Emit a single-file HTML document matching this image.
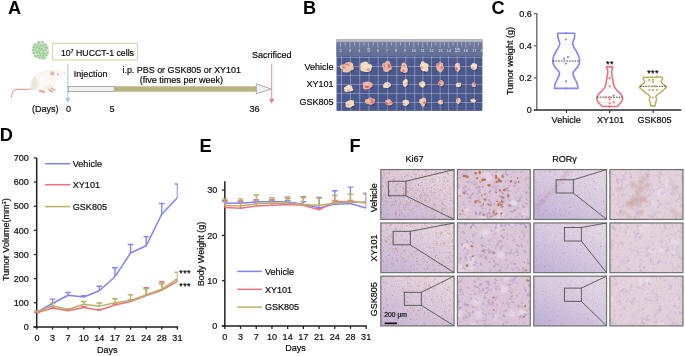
<!DOCTYPE html>
<html><head><meta charset="utf-8"><style>
html,body{margin:0;padding:0;background:#fff;width:685px;height:356px;overflow:hidden}
svg{display:block;will-change:transform;font-family:"Liberation Sans", sans-serif}
</style></head><body>
<svg width="685" height="356" viewBox="0 0 685 356">
<defs><filter id="cbl" x="-20%" y="-20%" width="140%" height="140%"><feGaussianBlur stdDeviation="0.45"/></filter></defs>
<text x="7.96" y="13.6" font-size="18.2" text-anchor="start" font-weight="bold" fill="#000"  >A</text>
<text x="302.9" y="13.6" font-size="18.2" text-anchor="start" font-weight="bold" fill="#000"  >B</text>
<text x="491.45" y="13.7" font-size="18.2" text-anchor="start" font-weight="bold" fill="#000"  >C</text>
<text x="-0.2" y="140.7" font-size="18.2" text-anchor="start" font-weight="bold" fill="#000"  >D</text>
<text x="199.5" y="151.7" font-size="18.2" text-anchor="start" font-weight="bold" fill="#000"  >E</text>
<text x="349.4" y="151.7" font-size="18.2" text-anchor="start" font-weight="bold" fill="#000"  >F</text>
<g filter="url(#cbl)">
<ellipse cx="40.6" cy="50.3" rx="8.4" ry="9.1" fill="#dcefd8"/>
<circle cx="38.7" cy="42.5" r="1.6" fill="#b4d9ac" opacity="0.9"/>
<circle cx="42.4" cy="42.0" r="1.6" fill="#b4d9ac" opacity="0.9"/>
<circle cx="34.9" cy="44.6" r="1.6" fill="#b4d9ac" opacity="0.9"/>
<circle cx="37.9" cy="45.6" r="1.6" fill="#b4d9ac" opacity="0.9"/>
<circle cx="40.7" cy="45.4" r="1.6" fill="#b4d9ac" opacity="0.9"/>
<circle cx="43.2" cy="45.4" r="1.6" fill="#b4d9ac" opacity="0.9"/>
<circle cx="45.5" cy="44.8" r="1.6" fill="#b4d9ac" opacity="0.9"/>
<circle cx="33.8" cy="47.2" r="1.6" fill="#b4d9ac" opacity="0.9"/>
<circle cx="36.3" cy="47.4" r="1.6" fill="#b4d9ac" opacity="0.9"/>
<circle cx="39.0" cy="48.1" r="1.6" fill="#b4d9ac" opacity="0.9"/>
<circle cx="41.6" cy="48.2" r="1.6" fill="#b4d9ac" opacity="0.9"/>
<circle cx="45.1" cy="47.2" r="1.6" fill="#b4d9ac" opacity="0.9"/>
<circle cx="47.2" cy="47.7" r="1.6" fill="#b4d9ac" opacity="0.9"/>
<circle cx="33.0" cy="49.8" r="1.6" fill="#b4d9ac" opacity="0.9"/>
<circle cx="35.3" cy="49.8" r="1.6" fill="#b4d9ac" opacity="0.9"/>
<circle cx="38.0" cy="50.8" r="1.6" fill="#b4d9ac" opacity="0.9"/>
<circle cx="40.2" cy="49.7" r="1.6" fill="#b4d9ac" opacity="0.9"/>
<circle cx="42.8" cy="50.3" r="1.6" fill="#b4d9ac" opacity="0.9"/>
<circle cx="45.4" cy="49.8" r="1.6" fill="#b4d9ac" opacity="0.9"/>
<circle cx="33.8" cy="52.8" r="1.6" fill="#b4d9ac" opacity="0.9"/>
<circle cx="36.7" cy="52.4" r="1.6" fill="#b4d9ac" opacity="0.9"/>
<circle cx="39.3" cy="52.5" r="1.6" fill="#b4d9ac" opacity="0.9"/>
<circle cx="42.1" cy="53.4" r="1.6" fill="#b4d9ac" opacity="0.9"/>
<circle cx="44.1" cy="53.0" r="1.6" fill="#b4d9ac" opacity="0.9"/>
<circle cx="47.5" cy="52.5" r="1.6" fill="#b4d9ac" opacity="0.9"/>
<circle cx="35.4" cy="56.0" r="1.6" fill="#b4d9ac" opacity="0.9"/>
<circle cx="37.6" cy="55.6" r="1.6" fill="#b4d9ac" opacity="0.9"/>
<circle cx="40.1" cy="55.3" r="1.6" fill="#b4d9ac" opacity="0.9"/>
<circle cx="43.5" cy="55.6" r="1.6" fill="#b4d9ac" opacity="0.9"/>
<circle cx="46.3" cy="55.0" r="1.6" fill="#b4d9ac" opacity="0.9"/>
<circle cx="39.3" cy="57.5" r="1.6" fill="#b4d9ac" opacity="0.9"/>
<circle cx="42.3" cy="57.9" r="1.6" fill="#b4d9ac" opacity="0.9"/>
<circle cx="44.6" cy="57.8" r="1.6" fill="#b4d9ac" opacity="0.9"/>
<circle cx="38.9" cy="42.7" r="0.75" fill="#86c07f" opacity="0.85"/>
<circle cx="42.6" cy="42.2" r="0.75" fill="#86c07f" opacity="0.85"/>
<circle cx="35.1" cy="44.8" r="0.75" fill="#86c07f" opacity="0.85"/>
<circle cx="38.1" cy="45.8" r="0.75" fill="#86c07f" opacity="0.85"/>
<circle cx="40.9" cy="45.6" r="0.75" fill="#86c07f" opacity="0.85"/>
<circle cx="43.4" cy="45.6" r="0.75" fill="#86c07f" opacity="0.85"/>
<circle cx="45.7" cy="45.0" r="0.75" fill="#86c07f" opacity="0.85"/>
<circle cx="34.0" cy="47.4" r="0.75" fill="#86c07f" opacity="0.85"/>
<circle cx="36.5" cy="47.6" r="0.75" fill="#86c07f" opacity="0.85"/>
<circle cx="39.2" cy="48.3" r="0.75" fill="#86c07f" opacity="0.85"/>
<circle cx="41.8" cy="48.4" r="0.75" fill="#86c07f" opacity="0.85"/>
<circle cx="45.3" cy="47.4" r="0.75" fill="#86c07f" opacity="0.85"/>
<circle cx="47.4" cy="47.9" r="0.75" fill="#86c07f" opacity="0.85"/>
<circle cx="33.2" cy="50.0" r="0.75" fill="#86c07f" opacity="0.85"/>
<circle cx="35.5" cy="50.0" r="0.75" fill="#86c07f" opacity="0.85"/>
<circle cx="38.2" cy="51.0" r="0.75" fill="#86c07f" opacity="0.85"/>
<circle cx="40.4" cy="49.9" r="0.75" fill="#86c07f" opacity="0.85"/>
<circle cx="43.0" cy="50.5" r="0.75" fill="#86c07f" opacity="0.85"/>
<circle cx="45.6" cy="50.0" r="0.75" fill="#86c07f" opacity="0.85"/>
<circle cx="34.0" cy="53.0" r="0.75" fill="#86c07f" opacity="0.85"/>
<circle cx="36.9" cy="52.6" r="0.75" fill="#86c07f" opacity="0.85"/>
<circle cx="39.5" cy="52.7" r="0.75" fill="#86c07f" opacity="0.85"/>
<circle cx="42.3" cy="53.6" r="0.75" fill="#86c07f" opacity="0.85"/>
<circle cx="44.3" cy="53.2" r="0.75" fill="#86c07f" opacity="0.85"/>
<circle cx="47.7" cy="52.7" r="0.75" fill="#86c07f" opacity="0.85"/>
<circle cx="35.6" cy="56.2" r="0.75" fill="#86c07f" opacity="0.85"/>
<circle cx="37.8" cy="55.8" r="0.75" fill="#86c07f" opacity="0.85"/>
<circle cx="40.3" cy="55.5" r="0.75" fill="#86c07f" opacity="0.85"/>
<circle cx="43.7" cy="55.8" r="0.75" fill="#86c07f" opacity="0.85"/>
<circle cx="46.5" cy="55.2" r="0.75" fill="#86c07f" opacity="0.85"/>
<circle cx="39.5" cy="57.7" r="0.75" fill="#86c07f" opacity="0.85"/>
<circle cx="42.5" cy="58.1" r="0.75" fill="#86c07f" opacity="0.85"/>
<circle cx="44.8" cy="58.0" r="0.75" fill="#86c07f" opacity="0.85"/>
</g>
<rect x="52.6" y="43.3" width="84.8" height="16.6" fill="#fff" stroke="#d9d6a8" stroke-width="1.1"/>
<text x="61" y="56" font-size="9.05" text-anchor="start" font-weight="normal" fill="#0d0d0d" stroke="#0d0d0d" stroke-width="0.2" textLength="73" lengthAdjust="spacingAndGlyphs">10<tspan font-size="5.6" dy="-3.4" dx="-0.2">7</tspan><tspan dy="3.4"> HUCCT-1 cells</tspan></text>
<g>
<path d="M32.5,88.8 C27,89.8 22,89.3 17.2,89.3 C13.8,89.4 11.9,91 11.4,97" fill="none" stroke="#dfa291" stroke-width="1.15" stroke-linecap="round"/>
<path d="M32.00,89.40 C30.53,88.40 31.07,85.80 31.20,84.00 C31.33,82.20 31.87,80.17 32.80,78.60 C33.73,77.03 35.27,75.63 36.80,74.60 C38.33,73.57 40.30,72.97 42.00,72.40 C43.70,71.83 45.50,71.48 47.00,71.20 C48.50,70.92 49.67,70.75 51.00,70.70 C52.33,70.65 53.67,70.73 55.00,70.90 C56.33,71.07 57.80,71.43 59.00,71.70 C60.20,71.97 61.28,72.25 62.20,72.50 C63.12,72.75 64.37,72.85 64.50,73.20 C64.63,73.55 63.75,74.15 63.00,74.60 C62.25,75.05 60.97,75.40 60.00,75.90 C59.03,76.40 57.93,76.88 57.20,77.60 C56.47,78.32 56.03,79.13 55.60,80.20 C55.17,81.27 55.10,82.80 54.60,84.00 C54.10,85.20 53.53,86.53 52.60,87.40 C51.67,88.27 51.10,88.77 49.00,89.20 C46.90,89.63 42.83,89.97 40.00,90.00 C37.17,90.03 33.47,90.40 32.00,89.40 Z" fill="#fbf9f6" stroke="#ece5dc" stroke-width="0.5"/>
<clipPath id="mclip"><path d="M32.00,89.40 C30.53,88.40 31.07,85.80 31.20,84.00 C31.33,82.20 31.87,80.17 32.80,78.60 C33.73,77.03 35.27,75.63 36.80,74.60 C38.33,73.57 40.30,72.97 42.00,72.40 C43.70,71.83 45.50,71.48 47.00,71.20 C48.50,70.92 49.67,70.75 51.00,70.70 C52.33,70.65 53.67,70.73 55.00,70.90 C56.33,71.07 57.80,71.43 59.00,71.70 C60.20,71.97 61.28,72.25 62.20,72.50 C63.12,72.75 64.37,72.85 64.50,73.20 C64.63,73.55 63.75,74.15 63.00,74.60 C62.25,75.05 60.97,75.40 60.00,75.90 C59.03,76.40 57.93,76.88 57.20,77.60 C56.47,78.32 56.03,79.13 55.60,80.20 C55.17,81.27 55.10,82.80 54.60,84.00 C54.10,85.20 53.53,86.53 52.60,87.40 C51.67,88.27 51.10,88.77 49.00,89.20 C46.90,89.63 42.83,89.97 40.00,90.00 C37.17,90.03 33.47,90.40 32.00,89.40 Z"/></clipPath>
<defs><filter id="mbl" x="-50%" y="-50%" width="200%" height="200%"><feGaussianBlur stdDeviation="1.6"/></filter></defs>
<g clip-path="url(#mclip)"><ellipse cx="34" cy="84" rx="4" ry="7" fill="#ebe3da" filter="url(#mbl)"/><ellipse cx="49" cy="88" rx="6" ry="2.5" fill="#efe9e2" filter="url(#mbl)"/></g>
<ellipse cx="52.3" cy="70.9" rx="1.7" ry="1.4" fill="#fdfcfa" stroke="#e9e2da" stroke-width="0.4"/>
<ellipse cx="52.3" cy="73.4" rx="2.0" ry="2.2" fill="#e8b3a6"/>
<circle cx="57.9" cy="74.2" r="0.65" fill="#c84848"/>
<circle cx="64.3" cy="73.1" r="0.6" fill="#eaa6a6"/>
<path d="M39.2,89.6 C41,90.2 43.5,90.6 45.6,91.6 L45,92.7 C42.5,92.5 40.5,92.2 39,91.4 Z" fill="#e0a794"/>
<path d="M48.8,88.6 C50.5,89.5 52,90.5 53.5,91.6 L52.8,92.8 C51,92.3 49.5,91.2 48.4,90.2 Z" fill="#e0a794"/>
<path d="M51.6,87.4 C53,88.1 54.6,89 55.6,90 L55,91 C53.5,90.4 52.3,89.6 51.2,88.7 Z" fill="#e0a794"/>
</g>
<line x1="67.8" y1="63.6" x2="67.8" y2="98.5" stroke="#b4cbee" stroke-width="1.1" />
<polygon points="65.3,97.7 70.3,97.7 67.8,102.7" fill="#a9c3ec"/>
<text x="73.8" y="77.2" font-size="9.05" text-anchor="start" font-weight="normal" fill="#0d0d0d" stroke="#0d0d0d" stroke-width="0.2" >Injection</text>
<text x="181.7" y="73.4" font-size="8.93" text-anchor="middle" font-weight="normal" fill="#0d0d0d" stroke="#0d0d0d" stroke-width="0.2" >i.p. PBS or GSK805 or XY101</text>
<text x="181.4" y="82.6" font-size="9.05" text-anchor="middle" font-weight="normal" fill="#0d0d0d" stroke="#0d0d0d" stroke-width="0.2" >(five times per week)</text>
<rect x="68.2" y="86.4" width="46" height="5.2" fill="#efefef" stroke="#9a9a9a" stroke-width="0.8"/>
<rect x="114.2" y="86.3" width="142.3" height="5.4" fill="#b8b37e"/>
<polygon points="256.3,86.4 256.3,83.9 271.2,89 256.3,93.6 256.3,91.6" fill="#f1f1f1" stroke="#9a9a9a" stroke-width="0.8"/>
<line x1="271.7" y1="64" x2="271.7" y2="99.5" stroke="#ec98a4" stroke-width="1.1" />
<polygon points="269.2,98.8 274.2,98.8 271.7,103.7" fill="#e2798a"/>
<text x="271.8" y="58.3" font-size="9.05" text-anchor="middle" font-weight="normal" fill="#0d0d0d" stroke="#0d0d0d" stroke-width="0.2" >Sacrificed</text>
<text x="32" y="111.5" font-size="9.05" text-anchor="start" font-weight="normal" fill="#0d0d0d" stroke="#0d0d0d" stroke-width="0.2" >(Days)</text>
<text x="68.4" y="111.5" font-size="9.05" text-anchor="middle" font-weight="normal" fill="#0d0d0d" stroke="#0d0d0d" stroke-width="0.2" >0</text>
<text x="112" y="111.5" font-size="9.05" text-anchor="middle" font-weight="normal" fill="#0d0d0d" stroke="#0d0d0d" stroke-width="0.2" >5</text>
<text x="254.6" y="111.5" font-size="9.05" text-anchor="middle" font-weight="normal" fill="#0d0d0d" stroke="#0d0d0d" stroke-width="0.2" >36</text>
<clipPath id="cpB"><rect x="336.3" y="39.2" width="146.3" height="71.7"/></clipPath>
<g clip-path="url(#cpB)">
<defs><linearGradient id="pbg" x1="0" y1="0" x2="1" y2="1"><stop offset="0" stop-color="#4d5a8f"/><stop offset="1" stop-color="#4a578c"/></linearGradient></defs>
<rect x="336.3" y="39.2" width="146.3" height="71.7" fill="url(#pbg)"/>
<defs><linearGradient id="rtop" x1="0" y1="0" x2="0" y2="1"><stop offset="0" stop-color="#c2c5cf"/><stop offset="1" stop-color="#a3a9ba"/></linearGradient></defs>
<rect x="336.3" y="39.2" width="146.3" height="3.4" fill="url(#rtop)"/>
<defs><linearGradient id="rbody" x1="0" y1="0" x2="0" y2="1"><stop offset="0" stop-color="#707b9c"/><stop offset="1" stop-color="#616e96"/></linearGradient></defs>
<rect x="336.3" y="42.5" width="146.3" height="13.9" fill="url(#rbody)"/>
<line x1="330.98749999999995" y1="42.5" x2="330.98749999999995" y2="47.400000000000006" stroke="#b8bfd2" stroke-width="0.7" />
<line x1="335.74375" y1="42.5" x2="335.74375" y2="45.6" stroke="#d4d8e4" stroke-width="0.6" />
<line x1="340.5" y1="42.5" x2="340.5" y2="47.400000000000006" stroke="#b8bfd2" stroke-width="0.7" />
<line x1="345.21875" y1="42.5" x2="345.21875" y2="45.6" stroke="#d4d8e4" stroke-width="0.6" />
<text x="340.5" y="52.400000000000006" font-size="4.0" text-anchor="middle" font-weight="normal" fill="#dde2ee"  >2</text>
<line x1="349.9375" y1="42.5" x2="349.9375" y2="47.400000000000006" stroke="#b8bfd2" stroke-width="0.7" />
<line x1="354.61875" y1="42.5" x2="354.61875" y2="45.6" stroke="#d4d8e4" stroke-width="0.6" />
<text x="349.9375" y="52.400000000000006" font-size="4.0" text-anchor="middle" font-weight="normal" fill="#dde2ee"  >3</text>
<line x1="359.3" y1="42.5" x2="359.3" y2="47.400000000000006" stroke="#b8bfd2" stroke-width="0.7" />
<line x1="363.94375" y1="42.5" x2="363.94375" y2="45.6" stroke="#d4d8e4" stroke-width="0.6" />
<text x="359.3" y="52.400000000000006" font-size="4.0" text-anchor="middle" font-weight="normal" fill="#dde2ee"  >4</text>
<line x1="368.58750000000003" y1="42.5" x2="368.58750000000003" y2="47.400000000000006" stroke="#b8bfd2" stroke-width="0.7" />
<line x1="373.19375" y1="42.5" x2="373.19375" y2="45.6" stroke="#d4d8e4" stroke-width="0.6" />
<text x="368.58750000000003" y="52.400000000000006" font-size="5.0" text-anchor="middle" font-weight="normal" fill="#dde2ee"  >5</text>
<line x1="377.79999999999995" y1="42.5" x2="377.79999999999995" y2="47.400000000000006" stroke="#b8bfd2" stroke-width="0.7" />
<line x1="382.36875" y1="42.5" x2="382.36875" y2="45.6" stroke="#d4d8e4" stroke-width="0.6" />
<text x="377.79999999999995" y="52.400000000000006" font-size="4.0" text-anchor="middle" font-weight="normal" fill="#dde2ee"  >6</text>
<line x1="386.9375" y1="42.5" x2="386.9375" y2="47.400000000000006" stroke="#b8bfd2" stroke-width="0.7" />
<line x1="391.46875" y1="42.5" x2="391.46875" y2="45.6" stroke="#d4d8e4" stroke-width="0.6" />
<text x="386.9375" y="52.400000000000006" font-size="4.0" text-anchor="middle" font-weight="normal" fill="#dde2ee"  >7</text>
<line x1="396.0" y1="42.5" x2="396.0" y2="47.400000000000006" stroke="#b8bfd2" stroke-width="0.7" />
<line x1="400.49375" y1="42.5" x2="400.49375" y2="45.6" stroke="#d4d8e4" stroke-width="0.6" />
<text x="396.0" y="52.400000000000006" font-size="4.0" text-anchor="middle" font-weight="normal" fill="#dde2ee"  >8</text>
<line x1="404.9875" y1="42.5" x2="404.9875" y2="47.400000000000006" stroke="#b8bfd2" stroke-width="0.7" />
<line x1="409.44375" y1="42.5" x2="409.44375" y2="45.6" stroke="#d4d8e4" stroke-width="0.6" />
<text x="404.9875" y="52.400000000000006" font-size="4.0" text-anchor="middle" font-weight="normal" fill="#dde2ee"  >9</text>
<line x1="413.90000000000003" y1="42.5" x2="413.90000000000003" y2="47.400000000000006" stroke="#b8bfd2" stroke-width="0.7" />
<line x1="418.31875" y1="42.5" x2="418.31875" y2="45.6" stroke="#d4d8e4" stroke-width="0.6" />
<text x="413.90000000000003" y="52.400000000000006" font-size="4.0" text-anchor="middle" font-weight="normal" fill="#dde2ee"  >10</text>
<line x1="422.73749999999995" y1="42.5" x2="422.73749999999995" y2="47.400000000000006" stroke="#b8bfd2" stroke-width="0.7" />
<line x1="427.11875" y1="42.5" x2="427.11875" y2="45.6" stroke="#d4d8e4" stroke-width="0.6" />
<text x="422.73749999999995" y="52.400000000000006" font-size="4.0" text-anchor="middle" font-weight="normal" fill="#dde2ee"  >11</text>
<line x1="431.5" y1="42.5" x2="431.5" y2="47.400000000000006" stroke="#b8bfd2" stroke-width="0.7" />
<line x1="435.84375" y1="42.5" x2="435.84375" y2="45.6" stroke="#d4d8e4" stroke-width="0.6" />
<text x="431.5" y="52.400000000000006" font-size="4.0" text-anchor="middle" font-weight="normal" fill="#dde2ee"  >12</text>
<line x1="440.1875" y1="42.5" x2="440.1875" y2="47.400000000000006" stroke="#b8bfd2" stroke-width="0.7" />
<line x1="444.49375" y1="42.5" x2="444.49375" y2="45.6" stroke="#d4d8e4" stroke-width="0.6" />
<text x="440.1875" y="52.400000000000006" font-size="4.0" text-anchor="middle" font-weight="normal" fill="#dde2ee"  >13</text>
<line x1="448.8" y1="42.5" x2="448.8" y2="47.400000000000006" stroke="#b8bfd2" stroke-width="0.7" />
<line x1="453.06875" y1="42.5" x2="453.06875" y2="45.6" stroke="#d4d8e4" stroke-width="0.6" />
<text x="448.8" y="52.400000000000006" font-size="4.0" text-anchor="middle" font-weight="normal" fill="#dde2ee"  >14</text>
<line x1="457.33750000000003" y1="42.5" x2="457.33750000000003" y2="47.400000000000006" stroke="#b8bfd2" stroke-width="0.7" />
<line x1="461.56875" y1="42.5" x2="461.56875" y2="45.6" stroke="#d4d8e4" stroke-width="0.6" />
<text x="457.33750000000003" y="52.400000000000006" font-size="5.0" text-anchor="middle" font-weight="normal" fill="#dde2ee"  >15</text>
<line x1="465.79999999999995" y1="42.5" x2="465.79999999999995" y2="47.400000000000006" stroke="#b8bfd2" stroke-width="0.7" />
<line x1="469.99375" y1="42.5" x2="469.99375" y2="45.6" stroke="#d4d8e4" stroke-width="0.6" />
<text x="465.79999999999995" y="52.400000000000006" font-size="4.0" text-anchor="middle" font-weight="normal" fill="#dde2ee"  >16</text>
<line x1="474.1875" y1="42.5" x2="474.1875" y2="47.400000000000006" stroke="#b8bfd2" stroke-width="0.7" />
<line x1="478.34375" y1="42.5" x2="478.34375" y2="45.6" stroke="#d4d8e4" stroke-width="0.6" />
<text x="474.1875" y="52.400000000000006" font-size="4.0" text-anchor="middle" font-weight="normal" fill="#dde2ee"  >17</text>
<line x1="482.5" y1="42.5" x2="482.5" y2="47.400000000000006" stroke="#b8bfd2" stroke-width="0.7" />
<line x1="486.61875" y1="42.5" x2="486.61875" y2="45.6" stroke="#d4d8e4" stroke-width="0.6" />
<text x="482.5" y="52.400000000000006" font-size="4.0" text-anchor="middle" font-weight="normal" fill="#dde2ee"  >18</text>
<line x1="341.5" y1="56.400000000000006" x2="341.5" y2="110.9" stroke="#c4cbe0" stroke-width="0.6" opacity="0.8"/>
<line x1="350.6" y1="56.400000000000006" x2="350.6" y2="110.9" stroke="#c4cbe0" stroke-width="0.6" opacity="0.8"/>
<line x1="359.7" y1="56.400000000000006" x2="359.7" y2="110.9" stroke="#c4cbe0" stroke-width="0.6" opacity="0.8"/>
<line x1="369" y1="56.400000000000006" x2="369" y2="110.9" stroke="#c4cbe0" stroke-width="0.6" opacity="0.8"/>
<line x1="378.2" y1="56.400000000000006" x2="378.2" y2="110.9" stroke="#c4cbe0" stroke-width="0.6" opacity="0.8"/>
<line x1="387.3" y1="56.400000000000006" x2="387.3" y2="110.9" stroke="#c4cbe0" stroke-width="0.6" opacity="0.8"/>
<line x1="396.7" y1="56.400000000000006" x2="396.7" y2="110.9" stroke="#c4cbe0" stroke-width="0.6" opacity="0.8"/>
<line x1="405.7" y1="56.400000000000006" x2="405.7" y2="110.9" stroke="#c4cbe0" stroke-width="0.6" opacity="0.8"/>
<line x1="414.7" y1="56.400000000000006" x2="414.7" y2="110.9" stroke="#c4cbe0" stroke-width="0.6" opacity="0.8"/>
<line x1="422.9" y1="56.400000000000006" x2="422.9" y2="110.9" stroke="#c4cbe0" stroke-width="0.6" opacity="0.8"/>
<line x1="431.6" y1="56.400000000000006" x2="431.6" y2="110.9" stroke="#c4cbe0" stroke-width="0.6" opacity="0.8"/>
<line x1="440.2" y1="56.400000000000006" x2="440.2" y2="110.9" stroke="#c4cbe0" stroke-width="0.6" opacity="0.8"/>
<line x1="448.6" y1="56.400000000000006" x2="448.6" y2="110.9" stroke="#c4cbe0" stroke-width="0.6" opacity="0.8"/>
<line x1="457.2" y1="56.400000000000006" x2="457.2" y2="110.9" stroke="#c4cbe0" stroke-width="0.6" opacity="0.8"/>
<line x1="465.9" y1="56.400000000000006" x2="465.9" y2="110.9" stroke="#c4cbe0" stroke-width="0.6" opacity="0.8"/>
<line x1="474.3" y1="56.400000000000006" x2="474.3" y2="110.9" stroke="#c4cbe0" stroke-width="0.6" opacity="0.8"/>
<line x1="336.3" y1="57.4" x2="482.6" y2="57.4" stroke="#c4cbe0" stroke-width="0.6" opacity="0.8"/>
<line x1="336.3" y1="66.5" x2="482.6" y2="66.5" stroke="#c4cbe0" stroke-width="0.6" opacity="0.8"/>
<line x1="336.3" y1="75.7" x2="482.6" y2="75.7" stroke="#c4cbe0" stroke-width="0.6" opacity="0.8"/>
<line x1="336.3" y1="84.7" x2="482.6" y2="84.7" stroke="#c4cbe0" stroke-width="0.6" opacity="0.8"/>
<line x1="336.3" y1="93.6" x2="482.6" y2="93.6" stroke="#c4cbe0" stroke-width="0.6" opacity="0.8"/>
<line x1="336.3" y1="102.6" x2="482.6" y2="102.6" stroke="#c4cbe0" stroke-width="0.6" opacity="0.8"/>
</g>
<defs><filter id="tbl" x="-30%" y="-30%" width="160%" height="160%"><feGaussianBlur stdDeviation="0.45"/></filter></defs>
<g filter="url(#tbl)">
<ellipse cx="348.29999999999995" cy="68.5" rx="6.2" ry="5.0" fill="#26305a" opacity="0.4"/>
<ellipse cx="347.4" cy="67.5" rx="5.0" ry="4.0" fill="#f0c6b0"/>
<ellipse cx="350.9" cy="68.0" rx="2.9" ry="2.3" fill="#f0c6b0"/>
<ellipse cx="347.6" cy="70.5" rx="2.5" ry="2.0" fill="#f0c6b0"/>
<ellipse cx="345.3" cy="70.3" rx="2.8" ry="2.2" fill="#f0c6b0"/>
<ellipse cx="343.0" cy="66.8" rx="3.1" ry="2.4" fill="#f0c6b0"/>
<ellipse cx="347.9" cy="64.8" rx="3.3" ry="2.6" fill="#f0c6b0"/>
<ellipse cx="349.6" cy="65.1" rx="3.6" ry="2.9" fill="#f0c6b0"/>
<ellipse cx="344.3" cy="67.1" rx="2.3" ry="1.5" fill="#dc5a58" opacity="0.65"/>
<ellipse cx="347.2" cy="65.0" rx="2.3" ry="1.5" fill="#dc5a58" opacity="0.65"/>
<ellipse cx="346.4" cy="66.4" rx="2.1" ry="1.4" fill="#fbf0e0" opacity="0.55"/>
<ellipse cx="367.2" cy="68.6" rx="5.6" ry="5.3" fill="#26305a" opacity="0.4"/>
<ellipse cx="366.3" cy="67.6" rx="4.5" ry="4.3" fill="#f2dcc2"/>
<ellipse cx="368.3" cy="68.7" rx="3.1" ry="3.0" fill="#f2dcc2"/>
<ellipse cx="366.4" cy="70.2" rx="2.2" ry="2.1" fill="#f2dcc2"/>
<ellipse cx="363.4" cy="68.6" rx="3.1" ry="2.9" fill="#f2dcc2"/>
<ellipse cx="363.6" cy="65.4" rx="3.3" ry="3.2" fill="#f2dcc2"/>
<ellipse cx="365.5" cy="64.2" rx="2.8" ry="2.6" fill="#f2dcc2"/>
<ellipse cx="370.0" cy="66.5" rx="2.3" ry="2.2" fill="#f2dcc2"/>
<ellipse cx="368.2" cy="69.6" rx="2.1" ry="1.7" fill="#dc5a58" opacity="0.4"/>
<ellipse cx="365.4" cy="66.4" rx="1.9" ry="1.5" fill="#fbf0e0" opacity="0.55"/>
<ellipse cx="387.9" cy="68.2" rx="4.2" ry="5.1" fill="#26305a" opacity="0.4"/>
<ellipse cx="387.0" cy="67.2" rx="3.3" ry="4.1" fill="#ebb2a2"/>
<ellipse cx="389.9" cy="67.8" rx="2.0" ry="2.5" fill="#ebb2a2"/>
<ellipse cx="387.0" cy="69.7" rx="2.1" ry="2.6" fill="#ebb2a2"/>
<ellipse cx="385.4" cy="69.0" rx="2.2" ry="2.7" fill="#ebb2a2"/>
<ellipse cx="384.4" cy="65.6" rx="2.2" ry="2.8" fill="#ebb2a2"/>
<ellipse cx="387.6" cy="63.8" rx="2.5" ry="3.1" fill="#ebb2a2"/>
<ellipse cx="388.6" cy="66.1" rx="2.4" ry="3.0" fill="#ebb2a2"/>
<ellipse cx="389.0" cy="66.6" rx="1.5" ry="1.6" fill="#dc5a58" opacity="0.65"/>
<ellipse cx="388.7" cy="65.7" rx="1.5" ry="1.6" fill="#dc5a58" opacity="0.65"/>
<ellipse cx="385.1" cy="66.1" rx="1.5" ry="1.6" fill="#dc5a58" opacity="0.65"/>
<ellipse cx="386.3" cy="66.1" rx="1.4" ry="1.4" fill="#fbf0e0" opacity="0.55"/>
<ellipse cx="405.2" cy="69.6" rx="3.7" ry="5.0" fill="#26305a" opacity="0.4"/>
<ellipse cx="404.3" cy="68.6" rx="2.9" ry="4.0" fill="#f0c6b0"/>
<ellipse cx="405.7" cy="69.8" rx="2.1" ry="2.8" fill="#f0c6b0"/>
<ellipse cx="404.4" cy="71.0" rx="1.5" ry="2.0" fill="#f0c6b0"/>
<ellipse cx="401.8" cy="69.9" rx="1.5" ry="2.0" fill="#f0c6b0"/>
<ellipse cx="402.8" cy="67.0" rx="1.5" ry="2.1" fill="#f0c6b0"/>
<ellipse cx="403.6" cy="65.5" rx="2.1" ry="2.9" fill="#f0c6b0"/>
<ellipse cx="405.4" cy="66.1" rx="1.5" ry="2.0" fill="#f0c6b0"/>
<ellipse cx="403.9" cy="66.2" rx="1.3" ry="1.5" fill="#dc5a58" opacity="0.65"/>
<ellipse cx="403.4" cy="70.8" rx="1.3" ry="1.5" fill="#dc5a58" opacity="0.65"/>
<ellipse cx="403.7" cy="67.5" rx="1.2" ry="1.4" fill="#fbf0e0" opacity="0.55"/>
<ellipse cx="424.9" cy="67.8" rx="4.2" ry="5.2" fill="#26305a" opacity="0.4"/>
<ellipse cx="424.0" cy="66.8" rx="3.3" ry="4.2" fill="#f2dcc2"/>
<ellipse cx="426.3" cy="69.2" rx="2.1" ry="2.6" fill="#f2dcc2"/>
<ellipse cx="423.4" cy="69.3" rx="1.7" ry="2.1" fill="#f2dcc2"/>
<ellipse cx="422.6" cy="67.9" rx="1.8" ry="2.3" fill="#f2dcc2"/>
<ellipse cx="421.7" cy="65.8" rx="1.8" ry="2.2" fill="#f2dcc2"/>
<ellipse cx="422.7" cy="63.7" rx="1.9" ry="2.4" fill="#f2dcc2"/>
<ellipse cx="426.7" cy="65.8" rx="2.0" ry="2.5" fill="#f2dcc2"/>
<ellipse cx="422.0" cy="67.4" rx="1.5" ry="1.6" fill="#dc5a58" opacity="0.4"/>
<ellipse cx="423.3" cy="65.6" rx="1.4" ry="1.5" fill="#fbf0e0" opacity="0.55"/>
<ellipse cx="441.09999999999997" cy="67.6" rx="3.7" ry="5.0" fill="#26305a" opacity="0.4"/>
<ellipse cx="440.2" cy="66.6" rx="2.9" ry="4.0" fill="#ebb2a2"/>
<ellipse cx="442.2" cy="67.8" rx="1.9" ry="2.6" fill="#ebb2a2"/>
<ellipse cx="440.4" cy="69.6" rx="2.2" ry="3.0" fill="#ebb2a2"/>
<ellipse cx="438.6" cy="68.2" rx="2.0" ry="2.8" fill="#ebb2a2"/>
<ellipse cx="438.4" cy="66.1" rx="2.2" ry="3.1" fill="#ebb2a2"/>
<ellipse cx="440.0" cy="63.7" rx="1.4" ry="2.0" fill="#ebb2a2"/>
<ellipse cx="441.8" cy="64.7" rx="1.4" ry="2.0" fill="#ebb2a2"/>
<ellipse cx="438.8" cy="64.9" rx="1.3" ry="1.6" fill="#dc5a58" opacity="0.65"/>
<ellipse cx="439.0" cy="64.7" rx="1.3" ry="1.6" fill="#dc5a58" opacity="0.65"/>
<ellipse cx="441.9" cy="67.5" rx="1.3" ry="1.6" fill="#dc5a58" opacity="0.65"/>
<ellipse cx="439.6" cy="65.5" rx="1.2" ry="1.4" fill="#fbf0e0" opacity="0.55"/>
<ellipse cx="458.29999999999995" cy="68.0" rx="3.0" ry="4.4" fill="#26305a" opacity="0.4"/>
<ellipse cx="457.4" cy="67.0" rx="2.4" ry="3.5" fill="#f0c6b0"/>
<ellipse cx="458.8" cy="68.1" rx="1.6" ry="2.4" fill="#f0c6b0"/>
<ellipse cx="457.8" cy="69.6" rx="1.6" ry="2.4" fill="#f0c6b0"/>
<ellipse cx="456.8" cy="68.5" rx="1.6" ry="2.3" fill="#f0c6b0"/>
<ellipse cx="456.4" cy="65.6" rx="1.5" ry="2.1" fill="#f0c6b0"/>
<ellipse cx="457.3" cy="64.8" rx="1.4" ry="2.0" fill="#f0c6b0"/>
<ellipse cx="458.5" cy="65.4" rx="1.5" ry="2.3" fill="#f0c6b0"/>
<ellipse cx="456.9" cy="69.1" rx="1.1" ry="1.4" fill="#dc5a58" opacity="0.65"/>
<ellipse cx="456.3" cy="68.5" rx="1.1" ry="1.4" fill="#dc5a58" opacity="0.65"/>
<ellipse cx="456.9" cy="66.0" rx="1.0" ry="1.2" fill="#fbf0e0" opacity="0.55"/>
<ellipse cx="474.9" cy="67.8" rx="3.4" ry="3.7" fill="#26305a" opacity="0.4"/>
<ellipse cx="474.0" cy="66.8" rx="2.7" ry="2.9" fill="#f2dcc2"/>
<ellipse cx="475.1" cy="67.6" rx="1.7" ry="1.9" fill="#f2dcc2"/>
<ellipse cx="473.9" cy="68.6" rx="1.5" ry="1.6" fill="#f2dcc2"/>
<ellipse cx="472.6" cy="67.5" rx="1.4" ry="1.6" fill="#f2dcc2"/>
<ellipse cx="472.0" cy="66.0" rx="1.4" ry="1.5" fill="#f2dcc2"/>
<ellipse cx="473.6" cy="65.0" rx="1.9" ry="2.1" fill="#f2dcc2"/>
<ellipse cx="475.7" cy="65.2" rx="1.4" ry="1.6" fill="#f2dcc2"/>
<ellipse cx="473.1" cy="68.4" rx="1.2" ry="1.1" fill="#dc5a58" opacity="0.4"/>
<ellipse cx="473.4" cy="66.0" rx="1.1" ry="1.0" fill="#fbf0e0" opacity="0.55"/>
<ellipse cx="349.5" cy="89.5" rx="4.4" ry="3.4" fill="#26305a" opacity="0.4"/>
<ellipse cx="348.6" cy="88.5" rx="3.5" ry="2.7" fill="#f2dcc2"/>
<ellipse cx="351.2" cy="89.6" rx="2.1" ry="1.6" fill="#f2dcc2"/>
<ellipse cx="349.2" cy="89.9" rx="2.2" ry="1.7" fill="#f2dcc2"/>
<ellipse cx="346.8" cy="90.2" rx="2.5" ry="1.9" fill="#f2dcc2"/>
<ellipse cx="346.5" cy="88.3" rx="2.5" ry="1.9" fill="#f2dcc2"/>
<ellipse cx="348.6" cy="86.3" rx="2.0" ry="1.6" fill="#f2dcc2"/>
<ellipse cx="349.8" cy="87.2" rx="2.5" ry="1.9" fill="#f2dcc2"/>
<ellipse cx="348.3" cy="90.2" rx="1.6" ry="1.0" fill="#dc5a58" opacity="0.4"/>
<ellipse cx="347.9" cy="87.8" rx="1.5" ry="0.9" fill="#fbf0e0" opacity="0.55"/>
<ellipse cx="368.4" cy="86.2" rx="5.0" ry="3.6" fill="#26305a" opacity="0.4"/>
<ellipse cx="367.5" cy="85.2" rx="4.0" ry="2.9" fill="#ebb2a2"/>
<ellipse cx="370.0" cy="85.7" rx="2.4" ry="1.7" fill="#ebb2a2"/>
<ellipse cx="368.2" cy="87.6" rx="2.1" ry="1.5" fill="#ebb2a2"/>
<ellipse cx="365.8" cy="87.4" rx="2.9" ry="2.1" fill="#ebb2a2"/>
<ellipse cx="365.6" cy="83.9" rx="3.0" ry="2.1" fill="#ebb2a2"/>
<ellipse cx="368.0" cy="83.6" rx="2.7" ry="2.0" fill="#ebb2a2"/>
<ellipse cx="370.3" cy="84.4" rx="2.5" ry="1.8" fill="#ebb2a2"/>
<ellipse cx="366.9" cy="86.9" rx="1.8" ry="1.1" fill="#dc5a58" opacity="0.65"/>
<ellipse cx="366.2" cy="86.7" rx="1.8" ry="1.1" fill="#dc5a58" opacity="0.65"/>
<ellipse cx="367.9" cy="87.0" rx="1.8" ry="1.1" fill="#dc5a58" opacity="0.65"/>
<ellipse cx="366.7" cy="84.4" rx="1.6" ry="1.0" fill="#fbf0e0" opacity="0.55"/>
<ellipse cx="388.09999999999997" cy="86.0" rx="3.6" ry="3.4" fill="#26305a" opacity="0.4"/>
<ellipse cx="387.2" cy="85.0" rx="2.9" ry="2.7" fill="#f2dcc2"/>
<ellipse cx="389.3" cy="85.1" rx="1.6" ry="1.5" fill="#f2dcc2"/>
<ellipse cx="387.0" cy="86.3" rx="2.1" ry="2.0" fill="#f2dcc2"/>
<ellipse cx="385.0" cy="86.1" rx="2.1" ry="2.0" fill="#f2dcc2"/>
<ellipse cx="385.6" cy="83.7" rx="1.4" ry="1.3" fill="#f2dcc2"/>
<ellipse cx="387.3" cy="83.5" rx="1.6" ry="1.5" fill="#f2dcc2"/>
<ellipse cx="388.9" cy="84.1" rx="1.7" ry="1.6" fill="#f2dcc2"/>
<ellipse cx="388.9" cy="84.4" rx="1.3" ry="1.0" fill="#dc5a58" opacity="0.4"/>
<ellipse cx="386.6" cy="84.3" rx="1.2" ry="0.9" fill="#fbf0e0" opacity="0.55"/>
<ellipse cx="406.2" cy="84.1" rx="2.8" ry="3.5" fill="#26305a" opacity="0.4"/>
<ellipse cx="405.3" cy="83.1" rx="2.2" ry="2.8" fill="#f2dcc2"/>
<ellipse cx="406.5" cy="83.9" rx="1.2" ry="1.5" fill="#f2dcc2"/>
<ellipse cx="405.1" cy="85.0" rx="1.6" ry="1.9" fill="#f2dcc2"/>
<ellipse cx="404.4" cy="84.2" rx="1.4" ry="1.8" fill="#f2dcc2"/>
<ellipse cx="404.3" cy="82.2" rx="1.6" ry="2.0" fill="#f2dcc2"/>
<ellipse cx="405.7" cy="80.9" rx="1.6" ry="2.0" fill="#f2dcc2"/>
<ellipse cx="406.1" cy="81.3" rx="1.6" ry="2.0" fill="#f2dcc2"/>
<ellipse cx="406.6" cy="83.6" rx="1.0" ry="1.1" fill="#dc5a58" opacity="0.4"/>
<ellipse cx="404.8" cy="82.3" rx="0.9" ry="1.0" fill="#fbf0e0" opacity="0.55"/>
<ellipse cx="423.2" cy="85.2" rx="3.3" ry="3.3" fill="#26305a" opacity="0.4"/>
<ellipse cx="422.3" cy="84.2" rx="2.6" ry="2.6" fill="#f2dcc2"/>
<ellipse cx="423.8" cy="84.5" rx="1.7" ry="1.7" fill="#f2dcc2"/>
<ellipse cx="422.6" cy="86.0" rx="1.8" ry="1.8" fill="#f2dcc2"/>
<ellipse cx="421.6" cy="85.4" rx="1.4" ry="1.4" fill="#f2dcc2"/>
<ellipse cx="421.0" cy="84.1" rx="2.0" ry="2.0" fill="#f2dcc2"/>
<ellipse cx="422.5" cy="82.9" rx="1.6" ry="1.6" fill="#f2dcc2"/>
<ellipse cx="423.4" cy="83.0" rx="1.5" ry="1.5" fill="#f2dcc2"/>
<ellipse cx="421.3" cy="82.9" rx="1.2" ry="1.0" fill="#dc5a58" opacity="0.4"/>
<ellipse cx="421.8" cy="83.5" rx="1.1" ry="0.9" fill="#fbf0e0" opacity="0.55"/>
<ellipse cx="442.0" cy="84.5" rx="2.8" ry="3.2" fill="#26305a" opacity="0.4"/>
<ellipse cx="441.1" cy="83.5" rx="2.2" ry="2.5" fill="#ebb2a2"/>
<ellipse cx="442.4" cy="84.2" rx="1.2" ry="1.4" fill="#ebb2a2"/>
<ellipse cx="441.4" cy="84.8" rx="1.4" ry="1.6" fill="#ebb2a2"/>
<ellipse cx="439.8" cy="84.2" rx="1.1" ry="1.3" fill="#ebb2a2"/>
<ellipse cx="439.7" cy="83.3" rx="1.5" ry="1.7" fill="#ebb2a2"/>
<ellipse cx="441.2" cy="81.9" rx="1.6" ry="1.8" fill="#ebb2a2"/>
<ellipse cx="442.4" cy="82.6" rx="1.3" ry="1.5" fill="#ebb2a2"/>
<ellipse cx="439.7" cy="83.5" rx="1.0" ry="1.0" fill="#dc5a58" opacity="0.65"/>
<ellipse cx="440.7" cy="82.0" rx="1.0" ry="1.0" fill="#dc5a58" opacity="0.65"/>
<ellipse cx="439.9" cy="84.3" rx="1.0" ry="1.0" fill="#dc5a58" opacity="0.65"/>
<ellipse cx="440.6" cy="82.8" rx="0.9" ry="0.9" fill="#fbf0e0" opacity="0.55"/>
<ellipse cx="459.4" cy="86.0" rx="2.8" ry="2.2" fill="#26305a" opacity="0.4"/>
<ellipse cx="458.5" cy="85.0" rx="2.2" ry="1.7" fill="#f2dcc2"/>
<ellipse cx="459.8" cy="85.6" rx="1.2" ry="1.0" fill="#f2dcc2"/>
<ellipse cx="458.7" cy="86.3" rx="1.1" ry="0.9" fill="#f2dcc2"/>
<ellipse cx="457.4" cy="85.8" rx="1.6" ry="1.3" fill="#f2dcc2"/>
<ellipse cx="457.5" cy="84.2" rx="1.6" ry="1.3" fill="#f2dcc2"/>
<ellipse cx="458.6" cy="84.0" rx="1.4" ry="1.1" fill="#f2dcc2"/>
<ellipse cx="459.6" cy="83.8" rx="1.5" ry="1.2" fill="#f2dcc2"/>
<ellipse cx="459.6" cy="84.3" rx="1.0" ry="0.7" fill="#dc5a58" opacity="0.4"/>
<ellipse cx="458.0" cy="84.5" rx="0.9" ry="0.6" fill="#fbf0e0" opacity="0.55"/>
<ellipse cx="474.5" cy="85.6" rx="2.3" ry="2.6" fill="#26305a" opacity="0.4"/>
<ellipse cx="473.6" cy="84.6" rx="1.8" ry="2.1" fill="#ebb2a2"/>
<ellipse cx="474.7" cy="85.5" rx="1.3" ry="1.4" fill="#ebb2a2"/>
<ellipse cx="473.7" cy="85.7" rx="1.2" ry="1.3" fill="#ebb2a2"/>
<ellipse cx="473.1" cy="85.6" rx="1.3" ry="1.4" fill="#ebb2a2"/>
<ellipse cx="472.6" cy="84.6" rx="0.9" ry="1.1" fill="#ebb2a2"/>
<ellipse cx="473.8" cy="83.5" rx="0.9" ry="1.0" fill="#ebb2a2"/>
<ellipse cx="474.5" cy="84.2" rx="1.3" ry="1.5" fill="#ebb2a2"/>
<ellipse cx="473.1" cy="83.5" rx="0.8" ry="0.8" fill="#dc5a58" opacity="0.65"/>
<ellipse cx="474.2" cy="83.5" rx="0.8" ry="0.8" fill="#dc5a58" opacity="0.65"/>
<ellipse cx="474.7" cy="84.2" rx="0.8" ry="0.8" fill="#dc5a58" opacity="0.65"/>
<ellipse cx="473.2" cy="84.0" rx="0.8" ry="0.7" fill="#fbf0e0" opacity="0.55"/>
<ellipse cx="350.9" cy="104.5" rx="4.5" ry="3.7" fill="#26305a" opacity="0.4"/>
<ellipse cx="350.0" cy="103.5" rx="3.6" ry="2.9" fill="#f2dcc2"/>
<ellipse cx="352.6" cy="104.6" rx="1.8" ry="1.5" fill="#f2dcc2"/>
<ellipse cx="349.8" cy="105.5" rx="2.4" ry="2.0" fill="#f2dcc2"/>
<ellipse cx="348.4" cy="105.4" rx="2.7" ry="2.2" fill="#f2dcc2"/>
<ellipse cx="347.8" cy="103.4" rx="2.3" ry="1.9" fill="#f2dcc2"/>
<ellipse cx="350.3" cy="101.8" rx="1.9" ry="1.6" fill="#f2dcc2"/>
<ellipse cx="351.7" cy="101.9" rx="2.5" ry="2.0" fill="#f2dcc2"/>
<ellipse cx="348.3" cy="104.6" rx="1.6" ry="1.1" fill="#dc5a58" opacity="0.4"/>
<ellipse cx="349.3" cy="102.7" rx="1.5" ry="1.0" fill="#fbf0e0" opacity="0.55"/>
<ellipse cx="371.2" cy="102.4" rx="4.7" ry="3.7" fill="#26305a" opacity="0.4"/>
<ellipse cx="370.3" cy="101.4" rx="3.7" ry="2.9" fill="#ebb2a2"/>
<ellipse cx="372.6" cy="102.0" rx="2.2" ry="1.7" fill="#ebb2a2"/>
<ellipse cx="370.7" cy="102.9" rx="2.3" ry="1.8" fill="#ebb2a2"/>
<ellipse cx="367.9" cy="101.9" rx="2.6" ry="2.0" fill="#ebb2a2"/>
<ellipse cx="367.4" cy="101.1" rx="2.6" ry="2.0" fill="#ebb2a2"/>
<ellipse cx="370.3" cy="99.3" rx="2.3" ry="1.8" fill="#ebb2a2"/>
<ellipse cx="373.1" cy="100.1" rx="2.0" ry="1.5" fill="#ebb2a2"/>
<ellipse cx="372.2" cy="102.4" rx="1.7" ry="1.1" fill="#dc5a58" opacity="0.65"/>
<ellipse cx="370.3" cy="99.6" rx="1.7" ry="1.1" fill="#dc5a58" opacity="0.65"/>
<ellipse cx="372.3" cy="100.5" rx="1.7" ry="1.1" fill="#dc5a58" opacity="0.65"/>
<ellipse cx="369.5" cy="100.6" rx="1.6" ry="1.0" fill="#fbf0e0" opacity="0.55"/>
<ellipse cx="389.7" cy="103.6" rx="3.6" ry="3.4" fill="#26305a" opacity="0.4"/>
<ellipse cx="388.8" cy="102.6" rx="2.9" ry="2.7" fill="#ebb2a2"/>
<ellipse cx="390.6" cy="103.3" rx="2.0" ry="1.8" fill="#ebb2a2"/>
<ellipse cx="389.4" cy="104.1" rx="1.5" ry="1.5" fill="#ebb2a2"/>
<ellipse cx="387.3" cy="103.5" rx="1.6" ry="1.5" fill="#ebb2a2"/>
<ellipse cx="386.7" cy="101.4" rx="1.6" ry="1.5" fill="#ebb2a2"/>
<ellipse cx="388.9" cy="100.8" rx="2.1" ry="1.9" fill="#ebb2a2"/>
<ellipse cx="390.2" cy="101.7" rx="1.6" ry="1.5" fill="#ebb2a2"/>
<ellipse cx="390.6" cy="102.8" rx="1.3" ry="1.0" fill="#dc5a58" opacity="0.65"/>
<ellipse cx="387.0" cy="102.8" rx="1.3" ry="1.0" fill="#dc5a58" opacity="0.65"/>
<ellipse cx="387.5" cy="103.7" rx="1.3" ry="1.0" fill="#dc5a58" opacity="0.65"/>
<ellipse cx="388.2" cy="101.9" rx="1.2" ry="0.9" fill="#fbf0e0" opacity="0.55"/>
<ellipse cx="406.59999999999997" cy="104.0" rx="3.2" ry="3.0" fill="#26305a" opacity="0.4"/>
<ellipse cx="405.7" cy="103.0" rx="2.5" ry="2.4" fill="#f2dcc2"/>
<ellipse cx="407.3" cy="103.2" rx="1.5" ry="1.4" fill="#f2dcc2"/>
<ellipse cx="405.6" cy="104.3" rx="1.9" ry="1.8" fill="#f2dcc2"/>
<ellipse cx="404.2" cy="104.1" rx="1.6" ry="1.5" fill="#f2dcc2"/>
<ellipse cx="404.0" cy="101.8" rx="1.6" ry="1.5" fill="#f2dcc2"/>
<ellipse cx="405.4" cy="101.1" rx="1.8" ry="1.7" fill="#f2dcc2"/>
<ellipse cx="407.2" cy="101.7" rx="1.9" ry="1.8" fill="#f2dcc2"/>
<ellipse cx="404.1" cy="103.3" rx="1.2" ry="0.9" fill="#dc5a58" opacity="0.4"/>
<ellipse cx="405.2" cy="102.3" rx="1.1" ry="0.8" fill="#fbf0e0" opacity="0.55"/>
<ellipse cx="424.0" cy="102.6" rx="3.4" ry="4.0" fill="#26305a" opacity="0.4"/>
<ellipse cx="423.1" cy="101.6" rx="2.7" ry="3.2" fill="#f0c6b0"/>
<ellipse cx="424.6" cy="101.9" rx="1.8" ry="2.2" fill="#f0c6b0"/>
<ellipse cx="423.1" cy="104.4" rx="1.9" ry="2.3" fill="#f0c6b0"/>
<ellipse cx="422.1" cy="103.0" rx="1.5" ry="1.8" fill="#f0c6b0"/>
<ellipse cx="421.0" cy="101.2" rx="2.0" ry="2.3" fill="#f0c6b0"/>
<ellipse cx="423.4" cy="99.8" rx="2.0" ry="2.3" fill="#f0c6b0"/>
<ellipse cx="424.3" cy="100.1" rx="1.9" ry="2.2" fill="#f0c6b0"/>
<ellipse cx="424.5" cy="102.6" rx="1.2" ry="1.2" fill="#dc5a58" opacity="0.65"/>
<ellipse cx="424.5" cy="102.7" rx="1.2" ry="1.2" fill="#dc5a58" opacity="0.65"/>
<ellipse cx="422.5" cy="100.7" rx="1.1" ry="1.1" fill="#fbf0e0" opacity="0.55"/>
<ellipse cx="441.7" cy="103.2" rx="2.6" ry="2.4" fill="#26305a" opacity="0.4"/>
<ellipse cx="440.8" cy="102.2" rx="2.1" ry="1.9" fill="#f0c6b0"/>
<ellipse cx="441.8" cy="102.9" rx="1.2" ry="1.1" fill="#f0c6b0"/>
<ellipse cx="440.9" cy="103.7" rx="1.0" ry="0.9" fill="#f0c6b0"/>
<ellipse cx="439.8" cy="103.1" rx="1.3" ry="1.2" fill="#f0c6b0"/>
<ellipse cx="439.3" cy="102.0" rx="1.5" ry="1.4" fill="#f0c6b0"/>
<ellipse cx="440.5" cy="100.9" rx="1.1" ry="1.0" fill="#f0c6b0"/>
<ellipse cx="441.9" cy="101.1" rx="1.1" ry="1.0" fill="#f0c6b0"/>
<ellipse cx="441.8" cy="101.4" rx="0.9" ry="0.7" fill="#dc5a58" opacity="0.65"/>
<ellipse cx="441.9" cy="101.6" rx="0.9" ry="0.7" fill="#dc5a58" opacity="0.65"/>
<ellipse cx="440.4" cy="101.7" rx="0.9" ry="0.7" fill="#fbf0e0" opacity="0.55"/>
<ellipse cx="459.4" cy="101.8" rx="2.0" ry="3.2" fill="#26305a" opacity="0.4"/>
<ellipse cx="458.5" cy="100.8" rx="1.6" ry="2.5" fill="#f0c6b0"/>
<ellipse cx="459.9" cy="101.0" rx="0.9" ry="1.5" fill="#f0c6b0"/>
<ellipse cx="458.4" cy="102.8" rx="0.9" ry="1.4" fill="#f0c6b0"/>
<ellipse cx="457.4" cy="101.7" rx="1.1" ry="1.8" fill="#f0c6b0"/>
<ellipse cx="457.3" cy="100.4" rx="1.2" ry="1.9" fill="#f0c6b0"/>
<ellipse cx="458.5" cy="99.0" rx="0.8" ry="1.3" fill="#f0c6b0"/>
<ellipse cx="459.3" cy="99.8" rx="1.1" ry="1.7" fill="#f0c6b0"/>
<ellipse cx="458.1" cy="99.4" rx="0.7" ry="1.0" fill="#dc5a58" opacity="0.65"/>
<ellipse cx="457.6" cy="100.2" rx="0.7" ry="1.0" fill="#dc5a58" opacity="0.65"/>
<ellipse cx="458.2" cy="100.1" rx="0.7" ry="0.9" fill="#fbf0e0" opacity="0.55"/>
<ellipse cx="474.09999999999997" cy="101.6" rx="2.6" ry="1.9" fill="#26305a" opacity="0.4"/>
<ellipse cx="473.2" cy="100.6" rx="2.1" ry="1.5" fill="#f2dcc2"/>
<ellipse cx="474.7" cy="100.8" rx="1.4" ry="1.0" fill="#f2dcc2"/>
<ellipse cx="473.9" cy="101.8" rx="1.4" ry="1.0" fill="#f2dcc2"/>
<ellipse cx="472.2" cy="101.7" rx="1.1" ry="0.8" fill="#f2dcc2"/>
<ellipse cx="471.6" cy="100.3" rx="1.3" ry="1.0" fill="#f2dcc2"/>
<ellipse cx="473.1" cy="99.5" rx="1.3" ry="0.9" fill="#f2dcc2"/>
<ellipse cx="474.0" cy="100.0" rx="1.0" ry="0.8" fill="#f2dcc2"/>
<ellipse cx="472.9" cy="99.7" rx="0.9" ry="0.6" fill="#dc5a58" opacity="0.4"/>
<ellipse cx="472.8" cy="100.2" rx="0.9" ry="0.5" fill="#fbf0e0" opacity="0.55"/>
</g>
<text x="333.6" y="69.5" font-size="9.05" text-anchor="end" font-weight="normal" fill="#0d0d0d" stroke="#0d0d0d" stroke-width="0.2" >Vehicle</text>
<text x="333.6" y="87.4" font-size="9.05" text-anchor="end" font-weight="normal" fill="#0d0d0d" stroke="#0d0d0d" stroke-width="0.2" >XY101</text>
<text x="333.6" y="104.9" font-size="9.05" text-anchor="end" font-weight="normal" fill="#0d0d0d" stroke="#0d0d0d" stroke-width="0.2" >GSK805</text>
<line x1="536.8" y1="13.2" x2="536.8" y2="110.6" stroke="#6c6c6c" stroke-width="1.4" />
<line x1="533.8" y1="110.0" x2="681.4" y2="110.0" stroke="#2a2a2a" stroke-width="1.4" />
<line x1="533.8" y1="110.0" x2="536.8" y2="110.0" stroke="#555" stroke-width="1.1" />
<text x="531.9" y="113.3" font-size="9.05" text-anchor="end" font-weight="normal" fill="#0d0d0d" stroke="#0d0d0d" stroke-width="0.2" >0</text>
<line x1="533.8" y1="77.9" x2="536.8" y2="77.9" stroke="#555" stroke-width="1.1" />
<text x="531.9" y="81.2" font-size="9.05" text-anchor="end" font-weight="normal" fill="#0d0d0d" stroke="#0d0d0d" stroke-width="0.2" >0.2</text>
<line x1="533.8" y1="45.8" x2="536.8" y2="45.8" stroke="#555" stroke-width="1.1" />
<text x="531.9" y="49.099999999999994" font-size="9.05" text-anchor="end" font-weight="normal" fill="#0d0d0d" stroke="#0d0d0d" stroke-width="0.2" >0.4</text>
<line x1="533.8" y1="13.700000000000003" x2="536.8" y2="13.700000000000003" stroke="#555" stroke-width="1.1" />
<text x="531.9" y="17.000000000000004" font-size="9.05" text-anchor="end" font-weight="normal" fill="#0d0d0d" stroke="#0d0d0d" stroke-width="0.2" >0.6</text>
<line x1="566.5" y1="110.0" x2="566.5" y2="113.0" stroke="#333" stroke-width="1.1" />
<line x1="609.7" y1="110.0" x2="609.7" y2="113.0" stroke="#333" stroke-width="1.1" />
<line x1="653.1" y1="110.0" x2="653.1" y2="113.0" stroke="#333" stroke-width="1.1" />
<text x="566.2" y="123.3" font-size="9.05" text-anchor="middle" font-weight="normal" fill="#0d0d0d" stroke="#0d0d0d" stroke-width="0.2" >Vehicle</text>
<text x="610.5" y="123.3" font-size="9.05" text-anchor="middle" font-weight="normal" fill="#0d0d0d" stroke="#0d0d0d" stroke-width="0.2" >XY101</text>
<text x="654.5" y="123.3" font-size="9.05" text-anchor="middle" font-weight="normal" fill="#0d0d0d" stroke="#0d0d0d" stroke-width="0.2" >GSK805</text>
<text transform="translate(513.2,61) rotate(-90)" font-size="9.05" text-anchor="middle" fill="#0d0d0d" stroke="#0d0d0d" stroke-width="0.2">Tumor weight (g)</text>
<path d="M574.60,33.20 C574.62,33.50 574.73,34.20 574.70,35.00 C574.67,35.80 574.65,37.00 574.40,38.00 C574.15,39.00 573.48,40.00 573.20,41.00 C572.92,42.00 572.60,43.00 572.70,44.00 C572.80,45.00 573.22,45.83 573.80,47.00 C574.38,48.17 575.47,49.67 576.20,51.00 C576.93,52.33 577.70,53.83 578.20,55.00 C578.70,56.17 578.97,57.00 579.20,58.00 C579.43,59.00 579.62,60.00 579.60,61.00 C579.58,62.00 579.45,63.00 579.10,64.00 C578.75,65.00 578.18,66.00 577.50,67.00 C576.82,68.00 575.73,69.08 575.00,70.00 C574.27,70.92 573.40,71.67 573.10,72.50 C572.80,73.33 572.98,74.08 573.20,75.00 C573.42,75.92 573.85,76.83 574.40,78.00 C574.95,79.17 575.97,80.75 576.50,82.00 C577.03,83.25 577.35,84.43 577.60,85.50 C577.85,86.57 577.93,87.92 578.00,88.40 L554.40,88.40 C554.47,87.92 554.55,86.57 554.80,85.50 C555.05,84.43 555.37,83.25 555.90,82.00 C556.43,80.75 557.45,79.17 558.00,78.00 C558.55,76.83 558.98,75.92 559.20,75.00 C559.42,74.08 559.60,73.33 559.30,72.50 C559.00,71.67 558.13,70.92 557.40,70.00 C556.67,69.08 555.58,68.00 554.90,67.00 C554.22,66.00 553.65,65.00 553.30,64.00 C552.95,63.00 552.82,62.00 552.80,61.00 C552.78,60.00 552.97,59.00 553.20,58.00 C553.43,57.00 553.70,56.17 554.20,55.00 C554.70,53.83 555.47,52.33 556.20,51.00 C556.93,49.67 558.02,48.17 558.60,47.00 C559.18,45.83 559.60,45.00 559.70,44.00 C559.80,43.00 559.48,42.00 559.20,41.00 C558.92,40.00 558.25,39.00 558.00,38.00 C557.75,37.00 557.73,35.80 557.70,35.00 C557.67,34.20 557.78,33.50 557.80,33.20 Z" fill="none" stroke="#8282fa" stroke-width="1.6" stroke-linejoin="round"/>
<line x1="552.8" y1="61.0" x2="579.6" y2="61.0" stroke="#111" stroke-width="0.8" stroke-dasharray="1.6,1.1"/>
<line x1="559.5" y1="44.3" x2="572.7" y2="44.3" stroke="#c8c8f8" stroke-width="0.7" stroke-dasharray="1.6,1.1"/>
<line x1="555" y1="87.7" x2="577.5" y2="87.7" stroke="#c8c8f8" stroke-width="0.7" stroke-dasharray="1.6,1.1"/>
<circle cx="566" cy="33.2" r="1.1" fill="#8282fa"/>
<circle cx="566" cy="39.5" r="1.1" fill="#8282fa"/>
<circle cx="564.1" cy="58.6" r="1.1" fill="#8282fa"/>
<circle cx="568" cy="57.1" r="1.1" fill="#8282fa"/>
<circle cx="566" cy="63.6" r="1.1" fill="#8282fa"/>
<circle cx="566" cy="81.4" r="1.1" fill="#8282fa"/>
<circle cx="566" cy="88.5" r="1.1" fill="#8282fa"/>
<path d="M612.70,66.90 C612.65,67.12 612.57,67.52 612.40,68.20 C612.23,68.88 611.78,69.95 611.70,71.00 C611.62,72.05 611.78,73.42 611.90,74.50 C612.02,75.58 612.03,75.53 612.40,77.50 C612.77,79.47 613.28,84.10 614.10,86.30 C614.92,88.50 616.17,89.37 617.30,90.70 C618.43,92.03 620.00,93.05 620.90,94.30 C621.80,95.55 622.65,96.87 622.70,98.20 C622.75,99.53 621.93,101.12 621.20,102.30 C620.47,103.48 618.95,104.60 618.30,105.30 C617.65,106.00 617.47,106.30 617.30,106.50 L602.10,106.50 C601.93,106.30 601.75,106.00 601.10,105.30 C600.45,104.60 598.93,103.48 598.20,102.30 C597.47,101.12 596.65,99.53 596.70,98.20 C596.75,96.87 597.60,95.55 598.50,94.30 C599.40,93.05 600.97,92.03 602.10,90.70 C603.23,89.37 604.48,88.50 605.30,86.30 C606.12,84.10 606.63,79.47 607.00,77.50 C607.37,75.53 607.38,75.58 607.50,74.50 C607.62,73.42 607.78,72.05 607.70,71.00 C607.62,69.95 607.17,68.88 607.00,68.20 C606.83,67.52 606.75,67.12 606.70,66.90 Z" fill="none" stroke="#ee707a" stroke-width="1.6" stroke-linejoin="round"/>
<line x1="597" y1="97.2" x2="622.5" y2="97.2" stroke="#111" stroke-width="0.8" stroke-dasharray="1.6,1.1"/>
<line x1="599" y1="102.6" x2="620" y2="102.6" stroke="#f4c0c4" stroke-width="0.7" stroke-dasharray="1.6,1.1"/>
<circle cx="609.6" cy="78.2" r="1.1" fill="#ee707a"/>
<circle cx="609.6" cy="86.3" r="1.1" fill="#ee707a"/>
<circle cx="605.7" cy="97.4" r="1.1" fill="#ee707a"/>
<circle cx="609.6" cy="97.4" r="1.1" fill="#ee707a"/>
<circle cx="613.7" cy="95.5" r="1.1" fill="#ee707a"/>
<circle cx="609.6" cy="99.6" r="1.1" fill="#ee707a"/>
<circle cx="609.6" cy="103.5" r="1.1" fill="#ee707a"/>
<circle cx="613.7" cy="102.3" r="1.1" fill="#ee707a"/>
<circle cx="609.6" cy="106.6" r="1.1" fill="#ee707a"/>
<text x="609.9" y="67.0" font-size="9" text-anchor="middle" font-weight="normal" fill="#000"  stroke="#000" stroke-width="0.2" letter-spacing="0.35">**</text>
<path d="M662.20,77.30 C662.25,77.58 662.67,78.17 662.50,79.00 C662.33,79.83 660.55,81.00 661.20,82.30 C661.85,83.60 665.95,85.60 666.40,86.80 C666.85,88.00 664.85,88.57 663.90,89.50 C662.95,90.43 662.00,91.35 660.70,92.40 C659.40,93.45 656.80,94.58 656.10,95.80 C655.40,97.02 656.58,98.58 656.50,99.70 C656.42,100.82 655.83,101.47 655.60,102.50 C655.37,103.53 655.18,105.33 655.10,105.90 L650.70,105.90 C650.62,105.33 650.43,103.53 650.20,102.50 C649.97,101.47 649.38,100.82 649.30,99.70 C649.22,98.58 650.40,97.02 649.70,95.80 C649.00,94.58 646.40,93.45 645.10,92.40 C643.80,91.35 642.85,90.43 641.90,89.50 C640.95,88.57 638.95,88.00 639.40,86.80 C639.85,85.60 643.95,83.60 644.60,82.30 C645.25,81.00 643.47,79.83 643.30,79.00 C643.13,78.17 643.55,77.58 643.60,77.30 Z" fill="none" stroke="#b9b166" stroke-width="1.6" stroke-linejoin="round"/>
<line x1="640" y1="86.3" x2="666" y2="86.3" stroke="#111" stroke-width="0.8" stroke-dasharray="1.6,1.1"/>
<line x1="644" y1="80.7" x2="662" y2="80.7" stroke="#e0dcb0" stroke-width="0.7" stroke-dasharray="1.6,1.1"/>
<line x1="643" y1="89.6" x2="663" y2="89.6" stroke="#e0dcb0" stroke-width="0.7" stroke-dasharray="1.6,1.1"/>
<circle cx="656.6" cy="76.6" r="1.1" fill="#b9b166"/>
<circle cx="649.2" cy="79.9" r="1.1" fill="#b9b166"/>
<circle cx="652.9" cy="79.6" r="1.1" fill="#b9b166"/>
<circle cx="652.9" cy="81.8" r="1.1" fill="#b9b166"/>
<circle cx="648.6" cy="86.3" r="1.1" fill="#b9b166"/>
<circle cx="652.9" cy="86.3" r="1.1" fill="#b9b166"/>
<circle cx="655.8" cy="86.3" r="1.1" fill="#b9b166"/>
<circle cx="649.5" cy="90" r="1.1" fill="#b9b166"/>
<circle cx="653" cy="90" r="1.1" fill="#b9b166"/>
<circle cx="657" cy="90" r="1.1" fill="#b9b166"/>
<circle cx="653" cy="97.5" r="1.1" fill="#b9b166"/>
<text x="653" y="76.3" font-size="9" text-anchor="middle" font-weight="normal" fill="#000"  stroke="#000" stroke-width="0.2" letter-spacing="0.35">***</text>
<line x1="36.7" y1="157.9" x2="36.7" y2="327.7" stroke="#1e1e1e" stroke-width="1.5" />
<line x1="33.5" y1="326.9" x2="178.1" y2="326.9" stroke="#1e1e1e" stroke-width="1.5" />
<line x1="33.8" y1="326.9" x2="36.7" y2="326.9" stroke="#222" stroke-width="1.2" />
<text x="28.9" y="330.09999999999997" font-size="9.05" text-anchor="end" font-weight="normal" fill="#0d0d0d" stroke="#0d0d0d" stroke-width="0.2" >0</text>
<line x1="33.8" y1="302.76" x2="36.7" y2="302.76" stroke="#222" stroke-width="1.2" />
<text x="28.9" y="305.96" font-size="9.05" text-anchor="end" font-weight="normal" fill="#0d0d0d" stroke="#0d0d0d" stroke-width="0.2" >100</text>
<line x1="33.8" y1="278.62" x2="36.7" y2="278.62" stroke="#222" stroke-width="1.2" />
<text x="28.9" y="281.82" font-size="9.05" text-anchor="end" font-weight="normal" fill="#0d0d0d" stroke="#0d0d0d" stroke-width="0.2" >200</text>
<line x1="33.8" y1="254.47999999999996" x2="36.7" y2="254.47999999999996" stroke="#222" stroke-width="1.2" />
<text x="28.9" y="257.67999999999995" font-size="9.05" text-anchor="end" font-weight="normal" fill="#0d0d0d" stroke="#0d0d0d" stroke-width="0.2" >300</text>
<line x1="33.8" y1="230.33999999999997" x2="36.7" y2="230.33999999999997" stroke="#222" stroke-width="1.2" />
<text x="28.9" y="233.53999999999996" font-size="9.05" text-anchor="end" font-weight="normal" fill="#0d0d0d" stroke="#0d0d0d" stroke-width="0.2" >400</text>
<line x1="33.8" y1="206.2" x2="36.7" y2="206.2" stroke="#222" stroke-width="1.2" />
<text x="28.9" y="209.39999999999998" font-size="9.05" text-anchor="end" font-weight="normal" fill="#0d0d0d" stroke="#0d0d0d" stroke-width="0.2" >500</text>
<line x1="33.8" y1="182.05999999999997" x2="36.7" y2="182.05999999999997" stroke="#222" stroke-width="1.2" />
<text x="28.9" y="185.25999999999996" font-size="9.05" text-anchor="end" font-weight="normal" fill="#0d0d0d" stroke="#0d0d0d" stroke-width="0.2" >600</text>
<line x1="33.8" y1="157.92" x2="36.7" y2="157.92" stroke="#222" stroke-width="1.2" />
<text x="28.9" y="161.11999999999998" font-size="9.05" text-anchor="end" font-weight="normal" fill="#0d0d0d" stroke="#0d0d0d" stroke-width="0.2" >700</text>
<line x1="36.9" y1="326.9" x2="36.9" y2="329.6" stroke="#222" stroke-width="1.3" />
<text x="36.9" y="340.6" font-size="9.05" text-anchor="middle" font-weight="normal" fill="#0d0d0d" stroke="#0d0d0d" stroke-width="0.2" >0</text>
<line x1="52.51" y1="326.9" x2="52.51" y2="329.6" stroke="#222" stroke-width="1.3" />
<text x="52.51" y="340.6" font-size="9.05" text-anchor="middle" font-weight="normal" fill="#0d0d0d" stroke="#0d0d0d" stroke-width="0.2" >3</text>
<line x1="68.12" y1="326.9" x2="68.12" y2="329.6" stroke="#222" stroke-width="1.3" />
<text x="68.12" y="340.6" font-size="9.05" text-anchor="middle" font-weight="normal" fill="#0d0d0d" stroke="#0d0d0d" stroke-width="0.2" >7</text>
<line x1="83.72999999999999" y1="326.9" x2="83.72999999999999" y2="329.6" stroke="#222" stroke-width="1.3" />
<text x="83.72999999999999" y="340.6" font-size="9.05" text-anchor="middle" font-weight="normal" fill="#0d0d0d" stroke="#0d0d0d" stroke-width="0.2" >10</text>
<line x1="99.34" y1="326.9" x2="99.34" y2="329.6" stroke="#222" stroke-width="1.3" />
<text x="99.34" y="340.6" font-size="9.05" text-anchor="middle" font-weight="normal" fill="#0d0d0d" stroke="#0d0d0d" stroke-width="0.2" >14</text>
<line x1="114.94999999999999" y1="326.9" x2="114.94999999999999" y2="329.6" stroke="#222" stroke-width="1.3" />
<text x="114.94999999999999" y="340.6" font-size="9.05" text-anchor="middle" font-weight="normal" fill="#0d0d0d" stroke="#0d0d0d" stroke-width="0.2" >17</text>
<line x1="130.56" y1="326.9" x2="130.56" y2="329.6" stroke="#222" stroke-width="1.3" />
<text x="130.56" y="340.6" font-size="9.05" text-anchor="middle" font-weight="normal" fill="#0d0d0d" stroke="#0d0d0d" stroke-width="0.2" >21</text>
<line x1="146.17" y1="326.9" x2="146.17" y2="329.6" stroke="#222" stroke-width="1.3" />
<text x="146.17" y="340.6" font-size="9.05" text-anchor="middle" font-weight="normal" fill="#0d0d0d" stroke="#0d0d0d" stroke-width="0.2" >24</text>
<line x1="161.78" y1="326.9" x2="161.78" y2="329.6" stroke="#222" stroke-width="1.3" />
<text x="161.78" y="340.6" font-size="9.05" text-anchor="middle" font-weight="normal" fill="#0d0d0d" stroke="#0d0d0d" stroke-width="0.2" >28</text>
<line x1="177.39000000000001" y1="326.9" x2="177.39000000000001" y2="329.6" stroke="#222" stroke-width="1.3" />
<text x="177.39000000000001" y="340.6" font-size="9.05" text-anchor="middle" font-weight="normal" fill="#0d0d0d" stroke="#0d0d0d" stroke-width="0.2" >31</text>
<text x="107.2" y="352.5" font-size="9.05" text-anchor="middle" font-weight="normal" fill="#0d0d0d" stroke="#0d0d0d" stroke-width="0.2" >Days</text>
<text transform="translate(9.2,239.6) rotate(-90)" font-size="9.05" text-anchor="middle" fill="#0d0d0d" stroke="#0d0d0d" stroke-width="0.2">Tumor Volume(mm<tspan font-size="5.6" dy="-3.2">3</tspan><tspan dy="3.2">)</tspan></text>
<clipPath id="cpD"><rect x="30" y="150" width="147.7" height="180"/></clipPath><g clip-path="url(#cpD)">
<line x1="36.9" y1="311.9332" x2="36.9" y2="311.9332" stroke="#8282fa" stroke-width="1.35" />
<line x1="34.1" y1="311.9332" x2="39.699999999999996" y2="311.9332" stroke="#8282fa" stroke-width="1.45" />
<line x1="52.51" y1="303.4842" x2="52.51" y2="299.13899999999995" stroke="#8282fa" stroke-width="1.35" />
<line x1="49.71" y1="299.13899999999995" x2="55.309999999999995" y2="299.13899999999995" stroke="#8282fa" stroke-width="1.45" />
<line x1="68.12" y1="295.2766" x2="68.12" y2="292.3798" stroke="#8282fa" stroke-width="1.35" />
<line x1="65.32000000000001" y1="292.3798" x2="70.92" y2="292.3798" stroke="#8282fa" stroke-width="1.45" />
<line x1="83.72999999999999" y1="296.96639999999996" x2="83.72999999999999" y2="295.75939999999997" stroke="#8282fa" stroke-width="1.35" />
<line x1="80.92999999999999" y1="295.75939999999997" x2="86.52999999999999" y2="295.75939999999997" stroke="#8282fa" stroke-width="1.45" />
<line x1="99.34" y1="290.69" x2="99.34" y2="286.34479999999996" stroke="#8282fa" stroke-width="1.35" />
<line x1="96.54" y1="286.34479999999996" x2="102.14" y2="286.34479999999996" stroke="#8282fa" stroke-width="1.45" />
<line x1="114.94999999999999" y1="276.68879999999996" x2="114.94999999999999" y2="267.75699999999995" stroke="#8282fa" stroke-width="1.35" />
<line x1="112.14999999999999" y1="267.75699999999995" x2="117.74999999999999" y2="267.75699999999995" stroke="#8282fa" stroke-width="1.45" />
<line x1="130.56" y1="253.03159999999997" x2="130.56" y2="244.58259999999996" stroke="#8282fa" stroke-width="1.35" />
<line x1="127.76" y1="244.58259999999996" x2="133.36" y2="244.58259999999996" stroke="#8282fa" stroke-width="1.45" />
<line x1="146.17" y1="245.78959999999998" x2="146.17" y2="236.61639999999997" stroke="#8282fa" stroke-width="1.35" />
<line x1="143.36999999999998" y1="236.61639999999997" x2="148.97" y2="236.61639999999997" stroke="#8282fa" stroke-width="1.45" />
<line x1="161.78" y1="214.16619999999998" x2="161.78" y2="203.54459999999997" stroke="#8282fa" stroke-width="1.35" />
<line x1="158.98" y1="203.54459999999997" x2="164.58" y2="203.54459999999997" stroke="#8282fa" stroke-width="1.45" />
<line x1="177.39000000000001" y1="197.75099999999998" x2="177.39000000000001" y2="183.99119999999996" stroke="#8282fa" stroke-width="1.35" />
<line x1="174.59" y1="183.99119999999996" x2="180.19000000000003" y2="183.99119999999996" stroke="#8282fa" stroke-width="1.45" />
<polyline points="36.90,311.93 52.51,303.48 68.12,295.28 83.73,296.97 99.34,290.69 114.95,276.69 130.56,253.03 146.17,245.79 161.78,214.17 177.39,197.75" fill="none" stroke="#8282fa" stroke-width="1.5" stroke-linejoin="round"/>
<line x1="36.9" y1="312.8988" x2="36.9" y2="312.416" stroke="#ee707a" stroke-width="1.35" />
<line x1="34.1" y1="312.416" x2="39.699999999999996" y2="312.416" stroke="#ee707a" stroke-width="1.45" />
<line x1="52.51" y1="308.07079999999996" x2="52.51" y2="307.10519999999997" stroke="#ee707a" stroke-width="1.35" />
<line x1="49.71" y1="307.10519999999997" x2="55.309999999999995" y2="307.10519999999997" stroke="#ee707a" stroke-width="1.45" />
<line x1="68.12" y1="310.72619999999995" x2="68.12" y2="310.00199999999995" stroke="#ee707a" stroke-width="1.35" />
<line x1="65.32000000000001" y1="310.00199999999995" x2="70.92" y2="310.00199999999995" stroke="#ee707a" stroke-width="1.45" />
<line x1="83.72999999999999" y1="307.58799999999997" x2="83.72999999999999" y2="306.62239999999997" stroke="#ee707a" stroke-width="1.35" />
<line x1="80.92999999999999" y1="306.62239999999997" x2="86.52999999999999" y2="306.62239999999997" stroke="#ee707a" stroke-width="1.45" />
<line x1="99.34" y1="310.24339999999995" x2="99.34" y2="309.51919999999996" stroke="#ee707a" stroke-width="1.35" />
<line x1="96.54" y1="309.51919999999996" x2="102.14" y2="309.51919999999996" stroke="#ee707a" stroke-width="1.45" />
<line x1="114.94999999999999" y1="304.9326" x2="114.94999999999999" y2="303.967" stroke="#ee707a" stroke-width="1.35" />
<line x1="112.14999999999999" y1="303.967" x2="117.74999999999999" y2="303.967" stroke="#ee707a" stroke-width="1.45" />
<line x1="130.56" y1="301.553" x2="130.56" y2="299.8632" stroke="#ee707a" stroke-width="1.35" />
<line x1="127.76" y1="299.8632" x2="133.36" y2="299.8632" stroke="#ee707a" stroke-width="1.45" />
<line x1="146.17" y1="295.518" x2="146.17" y2="287.79319999999996" stroke="#ee707a" stroke-width="1.35" />
<line x1="143.36999999999998" y1="287.79319999999996" x2="148.97" y2="287.79319999999996" stroke="#ee707a" stroke-width="1.45" />
<line x1="161.78" y1="290.2072" x2="161.78" y2="281.7582" stroke="#ee707a" stroke-width="1.35" />
<line x1="158.98" y1="281.7582" x2="164.58" y2="281.7582" stroke="#ee707a" stroke-width="1.45" />
<line x1="177.39000000000001" y1="281.2754" x2="177.39000000000001" y2="279.827" stroke="#ee707a" stroke-width="1.35" />
<line x1="174.59" y1="279.827" x2="180.19000000000003" y2="279.827" stroke="#ee707a" stroke-width="1.45" />
<polyline points="36.90,312.90 52.51,308.07 68.12,310.73 83.73,307.59 99.34,310.24 114.95,304.93 130.56,301.55 146.17,295.52 161.78,290.21 177.39,281.28" fill="none" stroke="#ee707a" stroke-width="1.5" stroke-linejoin="round"/>
<line x1="36.9" y1="311.9332" x2="36.9" y2="311.209" stroke="#b9b166" stroke-width="1.35" />
<line x1="34.1" y1="311.209" x2="39.699999999999996" y2="311.209" stroke="#b9b166" stroke-width="1.45" />
<line x1="52.51" y1="305.6568" x2="52.51" y2="303.4842" stroke="#b9b166" stroke-width="1.35" />
<line x1="49.71" y1="303.4842" x2="55.309999999999995" y2="303.4842" stroke="#b9b166" stroke-width="1.45" />
<line x1="68.12" y1="309.51919999999996" x2="68.12" y2="308.79499999999996" stroke="#b9b166" stroke-width="1.35" />
<line x1="65.32000000000001" y1="308.79499999999996" x2="70.92" y2="308.79499999999996" stroke="#b9b166" stroke-width="1.45" />
<line x1="83.72999999999999" y1="304.2084" x2="83.72999999999999" y2="301.553" stroke="#b9b166" stroke-width="1.35" />
<line x1="80.92999999999999" y1="301.553" x2="86.52999999999999" y2="301.553" stroke="#b9b166" stroke-width="1.45" />
<line x1="99.34" y1="306.1396" x2="99.34" y2="303.0014" stroke="#b9b166" stroke-width="1.35" />
<line x1="96.54" y1="303.0014" x2="102.14" y2="303.0014" stroke="#b9b166" stroke-width="1.45" />
<line x1="114.94999999999999" y1="302.76" x2="114.94999999999999" y2="298.65619999999996" stroke="#b9b166" stroke-width="1.35" />
<line x1="112.14999999999999" y1="298.65619999999996" x2="117.74999999999999" y2="298.65619999999996" stroke="#b9b166" stroke-width="1.45" />
<line x1="130.56" y1="300.5874" x2="130.56" y2="294.7938" stroke="#b9b166" stroke-width="1.35" />
<line x1="127.76" y1="294.7938" x2="133.36" y2="294.7938" stroke="#b9b166" stroke-width="1.45" />
<line x1="146.17" y1="294.7938" x2="146.17" y2="288.75879999999995" stroke="#b9b166" stroke-width="1.35" />
<line x1="143.36999999999998" y1="288.75879999999995" x2="148.97" y2="288.75879999999995" stroke="#b9b166" stroke-width="1.45" />
<line x1="161.78" y1="289.24159999999995" x2="161.78" y2="283.6894" stroke="#b9b166" stroke-width="1.35" />
<line x1="158.98" y1="283.6894" x2="164.58" y2="283.6894" stroke="#b9b166" stroke-width="1.45" />
<line x1="177.39000000000001" y1="278.8614" x2="177.39000000000001" y2="272.3436" stroke="#b9b166" stroke-width="1.35" />
<line x1="174.59" y1="272.3436" x2="180.19000000000003" y2="272.3436" stroke="#b9b166" stroke-width="1.45" />
<polyline points="36.90,311.93 52.51,305.66 68.12,309.52 83.73,304.21 99.34,306.14 114.95,302.76 130.56,300.59 146.17,294.79 161.78,289.24 177.39,278.86" fill="none" stroke="#b9b166" stroke-width="1.5" stroke-linejoin="round"/>
</g>
<text x="179.3" y="276.2" font-size="9" text-anchor="start" font-weight="normal" fill="#000"  stroke="#000" stroke-width="0.2" letter-spacing="0.35">***</text>
<text x="179.3" y="289.3" font-size="9" text-anchor="start" font-weight="normal" fill="#000"  stroke="#000" stroke-width="0.2" letter-spacing="0.35">***</text>
<line x1="45" y1="163.7" x2="70.3" y2="163.7" stroke="#8282fa" stroke-width="1.5" />
<text x="72.8" y="166.89999999999998" font-size="9.05" text-anchor="start" font-weight="normal" fill="#0d0d0d" stroke="#0d0d0d" stroke-width="0.2" >Vehicle</text>
<line x1="45" y1="184.7" x2="70.3" y2="184.7" stroke="#ee707a" stroke-width="1.5" />
<text x="72.8" y="187.89999999999998" font-size="9.05" text-anchor="start" font-weight="normal" fill="#0d0d0d" stroke="#0d0d0d" stroke-width="0.2" >XY101</text>
<line x1="45" y1="206.6" x2="70.3" y2="206.6" stroke="#b9b166" stroke-width="1.5" />
<text x="72.8" y="209.79999999999998" font-size="9.05" text-anchor="start" font-weight="normal" fill="#0d0d0d" stroke="#0d0d0d" stroke-width="0.2" >GSK805</text>
<line x1="224.85" y1="181.3" x2="224.85" y2="326.7" stroke="#1e1e1e" stroke-width="1.5" />
<line x1="221.8" y1="326.0" x2="366.9" y2="326.0" stroke="#1e1e1e" stroke-width="1.5" />
<line x1="221.9" y1="326.0" x2="224.85" y2="326.0" stroke="#222" stroke-width="1.2" />
<text x="217.3" y="329.2" font-size="9.05" text-anchor="end" font-weight="normal" fill="#0d0d0d" stroke="#0d0d0d" stroke-width="0.2" >0</text>
<line x1="221.9" y1="280.7" x2="224.85" y2="280.7" stroke="#222" stroke-width="1.2" />
<text x="217.3" y="283.9" font-size="9.05" text-anchor="end" font-weight="normal" fill="#0d0d0d" stroke="#0d0d0d" stroke-width="0.2" >10</text>
<line x1="221.9" y1="235.39999999999998" x2="224.85" y2="235.39999999999998" stroke="#222" stroke-width="1.2" />
<text x="217.3" y="238.59999999999997" font-size="9.05" text-anchor="end" font-weight="normal" fill="#0d0d0d" stroke="#0d0d0d" stroke-width="0.2" >20</text>
<line x1="221.9" y1="190.1" x2="224.85" y2="190.1" stroke="#222" stroke-width="1.2" />
<text x="217.3" y="193.29999999999998" font-size="9.05" text-anchor="end" font-weight="normal" fill="#0d0d0d" stroke="#0d0d0d" stroke-width="0.2" >30</text>
<line x1="224.85" y1="326.0" x2="224.85" y2="328.9" stroke="#222" stroke-width="1.3" />
<text x="224.85" y="339.9" font-size="9.05" text-anchor="middle" font-weight="normal" fill="#0d0d0d" stroke="#0d0d0d" stroke-width="0.2" >0</text>
<line x1="240.54999999999998" y1="326.0" x2="240.54999999999998" y2="328.9" stroke="#222" stroke-width="1.3" />
<text x="240.54999999999998" y="339.9" font-size="9.05" text-anchor="middle" font-weight="normal" fill="#0d0d0d" stroke="#0d0d0d" stroke-width="0.2" >3</text>
<line x1="256.25" y1="326.0" x2="256.25" y2="328.9" stroke="#222" stroke-width="1.3" />
<text x="256.25" y="339.9" font-size="9.05" text-anchor="middle" font-weight="normal" fill="#0d0d0d" stroke="#0d0d0d" stroke-width="0.2" >7</text>
<line x1="271.95" y1="326.0" x2="271.95" y2="328.9" stroke="#222" stroke-width="1.3" />
<text x="271.95" y="339.9" font-size="9.05" text-anchor="middle" font-weight="normal" fill="#0d0d0d" stroke="#0d0d0d" stroke-width="0.2" >10</text>
<line x1="287.65" y1="326.0" x2="287.65" y2="328.9" stroke="#222" stroke-width="1.3" />
<text x="287.65" y="339.9" font-size="9.05" text-anchor="middle" font-weight="normal" fill="#0d0d0d" stroke="#0d0d0d" stroke-width="0.2" >14</text>
<line x1="303.35" y1="326.0" x2="303.35" y2="328.9" stroke="#222" stroke-width="1.3" />
<text x="303.35" y="339.9" font-size="9.05" text-anchor="middle" font-weight="normal" fill="#0d0d0d" stroke="#0d0d0d" stroke-width="0.2" >17</text>
<line x1="319.04999999999995" y1="326.0" x2="319.04999999999995" y2="328.9" stroke="#222" stroke-width="1.3" />
<text x="319.04999999999995" y="339.9" font-size="9.05" text-anchor="middle" font-weight="normal" fill="#0d0d0d" stroke="#0d0d0d" stroke-width="0.2" >21</text>
<line x1="334.75" y1="326.0" x2="334.75" y2="328.9" stroke="#222" stroke-width="1.3" />
<text x="334.75" y="339.9" font-size="9.05" text-anchor="middle" font-weight="normal" fill="#0d0d0d" stroke="#0d0d0d" stroke-width="0.2" >24</text>
<line x1="350.45" y1="326.0" x2="350.45" y2="328.9" stroke="#222" stroke-width="1.3" />
<text x="350.45" y="339.9" font-size="9.05" text-anchor="middle" font-weight="normal" fill="#0d0d0d" stroke="#0d0d0d" stroke-width="0.2" >28</text>
<line x1="366.15" y1="326.0" x2="366.15" y2="328.9" stroke="#222" stroke-width="1.3" />
<text x="366.15" y="339.9" font-size="9.05" text-anchor="middle" font-weight="normal" fill="#0d0d0d" stroke="#0d0d0d" stroke-width="0.2" >31</text>
<text x="295.6" y="351.3" font-size="9.05" text-anchor="middle" font-weight="normal" fill="#0d0d0d" stroke="#0d0d0d" stroke-width="0.2" >Days</text>
<text transform="translate(203.6,254) rotate(-90)" font-size="9.05" text-anchor="middle" fill="#0d0d0d" stroke="#0d0d0d" stroke-width="0.2">Body Weight (g)</text>
<clipPath id="cpE"><rect x="218" y="175" width="148.3" height="155"/></clipPath><g clip-path="url(#cpE)">
<line x1="224.85" y1="202.91989999999998" x2="224.85" y2="200.519" stroke="#8282fa" stroke-width="1.35" />
<line x1="222.04999999999998" y1="200.519" x2="227.65" y2="200.519" stroke="#8282fa" stroke-width="1.45" />
<line x1="240.54999999999998" y1="203.23699999999997" x2="240.54999999999998" y2="200.97199999999998" stroke="#8282fa" stroke-width="1.35" />
<line x1="237.74999999999997" y1="200.97199999999998" x2="243.35" y2="200.97199999999998" stroke="#8282fa" stroke-width="1.45" />
<line x1="256.25" y1="202.01389999999998" x2="256.25" y2="200.97199999999998" stroke="#8282fa" stroke-width="1.35" />
<line x1="253.45" y1="200.97199999999998" x2="259.05" y2="200.97199999999998" stroke="#8282fa" stroke-width="1.45" />
<line x1="271.95" y1="201.425" x2="271.95" y2="200.06599999999997" stroke="#8282fa" stroke-width="1.35" />
<line x1="269.15" y1="200.06599999999997" x2="274.75" y2="200.06599999999997" stroke="#8282fa" stroke-width="1.45" />
<line x1="287.65" y1="202.01389999999998" x2="287.65" y2="200.519" stroke="#8282fa" stroke-width="1.35" />
<line x1="284.84999999999997" y1="200.519" x2="290.45" y2="200.519" stroke="#8282fa" stroke-width="1.45" />
<line x1="303.35" y1="204.143" x2="303.35" y2="201.6968" stroke="#8282fa" stroke-width="1.35" />
<line x1="300.55" y1="201.6968" x2="306.15000000000003" y2="201.6968" stroke="#8282fa" stroke-width="1.45" />
<line x1="319.04999999999995" y1="208.08409999999998" x2="319.04999999999995" y2="197.39329999999998" stroke="#8282fa" stroke-width="1.35" />
<line x1="316.24999999999994" y1="197.39329999999998" x2="321.84999999999997" y2="197.39329999999998" stroke="#8282fa" stroke-width="1.45" />
<line x1="334.75" y1="204.143" x2="334.75" y2="190.77949999999998" stroke="#8282fa" stroke-width="1.35" />
<line x1="331.95" y1="190.77949999999998" x2="337.55" y2="190.77949999999998" stroke="#8282fa" stroke-width="1.45" />
<line x1="350.45" y1="203.5088" x2="350.45" y2="187.1102" stroke="#8282fa" stroke-width="1.35" />
<line x1="347.65" y1="187.1102" x2="353.25" y2="187.1102" stroke="#8282fa" stroke-width="1.45" />
<line x1="366.15" y1="208.08409999999998" x2="366.15" y2="193.271" stroke="#8282fa" stroke-width="1.35" />
<line x1="363.34999999999997" y1="193.271" x2="368.95" y2="193.271" stroke="#8282fa" stroke-width="1.45" />
<polyline points="224.85,202.92 240.55,203.24 256.25,202.01 271.95,201.43 287.65,202.01 303.35,204.14 319.05,208.08 334.75,204.14 350.45,203.51 366.15,208.08" fill="none" stroke="#8282fa" stroke-width="1.5" stroke-linejoin="round"/>
<line x1="224.85" y1="207.4952" x2="224.85" y2="201.5156" stroke="#ee707a" stroke-width="1.35" />
<line x1="222.04999999999998" y1="201.5156" x2="227.65" y2="201.5156" stroke="#ee707a" stroke-width="1.45" />
<line x1="240.54999999999998" y1="208.22" x2="240.54999999999998" y2="202.01389999999998" stroke="#ee707a" stroke-width="1.35" />
<line x1="237.74999999999997" y1="202.01389999999998" x2="243.35" y2="202.01389999999998" stroke="#ee707a" stroke-width="1.45" />
<line x1="256.25" y1="205.95499999999998" x2="256.25" y2="199.613" stroke="#ee707a" stroke-width="1.35" />
<line x1="253.45" y1="199.613" x2="259.05" y2="199.613" stroke="#ee707a" stroke-width="1.45" />
<line x1="271.95" y1="205.18489999999997" x2="271.95" y2="199.613" stroke="#ee707a" stroke-width="1.35" />
<line x1="269.15" y1="199.613" x2="274.75" y2="199.613" stroke="#ee707a" stroke-width="1.45" />
<line x1="287.65" y1="204.4148" x2="287.65" y2="198.254" stroke="#ee707a" stroke-width="1.35" />
<line x1="284.84999999999997" y1="198.254" x2="290.45" y2="198.254" stroke="#ee707a" stroke-width="1.45" />
<line x1="303.35" y1="205.18489999999997" x2="303.35" y2="196.7138" stroke="#ee707a" stroke-width="1.35" />
<line x1="300.55" y1="196.7138" x2="306.15000000000003" y2="196.7138" stroke="#ee707a" stroke-width="1.45" />
<line x1="319.04999999999995" y1="209.8961" x2="319.04999999999995" y2="208.673" stroke="#ee707a" stroke-width="1.35" />
<line x1="316.24999999999994" y1="208.673" x2="321.84999999999997" y2="208.673" stroke="#ee707a" stroke-width="1.45" />
<line x1="334.75" y1="201.6968" x2="334.75" y2="200.519" stroke="#ee707a" stroke-width="1.35" />
<line x1="331.95" y1="200.519" x2="337.55" y2="200.519" stroke="#ee707a" stroke-width="1.45" />
<line x1="350.45" y1="201.5156" x2="350.45" y2="200.519" stroke="#ee707a" stroke-width="1.35" />
<line x1="347.65" y1="200.519" x2="353.25" y2="200.519" stroke="#ee707a" stroke-width="1.45" />
<line x1="366.15" y1="202.91989999999998" x2="366.15" y2="201.878" stroke="#ee707a" stroke-width="1.35" />
<line x1="363.34999999999997" y1="201.878" x2="368.95" y2="201.878" stroke="#ee707a" stroke-width="1.45" />
<polyline points="224.85,207.50 240.55,208.22 256.25,205.95 271.95,205.18 287.65,204.41 303.35,205.18 319.05,209.90 334.75,201.70 350.45,201.52 366.15,202.92" fill="none" stroke="#ee707a" stroke-width="1.5" stroke-linejoin="round"/>
<line x1="224.85" y1="205.50199999999998" x2="224.85" y2="198.88819999999998" stroke="#b9b166" stroke-width="1.35" />
<line x1="222.04999999999998" y1="198.88819999999998" x2="227.65" y2="198.88819999999998" stroke="#b9b166" stroke-width="1.45" />
<line x1="240.54999999999998" y1="205.95499999999998" x2="240.54999999999998" y2="198.88819999999998" stroke="#b9b166" stroke-width="1.35" />
<line x1="237.74999999999997" y1="198.88819999999998" x2="243.35" y2="198.88819999999998" stroke="#b9b166" stroke-width="1.45" />
<line x1="256.25" y1="203.7806" x2="256.25" y2="195.083" stroke="#b9b166" stroke-width="1.35" />
<line x1="253.45" y1="195.083" x2="259.05" y2="195.083" stroke="#b9b166" stroke-width="1.45" />
<line x1="271.95" y1="203.23699999999997" x2="271.95" y2="197.801" stroke="#b9b166" stroke-width="1.35" />
<line x1="269.15" y1="197.801" x2="274.75" y2="197.801" stroke="#b9b166" stroke-width="1.45" />
<line x1="287.65" y1="203.23699999999997" x2="287.65" y2="196.89499999999998" stroke="#b9b166" stroke-width="1.35" />
<line x1="284.84999999999997" y1="196.89499999999998" x2="290.45" y2="196.89499999999998" stroke="#b9b166" stroke-width="1.45" />
<line x1="303.35" y1="204.596" x2="303.35" y2="197.89159999999998" stroke="#b9b166" stroke-width="1.35" />
<line x1="300.55" y1="197.89159999999998" x2="306.15000000000003" y2="197.89159999999998" stroke="#b9b166" stroke-width="1.45" />
<line x1="319.04999999999995" y1="205.5926" x2="319.04999999999995" y2="198.254" stroke="#b9b166" stroke-width="1.35" />
<line x1="316.24999999999994" y1="198.254" x2="321.84999999999997" y2="198.254" stroke="#b9b166" stroke-width="1.45" />
<line x1="334.75" y1="202.91989999999998" x2="334.75" y2="195.536" stroke="#b9b166" stroke-width="1.35" />
<line x1="331.95" y1="195.536" x2="337.55" y2="195.536" stroke="#b9b166" stroke-width="1.45" />
<line x1="350.45" y1="202.10449999999997" x2="350.45" y2="194.177" stroke="#b9b166" stroke-width="1.35" />
<line x1="347.65" y1="194.177" x2="353.25" y2="194.177" stroke="#b9b166" stroke-width="1.45" />
<line x1="366.15" y1="202.331" x2="366.15" y2="193.90519999999998" stroke="#b9b166" stroke-width="1.35" />
<line x1="363.34999999999997" y1="193.90519999999998" x2="368.95" y2="193.90519999999998" stroke="#b9b166" stroke-width="1.45" />
<polyline points="224.85,205.50 240.55,205.95 256.25,203.78 271.95,203.24 287.65,203.24 303.35,204.60 319.05,205.59 334.75,202.92 350.45,202.10 366.15,202.33" fill="none" stroke="#b9b166" stroke-width="1.5" stroke-linejoin="round"/>
</g>
<line x1="237.2" y1="271.4" x2="262" y2="271.4" stroke="#8282fa" stroke-width="1.5" />
<text x="264.9" y="274.59999999999997" font-size="9.05" text-anchor="start" font-weight="normal" fill="#0d0d0d" stroke="#0d0d0d" stroke-width="0.2" >Vehicle</text>
<line x1="237.2" y1="289.3" x2="262" y2="289.3" stroke="#ee707a" stroke-width="1.5" />
<text x="264.9" y="292.5" font-size="9.05" text-anchor="start" font-weight="normal" fill="#0d0d0d" stroke="#0d0d0d" stroke-width="0.2" >XY101</text>
<line x1="237.2" y1="307.1" x2="262" y2="307.1" stroke="#b9b166" stroke-width="1.5" />
<text x="264.9" y="310.3" font-size="9.05" text-anchor="start" font-weight="normal" fill="#0d0d0d" stroke="#0d0d0d" stroke-width="0.2" >GSK805</text>
<defs><filter id="bl" x="-10%" y="-10%" width="120%" height="120%"><feGaussianBlur stdDeviation="0.35"/></filter><filter id="bl2" x="-10%" y="-10%" width="120%" height="120%"><feGaussianBlur stdDeviation="0.6"/></filter><filter id="bl3" x="-10%" y="-10%" width="120%" height="120%"><feGaussianBlur stdDeviation="1.2"/></filter><linearGradient id="g1" x1="0.85" y1="0" x2="0.15" y2="1"><stop offset="0" stop-color="#eadbe2"/><stop offset="0.5" stop-color="#dccbdb"/><stop offset="1" stop-color="#c8b8d7"/></linearGradient><linearGradient id="g3" x1="0.85" y1="0" x2="0.1" y2="1"><stop offset="0" stop-color="#e6dbe5"/><stop offset="0.5" stop-color="#d7cbe0"/><stop offset="1" stop-color="#c0b2d7"/></linearGradient><linearGradient id="g2" x1="0" y1="0" x2="0" y2="1"><stop offset="0" stop-color="#dfc9d7"/><stop offset="1" stop-color="#dbc7d8"/></linearGradient><linearGradient id="g4" x1="0" y1="0" x2="0" y2="1"><stop offset="0" stop-color="#e6d5dd"/><stop offset="1" stop-color="#e3d2dc"/></linearGradient><filter id="noise" x="0" y="0" width="100%" height="100%"><feTurbulence type="fractalNoise" baseFrequency="0.9" numOctaves="2" seed="4" result="t"/><feColorMatrix in="t" type="matrix" values="0 0 0 0 0.45  0 0 0 0 0.3  0 0 0 0 0.5  0 0 0 -2.2 1.25"/></filter></defs>
<clipPath id="cp00"><rect x="380.3" y="169.0" width="74.30000000000001" height="51.0"/></clipPath>
<g clip-path="url(#cp00)">
<rect x="380.3" y="169.0" width="74.30000000000001" height="51.0" fill="url(#g1)"/>
<g filter="url(#bl)">
<circle cx="413.9" cy="197.5" r="0.57" fill="#b86a4e" opacity="0.51"/>
<circle cx="418.0" cy="199.0" r="0.31" fill="#b86a4e" opacity="0.53"/>
<circle cx="427.1" cy="209.4" r="0.28" fill="#b86a4e" opacity="0.44"/>
<circle cx="387.0" cy="210.3" r="0.49" fill="#b86a4e" opacity="0.32"/>
<circle cx="453.3" cy="218.2" r="0.48" fill="#b86a4e" opacity="0.58"/>
<circle cx="392.0" cy="169.8" r="0.43" fill="#b86a4e" opacity="0.33"/>
<circle cx="394.4" cy="181.3" r="0.26" fill="#b86a4e" opacity="0.51"/>
<circle cx="413.0" cy="212.0" r="0.43" fill="#b86a4e" opacity="0.59"/>
<circle cx="417.4" cy="202.8" r="0.41" fill="#b86a4e" opacity="0.43"/>
<circle cx="454.4" cy="219.8" r="0.54" fill="#b86a4e" opacity="0.62"/>
<circle cx="403.7" cy="180.7" r="0.35" fill="#b86a4e" opacity="0.33"/>
<circle cx="437.2" cy="189.4" r="0.55" fill="#b86a4e" opacity="0.47"/>
<circle cx="451.5" cy="212.2" r="0.25" fill="#b86a4e" opacity="0.39"/>
<circle cx="447.9" cy="193.0" r="0.59" fill="#b86a4e" opacity="0.48"/>
<circle cx="385.7" cy="201.1" r="0.52" fill="#b86a4e" opacity="0.42"/>
<circle cx="386.8" cy="186.0" r="0.59" fill="#b86a4e" opacity="0.64"/>
<circle cx="389.1" cy="181.6" r="0.29" fill="#b86a4e" opacity="0.33"/>
<circle cx="439.5" cy="178.1" r="0.45" fill="#b86a4e" opacity="0.50"/>
<circle cx="394.5" cy="206.3" r="0.30" fill="#b86a4e" opacity="0.59"/>
<circle cx="389.0" cy="190.5" r="0.32" fill="#b86a4e" opacity="0.42"/>
<circle cx="452.4" cy="210.0" r="0.36" fill="#b86a4e" opacity="0.70"/>
<circle cx="396.0" cy="189.1" r="0.55" fill="#b86a4e" opacity="0.59"/>
<circle cx="387.8" cy="219.5" r="0.32" fill="#b86a4e" opacity="0.42"/>
<circle cx="437.7" cy="185.8" r="0.35" fill="#b86a4e" opacity="0.33"/>
<circle cx="387.0" cy="198.7" r="0.34" fill="#b86a4e" opacity="0.57"/>
<circle cx="407.9" cy="192.1" r="0.59" fill="#b86a4e" opacity="0.52"/>
<circle cx="423.0" cy="213.2" r="0.31" fill="#b86a4e" opacity="0.37"/>
<circle cx="447.8" cy="210.7" r="0.34" fill="#b86a4e" opacity="0.39"/>
<circle cx="435.2" cy="217.0" r="0.32" fill="#b86a4e" opacity="0.73"/>
<circle cx="445.8" cy="199.8" r="0.40" fill="#b86a4e" opacity="0.35"/>
<circle cx="383.2" cy="218.1" r="0.33" fill="#b86a4e" opacity="0.62"/>
<circle cx="399.4" cy="211.0" r="0.46" fill="#b86a4e" opacity="0.43"/>
<circle cx="393.3" cy="205.7" r="0.27" fill="#b86a4e" opacity="0.40"/>
<circle cx="421.9" cy="212.5" r="0.47" fill="#b86a4e" opacity="0.43"/>
<circle cx="448.5" cy="179.4" r="0.26" fill="#b86a4e" opacity="0.42"/>
<circle cx="413.4" cy="172.1" r="0.31" fill="#b86a4e" opacity="0.47"/>
<circle cx="422.8" cy="175.7" r="0.38" fill="#b86a4e" opacity="0.70"/>
<circle cx="453.2" cy="202.5" r="0.49" fill="#b86a4e" opacity="0.56"/>
<circle cx="390.7" cy="170.8" r="0.26" fill="#b86a4e" opacity="0.71"/>
<circle cx="432.4" cy="218.1" r="0.26" fill="#b86a4e" opacity="0.59"/>
<circle cx="416.1" cy="206.3" r="0.36" fill="#b86a4e" opacity="0.75"/>
<circle cx="385.9" cy="196.9" r="0.51" fill="#b86a4e" opacity="0.71"/>
<circle cx="435.1" cy="204.9" r="0.53" fill="#b86a4e" opacity="0.71"/>
<circle cx="406.4" cy="203.9" r="0.57" fill="#b86a4e" opacity="0.69"/>
<circle cx="411.3" cy="209.3" r="0.55" fill="#b86a4e" opacity="0.56"/>
<circle cx="426.7" cy="188.5" r="0.45" fill="#b86a4e" opacity="0.57"/>
<circle cx="386.3" cy="201.6" r="0.60" fill="#b86a4e" opacity="0.70"/>
<circle cx="434.4" cy="188.8" r="0.51" fill="#b86a4e" opacity="0.56"/>
<circle cx="413.0" cy="211.8" r="0.28" fill="#b86a4e" opacity="0.64"/>
<circle cx="382.5" cy="199.7" r="0.42" fill="#b86a4e" opacity="0.40"/>
<circle cx="432.2" cy="194.4" r="0.47" fill="#b86a4e" opacity="0.71"/>
<circle cx="399.3" cy="169.6" r="0.36" fill="#b86a4e" opacity="0.61"/>
<circle cx="395.4" cy="177.6" r="0.57" fill="#b86a4e" opacity="0.60"/>
<circle cx="413.1" cy="214.5" r="0.36" fill="#b86a4e" opacity="0.60"/>
<circle cx="395.0" cy="191.0" r="0.53" fill="#b86a4e" opacity="0.71"/>
<circle cx="445.7" cy="188.6" r="0.45" fill="#b86a4e" opacity="0.44"/>
<circle cx="390.4" cy="194.3" r="0.54" fill="#b86a4e" opacity="0.68"/>
<circle cx="433.1" cy="217.5" r="0.35" fill="#b86a4e" opacity="0.38"/>
<circle cx="413.8" cy="183.0" r="0.32" fill="#b86a4e" opacity="0.49"/>
<circle cx="426.8" cy="194.2" r="0.36" fill="#b86a4e" opacity="0.68"/>
<circle cx="453.3" cy="192.1" r="0.28" fill="#b86a4e" opacity="0.31"/>
<circle cx="445.2" cy="171.1" r="0.50" fill="#b86a4e" opacity="0.56"/>
<circle cx="403.3" cy="209.4" r="0.26" fill="#b86a4e" opacity="0.36"/>
<circle cx="414.1" cy="170.3" r="0.54" fill="#b86a4e" opacity="0.41"/>
<circle cx="390.8" cy="171.4" r="0.47" fill="#b86a4e" opacity="0.50"/>
<circle cx="427.1" cy="202.4" r="0.53" fill="#b86a4e" opacity="0.73"/>
<circle cx="431.2" cy="179.2" r="0.42" fill="#b86a4e" opacity="0.38"/>
<circle cx="381.1" cy="193.1" r="0.50" fill="#b86a4e" opacity="0.38"/>
<circle cx="400.5" cy="186.6" r="0.49" fill="#b86a4e" opacity="0.53"/>
<circle cx="426.0" cy="207.6" r="0.39" fill="#b86a4e" opacity="0.66"/>
<circle cx="447.6" cy="173.4" r="0.58" fill="#b86a4e" opacity="0.63"/>
<circle cx="390.0" cy="192.1" r="0.47" fill="#b86a4e" opacity="0.71"/>
<circle cx="408.3" cy="198.0" r="0.56" fill="#b86a4e" opacity="0.66"/>
<circle cx="450.5" cy="192.6" r="0.48" fill="#b86a4e" opacity="0.39"/>
<circle cx="433.9" cy="210.7" r="0.47" fill="#b86a4e" opacity="0.62"/>
<circle cx="396.1" cy="214.9" r="0.59" fill="#b86a4e" opacity="0.74"/>
<circle cx="420.2" cy="209.3" r="0.36" fill="#b86a4e" opacity="0.71"/>
<circle cx="443.9" cy="186.8" r="0.28" fill="#b86a4e" opacity="0.50"/>
<circle cx="421.2" cy="208.2" r="0.42" fill="#b86a4e" opacity="0.31"/>
<circle cx="440.4" cy="172.3" r="0.53" fill="#b86a4e" opacity="0.38"/>
<circle cx="405.2" cy="209.2" r="0.30" fill="#b86a4e" opacity="0.37"/>
<circle cx="418.7" cy="205.9" r="0.54" fill="#b86a4e" opacity="0.61"/>
<circle cx="450.6" cy="194.1" r="0.58" fill="#b86a4e" opacity="0.34"/>
<circle cx="396.8" cy="195.9" r="0.35" fill="#b86a4e" opacity="0.63"/>
<circle cx="427.8" cy="195.7" r="0.55" fill="#b86a4e" opacity="0.55"/>
<circle cx="403.5" cy="188.4" r="0.55" fill="#b86a4e" opacity="0.71"/>
<circle cx="395.8" cy="212.4" r="0.59" fill="#b86a4e" opacity="0.54"/>
<circle cx="422.9" cy="179.2" r="0.44" fill="#b86a4e" opacity="0.53"/>
<circle cx="425.3" cy="170.4" r="0.59" fill="#b86a4e" opacity="0.53"/>
<circle cx="410.1" cy="209.9" r="0.45" fill="#b86a4e" opacity="0.52"/>
<circle cx="431.6" cy="172.4" r="0.44" fill="#b86a4e" opacity="0.49"/>
<circle cx="451.4" cy="216.1" r="0.34" fill="#b86a4e" opacity="0.51"/>
<circle cx="389.7" cy="191.1" r="0.54" fill="#b86a4e" opacity="0.71"/>
<circle cx="415.7" cy="185.2" r="0.32" fill="#b86a4e" opacity="0.58"/>
<circle cx="449.0" cy="175.6" r="0.52" fill="#b86a4e" opacity="0.31"/>
<circle cx="394.7" cy="180.6" r="0.49" fill="#b86a4e" opacity="0.44"/>
<circle cx="406.7" cy="200.6" r="0.29" fill="#b86a4e" opacity="0.63"/>
<circle cx="389.4" cy="195.0" r="0.34" fill="#b86a4e" opacity="0.39"/>
<circle cx="419.7" cy="191.3" r="0.38" fill="#b86a4e" opacity="0.49"/>
<circle cx="419.6" cy="177.1" r="0.32" fill="#b86a4e" opacity="0.58"/>
<circle cx="427.7" cy="196.0" r="0.55" fill="#b86a4e" opacity="0.58"/>
<circle cx="444.0" cy="180.9" r="0.51" fill="#b86a4e" opacity="0.66"/>
<circle cx="447.4" cy="185.1" r="0.36" fill="#b86a4e" opacity="0.72"/>
<circle cx="396.5" cy="219.9" r="0.56" fill="#b86a4e" opacity="0.36"/>
<circle cx="398.1" cy="206.1" r="0.34" fill="#b86a4e" opacity="0.34"/>
<circle cx="442.1" cy="190.5" r="0.53" fill="#b86a4e" opacity="0.36"/>
<circle cx="410.2" cy="203.9" r="0.26" fill="#b86a4e" opacity="0.39"/>
<circle cx="431.0" cy="215.5" r="0.59" fill="#b86a4e" opacity="0.35"/>
<circle cx="417.9" cy="207.7" r="0.43" fill="#b86a4e" opacity="0.61"/>
<circle cx="394.3" cy="172.6" r="0.29" fill="#b86a4e" opacity="0.32"/>
<circle cx="421.3" cy="195.3" r="0.45" fill="#b86a4e" opacity="0.37"/>
<circle cx="394.0" cy="179.4" r="0.54" fill="#b86a4e" opacity="0.75"/>
<circle cx="449.2" cy="173.9" r="0.27" fill="#b86a4e" opacity="0.73"/>
<circle cx="414.6" cy="208.0" r="0.36" fill="#b86a4e" opacity="0.51"/>
<circle cx="418.6" cy="190.9" r="0.46" fill="#b86a4e" opacity="0.31"/>
<circle cx="432.4" cy="212.1" r="0.31" fill="#b86a4e" opacity="0.50"/>
<circle cx="435.2" cy="189.7" r="0.32" fill="#b86a4e" opacity="0.37"/>
<circle cx="418.4" cy="169.8" r="0.56" fill="#b86a4e" opacity="0.66"/>
<circle cx="432.7" cy="212.9" r="0.47" fill="#b86a4e" opacity="0.48"/>
<circle cx="424.9" cy="194.7" r="0.59" fill="#b86a4e" opacity="0.66"/>
<circle cx="399.5" cy="215.5" r="0.51" fill="#b86a4e" opacity="0.65"/>
<circle cx="440.8" cy="189.7" r="0.56" fill="#b86a4e" opacity="0.70"/>
<circle cx="431.9" cy="208.1" r="0.52" fill="#b86a4e" opacity="0.48"/>
<circle cx="434.0" cy="172.6" r="0.37" fill="#b86a4e" opacity="0.51"/>
<circle cx="381.1" cy="187.1" r="0.47" fill="#b86a4e" opacity="0.58"/>
<circle cx="397.5" cy="217.2" r="0.48" fill="#b86a4e" opacity="0.45"/>
<circle cx="429.3" cy="198.0" r="0.44" fill="#b86a4e" opacity="0.48"/>
<circle cx="454.6" cy="201.8" r="0.50" fill="#b86a4e" opacity="0.64"/>
<circle cx="453.1" cy="170.2" r="0.47" fill="#b86a4e" opacity="0.63"/>
<circle cx="399.4" cy="189.5" r="0.27" fill="#b86a4e" opacity="0.39"/>
<circle cx="408.2" cy="174.0" r="0.34" fill="#b86a4e" opacity="0.71"/>
<circle cx="421.2" cy="194.9" r="0.59" fill="#b86a4e" opacity="0.56"/>
<circle cx="454.2" cy="201.5" r="0.53" fill="#b86a4e" opacity="0.33"/>
<circle cx="424.7" cy="207.7" r="0.27" fill="#b86a4e" opacity="0.72"/>
<circle cx="392.2" cy="193.1" r="0.31" fill="#b86a4e" opacity="0.52"/>
<circle cx="425.7" cy="172.0" r="0.58" fill="#b86a4e" opacity="0.49"/>
<circle cx="419.4" cy="199.5" r="0.38" fill="#b86a4e" opacity="0.43"/>
<circle cx="429.0" cy="197.6" r="0.35" fill="#b86a4e" opacity="0.62"/>
<circle cx="402.3" cy="169.7" r="0.34" fill="#b86a4e" opacity="0.32"/>
<circle cx="391.9" cy="207.5" r="0.39" fill="#b86a4e" opacity="0.70"/>
<circle cx="435.9" cy="171.6" r="0.60" fill="#b86a4e" opacity="0.73"/>
<circle cx="385.8" cy="215.2" r="0.40" fill="#b86a4e" opacity="0.51"/>
<circle cx="452.6" cy="181.4" r="0.43" fill="#b86a4e" opacity="0.72"/>
<circle cx="434.0" cy="192.9" r="0.59" fill="#b86a4e" opacity="0.67"/>
<circle cx="425.1" cy="174.9" r="0.47" fill="#b86a4e" opacity="0.51"/>
<circle cx="395.4" cy="171.7" r="0.43" fill="#b86a4e" opacity="0.36"/>
<circle cx="413.2" cy="203.1" r="0.41" fill="#b86a4e" opacity="0.42"/>
<circle cx="423.6" cy="190.4" r="0.52" fill="#b86a4e" opacity="0.54"/>
<circle cx="454.4" cy="217.6" r="0.51" fill="#b86a4e" opacity="0.41"/>
<circle cx="388.8" cy="214.5" r="0.52" fill="#b86a4e" opacity="0.58"/>
<circle cx="407.0" cy="182.8" r="0.49" fill="#b86a4e" opacity="0.55"/>
<circle cx="424.3" cy="201.3" r="0.51" fill="#b86a4e" opacity="0.39"/>
<circle cx="398.8" cy="219.0" r="0.57" fill="#b86a4e" opacity="0.70"/>
<circle cx="383.2" cy="172.1" r="0.34" fill="#b86a4e" opacity="0.49"/>
<circle cx="426.6" cy="174.2" r="0.44" fill="#b86a4e" opacity="0.33"/>
<circle cx="386.7" cy="203.5" r="0.44" fill="#b86a4e" opacity="0.58"/>
<circle cx="408.0" cy="193.4" r="0.32" fill="#b86a4e" opacity="0.45"/>
<circle cx="435.6" cy="211.8" r="0.28" fill="#b86a4e" opacity="0.35"/>
<circle cx="440.4" cy="200.8" r="0.52" fill="#b86a4e" opacity="0.40"/>
<circle cx="411.8" cy="182.2" r="0.53" fill="#b86a4e" opacity="0.47"/>
<circle cx="428.9" cy="219.4" r="0.36" fill="#b86a4e" opacity="0.55"/>
<circle cx="435.7" cy="216.0" r="0.40" fill="#b86a4e" opacity="0.47"/>
<circle cx="387.5" cy="213.6" r="0.28" fill="#b86a4e" opacity="0.34"/>
<circle cx="422.2" cy="193.7" r="0.49" fill="#b86a4e" opacity="0.43"/>
<circle cx="437.9" cy="172.9" r="0.32" fill="#b86a4e" opacity="0.60"/>
<circle cx="386.4" cy="184.5" r="0.50" fill="#b86a4e" opacity="0.61"/>
<circle cx="401.3" cy="176.3" r="0.38" fill="#b86a4e" opacity="0.63"/>
<circle cx="407.5" cy="175.0" r="0.50" fill="#b86a4e" opacity="0.56"/>
<circle cx="448.5" cy="216.9" r="0.57" fill="#b86a4e" opacity="0.50"/>
<circle cx="440.0" cy="184.5" r="0.36" fill="#b86a4e" opacity="0.48"/>
<circle cx="449.7" cy="214.6" r="0.34" fill="#b86a4e" opacity="0.46"/>
<circle cx="407.5" cy="187.5" r="0.39" fill="#b86a4e" opacity="0.47"/>
<circle cx="394.8" cy="197.8" r="0.53" fill="#b86a4e" opacity="0.54"/>
<circle cx="442.4" cy="197.7" r="0.31" fill="#b86a4e" opacity="0.64"/>
<circle cx="445.8" cy="183.4" r="0.26" fill="#b86a4e" opacity="0.53"/>
<circle cx="420.7" cy="197.9" r="0.59" fill="#b86a4e" opacity="0.59"/>
<circle cx="440.1" cy="172.3" r="0.44" fill="#b86a4e" opacity="0.65"/>
<circle cx="386.5" cy="173.2" r="0.51" fill="#b86a4e" opacity="0.70"/>
<circle cx="386.6" cy="201.3" r="0.30" fill="#b86a4e" opacity="0.64"/>
<circle cx="428.5" cy="181.5" r="0.33" fill="#b86a4e" opacity="0.64"/>
<circle cx="419.1" cy="208.0" r="0.39" fill="#b86a4e" opacity="0.45"/>
<circle cx="452.2" cy="203.3" r="0.42" fill="#b86a4e" opacity="0.54"/>
<circle cx="433.9" cy="205.1" r="0.57" fill="#b86a4e" opacity="0.48"/>
<circle cx="441.7" cy="203.0" r="0.55" fill="#b86a4e" opacity="0.66"/>
<circle cx="442.3" cy="214.3" r="0.59" fill="#b86a4e" opacity="0.59"/>
<circle cx="419.2" cy="205.2" r="0.53" fill="#b86a4e" opacity="0.49"/>
<circle cx="411.5" cy="176.5" r="0.51" fill="#b86a4e" opacity="0.75"/>
<circle cx="408.2" cy="177.6" r="0.32" fill="#b86a4e" opacity="0.49"/>
<circle cx="402.0" cy="218.5" r="0.27" fill="#b86a4e" opacity="0.44"/>
<circle cx="388.8" cy="202.0" r="0.52" fill="#b86a4e" opacity="0.38"/>
<circle cx="384.9" cy="192.4" r="0.45" fill="#b86a4e" opacity="0.71"/>
<circle cx="383.0" cy="174.5" r="0.31" fill="#b86a4e" opacity="0.40"/>
<circle cx="397.8" cy="205.6" r="0.46" fill="#b86a4e" opacity="0.40"/>
<circle cx="394.0" cy="183.3" r="0.31" fill="#b86a4e" opacity="0.64"/>
<circle cx="403.5" cy="197.0" r="0.54" fill="#b86a4e" opacity="0.52"/>
<circle cx="399.7" cy="214.3" r="0.57" fill="#b86a4e" opacity="0.45"/>
<circle cx="421.0" cy="217.8" r="0.42" fill="#b86a4e" opacity="0.40"/>
<circle cx="384.0" cy="217.3" r="0.53" fill="#b86a4e" opacity="0.47"/>
<circle cx="419.5" cy="195.3" r="0.35" fill="#b86a4e" opacity="0.75"/>
<circle cx="429.2" cy="181.1" r="0.25" fill="#b86a4e" opacity="0.51"/>
<circle cx="407.9" cy="209.6" r="0.50" fill="#b86a4e" opacity="0.57"/>
<circle cx="392.0" cy="177.0" r="0.36" fill="#b86a4e" opacity="0.42"/>
<circle cx="444.9" cy="195.3" r="0.47" fill="#b86a4e" opacity="0.75"/>
<circle cx="400.1" cy="196.3" r="0.30" fill="#b86a4e" opacity="0.65"/>
<circle cx="380.4" cy="210.9" r="0.55" fill="#b86a4e" opacity="0.67"/>
<circle cx="386.4" cy="182.8" r="0.50" fill="#b86a4e" opacity="0.34"/>
<circle cx="416.0" cy="192.9" r="0.58" fill="#b86a4e" opacity="0.56"/>
<circle cx="444.0" cy="184.5" r="0.53" fill="#b86a4e" opacity="0.49"/>
<circle cx="448.4" cy="173.6" r="0.54" fill="#b86a4e" opacity="0.39"/>
<circle cx="420.7" cy="195.8" r="0.31" fill="#b86a4e" opacity="0.67"/>
<circle cx="403.4" cy="184.8" r="0.28" fill="#b86a4e" opacity="0.44"/>
<circle cx="415.0" cy="205.5" r="0.38" fill="#b86a4e" opacity="0.61"/>
<circle cx="388.2" cy="189.1" r="0.41" fill="#b86a4e" opacity="0.74"/>
<circle cx="441.9" cy="202.4" r="0.25" fill="#b86a4e" opacity="0.47"/>
<circle cx="433.1" cy="181.1" r="0.45" fill="#b86a4e" opacity="0.51"/>
<circle cx="381.1" cy="219.6" r="0.53" fill="#b86a4e" opacity="0.39"/>
<circle cx="426.1" cy="183.8" r="0.38" fill="#b86a4e" opacity="0.54"/>
<circle cx="402.5" cy="186.2" r="0.39" fill="#b86a4e" opacity="0.60"/>
<circle cx="399.4" cy="179.2" r="0.51" fill="#b86a4e" opacity="0.45"/>
<circle cx="450.5" cy="197.7" r="0.50" fill="#b86a4e" opacity="0.45"/>
<circle cx="441.7" cy="173.7" r="0.30" fill="#b86a4e" opacity="0.34"/>
<circle cx="430.7" cy="205.1" r="0.31" fill="#b86a4e" opacity="0.48"/>
<circle cx="442.5" cy="199.2" r="0.28" fill="#b86a4e" opacity="0.40"/>
<circle cx="392.0" cy="175.3" r="0.39" fill="#b86a4e" opacity="0.33"/>
<circle cx="448.7" cy="190.8" r="0.43" fill="#b86a4e" opacity="0.59"/>
<circle cx="437.3" cy="210.9" r="0.39" fill="#b86a4e" opacity="0.45"/>
<circle cx="410.9" cy="169.8" r="0.39" fill="#b86a4e" opacity="0.61"/>
<circle cx="453.3" cy="209.3" r="0.48" fill="#b86a4e" opacity="0.57"/>
<circle cx="381.7" cy="185.9" r="0.37" fill="#b86a4e" opacity="0.59"/>
<circle cx="388.2" cy="188.3" r="0.43" fill="#b86a4e" opacity="0.65"/>
<circle cx="441.6" cy="200.2" r="0.31" fill="#b86a4e" opacity="0.64"/>
<circle cx="447.4" cy="197.0" r="0.37" fill="#b86a4e" opacity="0.53"/>
<circle cx="390.8" cy="205.4" r="0.60" fill="#b86a4e" opacity="0.53"/>
<circle cx="433.5" cy="211.6" r="0.32" fill="#b86a4e" opacity="0.73"/>
<circle cx="426.9" cy="179.1" r="0.28" fill="#b86a4e" opacity="0.41"/>
<circle cx="423.1" cy="204.6" r="0.37" fill="#b86a4e" opacity="0.72"/>
<circle cx="407.1" cy="192.6" r="0.29" fill="#b86a4e" opacity="0.74"/>
<circle cx="390.4" cy="215.1" r="0.44" fill="#b86a4e" opacity="0.55"/>
<circle cx="421.9" cy="182.5" r="0.57" fill="#b86a4e" opacity="0.75"/>
<circle cx="441.0" cy="199.7" r="0.29" fill="#b86a4e" opacity="0.67"/>
<circle cx="401.7" cy="214.7" r="0.33" fill="#b86a4e" opacity="0.56"/>
<circle cx="442.0" cy="178.5" r="0.44" fill="#b86a4e" opacity="0.33"/>
<circle cx="382.7" cy="178.2" r="0.60" fill="#b86a4e" opacity="0.72"/>
<circle cx="429.2" cy="184.7" r="0.48" fill="#b86a4e" opacity="0.63"/>
<circle cx="408.7" cy="199.2" r="0.53" fill="#b86a4e" opacity="0.31"/>
<circle cx="395.1" cy="192.9" r="0.30" fill="#b86a4e" opacity="0.47"/>
<circle cx="422.6" cy="177.9" r="0.43" fill="#b86a4e" opacity="0.42"/>
<circle cx="422.5" cy="185.9" r="0.47" fill="#b86a4e" opacity="0.32"/>
<circle cx="430.2" cy="176.4" r="0.59" fill="#b86a4e" opacity="0.57"/>
<circle cx="415.2" cy="190.0" r="0.47" fill="#b86a4e" opacity="0.61"/>
<circle cx="436.6" cy="207.3" r="0.42" fill="#b86a4e" opacity="0.75"/>
<circle cx="442.6" cy="212.6" r="0.39" fill="#b86a4e" opacity="0.50"/>
<circle cx="422.4" cy="215.2" r="0.43" fill="#b86a4e" opacity="0.54"/>
<circle cx="412.4" cy="215.1" r="0.36" fill="#b86a4e" opacity="0.32"/>
<circle cx="434.2" cy="214.9" r="0.51" fill="#b86a4e" opacity="0.57"/>
<circle cx="436.2" cy="184.5" r="0.46" fill="#b86a4e" opacity="0.33"/>
<circle cx="389.5" cy="191.8" r="0.43" fill="#b86a4e" opacity="0.48"/>
<circle cx="384.2" cy="204.4" r="0.43" fill="#b86a4e" opacity="0.41"/>
<circle cx="403.1" cy="189.2" r="0.33" fill="#b86a4e" opacity="0.33"/>
<circle cx="448.0" cy="218.3" r="0.48" fill="#b86a4e" opacity="0.69"/>
<circle cx="411.6" cy="210.1" r="0.33" fill="#b86a4e" opacity="0.64"/>
<circle cx="422.4" cy="215.1" r="0.28" fill="#b86a4e" opacity="0.66"/>
<circle cx="389.5" cy="196.4" r="0.58" fill="#b86a4e" opacity="0.30"/>
<circle cx="398.4" cy="184.3" r="0.36" fill="#b86a4e" opacity="0.33"/>
<circle cx="446.8" cy="210.6" r="0.39" fill="#b86a4e" opacity="0.46"/>
<circle cx="423.8" cy="171.3" r="0.26" fill="#b86a4e" opacity="0.70"/>
<circle cx="403.2" cy="194.4" r="0.58" fill="#b86a4e" opacity="0.74"/>
<circle cx="415.4" cy="179.5" r="0.35" fill="#b86a4e" opacity="0.72"/>
<circle cx="446.9" cy="179.0" r="0.54" fill="#b86a4e" opacity="0.46"/>
<circle cx="415.4" cy="177.8" r="0.56" fill="#b86a4e" opacity="0.75"/>
<circle cx="395.3" cy="201.3" r="0.32" fill="#b86a4e" opacity="0.70"/>
<circle cx="384.0" cy="174.4" r="0.50" fill="#b86a4e" opacity="0.44"/>
<circle cx="447.2" cy="213.3" r="0.50" fill="#b86a4e" opacity="0.36"/>
<circle cx="432.0" cy="216.8" r="0.41" fill="#b86a4e" opacity="0.34"/>
<circle cx="396.9" cy="184.7" r="0.50" fill="#b86a4e" opacity="0.39"/>
<circle cx="393.7" cy="181.0" r="0.48" fill="#b86a4e" opacity="0.66"/>
<circle cx="408.0" cy="202.8" r="0.56" fill="#b86a4e" opacity="0.57"/>
<circle cx="397.3" cy="184.3" r="0.57" fill="#b86a4e" opacity="0.60"/>
<circle cx="400.9" cy="201.6" r="0.28" fill="#b86a4e" opacity="0.74"/>
<circle cx="413.0" cy="195.9" r="0.44" fill="#b86a4e" opacity="0.32"/>
<circle cx="424.9" cy="183.5" r="0.34" fill="#b86a4e" opacity="0.66"/>
<circle cx="386.8" cy="183.5" r="0.51" fill="#b86a4e" opacity="0.41"/>
<circle cx="401.0" cy="197.0" r="0.32" fill="#b86a4e" opacity="0.70"/>
<circle cx="453.7" cy="170.7" r="0.41" fill="#b86a4e" opacity="0.64"/>
<circle cx="408.9" cy="216.4" r="0.42" fill="#b86a4e" opacity="0.38"/>
<circle cx="421.6" cy="201.9" r="0.38" fill="#b86a4e" opacity="0.60"/>
<circle cx="438.5" cy="195.4" r="0.43" fill="#b86a4e" opacity="0.68"/>
<circle cx="431.1" cy="195.5" r="0.58" fill="#b86a4e" opacity="0.38"/>
<circle cx="438.2" cy="177.4" r="0.46" fill="#b86a4e" opacity="0.41"/>
<circle cx="413.0" cy="208.4" r="0.53" fill="#b86a4e" opacity="0.66"/>
<circle cx="397.8" cy="193.9" r="0.33" fill="#b86a4e" opacity="0.56"/>
<circle cx="417.4" cy="170.8" r="0.46" fill="#b86a4e" opacity="0.62"/>
<circle cx="422.8" cy="213.5" r="0.31" fill="#b86a4e" opacity="0.37"/>
<circle cx="381.6" cy="194.3" r="0.40" fill="#b86a4e" opacity="0.50"/>
<circle cx="399.8" cy="209.7" r="0.28" fill="#b86a4e" opacity="0.71"/>
<circle cx="422.6" cy="196.7" r="0.53" fill="#b86a4e" opacity="0.41"/>
<circle cx="391.2" cy="184.9" r="0.26" fill="#b86a4e" opacity="0.44"/>
<circle cx="426.5" cy="195.8" r="0.34" fill="#b86a4e" opacity="0.56"/>
<circle cx="386.9" cy="210.8" r="0.31" fill="#b86a4e" opacity="0.41"/>
<circle cx="392.2" cy="204.2" r="0.54" fill="#b86a4e" opacity="0.65"/>
<circle cx="384.8" cy="189.9" r="0.38" fill="#b86a4e" opacity="0.40"/>
<circle cx="452.4" cy="171.1" r="0.42" fill="#b86a4e" opacity="0.64"/>
<circle cx="453.6" cy="176.4" r="0.41" fill="#b86a4e" opacity="0.64"/>
<circle cx="383.2" cy="181.3" r="0.56" fill="#b86a4e" opacity="0.36"/>
<circle cx="409.5" cy="184.2" r="0.40" fill="#b86a4e" opacity="0.33"/>
<circle cx="382.8" cy="219.8" r="0.52" fill="#b86a4e" opacity="0.63"/>
<circle cx="397.4" cy="181.9" r="0.44" fill="#b86a4e" opacity="0.41"/>
<circle cx="414.6" cy="216.6" r="0.38" fill="#b86a4e" opacity="0.45"/>
<circle cx="453.2" cy="200.2" r="0.26" fill="#b86a4e" opacity="0.48"/>
<circle cx="428.6" cy="172.0" r="0.37" fill="#b86a4e" opacity="0.61"/>
<circle cx="444.5" cy="199.1" r="0.56" fill="#b86a4e" opacity="0.51"/>
<circle cx="409.5" cy="212.0" r="0.38" fill="#b86a4e" opacity="0.65"/>
<circle cx="396.3" cy="186.7" r="0.31" fill="#b86a4e" opacity="0.55"/>
<circle cx="392.5" cy="179.4" r="0.33" fill="#b86a4e" opacity="0.51"/>
<circle cx="403.2" cy="191.8" r="0.60" fill="#b86a4e" opacity="0.61"/>
<circle cx="444.4" cy="179.4" r="0.38" fill="#b86a4e" opacity="0.33"/>
<circle cx="431.7" cy="187.5" r="0.35" fill="#b86a4e" opacity="0.31"/>
<circle cx="393.8" cy="182.4" r="0.39" fill="#b86a4e" opacity="0.72"/>
<circle cx="433.4" cy="182.7" r="0.38" fill="#b86a4e" opacity="0.37"/>
<circle cx="449.9" cy="187.3" r="0.52" fill="#b86a4e" opacity="0.63"/>
<circle cx="447.7" cy="170.0" r="0.36" fill="#b86a4e" opacity="0.47"/>
<circle cx="386.5" cy="214.0" r="0.36" fill="#b86a4e" opacity="0.65"/>
<circle cx="418.9" cy="171.8" r="0.39" fill="#b86a4e" opacity="0.41"/>
<circle cx="383.3" cy="176.7" r="0.46" fill="#b86a4e" opacity="0.31"/>
<circle cx="403.5" cy="190.6" r="0.44" fill="#b86a4e" opacity="0.36"/>
<circle cx="432.8" cy="182.3" r="0.50" fill="#b86a4e" opacity="0.60"/>
<circle cx="391.2" cy="179.4" r="0.35" fill="#b86a4e" opacity="0.62"/>
<circle cx="410.4" cy="188.7" r="0.55" fill="#b86a4e" opacity="0.40"/>
<circle cx="402.0" cy="186.6" r="0.33" fill="#b86a4e" opacity="0.32"/>
<circle cx="382.1" cy="201.2" r="0.45" fill="#b86a4e" opacity="0.66"/>
<circle cx="452.8" cy="184.2" r="0.48" fill="#b86a4e" opacity="0.71"/>
<circle cx="396.4" cy="204.1" r="0.48" fill="#b86a4e" opacity="0.73"/>
<circle cx="444.8" cy="181.0" r="0.47" fill="#b86a4e" opacity="0.34"/>
<circle cx="412.1" cy="189.0" r="0.27" fill="#b86a4e" opacity="0.47"/>
<circle cx="404.7" cy="194.4" r="0.35" fill="#b86a4e" opacity="0.37"/>
<circle cx="410.2" cy="193.2" r="0.31" fill="#b86a4e" opacity="0.60"/>
<circle cx="398.1" cy="173.7" r="0.37" fill="#b86a4e" opacity="0.49"/>
<circle cx="391.5" cy="198.7" r="0.50" fill="#b86a4e" opacity="0.55"/>
<circle cx="432.3" cy="170.2" r="0.39" fill="#b86a4e" opacity="0.46"/>
<circle cx="385.0" cy="189.6" r="0.27" fill="#b86a4e" opacity="0.52"/>
<circle cx="423.8" cy="192.9" r="0.36" fill="#b86a4e" opacity="0.41"/>
<circle cx="382.0" cy="186.7" r="0.56" fill="#b86a4e" opacity="0.55"/>
<circle cx="399.8" cy="203.1" r="0.32" fill="#b86a4e" opacity="0.51"/>
<circle cx="426.0" cy="217.7" r="0.38" fill="#b86a4e" opacity="0.56"/>
<circle cx="450.3" cy="208.3" r="0.47" fill="#b86a4e" opacity="0.58"/>
<circle cx="410.8" cy="190.2" r="0.35" fill="#b86a4e" opacity="0.67"/>
<circle cx="445.7" cy="188.5" r="0.57" fill="#b86a4e" opacity="0.32"/>
<circle cx="390.4" cy="194.9" r="0.36" fill="#b86a4e" opacity="0.46"/>
<circle cx="452.9" cy="176.6" r="0.32" fill="#b86a4e" opacity="0.40"/>
<circle cx="430.8" cy="181.0" r="0.25" fill="#b86a4e" opacity="0.54"/>
<circle cx="409.6" cy="181.2" r="0.42" fill="#b86a4e" opacity="0.59"/>
<circle cx="421.0" cy="200.8" r="0.45" fill="#b86a4e" opacity="0.67"/>
<circle cx="452.3" cy="186.0" r="0.37" fill="#b86a4e" opacity="0.70"/>
<circle cx="403.6" cy="205.5" r="0.49" fill="#b86a4e" opacity="0.61"/>
<circle cx="451.9" cy="211.0" r="0.31" fill="#b86a4e" opacity="0.58"/>
<circle cx="416.8" cy="197.8" r="0.38" fill="#b86a4e" opacity="0.43"/>
<circle cx="435.9" cy="196.2" r="0.33" fill="#b86a4e" opacity="0.41"/>
<circle cx="404.4" cy="178.1" r="0.43" fill="#b86a4e" opacity="0.36"/>
<circle cx="385.0" cy="172.5" r="0.29" fill="#b86a4e" opacity="0.62"/>
<circle cx="388.7" cy="192.0" r="0.52" fill="#b86a4e" opacity="0.52"/>
<circle cx="392.4" cy="213.2" r="0.55" fill="#b86a4e" opacity="0.32"/>
<circle cx="399.2" cy="194.9" r="0.53" fill="#b86a4e" opacity="0.48"/>
<circle cx="433.5" cy="181.8" r="0.50" fill="#b86a4e" opacity="0.45"/>
<circle cx="405.1" cy="207.7" r="0.54" fill="#b86a4e" opacity="0.67"/>
<circle cx="422.5" cy="190.5" r="0.50" fill="#b86a4e" opacity="0.58"/>
<circle cx="442.0" cy="209.9" r="0.29" fill="#b86a4e" opacity="0.47"/>
<circle cx="430.0" cy="180.8" r="0.31" fill="#b86a4e" opacity="0.31"/>
<circle cx="423.8" cy="217.0" r="0.59" fill="#b86a4e" opacity="0.36"/>
<circle cx="431.4" cy="190.4" r="0.47" fill="#b86a4e" opacity="0.48"/>
<circle cx="449.6" cy="219.4" r="0.27" fill="#b86a4e" opacity="0.62"/>
<circle cx="389.1" cy="171.2" r="0.35" fill="#b86a4e" opacity="0.63"/>
<circle cx="454.1" cy="175.1" r="0.37" fill="#b86a4e" opacity="0.31"/>
<circle cx="420.6" cy="193.6" r="0.38" fill="#b86a4e" opacity="0.44"/>
<circle cx="439.8" cy="211.8" r="0.35" fill="#b86a4e" opacity="0.48"/>
<circle cx="426.2" cy="208.0" r="0.59" fill="#b86a4e" opacity="0.48"/>
<circle cx="431.9" cy="196.8" r="0.53" fill="#b86a4e" opacity="0.37"/>
<circle cx="393.3" cy="174.5" r="0.58" fill="#b86a4e" opacity="0.41"/>
<circle cx="416.6" cy="175.1" r="0.36" fill="#b86a4e" opacity="0.31"/>
<circle cx="422.3" cy="176.3" r="0.47" fill="#b86a4e" opacity="0.42"/>
<circle cx="397.2" cy="193.6" r="0.38" fill="#b86a4e" opacity="0.42"/>
<circle cx="384.1" cy="172.3" r="0.56" fill="#b86a4e" opacity="0.44"/>
<circle cx="386.1" cy="178.3" r="0.42" fill="#b86a4e" opacity="0.75"/>
<circle cx="395.3" cy="213.2" r="0.42" fill="#b86a4e" opacity="0.49"/>
<circle cx="440.3" cy="189.2" r="0.27" fill="#b86a4e" opacity="0.55"/>
<circle cx="429.1" cy="200.8" r="0.35" fill="#b86a4e" opacity="0.72"/>
<circle cx="444.5" cy="219.7" r="0.41" fill="#b86a4e" opacity="0.68"/>
<circle cx="434.2" cy="178.0" r="0.26" fill="#b86a4e" opacity="0.38"/>
<circle cx="389.1" cy="172.8" r="0.38" fill="#b86a4e" opacity="0.64"/>
<circle cx="403.3" cy="195.2" r="0.25" fill="#b86a4e" opacity="0.39"/>
<circle cx="451.6" cy="169.6" r="0.43" fill="#b86a4e" opacity="0.66"/>
<circle cx="439.2" cy="206.5" r="0.39" fill="#b86a4e" opacity="0.66"/>
<circle cx="441.8" cy="208.2" r="0.60" fill="#b86a4e" opacity="0.35"/>
<circle cx="450.9" cy="189.5" r="0.50" fill="#b86a4e" opacity="0.41"/>
<circle cx="447.9" cy="170.2" r="0.45" fill="#b86a4e" opacity="0.40"/>
<circle cx="409.2" cy="187.8" r="0.48" fill="#b86a4e" opacity="0.66"/>
<circle cx="407.4" cy="201.5" r="0.37" fill="#b86a4e" opacity="0.43"/>
<circle cx="447.6" cy="185.4" r="0.28" fill="#b86a4e" opacity="0.45"/>
<circle cx="435.4" cy="179.8" r="0.51" fill="#b86a4e" opacity="0.55"/>
<circle cx="430.8" cy="178.0" r="0.29" fill="#b86a4e" opacity="0.36"/>
<circle cx="406.3" cy="191.0" r="0.25" fill="#b86a4e" opacity="0.53"/>
<circle cx="410.3" cy="185.4" r="0.44" fill="#b86a4e" opacity="0.73"/>
<circle cx="395.5" cy="213.9" r="0.36" fill="#b86a4e" opacity="0.64"/>
<circle cx="388.4" cy="219.4" r="0.40" fill="#b86a4e" opacity="0.73"/>
<circle cx="396.6" cy="189.8" r="0.50" fill="#b86a4e" opacity="0.38"/>
<circle cx="400.6" cy="203.5" r="0.58" fill="#b86a4e" opacity="0.45"/>
<circle cx="393.9" cy="187.2" r="0.60" fill="#b86a4e" opacity="0.37"/>
<circle cx="427.5" cy="188.3" r="0.48" fill="#b86a4e" opacity="0.40"/>
<circle cx="426.1" cy="214.3" r="0.55" fill="#b86a4e" opacity="0.58"/>
<circle cx="417.8" cy="198.0" r="0.29" fill="#b86a4e" opacity="0.68"/>
<circle cx="431.6" cy="192.1" r="0.48" fill="#b86a4e" opacity="0.49"/>
<circle cx="408.9" cy="180.7" r="0.46" fill="#b86a4e" opacity="0.56"/>
<circle cx="418.6" cy="170.6" r="0.47" fill="#b86a4e" opacity="0.50"/>
<circle cx="424.4" cy="199.3" r="0.58" fill="#b86a4e" opacity="0.37"/>
<circle cx="415.1" cy="219.6" r="0.51" fill="#b86a4e" opacity="0.44"/>
<circle cx="435.0" cy="219.5" r="0.39" fill="#b86a4e" opacity="0.69"/>
<circle cx="389.7" cy="219.5" r="0.42" fill="#b86a4e" opacity="0.41"/>
<circle cx="442.7" cy="202.1" r="0.58" fill="#b86a4e" opacity="0.67"/>
<circle cx="439.6" cy="195.1" r="0.60" fill="#b86a4e" opacity="0.33"/>
<circle cx="444.9" cy="205.3" r="0.34" fill="#b86a4e" opacity="0.66"/>
<circle cx="414.0" cy="196.4" r="0.55" fill="#b86a4e" opacity="0.39"/>
<circle cx="401.1" cy="201.8" r="0.28" fill="#b86a4e" opacity="0.55"/>
<circle cx="438.8" cy="194.0" r="0.33" fill="#b86a4e" opacity="0.66"/>
<circle cx="443.8" cy="208.3" r="0.44" fill="#b86a4e" opacity="0.71"/>
<circle cx="439.5" cy="176.7" r="0.38" fill="#b86a4e" opacity="0.35"/>
<circle cx="383.0" cy="186.6" r="0.55" fill="#b86a4e" opacity="0.68"/>
<circle cx="389.0" cy="178.3" r="0.39" fill="#b86a4e" opacity="0.68"/>
<circle cx="426.1" cy="215.0" r="0.28" fill="#b86a4e" opacity="0.74"/>
<circle cx="395.7" cy="201.1" r="0.56" fill="#b86a4e" opacity="0.63"/>
<circle cx="394.9" cy="203.1" r="0.40" fill="#b86a4e" opacity="0.31"/>
<circle cx="405.5" cy="185.1" r="0.47" fill="#b86a4e" opacity="0.43"/>
<circle cx="425.1" cy="204.4" r="0.31" fill="#b86a4e" opacity="0.36"/>
<circle cx="431.8" cy="192.8" r="0.30" fill="#b86a4e" opacity="0.35"/>
<circle cx="450.2" cy="200.1" r="0.38" fill="#b86a4e" opacity="0.39"/>
<circle cx="454.2" cy="204.3" r="0.51" fill="#b86a4e" opacity="0.46"/>
<circle cx="403.4" cy="189.8" r="0.30" fill="#b86a4e" opacity="0.58"/>
<circle cx="411.9" cy="210.8" r="0.39" fill="#b86a4e" opacity="0.51"/>
<circle cx="417.9" cy="217.0" r="0.37" fill="#b86a4e" opacity="0.62"/>
<circle cx="397.8" cy="198.5" r="0.35" fill="#b86a4e" opacity="0.69"/>
<circle cx="401.6" cy="212.6" r="0.49" fill="#b86a4e" opacity="0.50"/>
<circle cx="449.7" cy="188.8" r="0.51" fill="#b86a4e" opacity="0.57"/>
<circle cx="413.6" cy="172.3" r="0.40" fill="#b86a4e" opacity="0.43"/>
<circle cx="413.1" cy="217.7" r="0.35" fill="#b86a4e" opacity="0.61"/>
<circle cx="430.2" cy="181.5" r="0.39" fill="#b86a4e" opacity="0.36"/>
<circle cx="446.8" cy="181.8" r="0.40" fill="#b86a4e" opacity="0.45"/>
<circle cx="441.3" cy="212.4" r="0.46" fill="#b86a4e" opacity="0.55"/>
<circle cx="387.7" cy="214.7" r="0.28" fill="#b86a4e" opacity="0.46"/>
<circle cx="408.1" cy="205.9" r="0.48" fill="#b86a4e" opacity="0.45"/>
<circle cx="447.0" cy="217.4" r="0.26" fill="#b86a4e" opacity="0.58"/>
<circle cx="415.2" cy="187.4" r="0.41" fill="#b86a4e" opacity="0.44"/>
<circle cx="430.1" cy="199.9" r="0.59" fill="#b86a4e" opacity="0.74"/>
<circle cx="454.1" cy="189.2" r="0.54" fill="#b86a4e" opacity="0.59"/>
<circle cx="432.4" cy="219.9" r="0.27" fill="#b86a4e" opacity="0.51"/>
<circle cx="410.1" cy="202.5" r="0.33" fill="#b86a4e" opacity="0.75"/>
<circle cx="395.9" cy="187.9" r="0.30" fill="#b86a4e" opacity="0.48"/>
<circle cx="435.4" cy="173.3" r="0.31" fill="#b86a4e" opacity="0.59"/>
<circle cx="426.6" cy="206.8" r="0.34" fill="#b86a4e" opacity="0.67"/>
<circle cx="434.6" cy="208.6" r="0.29" fill="#b86a4e" opacity="0.51"/>
<circle cx="381.5" cy="212.8" r="0.58" fill="#b86a4e" opacity="0.70"/>
<circle cx="382.1" cy="186.9" r="0.44" fill="#b86a4e" opacity="0.54"/>
<circle cx="388.6" cy="209.3" r="0.36" fill="#b86a4e" opacity="0.53"/>
<circle cx="389.6" cy="198.0" r="0.30" fill="#b86a4e" opacity="0.34"/>
<circle cx="418.4" cy="184.0" r="0.52" fill="#b86a4e" opacity="0.41"/>
<circle cx="411.1" cy="171.8" r="0.33" fill="#b86a4e" opacity="0.50"/>
<circle cx="421.8" cy="192.4" r="0.55" fill="#b86a4e" opacity="0.35"/>
<circle cx="443.5" cy="176.9" r="0.59" fill="#b86a4e" opacity="0.54"/>
<circle cx="410.5" cy="200.2" r="0.55" fill="#b86a4e" opacity="0.73"/>
<circle cx="411.0" cy="169.5" r="0.30" fill="#b86a4e" opacity="0.67"/>
<circle cx="434.9" cy="205.3" r="0.30" fill="#b86a4e" opacity="0.54"/>
<circle cx="382.4" cy="174.6" r="0.36" fill="#b86a4e" opacity="0.73"/>
<circle cx="428.1" cy="212.2" r="0.27" fill="#b86a4e" opacity="0.49"/>
<circle cx="386.1" cy="182.3" r="0.29" fill="#b86a4e" opacity="0.71"/>
<circle cx="404.7" cy="193.9" r="0.48" fill="#b86a4e" opacity="0.70"/>
<circle cx="450.6" cy="198.0" r="0.43" fill="#b86a4e" opacity="0.71"/>
<circle cx="409.6" cy="184.3" r="0.51" fill="#b86a4e" opacity="0.42"/>
<circle cx="407.6" cy="190.9" r="0.42" fill="#b86a4e" opacity="0.46"/>
<circle cx="412.3" cy="192.0" r="0.27" fill="#b86a4e" opacity="0.68"/>
<circle cx="384.9" cy="195.9" r="0.44" fill="#b86a4e" opacity="0.48"/>
<circle cx="396.8" cy="174.1" r="0.38" fill="#b86a4e" opacity="0.44"/>
<circle cx="416.3" cy="180.7" r="0.51" fill="#b86a4e" opacity="0.52"/>
<circle cx="381.0" cy="189.7" r="0.59" fill="#b86a4e" opacity="0.30"/>
<circle cx="424.4" cy="218.0" r="0.38" fill="#b86a4e" opacity="0.57"/>
<circle cx="407.7" cy="184.4" r="0.46" fill="#b86a4e" opacity="0.57"/>
<circle cx="403.7" cy="194.4" r="0.43" fill="#b86a4e" opacity="0.64"/>
<circle cx="384.2" cy="173.7" r="0.34" fill="#b86a4e" opacity="0.42"/>
<circle cx="439.4" cy="190.7" r="0.55" fill="#b86a4e" opacity="0.48"/>
<circle cx="401.5" cy="203.7" r="0.28" fill="#b86a4e" opacity="0.74"/>
<circle cx="442.1" cy="185.7" r="0.36" fill="#b86a4e" opacity="0.67"/>
<circle cx="438.9" cy="201.8" r="0.27" fill="#b86a4e" opacity="0.64"/>
<circle cx="383.9" cy="200.9" r="0.44" fill="#b86a4e" opacity="0.72"/>
<circle cx="427.8" cy="170.1" r="0.58" fill="#b86a4e" opacity="0.64"/>
<circle cx="423.4" cy="169.3" r="0.51" fill="#b86a4e" opacity="0.49"/>
<circle cx="430.8" cy="219.2" r="0.57" fill="#b86a4e" opacity="0.33"/>
<circle cx="438.4" cy="191.5" r="0.51" fill="#b86a4e" opacity="0.47"/>
<circle cx="413.6" cy="191.3" r="0.29" fill="#b86a4e" opacity="0.44"/>
<circle cx="434.9" cy="172.6" r="0.29" fill="#b86a4e" opacity="0.68"/>
<circle cx="429.8" cy="197.0" r="0.29" fill="#b86a4e" opacity="0.35"/>
<circle cx="403.3" cy="217.6" r="0.45" fill="#b86a4e" opacity="0.72"/>
<circle cx="396.0" cy="190.2" r="0.44" fill="#b86a4e" opacity="0.68"/>
<circle cx="389.5" cy="213.6" r="0.42" fill="#b86a4e" opacity="0.31"/>
<circle cx="412.4" cy="188.3" r="0.49" fill="#b86a4e" opacity="0.72"/>
<circle cx="417.0" cy="204.2" r="0.39" fill="#b86a4e" opacity="0.65"/>
<circle cx="388.1" cy="206.9" r="0.31" fill="#b86a4e" opacity="0.56"/>
<circle cx="395.3" cy="186.7" r="0.31" fill="#b86a4e" opacity="0.46"/>
<circle cx="424.2" cy="195.5" r="0.39" fill="#b86a4e" opacity="0.56"/>
<circle cx="442.9" cy="187.3" r="0.45" fill="#b86a4e" opacity="0.52"/>
<circle cx="453.2" cy="185.7" r="0.49" fill="#b86a4e" opacity="0.41"/>
<circle cx="399.7" cy="206.3" r="0.45" fill="#b86a4e" opacity="0.42"/>
<circle cx="385.1" cy="211.1" r="0.38" fill="#b86a4e" opacity="0.62"/>
<circle cx="412.5" cy="200.5" r="0.45" fill="#b86a4e" opacity="0.74"/>
<circle cx="447.9" cy="192.2" r="0.42" fill="#b86a4e" opacity="0.40"/>
<circle cx="436.3" cy="174.2" r="0.36" fill="#b86a4e" opacity="0.68"/>
<circle cx="382.9" cy="204.6" r="0.45" fill="#b86a4e" opacity="0.55"/>
<circle cx="405.0" cy="176.7" r="0.58" fill="#b86a4e" opacity="0.64"/>
<circle cx="440.2" cy="174.0" r="0.52" fill="#b86a4e" opacity="0.40"/>
<circle cx="395.1" cy="196.3" r="0.46" fill="#b86a4e" opacity="0.35"/>
<circle cx="437.1" cy="198.7" r="0.56" fill="#b86a4e" opacity="0.72"/>
<circle cx="431.5" cy="187.6" r="0.58" fill="#b86a4e" opacity="0.62"/>
<circle cx="401.9" cy="212.7" r="0.50" fill="#b86a4e" opacity="0.42"/>
<circle cx="398.8" cy="170.0" r="0.44" fill="#b86a4e" opacity="0.41"/>
<circle cx="402.1" cy="181.9" r="0.30" fill="#b86a4e" opacity="0.52"/>
<circle cx="400.6" cy="183.5" r="0.35" fill="#b86a4e" opacity="0.53"/>
<circle cx="445.2" cy="177.2" r="0.55" fill="#b86a4e" opacity="0.68"/>
<circle cx="425.6" cy="196.7" r="0.51" fill="#b86a4e" opacity="0.54"/>
<circle cx="429.3" cy="215.9" r="0.52" fill="#b86a4e" opacity="0.42"/>
<circle cx="384.3" cy="216.8" r="0.38" fill="#b86a4e" opacity="0.65"/>
<circle cx="397.6" cy="192.1" r="0.38" fill="#b86a4e" opacity="0.63"/>
<circle cx="450.4" cy="194.8" r="0.45" fill="#b86a4e" opacity="0.46"/>
<circle cx="397.6" cy="217.4" r="0.29" fill="#b86a4e" opacity="0.72"/>
<circle cx="429.1" cy="172.7" r="0.57" fill="#b86a4e" opacity="0.35"/>
<circle cx="422.3" cy="175.1" r="0.60" fill="#b86a4e" opacity="0.44"/>
<circle cx="445.1" cy="172.1" r="0.48" fill="#b86a4e" opacity="0.33"/>
<circle cx="382.5" cy="198.1" r="0.59" fill="#b86a4e" opacity="0.61"/>
<circle cx="443.8" cy="209.0" r="0.43" fill="#b86a4e" opacity="0.33"/>
<circle cx="419.5" cy="178.4" r="0.43" fill="#b86a4e" opacity="0.46"/>
<circle cx="417.4" cy="179.1" r="0.50" fill="#b86a4e" opacity="0.49"/>
<circle cx="416.4" cy="173.0" r="0.42" fill="#b86a4e" opacity="0.55"/>
<circle cx="452.6" cy="197.6" r="0.30" fill="#b86a4e" opacity="0.44"/>
<circle cx="405.2" cy="204.8" r="0.58" fill="#b86a4e" opacity="0.74"/>
<circle cx="450.9" cy="216.2" r="0.55" fill="#b86a4e" opacity="0.72"/>
<circle cx="381.8" cy="194.0" r="0.46" fill="#b86a4e" opacity="0.61"/>
<circle cx="425.8" cy="200.3" r="0.58" fill="#b86a4e" opacity="0.34"/>
<circle cx="418.9" cy="217.9" r="0.26" fill="#b86a4e" opacity="0.35"/>
<circle cx="444.9" cy="217.8" r="0.26" fill="#b86a4e" opacity="0.31"/>
<circle cx="442.0" cy="204.1" r="0.43" fill="#b86a4e" opacity="0.56"/>
<circle cx="436.6" cy="210.2" r="0.25" fill="#b86a4e" opacity="0.33"/>
<circle cx="439.3" cy="218.7" r="0.54" fill="#b86a4e" opacity="0.48"/>
<circle cx="405.2" cy="186.7" r="0.26" fill="#b86a4e" opacity="0.65"/>
<circle cx="399.8" cy="198.9" r="0.43" fill="#b86a4e" opacity="0.45"/>
<circle cx="430.4" cy="192.2" r="0.33" fill="#b86a4e" opacity="0.70"/>
<circle cx="393.4" cy="176.6" r="0.34" fill="#b86a4e" opacity="0.52"/>
<circle cx="438.5" cy="186.0" r="0.33" fill="#b86a4e" opacity="0.59"/>
<circle cx="399.6" cy="195.7" r="0.34" fill="#b86a4e" opacity="0.69"/>
<circle cx="394.0" cy="180.8" r="0.36" fill="#b86a4e" opacity="0.45"/>
<circle cx="434.3" cy="203.4" r="0.53" fill="#b86a4e" opacity="0.54"/>
<circle cx="386.1" cy="207.9" r="0.34" fill="#b86a4e" opacity="0.40"/>
<circle cx="411.1" cy="219.5" r="0.38" fill="#b86a4e" opacity="0.46"/>
<circle cx="448.0" cy="219.5" r="0.39" fill="#b86a4e" opacity="0.36"/>
<circle cx="439.0" cy="208.9" r="0.37" fill="#b86a4e" opacity="0.66"/>
<circle cx="408.5" cy="183.6" r="0.46" fill="#b86a4e" opacity="0.63"/>
<circle cx="415.7" cy="210.7" r="0.25" fill="#b86a4e" opacity="0.52"/>
<circle cx="408.6" cy="172.3" r="0.57" fill="#b86a4e" opacity="0.36"/>
<circle cx="395.6" cy="213.8" r="0.59" fill="#b86a4e" opacity="0.72"/>
<circle cx="405.7" cy="216.5" r="0.30" fill="#b86a4e" opacity="0.62"/>
<circle cx="450.6" cy="178.8" r="0.30" fill="#b86a4e" opacity="0.61"/>
<circle cx="445.9" cy="206.0" r="0.58" fill="#b86a4e" opacity="0.50"/>
<circle cx="408.0" cy="175.1" r="0.35" fill="#b86a4e" opacity="0.72"/>
<circle cx="385.6" cy="178.4" r="0.37" fill="#b86a4e" opacity="0.32"/>
<circle cx="403.1" cy="178.3" r="0.29" fill="#b86a4e" opacity="0.54"/>
<circle cx="420.4" cy="198.0" r="0.52" fill="#b86a4e" opacity="0.54"/>
<circle cx="450.7" cy="173.2" r="0.33" fill="#b86a4e" opacity="0.33"/>
<circle cx="403.3" cy="207.8" r="0.57" fill="#b86a4e" opacity="0.53"/>
<circle cx="392.2" cy="185.9" r="0.45" fill="#b86a4e" opacity="0.43"/>
<circle cx="439.2" cy="218.6" r="0.41" fill="#b86a4e" opacity="0.57"/>
<circle cx="443.2" cy="192.7" r="0.32" fill="#b86a4e" opacity="0.72"/>
<circle cx="453.0" cy="170.2" r="0.52" fill="#b86a4e" opacity="0.48"/>
<circle cx="384.2" cy="177.3" r="0.31" fill="#b86a4e" opacity="0.63"/>
<circle cx="396.0" cy="170.0" r="0.33" fill="#b86a4e" opacity="0.66"/>
<circle cx="417.4" cy="202.3" r="0.41" fill="#b86a4e" opacity="0.38"/>
<circle cx="381.4" cy="184.5" r="0.26" fill="#b86a4e" opacity="0.42"/>
<circle cx="426.3" cy="187.8" r="0.42" fill="#b86a4e" opacity="0.58"/>
<circle cx="403.9" cy="187.2" r="0.56" fill="#b86a4e" opacity="0.56"/>
<circle cx="411.3" cy="196.5" r="0.41" fill="#b86a4e" opacity="0.45"/>
<circle cx="448.2" cy="180.9" r="0.58" fill="#b86a4e" opacity="0.68"/>
<circle cx="445.8" cy="177.3" r="0.43" fill="#b86a4e" opacity="0.74"/>
<circle cx="401.7" cy="177.7" r="0.50" fill="#b86a4e" opacity="0.41"/>
<circle cx="423.7" cy="177.0" r="0.58" fill="#b86a4e" opacity="0.43"/>
<circle cx="387.5" cy="204.1" r="0.37" fill="#b86a4e" opacity="0.55"/>
<circle cx="417.2" cy="216.1" r="0.43" fill="#b86a4e" opacity="0.47"/>
<circle cx="380.4" cy="194.3" r="0.34" fill="#b86a4e" opacity="0.56"/>
<circle cx="427.2" cy="192.6" r="0.28" fill="#b86a4e" opacity="0.52"/>
<circle cx="416.1" cy="201.7" r="0.59" fill="#b86a4e" opacity="0.43"/>
<circle cx="413.2" cy="173.3" r="0.53" fill="#b86a4e" opacity="0.41"/>
<circle cx="441.9" cy="209.7" r="0.34" fill="#b86a4e" opacity="0.71"/>
<circle cx="417.7" cy="190.7" r="0.44" fill="#b86a4e" opacity="0.73"/>
<circle cx="416.7" cy="193.6" r="0.35" fill="#b86a4e" opacity="0.68"/>
<circle cx="417.7" cy="186.5" r="0.32" fill="#b86a4e" opacity="0.40"/>
<circle cx="442.3" cy="210.0" r="0.59" fill="#b86a4e" opacity="0.71"/>
<circle cx="431.2" cy="209.7" r="0.50" fill="#b86a4e" opacity="0.66"/>
<circle cx="439.8" cy="178.0" r="0.54" fill="#b86a4e" opacity="0.44"/>
<circle cx="398.4" cy="215.9" r="0.26" fill="#b86a4e" opacity="0.53"/>
<circle cx="405.8" cy="209.4" r="0.46" fill="#b86a4e" opacity="0.71"/>
<circle cx="449.6" cy="201.9" r="0.27" fill="#b86a4e" opacity="0.60"/>
<circle cx="388.4" cy="219.1" r="0.55" fill="#b86a4e" opacity="0.44"/>
<circle cx="394.1" cy="204.4" r="0.52" fill="#b86a4e" opacity="0.74"/>
<circle cx="426.6" cy="175.4" r="0.50" fill="#b86a4e" opacity="0.33"/>
<circle cx="444.8" cy="208.2" r="0.52" fill="#b86a4e" opacity="0.69"/>
<circle cx="422.6" cy="217.1" r="0.47" fill="#b86a4e" opacity="0.52"/>
<circle cx="408.9" cy="187.0" r="0.26" fill="#b86a4e" opacity="0.37"/>
<circle cx="439.4" cy="180.7" r="0.48" fill="#b86a4e" opacity="0.65"/>
<circle cx="431.9" cy="195.3" r="0.36" fill="#b86a4e" opacity="0.42"/>
<circle cx="394.2" cy="202.0" r="0.49" fill="#b86a4e" opacity="0.72"/>
<circle cx="404.9" cy="216.3" r="0.57" fill="#b86a4e" opacity="0.43"/>
<circle cx="451.0" cy="200.6" r="0.59" fill="#b86a4e" opacity="0.65"/>
<circle cx="405.1" cy="183.2" r="0.43" fill="#b86a4e" opacity="0.52"/>
<circle cx="382.9" cy="213.0" r="0.44" fill="#b86a4e" opacity="0.51"/>
<circle cx="435.6" cy="181.7" r="0.32" fill="#b86a4e" opacity="0.56"/>
<circle cx="398.2" cy="185.7" r="0.27" fill="#b86a4e" opacity="0.32"/>
<circle cx="406.7" cy="195.9" r="0.58" fill="#b86a4e" opacity="0.59"/>
<circle cx="411.1" cy="189.7" r="0.33" fill="#b86a4e" opacity="0.51"/>
<circle cx="451.6" cy="175.2" r="0.40" fill="#b86a4e" opacity="0.61"/>
<circle cx="436.9" cy="197.3" r="0.47" fill="#b86a4e" opacity="0.72"/>
<circle cx="447.4" cy="181.8" r="0.44" fill="#b86a4e" opacity="0.75"/>
<circle cx="419.5" cy="178.7" r="0.52" fill="#b86a4e" opacity="0.33"/>
<circle cx="391.5" cy="197.1" r="0.35" fill="#b86a4e" opacity="0.62"/>
<circle cx="434.3" cy="185.3" r="0.52" fill="#b86a4e" opacity="0.59"/>
<circle cx="432.8" cy="192.3" r="0.40" fill="#b86a4e" opacity="0.35"/>
<circle cx="415.6" cy="217.7" r="0.56" fill="#b86a4e" opacity="0.33"/>
<circle cx="385.6" cy="182.7" r="0.49" fill="#b86a4e" opacity="0.50"/>
<circle cx="389.8" cy="190.7" r="0.45" fill="#b86a4e" opacity="0.63"/>
<circle cx="410.2" cy="202.1" r="0.49" fill="#b86a4e" opacity="0.58"/>
<circle cx="383.7" cy="205.2" r="0.29" fill="#b86a4e" opacity="0.32"/>
<circle cx="415.5" cy="169.9" r="0.28" fill="#b86a4e" opacity="0.48"/>
<circle cx="415.1" cy="174.4" r="0.58" fill="#b86a4e" opacity="0.68"/>
<circle cx="416.5" cy="199.0" r="0.36" fill="#b86a4e" opacity="0.74"/>
<circle cx="389.2" cy="184.5" r="0.33" fill="#b86a4e" opacity="0.69"/>
<circle cx="418.1" cy="189.9" r="0.39" fill="#b86a4e" opacity="0.70"/>
<circle cx="399.4" cy="209.4" r="0.50" fill="#b86a4e" opacity="0.50"/>
<circle cx="407.5" cy="191.3" r="0.41" fill="#b86a4e" opacity="0.44"/>
<circle cx="426.7" cy="190.0" r="0.36" fill="#b86a4e" opacity="0.65"/>
<circle cx="414.1" cy="193.2" r="0.56" fill="#b86a4e" opacity="0.50"/>
<circle cx="408.2" cy="214.8" r="0.59" fill="#b86a4e" opacity="0.65"/>
<circle cx="410.1" cy="203.2" r="0.51" fill="#b86a4e" opacity="0.43"/>
<circle cx="434.1" cy="217.4" r="0.48" fill="#b86a4e" opacity="0.60"/>
<circle cx="412.6" cy="202.3" r="0.33" fill="#b86a4e" opacity="0.65"/>
<circle cx="420.4" cy="219.0" r="0.37" fill="#b86a4e" opacity="0.62"/>
<circle cx="381.5" cy="190.2" r="0.52" fill="#b86a4e" opacity="0.42"/>
<circle cx="425.9" cy="180.3" r="0.39" fill="#b86a4e" opacity="0.75"/>
<circle cx="394.9" cy="215.6" r="0.27" fill="#b86a4e" opacity="0.56"/>
<circle cx="441.3" cy="211.7" r="0.39" fill="#b86a4e" opacity="0.57"/>
<circle cx="433.2" cy="207.8" r="0.51" fill="#b86a4e" opacity="0.56"/>
<circle cx="399.0" cy="205.0" r="0.45" fill="#b86a4e" opacity="0.54"/>
<circle cx="453.6" cy="176.0" r="0.52" fill="#b86a4e" opacity="0.45"/>
<circle cx="434.3" cy="217.5" r="0.35" fill="#b86a4e" opacity="0.56"/>
<circle cx="419.6" cy="194.3" r="0.31" fill="#b86a4e" opacity="0.58"/>
<circle cx="446.7" cy="202.8" r="0.35" fill="#b86a4e" opacity="0.66"/>
<circle cx="411.5" cy="176.4" r="0.46" fill="#b86a4e" opacity="0.51"/>
<circle cx="419.7" cy="219.5" r="0.45" fill="#b86a4e" opacity="0.73"/>
<circle cx="406.5" cy="207.7" r="0.28" fill="#b86a4e" opacity="0.44"/>
<circle cx="431.7" cy="204.2" r="0.54" fill="#b86a4e" opacity="0.47"/>
<circle cx="400.6" cy="187.3" r="0.44" fill="#b86a4e" opacity="0.31"/>
<circle cx="408.1" cy="202.5" r="0.30" fill="#b86a4e" opacity="0.44"/>
<circle cx="445.1" cy="216.6" r="0.34" fill="#b86a4e" opacity="0.38"/>
<circle cx="389.0" cy="173.4" r="0.53" fill="#b86a4e" opacity="0.63"/>
<circle cx="399.9" cy="193.9" r="0.49" fill="#b86a4e" opacity="0.31"/>
<circle cx="441.1" cy="212.8" r="0.32" fill="#b86a4e" opacity="0.62"/>
<circle cx="432.3" cy="186.2" r="0.56" fill="#b86a4e" opacity="0.40"/>
<circle cx="415.5" cy="185.0" r="0.40" fill="#b86a4e" opacity="0.67"/>
<circle cx="422.6" cy="200.1" r="0.60" fill="#b86a4e" opacity="0.40"/>
<circle cx="396.8" cy="200.6" r="0.30" fill="#b86a4e" opacity="0.73"/>
<circle cx="405.7" cy="191.4" r="0.40" fill="#b86a4e" opacity="0.67"/>
<circle cx="448.3" cy="203.5" r="0.31" fill="#b86a4e" opacity="0.46"/>
<circle cx="432.8" cy="180.0" r="0.56" fill="#b86a4e" opacity="0.69"/>
<circle cx="397.1" cy="187.6" r="0.33" fill="#b86a4e" opacity="0.62"/>
<circle cx="383.8" cy="204.5" r="0.27" fill="#b86a4e" opacity="0.68"/>
<circle cx="420.7" cy="198.7" r="0.28" fill="#b86a4e" opacity="0.32"/>
<circle cx="406.5" cy="219.2" r="0.46" fill="#b86a4e" opacity="0.69"/>
<circle cx="385.0" cy="174.2" r="0.26" fill="#b86a4e" opacity="0.61"/>
<circle cx="393.4" cy="182.9" r="0.48" fill="#b86a4e" opacity="0.61"/>
<circle cx="404.3" cy="192.8" r="0.35" fill="#b86a4e" opacity="0.55"/>
<circle cx="406.7" cy="187.4" r="0.34" fill="#b86a4e" opacity="0.43"/>
<circle cx="399.7" cy="169.8" r="0.36" fill="#b86a4e" opacity="0.57"/>
<circle cx="400.3" cy="174.8" r="0.55" fill="#b86a4e" opacity="0.51"/>
<circle cx="418.3" cy="184.9" r="0.56" fill="#b86a4e" opacity="0.64"/>
<circle cx="426.6" cy="202.6" r="0.49" fill="#b86a4e" opacity="0.53"/>
<circle cx="411.0" cy="188.9" r="0.43" fill="#b86a4e" opacity="0.51"/>
<circle cx="419.6" cy="196.2" r="0.53" fill="#b86a4e" opacity="0.70"/>
<circle cx="396.9" cy="170.1" r="0.36" fill="#b86a4e" opacity="0.31"/>
<circle cx="439.5" cy="200.6" r="0.35" fill="#b86a4e" opacity="0.39"/>
<circle cx="444.8" cy="211.6" r="0.49" fill="#b86a4e" opacity="0.61"/>
<circle cx="435.6" cy="192.2" r="0.39" fill="#b86a4e" opacity="0.55"/>
<circle cx="445.7" cy="219.6" r="0.57" fill="#b86a4e" opacity="0.68"/>
<circle cx="385.8" cy="181.6" r="0.59" fill="#b86a4e" opacity="0.54"/>
<circle cx="418.6" cy="184.8" r="0.55" fill="#b86a4e" opacity="0.53"/>
<circle cx="453.9" cy="172.9" r="0.60" fill="#b86a4e" opacity="0.31"/>
<circle cx="391.3" cy="188.9" r="0.47" fill="#b86a4e" opacity="0.35"/>
<circle cx="422.1" cy="216.9" r="0.40" fill="#b86a4e" opacity="0.64"/>
<circle cx="424.3" cy="198.7" r="0.31" fill="#b86a4e" opacity="0.51"/>
<circle cx="447.2" cy="203.4" r="0.33" fill="#b86a4e" opacity="0.50"/>
<circle cx="420.7" cy="186.2" r="0.45" fill="#b86a4e" opacity="0.58"/>
<circle cx="381.6" cy="180.2" r="0.48" fill="#b86a4e" opacity="0.40"/>
<circle cx="385.7" cy="207.9" r="0.37" fill="#b86a4e" opacity="0.73"/>
<circle cx="421.8" cy="174.2" r="0.47" fill="#b86a4e" opacity="0.42"/>
<circle cx="440.8" cy="205.9" r="0.52" fill="#b86a4e" opacity="0.33"/>
<circle cx="382.8" cy="209.7" r="0.30" fill="#b86a4e" opacity="0.39"/>
<circle cx="382.5" cy="177.3" r="0.42" fill="#b86a4e" opacity="0.73"/>
<circle cx="404.2" cy="182.2" r="0.54" fill="#b86a4e" opacity="0.38"/>
<circle cx="427.5" cy="200.4" r="0.58" fill="#b86a4e" opacity="0.32"/>
<circle cx="422.1" cy="188.5" r="0.54" fill="#b86a4e" opacity="0.41"/>
<circle cx="433.4" cy="178.4" r="0.42" fill="#b86a4e" opacity="0.74"/>
<circle cx="398.1" cy="183.2" r="0.57" fill="#b86a4e" opacity="0.60"/>
<circle cx="385.2" cy="178.5" r="0.33" fill="#b86a4e" opacity="0.43"/>
<circle cx="443.1" cy="204.7" r="0.59" fill="#b86a4e" opacity="0.60"/>
<circle cx="426.9" cy="188.5" r="0.50" fill="#b86a4e" opacity="0.52"/>
<circle cx="384.7" cy="194.1" r="0.38" fill="#b86a4e" opacity="0.54"/>
<circle cx="383.9" cy="170.4" r="0.59" fill="#b86a4e" opacity="0.47"/>
<circle cx="404.8" cy="176.6" r="0.46" fill="#b86a4e" opacity="0.71"/>
<circle cx="393.7" cy="194.5" r="0.42" fill="#b86a4e" opacity="0.64"/>
<circle cx="422.3" cy="181.2" r="0.32" fill="#b86a4e" opacity="0.63"/>
<circle cx="386.1" cy="213.1" r="0.26" fill="#b86a4e" opacity="0.39"/>
<circle cx="415.1" cy="212.0" r="0.47" fill="#b86a4e" opacity="0.64"/>
<circle cx="436.8" cy="205.8" r="0.27" fill="#b86a4e" opacity="0.67"/>
<circle cx="391.3" cy="177.3" r="0.26" fill="#b86a4e" opacity="0.31"/>
<circle cx="445.5" cy="188.4" r="0.28" fill="#b86a4e" opacity="0.32"/>
<circle cx="443.2" cy="199.7" r="0.57" fill="#b86a4e" opacity="0.32"/>
<circle cx="388.7" cy="183.6" r="0.32" fill="#b86a4e" opacity="0.35"/>
<circle cx="395.2" cy="201.7" r="0.31" fill="#b86a4e" opacity="0.38"/>
<circle cx="420.1" cy="188.2" r="0.30" fill="#b86a4e" opacity="0.56"/>
<circle cx="418.0" cy="188.8" r="0.42" fill="#b86a4e" opacity="0.32"/>
<circle cx="426.0" cy="178.9" r="0.37" fill="#b86a4e" opacity="0.30"/>
<circle cx="446.3" cy="199.0" r="0.39" fill="#b86a4e" opacity="0.54"/>
<circle cx="450.1" cy="175.7" r="0.38" fill="#b86a4e" opacity="0.62"/>
<circle cx="407.9" cy="205.0" r="0.57" fill="#b86a4e" opacity="0.32"/>
<circle cx="401.4" cy="183.9" r="0.51" fill="#b86a4e" opacity="0.65"/>
<circle cx="432.3" cy="216.2" r="0.31" fill="#b86a4e" opacity="0.48"/>
<circle cx="443.7" cy="208.0" r="0.29" fill="#b86a4e" opacity="0.74"/>
<circle cx="435.3" cy="213.2" r="0.38" fill="#b86a4e" opacity="0.57"/>
<circle cx="451.5" cy="214.8" r="0.45" fill="#b86a4e" opacity="0.70"/>
<circle cx="454.5" cy="211.8" r="0.48" fill="#b86a4e" opacity="0.73"/>
<circle cx="391.0" cy="189.6" r="0.45" fill="#b86a4e" opacity="0.36"/>
<circle cx="438.3" cy="172.2" r="0.47" fill="#b86a4e" opacity="0.43"/>
<circle cx="404.3" cy="199.9" r="0.32" fill="#b86a4e" opacity="0.50"/>
<circle cx="444.0" cy="219.3" r="0.34" fill="#b86a4e" opacity="0.46"/>
<circle cx="431.8" cy="178.7" r="0.55" fill="#b86a4e" opacity="0.39"/>
<circle cx="421.7" cy="186.3" r="0.25" fill="#b86a4e" opacity="0.30"/>
<circle cx="380.4" cy="185.7" r="0.35" fill="#b86a4e" opacity="0.75"/>
<circle cx="427.7" cy="172.3" r="0.50" fill="#b86a4e" opacity="0.40"/>
<circle cx="416.1" cy="205.9" r="0.55" fill="#b86a4e" opacity="0.72"/>
<circle cx="411.6" cy="185.2" r="0.39" fill="#b86a4e" opacity="0.44"/>
<circle cx="435.4" cy="192.6" r="0.49" fill="#b86a4e" opacity="0.37"/>
<circle cx="438.5" cy="218.3" r="0.32" fill="#b86a4e" opacity="0.58"/>
<circle cx="392.3" cy="170.8" r="0.39" fill="#b86a4e" opacity="0.38"/>
<circle cx="434.6" cy="198.2" r="0.49" fill="#b86a4e" opacity="0.74"/>
<circle cx="384.6" cy="174.0" r="0.26" fill="#b86a4e" opacity="0.51"/>
<circle cx="441.6" cy="203.9" r="0.44" fill="#b86a4e" opacity="0.69"/>
<circle cx="408.0" cy="174.8" r="0.47" fill="#b86a4e" opacity="0.31"/>
<circle cx="397.3" cy="170.5" r="0.31" fill="#b86a4e" opacity="0.33"/>
<circle cx="419.8" cy="175.5" r="0.46" fill="#b86a4e" opacity="0.67"/>
<circle cx="405.9" cy="175.1" r="0.48" fill="#b86a4e" opacity="0.63"/>
<circle cx="446.0" cy="197.3" r="0.45" fill="#b86a4e" opacity="0.69"/>
<circle cx="430.6" cy="218.7" r="0.35" fill="#b86a4e" opacity="0.65"/>
<circle cx="427.3" cy="192.9" r="0.25" fill="#b86a4e" opacity="0.51"/>
<circle cx="399.9" cy="199.7" r="0.43" fill="#b86a4e" opacity="0.53"/>
<circle cx="384.7" cy="175.7" r="0.46" fill="#b86a4e" opacity="0.61"/>
<circle cx="453.9" cy="209.4" r="0.35" fill="#b86a4e" opacity="0.51"/>
<circle cx="417.9" cy="210.0" r="0.39" fill="#b86a4e" opacity="0.71"/>
<circle cx="416.3" cy="189.3" r="0.42" fill="#b86a4e" opacity="0.46"/>
<circle cx="454.6" cy="171.4" r="0.39" fill="#b86a4e" opacity="0.34"/>
<circle cx="430.7" cy="176.7" r="0.30" fill="#b86a4e" opacity="0.49"/>
<circle cx="425.0" cy="207.9" r="0.41" fill="#b86a4e" opacity="0.43"/>
<circle cx="407.6" cy="214.3" r="0.32" fill="#b86a4e" opacity="0.31"/>
<circle cx="446.1" cy="193.6" r="0.30" fill="#b86a4e" opacity="0.36"/>
<circle cx="446.5" cy="207.2" r="0.27" fill="#b86a4e" opacity="0.60"/>
<circle cx="396.2" cy="191.7" r="0.46" fill="#b86a4e" opacity="0.32"/>
<circle cx="449.8" cy="186.1" r="0.30" fill="#b86a4e" opacity="0.65"/>
<circle cx="388.4" cy="170.9" r="0.48" fill="#b86a4e" opacity="0.51"/>
<circle cx="447.2" cy="209.3" r="0.32" fill="#b86a4e" opacity="0.32"/>
<circle cx="425.1" cy="193.0" r="0.36" fill="#b86a4e" opacity="0.71"/>
<circle cx="395.8" cy="201.8" r="0.28" fill="#b86a4e" opacity="0.72"/>
<circle cx="450.8" cy="200.5" r="0.36" fill="#b86a4e" opacity="0.63"/>
<circle cx="447.4" cy="209.5" r="0.26" fill="#b86a4e" opacity="0.53"/>
<circle cx="390.7" cy="196.9" r="0.58" fill="#b86a4e" opacity="0.69"/>
<circle cx="398.8" cy="197.1" r="0.36" fill="#b86a4e" opacity="0.38"/>
<circle cx="435.6" cy="207.7" r="0.37" fill="#b86a4e" opacity="0.49"/>
<circle cx="432.0" cy="206.1" r="0.41" fill="#b86a4e" opacity="0.35"/>
<circle cx="387.4" cy="177.6" r="0.54" fill="#b86a4e" opacity="0.52"/>
<circle cx="428.2" cy="187.6" r="0.38" fill="#b86a4e" opacity="0.38"/>
<circle cx="452.7" cy="199.9" r="0.30" fill="#b86a4e" opacity="0.62"/>
<circle cx="424.7" cy="200.3" r="0.52" fill="#b86a4e" opacity="0.57"/>
<circle cx="445.4" cy="218.5" r="0.39" fill="#b86a4e" opacity="0.59"/>
<circle cx="408.1" cy="189.9" r="0.38" fill="#b86a4e" opacity="0.59"/>
<circle cx="406.5" cy="187.0" r="0.55" fill="#b86a4e" opacity="0.66"/>
<circle cx="430.5" cy="212.0" r="0.39" fill="#b86a4e" opacity="0.59"/>
<circle cx="399.0" cy="185.1" r="0.29" fill="#b86a4e" opacity="0.66"/>
<circle cx="448.8" cy="184.4" r="0.38" fill="#b86a4e" opacity="0.35"/>
<circle cx="390.9" cy="201.5" r="0.56" fill="#b86a4e" opacity="0.34"/>
<circle cx="399.2" cy="207.7" r="0.33" fill="#b86a4e" opacity="0.69"/>
<circle cx="406.5" cy="193.1" r="0.32" fill="#b86a4e" opacity="0.43"/>
<circle cx="411.8" cy="183.2" r="0.51" fill="#b86a4e" opacity="0.31"/>
<circle cx="427.8" cy="209.9" r="0.36" fill="#b86a4e" opacity="0.39"/>
<circle cx="389.2" cy="172.9" r="0.53" fill="#b86a4e" opacity="0.57"/>
</g>
<rect x="380.3" y="169.0" width="74.30000000000001" height="51.0" filter="url(#noise)" opacity="0.35"/>
</g>
<rect x="380.85" y="169.55" width="73.20000000000002" height="49.9" fill="none" stroke="#747474" stroke-width="1.2"/>
<rect x="388.4" y="181.2" width="17.5" height="14.600000000000023" fill="none" stroke="#4a4a4a" stroke-width="0.85"/>
<line x1="405.9" y1="181.2" x2="454.0" y2="169.6" stroke="#4a4a4a" stroke-width="0.85" />
<line x1="405.9" y1="195.8" x2="454.0" y2="219.4" stroke="#4a4a4a" stroke-width="0.85" />
<clipPath id="cp01"><rect x="456.9" y="169.0" width="73.89999999999998" height="51.0"/></clipPath>
<g clip-path="url(#cp01)">
<rect x="456.9" y="169.0" width="73.89999999999998" height="51.0" fill="url(#g2)"/>
<g filter="url(#bl3)">
<circle cx="458.0" cy="192.1" r="4.0" fill="#eee4ee" opacity="0.6"/>
<circle cx="480.5" cy="170.8" r="3.6" fill="#eee4ee" opacity="0.6"/>
<circle cx="483.0" cy="218.6" r="3.4" fill="#eee4ee" opacity="0.6"/>
<circle cx="525.1" cy="213.3" r="3.9" fill="#eee4ee" opacity="0.6"/>
<circle cx="466.2" cy="210.2" r="2.7" fill="#eee4ee" opacity="0.6"/>
<circle cx="498.1" cy="174.0" r="2.7" fill="#eee4ee" opacity="0.6"/>
<circle cx="487.2" cy="177.0" r="5.0" fill="#eee4ee" opacity="0.6"/>
<circle cx="499.6" cy="214.8" r="4.9" fill="#eee4ee" opacity="0.6"/>
<circle cx="512.9" cy="201.9" r="3.7" fill="#eee4ee" opacity="0.6"/>
<circle cx="514.4" cy="203.1" r="2.9" fill="#eee4ee" opacity="0.6"/>
</g>
<g filter="url(#bl)">
<ellipse cx="496.1" cy="190.1" rx="1.5" ry="0.9" transform="rotate(124 496.1 190.1)" fill="#9c86bf" opacity="0.39"/>
<ellipse cx="515.2" cy="211.1" rx="0.9" ry="0.6" transform="rotate(8 515.2 211.1)" fill="#9c86bf" opacity="0.27"/>
<ellipse cx="527.8" cy="184.8" rx="1.4" ry="0.8" transform="rotate(102 527.8 184.8)" fill="#9c86bf" opacity="0.30"/>
<ellipse cx="514.4" cy="185.9" rx="2.0" ry="1.0" transform="rotate(0 514.4 185.9)" fill="#9c86bf" opacity="0.38"/>
<ellipse cx="463.8" cy="214.1" rx="0.9" ry="0.6" transform="rotate(138 463.8 214.1)" fill="#9c86bf" opacity="0.40"/>
<ellipse cx="506.2" cy="190.1" rx="1.5" ry="0.6" transform="rotate(83 506.2 190.1)" fill="#9c86bf" opacity="0.30"/>
<ellipse cx="506.8" cy="174.4" rx="1.0" ry="0.6" transform="rotate(96 506.8 174.4)" fill="#9c86bf" opacity="0.39"/>
<ellipse cx="457.1" cy="219.3" rx="2.0" ry="0.7" transform="rotate(29 457.1 219.3)" fill="#9c86bf" opacity="0.47"/>
<ellipse cx="529.1" cy="178.1" rx="1.9" ry="1.0" transform="rotate(169 529.1 178.1)" fill="#9c86bf" opacity="0.28"/>
<ellipse cx="465.8" cy="177.4" rx="1.1" ry="1.1" transform="rotate(164 465.8 177.4)" fill="#9c86bf" opacity="0.36"/>
<ellipse cx="466.3" cy="187.0" rx="1.1" ry="0.9" transform="rotate(130 466.3 187.0)" fill="#9c86bf" opacity="0.45"/>
<ellipse cx="489.2" cy="192.3" rx="1.5" ry="0.7" transform="rotate(82 489.2 192.3)" fill="#9c86bf" opacity="0.43"/>
<ellipse cx="509.5" cy="185.6" rx="1.6" ry="0.6" transform="rotate(8 509.5 185.6)" fill="#9c86bf" opacity="0.34"/>
<ellipse cx="483.4" cy="170.7" rx="0.9" ry="0.7" transform="rotate(170 483.4 170.7)" fill="#9c86bf" opacity="0.47"/>
<ellipse cx="459.1" cy="185.2" rx="1.3" ry="0.7" transform="rotate(25 459.1 185.2)" fill="#9c86bf" opacity="0.40"/>
<ellipse cx="518.9" cy="188.5" rx="1.0" ry="0.5" transform="rotate(3 518.9 188.5)" fill="#9c86bf" opacity="0.45"/>
<ellipse cx="474.0" cy="205.9" rx="1.9" ry="0.5" transform="rotate(34 474.0 205.9)" fill="#9c86bf" opacity="0.31"/>
<ellipse cx="513.7" cy="206.6" rx="1.2" ry="0.8" transform="rotate(64 513.7 206.6)" fill="#9c86bf" opacity="0.36"/>
<ellipse cx="515.5" cy="182.3" rx="1.9" ry="1.1" transform="rotate(108 515.5 182.3)" fill="#9c86bf" opacity="0.51"/>
<ellipse cx="526.2" cy="177.7" rx="2.2" ry="0.6" transform="rotate(145 526.2 177.7)" fill="#9c86bf" opacity="0.26"/>
<ellipse cx="479.3" cy="191.5" rx="2.0" ry="0.9" transform="rotate(37 479.3 191.5)" fill="#9c86bf" opacity="0.49"/>
<ellipse cx="520.9" cy="195.0" rx="0.9" ry="0.6" transform="rotate(53 520.9 195.0)" fill="#9c86bf" opacity="0.35"/>
<ellipse cx="526.6" cy="199.3" rx="1.9" ry="0.5" transform="rotate(44 526.6 199.3)" fill="#9c86bf" opacity="0.44"/>
<ellipse cx="482.1" cy="180.6" rx="0.9" ry="0.5" transform="rotate(74 482.1 180.6)" fill="#9c86bf" opacity="0.38"/>
<ellipse cx="486.5" cy="197.8" rx="1.2" ry="0.5" transform="rotate(121 486.5 197.8)" fill="#9c86bf" opacity="0.32"/>
<ellipse cx="493.2" cy="188.3" rx="1.2" ry="0.5" transform="rotate(53 493.2 188.3)" fill="#9c86bf" opacity="0.31"/>
<ellipse cx="465.4" cy="170.5" rx="1.5" ry="0.5" transform="rotate(158 465.4 170.5)" fill="#9c86bf" opacity="0.33"/>
<ellipse cx="489.7" cy="195.8" rx="0.8" ry="0.5" transform="rotate(141 489.7 195.8)" fill="#9c86bf" opacity="0.39"/>
<ellipse cx="493.4" cy="186.5" rx="1.9" ry="0.8" transform="rotate(143 493.4 186.5)" fill="#9c86bf" opacity="0.47"/>
<ellipse cx="523.0" cy="206.0" rx="1.7" ry="0.8" transform="rotate(96 523.0 206.0)" fill="#9c86bf" opacity="0.39"/>
<ellipse cx="495.7" cy="210.8" rx="2.0" ry="0.5" transform="rotate(135 495.7 210.8)" fill="#9c86bf" opacity="0.40"/>
<ellipse cx="501.1" cy="215.3" rx="0.9" ry="0.8" transform="rotate(68 501.1 215.3)" fill="#9c86bf" opacity="0.50"/>
<ellipse cx="469.1" cy="197.7" rx="1.0" ry="1.0" transform="rotate(88 469.1 197.7)" fill="#9c86bf" opacity="0.44"/>
<ellipse cx="479.6" cy="214.1" rx="0.8" ry="0.6" transform="rotate(132 479.6 214.1)" fill="#9c86bf" opacity="0.48"/>
<ellipse cx="514.3" cy="183.0" rx="0.9" ry="0.9" transform="rotate(132 514.3 183.0)" fill="#9c86bf" opacity="0.24"/>
<ellipse cx="526.0" cy="195.9" rx="0.8" ry="0.8" transform="rotate(61 526.0 195.9)" fill="#9c86bf" opacity="0.25"/>
<ellipse cx="522.3" cy="216.7" rx="1.0" ry="0.8" transform="rotate(49 522.3 216.7)" fill="#9c86bf" opacity="0.42"/>
<ellipse cx="465.0" cy="186.0" rx="1.4" ry="0.8" transform="rotate(78 465.0 186.0)" fill="#9c86bf" opacity="0.40"/>
<ellipse cx="526.4" cy="216.5" rx="2.1" ry="1.0" transform="rotate(41 526.4 216.5)" fill="#9c86bf" opacity="0.29"/>
<ellipse cx="490.9" cy="201.8" rx="1.6" ry="0.7" transform="rotate(179 490.9 201.8)" fill="#9c86bf" opacity="0.31"/>
<ellipse cx="458.3" cy="173.6" rx="1.1" ry="1.0" transform="rotate(151 458.3 173.6)" fill="#9c86bf" opacity="0.23"/>
<ellipse cx="474.4" cy="181.4" rx="1.9" ry="1.1" transform="rotate(47 474.4 181.4)" fill="#9c86bf" opacity="0.25"/>
<ellipse cx="528.4" cy="218.5" rx="1.8" ry="0.8" transform="rotate(134 528.4 218.5)" fill="#9c86bf" opacity="0.45"/>
<ellipse cx="494.5" cy="182.8" rx="1.5" ry="0.9" transform="rotate(58 494.5 182.8)" fill="#9c86bf" opacity="0.41"/>
<ellipse cx="467.7" cy="218.5" rx="1.1" ry="0.6" transform="rotate(173 467.7 218.5)" fill="#9c86bf" opacity="0.51"/>
<ellipse cx="525.3" cy="211.9" rx="2.0" ry="1.0" transform="rotate(102 525.3 211.9)" fill="#9c86bf" opacity="0.24"/>
<ellipse cx="511.0" cy="211.6" rx="2.0" ry="0.5" transform="rotate(11 511.0 211.6)" fill="#9c86bf" opacity="0.44"/>
<ellipse cx="493.0" cy="214.6" rx="2.2" ry="0.8" transform="rotate(122 493.0 214.6)" fill="#9c86bf" opacity="0.42"/>
<ellipse cx="508.2" cy="187.7" rx="1.7" ry="0.5" transform="rotate(162 508.2 187.7)" fill="#9c86bf" opacity="0.44"/>
<ellipse cx="516.2" cy="192.6" rx="1.1" ry="0.8" transform="rotate(123 516.2 192.6)" fill="#9c86bf" opacity="0.38"/>
<ellipse cx="464.9" cy="169.2" rx="1.4" ry="0.6" transform="rotate(41 464.9 169.2)" fill="#9c86bf" opacity="0.29"/>
<ellipse cx="487.6" cy="204.5" rx="2.1" ry="0.9" transform="rotate(4 487.6 204.5)" fill="#9c86bf" opacity="0.48"/>
<ellipse cx="501.9" cy="206.3" rx="1.7" ry="0.7" transform="rotate(61 501.9 206.3)" fill="#9c86bf" opacity="0.24"/>
<ellipse cx="506.0" cy="171.8" rx="1.8" ry="1.1" transform="rotate(120 506.0 171.8)" fill="#9c86bf" opacity="0.40"/>
<ellipse cx="516.6" cy="217.9" rx="1.9" ry="1.1" transform="rotate(83 516.6 217.9)" fill="#9c86bf" opacity="0.22"/>
<ellipse cx="502.3" cy="201.6" rx="2.0" ry="0.9" transform="rotate(65 502.3 201.6)" fill="#9c86bf" opacity="0.22"/>
<ellipse cx="518.3" cy="200.9" rx="2.2" ry="0.9" transform="rotate(153 518.3 200.9)" fill="#9c86bf" opacity="0.45"/>
<ellipse cx="530.1" cy="192.6" rx="2.1" ry="0.7" transform="rotate(2 530.1 192.6)" fill="#9c86bf" opacity="0.32"/>
<ellipse cx="482.9" cy="219.6" rx="1.4" ry="0.6" transform="rotate(124 482.9 219.6)" fill="#9c86bf" opacity="0.25"/>
<ellipse cx="479.5" cy="189.1" rx="1.0" ry="0.9" transform="rotate(76 479.5 189.1)" fill="#9c86bf" opacity="0.46"/>
<ellipse cx="482.0" cy="218.8" rx="1.1" ry="0.8" transform="rotate(41 482.0 218.8)" fill="#9c86bf" opacity="0.22"/>
<ellipse cx="479.2" cy="214.7" rx="1.2" ry="0.8" transform="rotate(94 479.2 214.7)" fill="#9c86bf" opacity="0.30"/>
<ellipse cx="496.4" cy="172.3" rx="1.3" ry="0.6" transform="rotate(147 496.4 172.3)" fill="#9c86bf" opacity="0.45"/>
<ellipse cx="508.7" cy="199.3" rx="2.0" ry="1.0" transform="rotate(10 508.7 199.3)" fill="#9c86bf" opacity="0.26"/>
<ellipse cx="512.2" cy="211.8" rx="2.2" ry="1.0" transform="rotate(28 512.2 211.8)" fill="#9c86bf" opacity="0.39"/>
<ellipse cx="503.0" cy="199.8" rx="1.0" ry="1.1" transform="rotate(92 503.0 199.8)" fill="#9c86bf" opacity="0.30"/>
<ellipse cx="529.4" cy="188.6" rx="0.9" ry="0.9" transform="rotate(47 529.4 188.6)" fill="#9c86bf" opacity="0.29"/>
<ellipse cx="479.3" cy="200.0" rx="1.2" ry="0.9" transform="rotate(163 479.3 200.0)" fill="#9c86bf" opacity="0.52"/>
<ellipse cx="522.6" cy="216.0" rx="1.2" ry="1.0" transform="rotate(16 522.6 216.0)" fill="#9c86bf" opacity="0.39"/>
<ellipse cx="462.5" cy="174.1" rx="2.1" ry="0.5" transform="rotate(129 462.5 174.1)" fill="#9c86bf" opacity="0.38"/>
<ellipse cx="457.0" cy="209.5" rx="0.9" ry="1.1" transform="rotate(147 457.0 209.5)" fill="#9c86bf" opacity="0.37"/>
<ellipse cx="489.9" cy="170.4" rx="1.8" ry="0.5" transform="rotate(95 489.9 170.4)" fill="#9c86bf" opacity="0.50"/>
<ellipse cx="507.0" cy="174.9" rx="1.8" ry="0.9" transform="rotate(59 507.0 174.9)" fill="#9c86bf" opacity="0.45"/>
<ellipse cx="499.7" cy="190.1" rx="1.5" ry="0.6" transform="rotate(52 499.7 190.1)" fill="#9c86bf" opacity="0.49"/>
<ellipse cx="482.7" cy="208.3" rx="1.3" ry="0.6" transform="rotate(0 482.7 208.3)" fill="#9c86bf" opacity="0.51"/>
<ellipse cx="512.4" cy="219.1" rx="1.6" ry="0.5" transform="rotate(29 512.4 219.1)" fill="#9c86bf" opacity="0.23"/>
<ellipse cx="502.1" cy="200.7" rx="2.1" ry="0.7" transform="rotate(42 502.1 200.7)" fill="#9c86bf" opacity="0.29"/>
<ellipse cx="467.8" cy="170.5" rx="1.5" ry="0.7" transform="rotate(66 467.8 170.5)" fill="#9c86bf" opacity="0.51"/>
<ellipse cx="480.1" cy="211.2" rx="1.5" ry="0.5" transform="rotate(5 480.1 211.2)" fill="#9c86bf" opacity="0.40"/>
<ellipse cx="521.5" cy="171.6" rx="1.8" ry="0.6" transform="rotate(124 521.5 171.6)" fill="#9c86bf" opacity="0.47"/>
<ellipse cx="510.6" cy="181.5" rx="1.0" ry="1.1" transform="rotate(165 510.6 181.5)" fill="#9c86bf" opacity="0.50"/>
<ellipse cx="496.9" cy="171.6" rx="1.3" ry="1.1" transform="rotate(12 496.9 171.6)" fill="#9c86bf" opacity="0.31"/>
<ellipse cx="460.0" cy="213.9" rx="1.3" ry="0.5" transform="rotate(64 460.0 213.9)" fill="#9c86bf" opacity="0.28"/>
<ellipse cx="488.9" cy="200.4" rx="1.7" ry="0.5" transform="rotate(96 488.9 200.4)" fill="#9c86bf" opacity="0.24"/>
<ellipse cx="489.5" cy="210.2" rx="1.2" ry="1.0" transform="rotate(44 489.5 210.2)" fill="#9c86bf" opacity="0.34"/>
<ellipse cx="515.5" cy="169.2" rx="1.6" ry="0.8" transform="rotate(129 515.5 169.2)" fill="#9c86bf" opacity="0.50"/>
<ellipse cx="508.2" cy="180.4" rx="1.1" ry="0.8" transform="rotate(51 508.2 180.4)" fill="#9c86bf" opacity="0.39"/>
<ellipse cx="463.5" cy="204.4" rx="1.4" ry="0.5" transform="rotate(22 463.5 204.4)" fill="#9c86bf" opacity="0.50"/>
<ellipse cx="519.7" cy="213.9" rx="1.3" ry="1.1" transform="rotate(31 519.7 213.9)" fill="#9c86bf" opacity="0.44"/>
<ellipse cx="526.5" cy="179.6" rx="0.8" ry="0.5" transform="rotate(15 526.5 179.6)" fill="#9c86bf" opacity="0.46"/>
<ellipse cx="501.7" cy="193.3" rx="1.0" ry="0.9" transform="rotate(25 501.7 193.3)" fill="#9c86bf" opacity="0.26"/>
<ellipse cx="500.8" cy="201.8" rx="1.9" ry="1.0" transform="rotate(25 500.8 201.8)" fill="#9c86bf" opacity="0.31"/>
<ellipse cx="467.5" cy="194.1" rx="0.8" ry="1.1" transform="rotate(123 467.5 194.1)" fill="#9c86bf" opacity="0.46"/>
<ellipse cx="493.0" cy="215.5" rx="2.0" ry="1.0" transform="rotate(145 493.0 215.5)" fill="#9c86bf" opacity="0.28"/>
<ellipse cx="482.4" cy="171.9" rx="1.9" ry="0.8" transform="rotate(178 482.4 171.9)" fill="#9c86bf" opacity="0.31"/>
<ellipse cx="488.8" cy="213.2" rx="2.2" ry="1.0" transform="rotate(159 488.8 213.2)" fill="#9c86bf" opacity="0.50"/>
<ellipse cx="477.0" cy="200.5" rx="0.9" ry="0.9" transform="rotate(171 477.0 200.5)" fill="#9c86bf" opacity="0.37"/>
<ellipse cx="467.7" cy="198.0" rx="0.9" ry="0.8" transform="rotate(14 467.7 198.0)" fill="#9c86bf" opacity="0.35"/>
<ellipse cx="517.3" cy="206.7" rx="2.0" ry="0.8" transform="rotate(79 517.3 206.7)" fill="#9c86bf" opacity="0.24"/>
<ellipse cx="515.2" cy="198.1" rx="1.4" ry="0.6" transform="rotate(83 515.2 198.1)" fill="#9c86bf" opacity="0.24"/>
<ellipse cx="465.8" cy="173.0" rx="1.4" ry="0.5" transform="rotate(149 465.8 173.0)" fill="#9c86bf" opacity="0.40"/>
<ellipse cx="521.0" cy="197.2" rx="1.0" ry="0.6" transform="rotate(151 521.0 197.2)" fill="#9c86bf" opacity="0.40"/>
<ellipse cx="504.7" cy="201.3" rx="0.9" ry="0.6" transform="rotate(78 504.7 201.3)" fill="#9c86bf" opacity="0.47"/>
<ellipse cx="526.6" cy="199.1" rx="1.2" ry="0.5" transform="rotate(101 526.6 199.1)" fill="#9c86bf" opacity="0.34"/>
<ellipse cx="525.7" cy="179.5" rx="1.1" ry="0.5" transform="rotate(5 525.7 179.5)" fill="#9c86bf" opacity="0.46"/>
<ellipse cx="521.3" cy="176.8" rx="0.8" ry="0.9" transform="rotate(44 521.3 176.8)" fill="#9c86bf" opacity="0.40"/>
<ellipse cx="524.3" cy="207.1" rx="1.2" ry="0.9" transform="rotate(52 524.3 207.1)" fill="#9c86bf" opacity="0.45"/>
<ellipse cx="476.0" cy="213.3" rx="1.7" ry="1.1" transform="rotate(62 476.0 213.3)" fill="#9c86bf" opacity="0.51"/>
<ellipse cx="499.9" cy="182.1" rx="1.7" ry="0.7" transform="rotate(20 499.9 182.1)" fill="#9c86bf" opacity="0.23"/>
<ellipse cx="502.0" cy="181.3" rx="0.9" ry="1.0" transform="rotate(26 502.0 181.3)" fill="#9c86bf" opacity="0.45"/>
<ellipse cx="477.1" cy="187.5" rx="2.1" ry="1.0" transform="rotate(150 477.1 187.5)" fill="#9c86bf" opacity="0.51"/>
<ellipse cx="501.5" cy="216.7" rx="1.7" ry="0.9" transform="rotate(58 501.5 216.7)" fill="#9c86bf" opacity="0.33"/>
<ellipse cx="499.0" cy="181.6" rx="1.7" ry="1.1" transform="rotate(130 499.0 181.6)" fill="#9c86bf" opacity="0.29"/>
<ellipse cx="458.9" cy="187.7" rx="1.4" ry="1.0" transform="rotate(98 458.9 187.7)" fill="#9c86bf" opacity="0.38"/>
<ellipse cx="501.7" cy="197.2" rx="1.7" ry="0.8" transform="rotate(99 501.7 197.2)" fill="#9c86bf" opacity="0.29"/>
<ellipse cx="466.0" cy="191.4" rx="2.0" ry="1.1" transform="rotate(53 466.0 191.4)" fill="#9c86bf" opacity="0.39"/>
<ellipse cx="495.2" cy="192.2" rx="1.0" ry="1.0" transform="rotate(15 495.2 192.2)" fill="#9c86bf" opacity="0.29"/>
<ellipse cx="477.5" cy="179.4" rx="1.1" ry="0.5" transform="rotate(94 477.5 179.4)" fill="#9c86bf" opacity="0.27"/>
<ellipse cx="504.4" cy="199.6" rx="1.7" ry="0.8" transform="rotate(110 504.4 199.6)" fill="#9c86bf" opacity="0.31"/>
<ellipse cx="491.2" cy="204.1" rx="1.1" ry="1.0" transform="rotate(105 491.2 204.1)" fill="#9c86bf" opacity="0.51"/>
<ellipse cx="502.4" cy="197.0" rx="1.9" ry="0.7" transform="rotate(67 502.4 197.0)" fill="#9c86bf" opacity="0.35"/>
<ellipse cx="511.2" cy="205.7" rx="1.1" ry="1.1" transform="rotate(177 511.2 205.7)" fill="#9c86bf" opacity="0.37"/>
<ellipse cx="530.5" cy="200.7" rx="1.3" ry="0.5" transform="rotate(3 530.5 200.7)" fill="#9c86bf" opacity="0.40"/>
<ellipse cx="510.0" cy="200.4" rx="1.9" ry="0.8" transform="rotate(134 510.0 200.4)" fill="#9c86bf" opacity="0.40"/>
<ellipse cx="503.8" cy="197.0" rx="1.7" ry="0.8" transform="rotate(16 503.8 197.0)" fill="#9c86bf" opacity="0.42"/>
<ellipse cx="508.9" cy="190.8" rx="2.2" ry="0.8" transform="rotate(30 508.9 190.8)" fill="#9c86bf" opacity="0.37"/>
<ellipse cx="483.4" cy="177.4" rx="2.0" ry="0.6" transform="rotate(128 483.4 177.4)" fill="#9c86bf" opacity="0.27"/>
<ellipse cx="495.1" cy="219.8" rx="0.9" ry="1.1" transform="rotate(1 495.1 219.8)" fill="#9c86bf" opacity="0.51"/>
<ellipse cx="524.0" cy="191.9" rx="1.7" ry="0.8" transform="rotate(29 524.0 191.9)" fill="#9c86bf" opacity="0.33"/>
<ellipse cx="489.5" cy="213.4" rx="1.0" ry="0.8" transform="rotate(85 489.5 213.4)" fill="#9c86bf" opacity="0.39"/>
<ellipse cx="515.5" cy="199.6" rx="1.3" ry="1.1" transform="rotate(108 515.5 199.6)" fill="#9c86bf" opacity="0.30"/>
<ellipse cx="497.4" cy="213.2" rx="0.9" ry="0.9" transform="rotate(88 497.4 213.2)" fill="#9c86bf" opacity="0.31"/>
<ellipse cx="468.7" cy="180.8" rx="1.4" ry="0.7" transform="rotate(108 468.7 180.8)" fill="#9c86bf" opacity="0.30"/>
<ellipse cx="502.7" cy="193.1" rx="1.9" ry="1.0" transform="rotate(43 502.7 193.1)" fill="#9c86bf" opacity="0.51"/>
<ellipse cx="497.3" cy="186.1" rx="1.2" ry="0.9" transform="rotate(79 497.3 186.1)" fill="#9c86bf" opacity="0.43"/>
<ellipse cx="475.8" cy="212.9" rx="1.2" ry="1.1" transform="rotate(79 475.8 212.9)" fill="#9c86bf" opacity="0.34"/>
<ellipse cx="499.6" cy="195.7" rx="1.6" ry="0.8" transform="rotate(171 499.6 195.7)" fill="#9c86bf" opacity="0.44"/>
<ellipse cx="463.7" cy="219.4" rx="0.8" ry="0.5" transform="rotate(147 463.7 219.4)" fill="#9c86bf" opacity="0.30"/>
<ellipse cx="459.1" cy="178.0" rx="1.5" ry="1.0" transform="rotate(4 459.1 178.0)" fill="#9c86bf" opacity="0.27"/>
<ellipse cx="457.8" cy="171.7" rx="1.2" ry="0.8" transform="rotate(174 457.8 171.7)" fill="#9c86bf" opacity="0.41"/>
<ellipse cx="520.1" cy="199.1" rx="2.1" ry="0.9" transform="rotate(43 520.1 199.1)" fill="#9c86bf" opacity="0.33"/>
<ellipse cx="492.3" cy="174.6" rx="2.1" ry="0.8" transform="rotate(36 492.3 174.6)" fill="#9c86bf" opacity="0.37"/>
<ellipse cx="516.4" cy="182.9" rx="1.6" ry="0.5" transform="rotate(43 516.4 182.9)" fill="#9c86bf" opacity="0.28"/>
<ellipse cx="494.3" cy="204.1" rx="1.1" ry="0.9" transform="rotate(105 494.3 204.1)" fill="#9c86bf" opacity="0.45"/>
<ellipse cx="530.5" cy="186.0" rx="2.2" ry="0.8" transform="rotate(92 530.5 186.0)" fill="#9c86bf" opacity="0.27"/>
<ellipse cx="463.2" cy="201.9" rx="0.9" ry="0.5" transform="rotate(15 463.2 201.9)" fill="#9c86bf" opacity="0.38"/>
<ellipse cx="471.4" cy="182.4" rx="1.9" ry="0.8" transform="rotate(27 471.4 182.4)" fill="#9c86bf" opacity="0.42"/>
<ellipse cx="530.4" cy="200.7" rx="1.4" ry="0.8" transform="rotate(126 530.4 200.7)" fill="#9c86bf" opacity="0.47"/>
<ellipse cx="515.0" cy="181.7" rx="1.9" ry="0.5" transform="rotate(23 515.0 181.7)" fill="#9c86bf" opacity="0.37"/>
<ellipse cx="470.5" cy="197.6" rx="1.2" ry="1.1" transform="rotate(78 470.5 197.6)" fill="#9c86bf" opacity="0.46"/>
<ellipse cx="526.7" cy="192.1" rx="1.9" ry="0.8" transform="rotate(72 526.7 192.1)" fill="#9c86bf" opacity="0.26"/>
<ellipse cx="505.6" cy="216.0" rx="1.8" ry="0.7" transform="rotate(95 505.6 216.0)" fill="#9c86bf" opacity="0.33"/>
<ellipse cx="485.8" cy="208.4" rx="0.8" ry="0.8" transform="rotate(92 485.8 208.4)" fill="#9c86bf" opacity="0.26"/>
<ellipse cx="511.0" cy="181.9" rx="1.4" ry="0.6" transform="rotate(108 511.0 181.9)" fill="#9c86bf" opacity="0.35"/>
<ellipse cx="507.4" cy="190.7" rx="1.9" ry="0.8" transform="rotate(19 507.4 190.7)" fill="#9c86bf" opacity="0.37"/>
<ellipse cx="475.6" cy="184.2" rx="2.1" ry="0.8" transform="rotate(133 475.6 184.2)" fill="#9c86bf" opacity="0.27"/>
<ellipse cx="503.4" cy="175.0" rx="1.1" ry="0.5" transform="rotate(4 503.4 175.0)" fill="#9c86bf" opacity="0.49"/>
<ellipse cx="528.2" cy="187.8" rx="0.8" ry="1.0" transform="rotate(119 528.2 187.8)" fill="#9c86bf" opacity="0.23"/>
<ellipse cx="513.6" cy="172.4" rx="1.1" ry="1.0" transform="rotate(138 513.6 172.4)" fill="#9c86bf" opacity="0.29"/>
<ellipse cx="494.5" cy="209.8" rx="1.6" ry="0.8" transform="rotate(33 494.5 209.8)" fill="#9c86bf" opacity="0.24"/>
<ellipse cx="470.8" cy="195.7" rx="1.6" ry="0.8" transform="rotate(114 470.8 195.7)" fill="#9c86bf" opacity="0.39"/>
<ellipse cx="504.6" cy="190.0" rx="2.0" ry="0.8" transform="rotate(158 504.6 190.0)" fill="#9c86bf" opacity="0.52"/>
<ellipse cx="518.1" cy="208.4" rx="1.8" ry="0.8" transform="rotate(45 518.1 208.4)" fill="#9c86bf" opacity="0.25"/>
<ellipse cx="505.7" cy="181.7" rx="1.7" ry="0.8" transform="rotate(109 505.7 181.7)" fill="#9c86bf" opacity="0.35"/>
<ellipse cx="474.6" cy="184.5" rx="1.8" ry="1.1" transform="rotate(57 474.6 184.5)" fill="#9c86bf" opacity="0.31"/>
<ellipse cx="490.0" cy="190.9" rx="1.7" ry="1.0" transform="rotate(138 490.0 190.9)" fill="#9c86bf" opacity="0.46"/>
<ellipse cx="510.5" cy="218.6" rx="1.4" ry="0.8" transform="rotate(117 510.5 218.6)" fill="#9c86bf" opacity="0.31"/>
<ellipse cx="518.2" cy="190.3" rx="1.6" ry="0.8" transform="rotate(66 518.2 190.3)" fill="#9c86bf" opacity="0.22"/>
<ellipse cx="477.5" cy="193.3" rx="2.1" ry="0.5" transform="rotate(163 477.5 193.3)" fill="#9c86bf" opacity="0.51"/>
<ellipse cx="515.4" cy="183.3" rx="0.8" ry="1.1" transform="rotate(12 515.4 183.3)" fill="#9c86bf" opacity="0.31"/>
<ellipse cx="526.3" cy="203.4" rx="2.0" ry="1.0" transform="rotate(32 526.3 203.4)" fill="#9c86bf" opacity="0.37"/>
<ellipse cx="463.9" cy="188.3" rx="1.5" ry="1.0" transform="rotate(52 463.9 188.3)" fill="#9c86bf" opacity="0.42"/>
<ellipse cx="467.3" cy="182.1" rx="0.9" ry="0.9" transform="rotate(106 467.3 182.1)" fill="#9c86bf" opacity="0.43"/>
<ellipse cx="487.9" cy="216.8" rx="1.8" ry="0.8" transform="rotate(157 487.9 216.8)" fill="#9c86bf" opacity="0.27"/>
<ellipse cx="478.5" cy="197.1" rx="1.6" ry="1.1" transform="rotate(122 478.5 197.1)" fill="#9c86bf" opacity="0.23"/>
<ellipse cx="526.7" cy="192.8" rx="1.1" ry="1.0" transform="rotate(113 526.7 192.8)" fill="#9c86bf" opacity="0.48"/>
<ellipse cx="497.6" cy="182.0" rx="1.5" ry="0.8" transform="rotate(63 497.6 182.0)" fill="#9c86bf" opacity="0.39"/>
<ellipse cx="467.9" cy="181.9" rx="1.0" ry="0.5" transform="rotate(95 467.9 181.9)" fill="#9c86bf" opacity="0.44"/>
<ellipse cx="486.7" cy="215.0" rx="1.7" ry="0.9" transform="rotate(52 486.7 215.0)" fill="#9c86bf" opacity="0.49"/>
<ellipse cx="482.6" cy="212.1" rx="1.1" ry="1.1" transform="rotate(123 482.6 212.1)" fill="#9c86bf" opacity="0.27"/>
<ellipse cx="511.0" cy="176.9" rx="1.3" ry="0.7" transform="rotate(60 511.0 176.9)" fill="#9c86bf" opacity="0.33"/>
<ellipse cx="468.8" cy="189.4" rx="0.9" ry="1.0" transform="rotate(64 468.8 189.4)" fill="#9c86bf" opacity="0.43"/>
<ellipse cx="488.5" cy="218.7" rx="2.0" ry="0.9" transform="rotate(151 488.5 218.7)" fill="#9c86bf" opacity="0.49"/>
<ellipse cx="525.7" cy="190.1" rx="1.6" ry="0.5" transform="rotate(66 525.7 190.1)" fill="#9c86bf" opacity="0.32"/>
<ellipse cx="502.9" cy="169.4" rx="1.9" ry="0.5" transform="rotate(76 502.9 169.4)" fill="#9c86bf" opacity="0.37"/>
<ellipse cx="519.1" cy="201.2" rx="1.0" ry="0.9" transform="rotate(42 519.1 201.2)" fill="#9c86bf" opacity="0.41"/>
<ellipse cx="487.5" cy="217.7" rx="1.4" ry="0.6" transform="rotate(56 487.5 217.7)" fill="#9c86bf" opacity="0.51"/>
<ellipse cx="482.6" cy="181.4" rx="1.5" ry="0.9" transform="rotate(169 482.6 181.4)" fill="#9c86bf" opacity="0.24"/>
<ellipse cx="481.2" cy="205.9" rx="1.5" ry="0.9" transform="rotate(121 481.2 205.9)" fill="#9c86bf" opacity="0.25"/>
<ellipse cx="460.6" cy="178.0" rx="1.2" ry="0.6" transform="rotate(52 460.6 178.0)" fill="#9c86bf" opacity="0.25"/>
<ellipse cx="458.8" cy="195.7" rx="1.9" ry="0.6" transform="rotate(17 458.8 195.7)" fill="#9c86bf" opacity="0.44"/>
<ellipse cx="462.8" cy="176.1" rx="1.5" ry="0.7" transform="rotate(141 462.8 176.1)" fill="#9c86bf" opacity="0.37"/>
<ellipse cx="495.6" cy="188.1" rx="0.8" ry="1.0" transform="rotate(70 495.6 188.1)" fill="#9c86bf" opacity="0.47"/>
<ellipse cx="464.7" cy="191.0" rx="1.6" ry="0.6" transform="rotate(13 464.7 191.0)" fill="#9c86bf" opacity="0.50"/>
<ellipse cx="526.3" cy="220.0" rx="1.6" ry="1.0" transform="rotate(108 526.3 220.0)" fill="#9c86bf" opacity="0.36"/>
<ellipse cx="469.6" cy="201.7" rx="1.4" ry="0.9" transform="rotate(8 469.6 201.7)" fill="#9c86bf" opacity="0.31"/>
<ellipse cx="465.2" cy="207.9" rx="1.5" ry="0.7" transform="rotate(141 465.2 207.9)" fill="#9c86bf" opacity="0.38"/>
<ellipse cx="478.4" cy="189.0" rx="0.8" ry="0.5" transform="rotate(7 478.4 189.0)" fill="#9c86bf" opacity="0.51"/>
<ellipse cx="521.8" cy="196.8" rx="2.1" ry="0.8" transform="rotate(123 521.8 196.8)" fill="#9c86bf" opacity="0.25"/>
<ellipse cx="489.1" cy="200.2" rx="1.4" ry="0.9" transform="rotate(62 489.1 200.2)" fill="#9c86bf" opacity="0.42"/>
</g>
<g filter="url(#bl)">
<ellipse cx="481.7" cy="195.4" rx="1.3" ry="0.9" transform="rotate(95 481.7 195.4)" fill="#b0602f" opacity="0.52"/>
<ellipse cx="483.3" cy="204.0" rx="1.0" ry="0.7" transform="rotate(86 483.3 204.0)" fill="#b0602f" opacity="0.90"/>
<ellipse cx="501.0" cy="204.7" rx="1.7" ry="1.2" transform="rotate(174 501.0 204.7)" fill="#b0602f" opacity="0.66"/>
<ellipse cx="490.7" cy="205.5" rx="0.9" ry="0.6" transform="rotate(84 490.7 205.5)" fill="#b0602f" opacity="0.61"/>
<ellipse cx="498.4" cy="204.7" rx="1.8" ry="1.2" transform="rotate(91 498.4 204.7)" fill="#b0602f" opacity="0.78"/>
<ellipse cx="475.5" cy="201.9" rx="1.8" ry="1.3" transform="rotate(111 475.5 201.9)" fill="#b0602f" opacity="0.70"/>
<ellipse cx="496.2" cy="192.4" rx="1.0" ry="0.7" transform="rotate(36 496.2 192.4)" fill="#b0602f" opacity="0.82"/>
<ellipse cx="496.5" cy="178.1" rx="1.5" ry="1.0" transform="rotate(150 496.5 178.1)" fill="#b0602f" opacity="0.76"/>
<ellipse cx="480.3" cy="213.1" rx="1.0" ry="0.7" transform="rotate(91 480.3 213.1)" fill="#b0602f" opacity="0.68"/>
<ellipse cx="479.6" cy="186.9" rx="1.0" ry="0.7" transform="rotate(30 479.6 186.9)" fill="#b0602f" opacity="0.52"/>
<ellipse cx="502.7" cy="202.1" rx="1.1" ry="0.8" transform="rotate(171 502.7 202.1)" fill="#b0602f" opacity="0.67"/>
<ellipse cx="493.6" cy="212.1" rx="1.5" ry="1.1" transform="rotate(84 493.6 212.1)" fill="#b0602f" opacity="0.80"/>
<ellipse cx="507.2" cy="188.4" rx="0.9" ry="0.6" transform="rotate(132 507.2 188.4)" fill="#b0602f" opacity="0.80"/>
<ellipse cx="500.5" cy="181.1" rx="1.6" ry="1.1" transform="rotate(32 500.5 181.1)" fill="#b0602f" opacity="0.82"/>
<ellipse cx="501.6" cy="201.0" rx="0.9" ry="0.7" transform="rotate(66 501.6 201.0)" fill="#b0602f" opacity="0.79"/>
<ellipse cx="477.0" cy="178.1" rx="1.3" ry="0.9" transform="rotate(153 477.0 178.1)" fill="#b0602f" opacity="0.75"/>
<ellipse cx="482.7" cy="179.8" rx="1.7" ry="1.2" transform="rotate(152 482.7 179.8)" fill="#b0602f" opacity="0.78"/>
<ellipse cx="481.6" cy="205.4" rx="0.9" ry="0.6" transform="rotate(31 481.6 205.4)" fill="#b0602f" opacity="0.63"/>
<ellipse cx="517.6" cy="178.0" rx="1.0" ry="0.7" transform="rotate(132 517.6 178.0)" fill="#b0602f" opacity="0.80"/>
<ellipse cx="484.6" cy="179.6" rx="1.7" ry="1.2" transform="rotate(175 484.6 179.6)" fill="#b0602f" opacity="0.86"/>
<ellipse cx="498.9" cy="179.9" rx="1.6" ry="1.1" transform="rotate(117 498.9 179.9)" fill="#b0602f" opacity="0.83"/>
<ellipse cx="508.2" cy="195.9" rx="1.9" ry="1.3" transform="rotate(83 508.2 195.9)" fill="#b0602f" opacity="0.68"/>
<ellipse cx="502.3" cy="206.8" rx="1.5" ry="1.0" transform="rotate(169 502.3 206.8)" fill="#b0602f" opacity="0.61"/>
<ellipse cx="514.7" cy="210.2" rx="1.2" ry="0.8" transform="rotate(5 514.7 210.2)" fill="#b0602f" opacity="0.74"/>
<ellipse cx="501.4" cy="213.4" rx="1.4" ry="1.0" transform="rotate(130 501.4 213.4)" fill="#b0602f" opacity="0.80"/>
<ellipse cx="479.8" cy="202.2" rx="1.3" ry="0.9" transform="rotate(39 479.8 202.2)" fill="#b0602f" opacity="0.61"/>
<ellipse cx="489.1" cy="204.8" rx="1.4" ry="1.0" transform="rotate(58 489.1 204.8)" fill="#b0602f" opacity="0.52"/>
<ellipse cx="509.5" cy="205.5" rx="1.7" ry="1.2" transform="rotate(142 509.5 205.5)" fill="#b0602f" opacity="0.53"/>
<ellipse cx="485.2" cy="194.3" rx="1.2" ry="0.8" transform="rotate(148 485.2 194.3)" fill="#b0602f" opacity="0.58"/>
<ellipse cx="472.4" cy="193.9" rx="0.9" ry="0.6" transform="rotate(5 472.4 193.9)" fill="#b0602f" opacity="0.74"/>
<ellipse cx="501.1" cy="196.9" rx="0.9" ry="0.6" transform="rotate(101 501.1 196.9)" fill="#b0602f" opacity="0.71"/>
<ellipse cx="480.2" cy="182.3" rx="1.0" ry="0.7" transform="rotate(87 480.2 182.3)" fill="#b0602f" opacity="0.65"/>
<ellipse cx="499.8" cy="203.0" rx="1.1" ry="0.8" transform="rotate(109 499.8 203.0)" fill="#b0602f" opacity="0.60"/>
<ellipse cx="511.0" cy="181.4" rx="1.5" ry="1.0" transform="rotate(133 511.0 181.4)" fill="#b0602f" opacity="0.82"/>
<ellipse cx="496.0" cy="214.0" rx="1.9" ry="1.3" transform="rotate(143 496.0 214.0)" fill="#b0602f" opacity="0.64"/>
<ellipse cx="477.5" cy="200.8" rx="1.0" ry="0.7" transform="rotate(32 477.5 200.8)" fill="#b0602f" opacity="0.54"/>
<ellipse cx="504.4" cy="189.8" rx="1.8" ry="1.3" transform="rotate(145 504.4 189.8)" fill="#b0602f" opacity="0.71"/>
<ellipse cx="482.7" cy="186.7" rx="0.9" ry="0.6" transform="rotate(20 482.7 186.7)" fill="#b0602f" opacity="0.85"/>
<ellipse cx="479.7" cy="172.4" rx="1.9" ry="1.3" transform="rotate(68 479.7 172.4)" fill="#b0602f" opacity="0.81"/>
<ellipse cx="490.6" cy="216.5" rx="0.9" ry="0.7" transform="rotate(85 490.6 216.5)" fill="#b0602f" opacity="0.76"/>
<ellipse cx="460.6" cy="214.2" rx="1.2" ry="0.8" transform="rotate(122 460.6 214.2)" fill="#b0602f" opacity="0.53"/>
<ellipse cx="464.4" cy="176.0" rx="1.7" ry="1.2" transform="rotate(170 464.4 176.0)" fill="#b0602f" opacity="0.87"/>
<ellipse cx="496.0" cy="176.2" rx="1.7" ry="1.2" transform="rotate(91 496.0 176.2)" fill="#b0602f" opacity="0.81"/>
<ellipse cx="503.2" cy="198.0" rx="1.0" ry="0.7" transform="rotate(26 503.2 198.0)" fill="#b0602f" opacity="0.53"/>
<ellipse cx="489.1" cy="185.3" rx="1.9" ry="1.3" transform="rotate(9 489.1 185.3)" fill="#b0602f" opacity="0.80"/>
<ellipse cx="467.3" cy="176.7" rx="1.8" ry="1.3" transform="rotate(40 467.3 176.7)" fill="#b0602f" opacity="0.74"/>
<ellipse cx="499.8" cy="190.4" rx="1.2" ry="0.9" transform="rotate(25 499.8 190.4)" fill="#b0602f" opacity="0.78"/>
<ellipse cx="484.9" cy="199.6" rx="1.7" ry="1.2" transform="rotate(14 484.9 199.6)" fill="#b0602f" opacity="0.67"/>
<ellipse cx="483.6" cy="214.9" rx="1.5" ry="1.1" transform="rotate(35 483.6 214.9)" fill="#b0602f" opacity="0.68"/>
<ellipse cx="459.9" cy="195.7" rx="0.9" ry="0.6" transform="rotate(25 459.9 195.7)" fill="#b0602f" opacity="0.70"/>
<ellipse cx="496.5" cy="181.8" rx="1.5" ry="1.0" transform="rotate(56 496.5 181.8)" fill="#b0602f" opacity="0.78"/>
<ellipse cx="462.6" cy="210.7" rx="1.3" ry="0.9" transform="rotate(31 462.6 210.7)" fill="#b0602f" opacity="0.62"/>
<ellipse cx="502.8" cy="176.4" rx="1.8" ry="1.3" transform="rotate(40 502.8 176.4)" fill="#b0602f" opacity="0.66"/>
<ellipse cx="464.0" cy="193.0" rx="1.9" ry="1.3" transform="rotate(34 464.0 193.0)" fill="#b0602f" opacity="0.57"/>
<ellipse cx="497.1" cy="201.4" rx="1.0" ry="0.7" transform="rotate(39 497.1 201.4)" fill="#b0602f" opacity="0.74"/>
<ellipse cx="475.6" cy="173.3" rx="1.6" ry="1.1" transform="rotate(156 475.6 173.3)" fill="#b0602f" opacity="0.82"/>
<ellipse cx="518.7" cy="181.8" rx="1.2" ry="0.8" transform="rotate(108 518.7 181.8)" fill="#b0602f" opacity="0.75"/>
<ellipse cx="502.7" cy="197.4" rx="1.1" ry="0.8" transform="rotate(43 502.7 197.4)" fill="#b0602f" opacity="0.53"/>
</g>
<rect x="456.9" y="169.0" width="73.89999999999998" height="51.0" filter="url(#noise)" opacity="0.25"/>
</g>
<rect x="457.45" y="169.55" width="72.79999999999998" height="49.9" fill="none" stroke="#747474" stroke-width="1.2"/>
<clipPath id="cp02"><rect x="533.3" y="169.0" width="73.80000000000007" height="51.0"/></clipPath>
<g clip-path="url(#cp02)">
<rect x="533.3" y="169.0" width="73.80000000000007" height="51.0" fill="url(#g3)"/>
<path d="M536.3,209.0 Q553.3,191.0 569.3,170.0" stroke="#c09098" stroke-width="4" fill="none" opacity="0.22" filter="url(#bl3)"/>
<g filter="url(#bl)">
<circle cx="539.1" cy="204.4" r="0.65" fill="#b87070" opacity="0.35"/>
<circle cx="564.4" cy="174.5" r="0.55" fill="#b87070" opacity="0.35"/>
<circle cx="535.3" cy="208.0" r="0.42" fill="#b87070" opacity="0.35"/>
<circle cx="536.0" cy="203.7" r="0.48" fill="#b87070" opacity="0.35"/>
<circle cx="549.8" cy="193.5" r="0.65" fill="#b87070" opacity="0.35"/>
<circle cx="556.1" cy="189.4" r="0.60" fill="#b87070" opacity="0.35"/>
<circle cx="560.7" cy="180.6" r="0.44" fill="#b87070" opacity="0.35"/>
<circle cx="541.3" cy="200.4" r="0.59" fill="#b87070" opacity="0.35"/>
<circle cx="544.8" cy="201.6" r="0.54" fill="#b87070" opacity="0.35"/>
<circle cx="568.6" cy="175.0" r="0.60" fill="#b87070" opacity="0.35"/>
<circle cx="563.5" cy="183.3" r="0.56" fill="#b87070" opacity="0.35"/>
<circle cx="555.0" cy="190.9" r="0.42" fill="#b87070" opacity="0.35"/>
<circle cx="542.7" cy="200.9" r="0.59" fill="#b87070" opacity="0.35"/>
<circle cx="552.5" cy="183.1" r="0.55" fill="#b87070" opacity="0.35"/>
<circle cx="551.4" cy="194.1" r="0.34" fill="#b87070" opacity="0.35"/>
<circle cx="564.0" cy="180.3" r="0.55" fill="#b87070" opacity="0.35"/>
<circle cx="557.9" cy="185.8" r="0.50" fill="#b87070" opacity="0.35"/>
<circle cx="572.7" cy="170.1" r="0.63" fill="#b87070" opacity="0.35"/>
<circle cx="561.6" cy="186.6" r="0.33" fill="#b87070" opacity="0.35"/>
<circle cx="540.8" cy="203.1" r="0.67" fill="#b87070" opacity="0.35"/>
<circle cx="543.8" cy="203.0" r="0.59" fill="#b87070" opacity="0.35"/>
<circle cx="559.8" cy="189.4" r="0.34" fill="#b87070" opacity="0.35"/>
<circle cx="566.1" cy="172.1" r="0.60" fill="#b87070" opacity="0.35"/>
<circle cx="544.3" cy="200.6" r="0.62" fill="#b87070" opacity="0.35"/>
<circle cx="564.5" cy="171.7" r="0.60" fill="#b87070" opacity="0.35"/>
<circle cx="570.2" cy="170.5" r="0.34" fill="#b87070" opacity="0.35"/>
<circle cx="539.7" cy="203.1" r="0.43" fill="#b87070" opacity="0.35"/>
<circle cx="537.2" cy="204.7" r="0.63" fill="#b87070" opacity="0.35"/>
<circle cx="540.6" cy="207.4" r="0.44" fill="#b87070" opacity="0.35"/>
<circle cx="557.3" cy="186.0" r="0.65" fill="#b87070" opacity="0.35"/>
<circle cx="564.4" cy="178.4" r="0.50" fill="#b87070" opacity="0.35"/>
<circle cx="563.0" cy="170.0" r="0.56" fill="#b87070" opacity="0.35"/>
<circle cx="564.3" cy="170.1" r="0.48" fill="#b87070" opacity="0.35"/>
<circle cx="563.1" cy="179.7" r="0.32" fill="#b87070" opacity="0.35"/>
<circle cx="543.9" cy="203.1" r="0.34" fill="#b87070" opacity="0.35"/>
<circle cx="537.5" cy="205.2" r="0.43" fill="#b87070" opacity="0.35"/>
<circle cx="537.8" cy="203.7" r="0.68" fill="#b87070" opacity="0.35"/>
<circle cx="561.6" cy="182.7" r="0.55" fill="#b87070" opacity="0.35"/>
<circle cx="552.0" cy="196.1" r="0.55" fill="#b87070" opacity="0.35"/>
<circle cx="571.1" cy="171.4" r="0.48" fill="#b87070" opacity="0.35"/>
<circle cx="539.8" cy="204.3" r="0.58" fill="#b87070" opacity="0.35"/>
<circle cx="543.3" cy="198.2" r="0.35" fill="#b87070" opacity="0.35"/>
<circle cx="545.6" cy="196.5" r="0.61" fill="#b87070" opacity="0.35"/>
<circle cx="556.3" cy="182.4" r="0.35" fill="#b87070" opacity="0.35"/>
<circle cx="550.0" cy="187.8" r="0.48" fill="#b87070" opacity="0.35"/>
<circle cx="556.1" cy="191.1" r="0.43" fill="#b87070" opacity="0.35"/>
<circle cx="545.2" cy="197.5" r="0.45" fill="#b87070" opacity="0.35"/>
<circle cx="540.4" cy="200.8" r="0.63" fill="#b87070" opacity="0.35"/>
<circle cx="554.1" cy="192.5" r="0.53" fill="#b87070" opacity="0.35"/>
<circle cx="544.0" cy="201.0" r="0.33" fill="#b87070" opacity="0.35"/>
<circle cx="549.1" cy="190.8" r="0.44" fill="#b87070" opacity="0.35"/>
<circle cx="543.8" cy="199.0" r="0.40" fill="#b87070" opacity="0.35"/>
<circle cx="542.0" cy="201.3" r="0.57" fill="#b87070" opacity="0.35"/>
<circle cx="562.0" cy="172.8" r="0.43" fill="#b87070" opacity="0.35"/>
<circle cx="556.7" cy="191.9" r="0.64" fill="#b87070" opacity="0.35"/>
<circle cx="532.2" cy="207.4" r="0.47" fill="#b87070" opacity="0.35"/>
<circle cx="535.0" cy="206.5" r="0.65" fill="#b87070" opacity="0.35"/>
<circle cx="541.6" cy="199.3" r="0.64" fill="#b87070" opacity="0.35"/>
<circle cx="539.5" cy="203.2" r="0.40" fill="#b87070" opacity="0.35"/>
<circle cx="571.3" cy="171.6" r="0.44" fill="#b87070" opacity="0.35"/>
</g>
<g filter="url(#bl)">
<circle cx="605.4" cy="218.2" r="0.44" fill="#8a5a70" opacity="0.6"/>
<circle cx="550.1" cy="171.5" r="0.41" fill="#8a5a70" opacity="0.6"/>
<circle cx="569.2" cy="213.0" r="0.55" fill="#8a5a70" opacity="0.6"/>
<circle cx="593.6" cy="181.3" r="0.55" fill="#8a5a70" opacity="0.6"/>
<circle cx="578.5" cy="170.9" r="0.31" fill="#8a5a70" opacity="0.6"/>
<circle cx="604.0" cy="209.6" r="0.47" fill="#8a5a70" opacity="0.6"/>
<circle cx="582.2" cy="170.2" r="0.53" fill="#8a5a70" opacity="0.6"/>
<circle cx="555.3" cy="208.4" r="0.41" fill="#8a5a70" opacity="0.6"/>
<circle cx="569.3" cy="195.8" r="0.53" fill="#8a5a70" opacity="0.6"/>
<circle cx="594.9" cy="189.1" r="0.51" fill="#8a5a70" opacity="0.6"/>
<circle cx="546.2" cy="186.8" r="0.35" fill="#8a5a70" opacity="0.6"/>
<circle cx="536.8" cy="189.4" r="0.25" fill="#8a5a70" opacity="0.6"/>
<circle cx="604.8" cy="210.7" r="0.39" fill="#8a5a70" opacity="0.6"/>
<circle cx="537.8" cy="182.4" r="0.48" fill="#8a5a70" opacity="0.6"/>
<circle cx="555.0" cy="173.8" r="0.38" fill="#8a5a70" opacity="0.6"/>
<circle cx="576.0" cy="175.4" r="0.36" fill="#8a5a70" opacity="0.6"/>
<circle cx="574.4" cy="207.0" r="0.37" fill="#8a5a70" opacity="0.6"/>
<circle cx="606.5" cy="182.0" r="0.48" fill="#8a5a70" opacity="0.6"/>
<circle cx="539.2" cy="215.7" r="0.41" fill="#8a5a70" opacity="0.6"/>
<circle cx="546.1" cy="210.6" r="0.51" fill="#8a5a70" opacity="0.6"/>
<circle cx="542.9" cy="214.0" r="0.54" fill="#8a5a70" opacity="0.6"/>
<circle cx="559.6" cy="209.3" r="0.47" fill="#8a5a70" opacity="0.6"/>
<circle cx="575.1" cy="188.8" r="0.34" fill="#8a5a70" opacity="0.6"/>
<circle cx="593.5" cy="208.9" r="0.53" fill="#8a5a70" opacity="0.6"/>
<circle cx="538.3" cy="198.1" r="0.46" fill="#8a5a70" opacity="0.6"/>
<circle cx="549.4" cy="170.1" r="0.52" fill="#8a5a70" opacity="0.6"/>
<circle cx="590.9" cy="205.4" r="0.35" fill="#8a5a70" opacity="0.6"/>
<circle cx="565.6" cy="210.4" r="0.28" fill="#8a5a70" opacity="0.6"/>
<circle cx="586.6" cy="205.1" r="0.39" fill="#8a5a70" opacity="0.6"/>
<circle cx="603.6" cy="201.2" r="0.52" fill="#8a5a70" opacity="0.6"/>
<circle cx="547.6" cy="189.8" r="0.34" fill="#8a5a70" opacity="0.6"/>
<circle cx="570.1" cy="207.5" r="0.55" fill="#8a5a70" opacity="0.6"/>
<circle cx="600.5" cy="212.5" r="0.54" fill="#8a5a70" opacity="0.6"/>
<circle cx="587.4" cy="206.6" r="0.28" fill="#8a5a70" opacity="0.6"/>
<circle cx="563.4" cy="193.9" r="0.28" fill="#8a5a70" opacity="0.6"/>
<circle cx="599.8" cy="188.0" r="0.32" fill="#8a5a70" opacity="0.6"/>
<circle cx="539.3" cy="196.4" r="0.35" fill="#8a5a70" opacity="0.6"/>
<circle cx="603.3" cy="201.4" r="0.38" fill="#8a5a70" opacity="0.6"/>
<circle cx="544.9" cy="171.5" r="0.46" fill="#8a5a70" opacity="0.6"/>
<circle cx="578.5" cy="194.2" r="0.40" fill="#8a5a70" opacity="0.6"/>
<circle cx="563.6" cy="215.2" r="0.27" fill="#8a5a70" opacity="0.6"/>
<circle cx="550.4" cy="209.5" r="0.34" fill="#8a5a70" opacity="0.6"/>
<circle cx="557.8" cy="191.0" r="0.34" fill="#8a5a70" opacity="0.6"/>
<circle cx="589.3" cy="173.9" r="0.42" fill="#8a5a70" opacity="0.6"/>
<circle cx="586.0" cy="186.5" r="0.47" fill="#8a5a70" opacity="0.6"/>
<circle cx="559.5" cy="200.8" r="0.28" fill="#8a5a70" opacity="0.6"/>
<circle cx="556.7" cy="197.6" r="0.43" fill="#8a5a70" opacity="0.6"/>
<circle cx="567.5" cy="170.9" r="0.41" fill="#8a5a70" opacity="0.6"/>
<circle cx="597.2" cy="182.9" r="0.31" fill="#8a5a70" opacity="0.6"/>
<circle cx="579.1" cy="180.8" r="0.28" fill="#8a5a70" opacity="0.6"/>
<circle cx="538.8" cy="200.9" r="0.51" fill="#8a5a70" opacity="0.6"/>
<circle cx="590.2" cy="199.1" r="0.51" fill="#8a5a70" opacity="0.6"/>
<circle cx="595.9" cy="182.7" r="0.36" fill="#8a5a70" opacity="0.6"/>
<circle cx="605.2" cy="217.1" r="0.44" fill="#8a5a70" opacity="0.6"/>
<circle cx="579.8" cy="186.5" r="0.28" fill="#8a5a70" opacity="0.6"/>
<circle cx="557.6" cy="180.8" r="0.44" fill="#8a5a70" opacity="0.6"/>
<circle cx="581.7" cy="201.1" r="0.52" fill="#8a5a70" opacity="0.6"/>
<circle cx="533.3" cy="179.5" r="0.28" fill="#8a5a70" opacity="0.6"/>
<circle cx="560.6" cy="215.6" r="0.39" fill="#8a5a70" opacity="0.6"/>
<circle cx="592.3" cy="178.3" r="0.36" fill="#8a5a70" opacity="0.6"/>
</g>
<rect x="533.3" y="169.0" width="73.80000000000007" height="51.0" filter="url(#noise)" opacity="0.35"/>
</g>
<rect x="533.8499999999999" y="169.55" width="72.70000000000007" height="49.9" fill="none" stroke="#747474" stroke-width="1.2"/>
<rect x="556.1" y="179.8" width="17.199999999999932" height="13.199999999999989" fill="none" stroke="#4a4a4a" stroke-width="0.85"/>
<line x1="573.3" y1="179.8" x2="606.5" y2="169.6" stroke="#4a4a4a" stroke-width="0.85" />
<line x1="573.3" y1="193.0" x2="606.5" y2="219.4" stroke="#4a4a4a" stroke-width="0.85" />
<clipPath id="cp03"><rect x="609.4" y="169.0" width="74.10000000000002" height="51.0"/></clipPath>
<g clip-path="url(#cp03)">
<rect x="609.4" y="169.0" width="74.10000000000002" height="51.0" fill="url(#g4)"/>
<g filter="url(#bl3)">
<circle cx="668.6" cy="184.0" r="4.3" fill="#eee4ee" opacity="0.6"/>
<circle cx="653.8" cy="202.4" r="2.6" fill="#eee4ee" opacity="0.6"/>
<circle cx="636.1" cy="219.2" r="3.4" fill="#eee4ee" opacity="0.6"/>
<circle cx="630.0" cy="220.0" r="4.0" fill="#eee4ee" opacity="0.6"/>
<circle cx="661.0" cy="193.7" r="4.1" fill="#eee4ee" opacity="0.6"/>
<circle cx="638.3" cy="183.0" r="3.2" fill="#eee4ee" opacity="0.6"/>
</g>
<g filter="url(#bl2)">
<ellipse cx="626.2" cy="204.4" rx="1.2" ry="0.5" transform="rotate(91 626.2 204.4)" fill="#9c86bf" opacity="0.25"/>
<ellipse cx="667.3" cy="203.1" rx="2.4" ry="0.6" transform="rotate(92 667.3 203.1)" fill="#9c86bf" opacity="0.08"/>
<ellipse cx="647.9" cy="170.6" rx="1.3" ry="0.5" transform="rotate(62 647.9 170.6)" fill="#9c86bf" opacity="0.16"/>
<ellipse cx="625.6" cy="173.0" rx="1.3" ry="1.1" transform="rotate(177 625.6 173.0)" fill="#9c86bf" opacity="0.24"/>
<ellipse cx="619.5" cy="179.3" rx="2.6" ry="0.5" transform="rotate(27 619.5 179.3)" fill="#9c86bf" opacity="0.19"/>
<ellipse cx="680.9" cy="216.2" rx="2.6" ry="0.7" transform="rotate(132 680.9 216.2)" fill="#9c86bf" opacity="0.24"/>
<ellipse cx="676.1" cy="218.5" rx="2.4" ry="1.0" transform="rotate(126 676.1 218.5)" fill="#9c86bf" opacity="0.15"/>
<ellipse cx="651.9" cy="216.4" rx="2.1" ry="0.5" transform="rotate(81 651.9 216.4)" fill="#9c86bf" opacity="0.23"/>
<ellipse cx="661.9" cy="193.6" rx="2.7" ry="1.0" transform="rotate(40 661.9 193.6)" fill="#9c86bf" opacity="0.20"/>
<ellipse cx="673.9" cy="169.3" rx="2.7" ry="0.8" transform="rotate(153 673.9 169.3)" fill="#9c86bf" opacity="0.08"/>
<ellipse cx="633.1" cy="184.5" rx="1.4" ry="0.9" transform="rotate(143 633.1 184.5)" fill="#9c86bf" opacity="0.19"/>
<ellipse cx="676.8" cy="174.8" rx="1.6" ry="0.7" transform="rotate(143 676.8 174.8)" fill="#9c86bf" opacity="0.21"/>
<ellipse cx="682.8" cy="213.5" rx="2.0" ry="1.0" transform="rotate(147 682.8 213.5)" fill="#9c86bf" opacity="0.17"/>
<ellipse cx="659.7" cy="212.5" rx="2.6" ry="0.6" transform="rotate(5 659.7 212.5)" fill="#9c86bf" opacity="0.20"/>
<ellipse cx="669.9" cy="178.7" rx="2.6" ry="1.0" transform="rotate(30 669.9 178.7)" fill="#9c86bf" opacity="0.11"/>
<ellipse cx="658.1" cy="200.8" rx="1.3" ry="1.1" transform="rotate(39 658.1 200.8)" fill="#9c86bf" opacity="0.22"/>
<ellipse cx="679.5" cy="175.2" rx="2.3" ry="0.8" transform="rotate(165 679.5 175.2)" fill="#9c86bf" opacity="0.16"/>
<ellipse cx="639.9" cy="180.9" rx="2.6" ry="0.7" transform="rotate(164 639.9 180.9)" fill="#9c86bf" opacity="0.09"/>
<ellipse cx="675.3" cy="170.0" rx="2.4" ry="1.1" transform="rotate(58 675.3 170.0)" fill="#9c86bf" opacity="0.18"/>
<ellipse cx="640.1" cy="172.3" rx="2.6" ry="0.8" transform="rotate(144 640.1 172.3)" fill="#9c86bf" opacity="0.09"/>
<ellipse cx="621.5" cy="180.7" rx="2.5" ry="0.5" transform="rotate(4 621.5 180.7)" fill="#9c86bf" opacity="0.14"/>
<ellipse cx="638.0" cy="212.2" rx="2.6" ry="0.6" transform="rotate(134 638.0 212.2)" fill="#9c86bf" opacity="0.14"/>
<ellipse cx="666.2" cy="202.6" rx="1.2" ry="0.8" transform="rotate(76 666.2 202.6)" fill="#9c86bf" opacity="0.16"/>
<ellipse cx="650.5" cy="204.2" rx="1.8" ry="0.8" transform="rotate(149 650.5 204.2)" fill="#9c86bf" opacity="0.20"/>
<ellipse cx="623.7" cy="176.0" rx="1.5" ry="1.1" transform="rotate(70 623.7 176.0)" fill="#9c86bf" opacity="0.23"/>
<ellipse cx="680.9" cy="204.6" rx="1.7" ry="1.0" transform="rotate(90 680.9 204.6)" fill="#9c86bf" opacity="0.24"/>
<ellipse cx="646.6" cy="201.5" rx="2.3" ry="0.9" transform="rotate(32 646.6 201.5)" fill="#9c86bf" opacity="0.18"/>
<ellipse cx="641.1" cy="203.7" rx="2.4" ry="0.6" transform="rotate(67 641.1 203.7)" fill="#9c86bf" opacity="0.12"/>
<ellipse cx="680.6" cy="194.0" rx="1.9" ry="1.1" transform="rotate(141 680.6 194.0)" fill="#9c86bf" opacity="0.23"/>
<ellipse cx="646.7" cy="175.5" rx="1.7" ry="0.5" transform="rotate(72 646.7 175.5)" fill="#9c86bf" opacity="0.16"/>
<ellipse cx="644.9" cy="218.9" rx="2.0" ry="0.6" transform="rotate(32 644.9 218.9)" fill="#9c86bf" opacity="0.20"/>
<ellipse cx="647.6" cy="189.9" rx="1.9" ry="0.7" transform="rotate(122 647.6 189.9)" fill="#9c86bf" opacity="0.18"/>
<ellipse cx="613.0" cy="194.3" rx="1.5" ry="0.9" transform="rotate(83 613.0 194.3)" fill="#9c86bf" opacity="0.21"/>
<ellipse cx="680.9" cy="206.8" rx="2.2" ry="0.8" transform="rotate(20 680.9 206.8)" fill="#9c86bf" opacity="0.20"/>
<ellipse cx="624.0" cy="188.4" rx="2.1" ry="0.6" transform="rotate(155 624.0 188.4)" fill="#9c86bf" opacity="0.17"/>
<ellipse cx="681.5" cy="170.1" rx="1.9" ry="0.7" transform="rotate(103 681.5 170.1)" fill="#9c86bf" opacity="0.19"/>
<ellipse cx="653.2" cy="216.9" rx="1.8" ry="0.7" transform="rotate(135 653.2 216.9)" fill="#9c86bf" opacity="0.17"/>
<ellipse cx="629.3" cy="216.0" rx="1.5" ry="0.5" transform="rotate(97 629.3 216.0)" fill="#9c86bf" opacity="0.23"/>
<ellipse cx="672.7" cy="210.6" rx="2.2" ry="0.8" transform="rotate(52 672.7 210.6)" fill="#9c86bf" opacity="0.11"/>
<ellipse cx="642.2" cy="211.5" rx="2.0" ry="1.1" transform="rotate(144 642.2 211.5)" fill="#9c86bf" opacity="0.17"/>
<ellipse cx="653.2" cy="190.3" rx="2.7" ry="1.0" transform="rotate(32 653.2 190.3)" fill="#9c86bf" opacity="0.23"/>
<ellipse cx="659.6" cy="187.4" rx="2.4" ry="0.7" transform="rotate(125 659.6 187.4)" fill="#9c86bf" opacity="0.17"/>
<ellipse cx="656.1" cy="216.0" rx="2.7" ry="0.8" transform="rotate(70 656.1 216.0)" fill="#9c86bf" opacity="0.20"/>
<ellipse cx="658.8" cy="173.9" rx="2.0" ry="0.6" transform="rotate(117 658.8 173.9)" fill="#9c86bf" opacity="0.11"/>
<ellipse cx="631.5" cy="181.9" rx="1.6" ry="0.8" transform="rotate(155 631.5 181.9)" fill="#9c86bf" opacity="0.19"/>
<ellipse cx="657.3" cy="207.8" rx="1.8" ry="0.7" transform="rotate(117 657.3 207.8)" fill="#9c86bf" opacity="0.12"/>
<ellipse cx="665.2" cy="216.0" rx="2.6" ry="0.5" transform="rotate(165 665.2 216.0)" fill="#9c86bf" opacity="0.12"/>
<ellipse cx="619.0" cy="200.5" rx="1.7" ry="0.6" transform="rotate(109 619.0 200.5)" fill="#9c86bf" opacity="0.17"/>
<ellipse cx="649.2" cy="195.1" rx="2.2" ry="1.0" transform="rotate(130 649.2 195.1)" fill="#9c86bf" opacity="0.20"/>
<ellipse cx="670.7" cy="193.0" rx="2.2" ry="0.5" transform="rotate(15 670.7 193.0)" fill="#9c86bf" opacity="0.16"/>
<ellipse cx="659.9" cy="181.0" rx="2.8" ry="0.7" transform="rotate(88 659.9 181.0)" fill="#9c86bf" opacity="0.16"/>
<ellipse cx="681.3" cy="176.8" rx="1.5" ry="0.9" transform="rotate(65 681.3 176.8)" fill="#9c86bf" opacity="0.14"/>
<ellipse cx="619.2" cy="215.8" rx="1.8" ry="0.9" transform="rotate(44 619.2 215.8)" fill="#9c86bf" opacity="0.24"/>
<ellipse cx="617.2" cy="204.6" rx="1.2" ry="0.8" transform="rotate(59 617.2 204.6)" fill="#9c86bf" opacity="0.24"/>
<ellipse cx="641.9" cy="211.8" rx="1.1" ry="0.6" transform="rotate(178 641.9 211.8)" fill="#9c86bf" opacity="0.14"/>
<ellipse cx="612.2" cy="182.2" rx="1.7" ry="0.8" transform="rotate(69 612.2 182.2)" fill="#9c86bf" opacity="0.13"/>
<ellipse cx="644.6" cy="192.9" rx="1.4" ry="0.8" transform="rotate(104 644.6 192.9)" fill="#9c86bf" opacity="0.18"/>
<ellipse cx="664.2" cy="192.1" rx="1.4" ry="1.1" transform="rotate(21 664.2 192.1)" fill="#9c86bf" opacity="0.13"/>
<ellipse cx="640.3" cy="190.0" rx="1.4" ry="1.1" transform="rotate(54 640.3 190.0)" fill="#9c86bf" opacity="0.17"/>
<ellipse cx="654.5" cy="175.7" rx="1.8" ry="0.5" transform="rotate(98 654.5 175.7)" fill="#9c86bf" opacity="0.20"/>
<ellipse cx="672.7" cy="216.9" rx="1.2" ry="0.8" transform="rotate(120 672.7 216.9)" fill="#9c86bf" opacity="0.14"/>
<ellipse cx="679.4" cy="194.2" rx="2.6" ry="0.5" transform="rotate(70 679.4 194.2)" fill="#9c86bf" opacity="0.20"/>
<ellipse cx="671.5" cy="194.3" rx="2.6" ry="1.0" transform="rotate(74 671.5 194.3)" fill="#9c86bf" opacity="0.20"/>
<ellipse cx="647.7" cy="174.7" rx="2.7" ry="1.0" transform="rotate(161 647.7 174.7)" fill="#9c86bf" opacity="0.12"/>
<ellipse cx="667.0" cy="171.0" rx="1.9" ry="0.7" transform="rotate(91 667.0 171.0)" fill="#9c86bf" opacity="0.15"/>
<ellipse cx="650.2" cy="191.1" rx="2.4" ry="0.9" transform="rotate(50 650.2 191.1)" fill="#9c86bf" opacity="0.11"/>
<ellipse cx="627.0" cy="185.7" rx="1.8" ry="0.8" transform="rotate(138 627.0 185.7)" fill="#9c86bf" opacity="0.25"/>
<ellipse cx="628.8" cy="184.0" rx="2.0" ry="0.5" transform="rotate(114 628.8 184.0)" fill="#9c86bf" opacity="0.09"/>
<ellipse cx="653.4" cy="198.9" rx="1.7" ry="1.1" transform="rotate(56 653.4 198.9)" fill="#9c86bf" opacity="0.08"/>
<ellipse cx="617.3" cy="181.3" rx="2.4" ry="1.0" transform="rotate(64 617.3 181.3)" fill="#9c86bf" opacity="0.23"/>
<ellipse cx="621.5" cy="180.7" rx="2.1" ry="0.8" transform="rotate(142 621.5 180.7)" fill="#9c86bf" opacity="0.13"/>
<ellipse cx="676.2" cy="201.2" rx="2.3" ry="0.9" transform="rotate(38 676.2 201.2)" fill="#9c86bf" opacity="0.18"/>
<ellipse cx="679.3" cy="169.8" rx="1.6" ry="0.7" transform="rotate(46 679.3 169.8)" fill="#9c86bf" opacity="0.21"/>
<ellipse cx="657.4" cy="175.9" rx="2.3" ry="1.1" transform="rotate(12 657.4 175.9)" fill="#9c86bf" opacity="0.08"/>
<ellipse cx="654.0" cy="213.9" rx="2.0" ry="0.8" transform="rotate(73 654.0 213.9)" fill="#9c86bf" opacity="0.18"/>
<ellipse cx="677.0" cy="199.5" rx="2.4" ry="0.8" transform="rotate(159 677.0 199.5)" fill="#9c86bf" opacity="0.21"/>
<ellipse cx="647.1" cy="184.4" rx="1.6" ry="1.1" transform="rotate(115 647.1 184.4)" fill="#9c86bf" opacity="0.09"/>
<ellipse cx="648.0" cy="190.8" rx="2.1" ry="0.6" transform="rotate(163 648.0 190.8)" fill="#9c86bf" opacity="0.16"/>
<ellipse cx="670.8" cy="182.2" rx="2.7" ry="0.8" transform="rotate(98 670.8 182.2)" fill="#9c86bf" opacity="0.15"/>
<ellipse cx="679.2" cy="197.7" rx="2.0" ry="0.7" transform="rotate(82 679.2 197.7)" fill="#9c86bf" opacity="0.13"/>
<ellipse cx="642.4" cy="182.4" rx="1.2" ry="0.7" transform="rotate(5 642.4 182.4)" fill="#9c86bf" opacity="0.19"/>
<ellipse cx="616.4" cy="215.2" rx="1.6" ry="0.6" transform="rotate(99 616.4 215.2)" fill="#9c86bf" opacity="0.13"/>
<ellipse cx="663.0" cy="184.5" rx="2.7" ry="0.5" transform="rotate(10 663.0 184.5)" fill="#9c86bf" opacity="0.23"/>
<ellipse cx="660.4" cy="182.4" rx="2.2" ry="0.7" transform="rotate(91 660.4 182.4)" fill="#9c86bf" opacity="0.13"/>
<ellipse cx="649.4" cy="202.1" rx="2.6" ry="0.6" transform="rotate(103 649.4 202.1)" fill="#9c86bf" opacity="0.18"/>
<ellipse cx="674.2" cy="193.5" rx="2.6" ry="1.1" transform="rotate(73 674.2 193.5)" fill="#9c86bf" opacity="0.15"/>
<ellipse cx="681.2" cy="198.6" rx="2.0" ry="1.0" transform="rotate(109 681.2 198.6)" fill="#9c86bf" opacity="0.17"/>
<ellipse cx="658.2" cy="182.3" rx="1.7" ry="0.5" transform="rotate(130 658.2 182.3)" fill="#9c86bf" opacity="0.22"/>
<ellipse cx="663.9" cy="218.6" rx="2.4" ry="0.5" transform="rotate(58 663.9 218.6)" fill="#9c86bf" opacity="0.24"/>
<ellipse cx="617.4" cy="213.8" rx="2.5" ry="0.6" transform="rotate(38 617.4 213.8)" fill="#9c86bf" opacity="0.20"/>
<ellipse cx="657.8" cy="170.5" rx="2.0" ry="0.6" transform="rotate(155 657.8 170.5)" fill="#9c86bf" opacity="0.17"/>
<ellipse cx="610.4" cy="189.2" rx="1.1" ry="1.1" transform="rotate(160 610.4 189.2)" fill="#9c86bf" opacity="0.20"/>
<ellipse cx="609.6" cy="216.8" rx="1.5" ry="0.9" transform="rotate(137 609.6 216.8)" fill="#9c86bf" opacity="0.18"/>
<ellipse cx="618.0" cy="181.5" rx="2.4" ry="0.5" transform="rotate(68 618.0 181.5)" fill="#9c86bf" opacity="0.24"/>
<ellipse cx="639.7" cy="176.8" rx="2.2" ry="0.7" transform="rotate(142 639.7 176.8)" fill="#9c86bf" opacity="0.14"/>
<ellipse cx="670.8" cy="211.1" rx="1.4" ry="0.8" transform="rotate(80 670.8 211.1)" fill="#9c86bf" opacity="0.10"/>
<ellipse cx="677.0" cy="186.4" rx="2.2" ry="0.5" transform="rotate(171 677.0 186.4)" fill="#9c86bf" opacity="0.25"/>
<ellipse cx="660.1" cy="175.7" rx="2.2" ry="0.8" transform="rotate(85 660.1 175.7)" fill="#9c86bf" opacity="0.12"/>
<ellipse cx="620.6" cy="212.1" rx="2.1" ry="1.0" transform="rotate(133 620.6 212.1)" fill="#9c86bf" opacity="0.15"/>
<ellipse cx="650.1" cy="184.4" rx="2.2" ry="0.8" transform="rotate(141 650.1 184.4)" fill="#9c86bf" opacity="0.13"/>
<ellipse cx="637.7" cy="173.2" rx="1.1" ry="0.6" transform="rotate(3 637.7 173.2)" fill="#9c86bf" opacity="0.15"/>
<ellipse cx="637.5" cy="214.0" rx="1.1" ry="1.1" transform="rotate(17 637.5 214.0)" fill="#9c86bf" opacity="0.22"/>
<ellipse cx="635.9" cy="181.5" rx="2.2" ry="0.7" transform="rotate(3 635.9 181.5)" fill="#9c86bf" opacity="0.10"/>
<ellipse cx="659.7" cy="205.7" rx="2.8" ry="0.6" transform="rotate(138 659.7 205.7)" fill="#9c86bf" opacity="0.14"/>
<ellipse cx="647.6" cy="183.2" rx="1.8" ry="1.1" transform="rotate(45 647.6 183.2)" fill="#9c86bf" opacity="0.15"/>
<ellipse cx="676.7" cy="192.0" rx="2.5" ry="0.8" transform="rotate(63 676.7 192.0)" fill="#9c86bf" opacity="0.20"/>
<ellipse cx="657.8" cy="188.4" rx="2.9" ry="0.5" transform="rotate(153 657.8 188.4)" fill="#9c86bf" opacity="0.20"/>
<ellipse cx="662.0" cy="193.2" rx="2.4" ry="0.5" transform="rotate(121 662.0 193.2)" fill="#9c86bf" opacity="0.23"/>
<ellipse cx="639.6" cy="206.8" rx="2.3" ry="0.8" transform="rotate(139 639.6 206.8)" fill="#9c86bf" opacity="0.16"/>
<ellipse cx="618.3" cy="195.7" rx="2.4" ry="0.6" transform="rotate(83 618.3 195.7)" fill="#9c86bf" opacity="0.22"/>
<ellipse cx="610.4" cy="213.0" rx="1.7" ry="0.7" transform="rotate(126 610.4 213.0)" fill="#9c86bf" opacity="0.18"/>
<ellipse cx="630.7" cy="176.9" rx="1.8" ry="1.1" transform="rotate(179 630.7 176.9)" fill="#9c86bf" opacity="0.20"/>
<ellipse cx="661.0" cy="204.0" rx="2.7" ry="0.6" transform="rotate(26 661.0 204.0)" fill="#9c86bf" opacity="0.22"/>
<ellipse cx="610.9" cy="195.7" rx="1.8" ry="1.1" transform="rotate(112 610.9 195.7)" fill="#9c86bf" opacity="0.12"/>
<ellipse cx="614.2" cy="193.1" rx="2.0" ry="0.8" transform="rotate(105 614.2 193.1)" fill="#9c86bf" opacity="0.09"/>
<ellipse cx="636.0" cy="211.3" rx="1.6" ry="0.6" transform="rotate(32 636.0 211.3)" fill="#9c86bf" opacity="0.24"/>
<ellipse cx="673.8" cy="189.7" rx="1.6" ry="0.7" transform="rotate(159 673.8 189.7)" fill="#9c86bf" opacity="0.23"/>
<ellipse cx="680.0" cy="212.7" rx="2.3" ry="0.5" transform="rotate(170 680.0 212.7)" fill="#9c86bf" opacity="0.11"/>
<ellipse cx="664.2" cy="187.2" rx="1.1" ry="0.9" transform="rotate(46 664.2 187.2)" fill="#9c86bf" opacity="0.23"/>
<ellipse cx="622.8" cy="203.0" rx="1.8" ry="0.5" transform="rotate(51 622.8 203.0)" fill="#9c86bf" opacity="0.13"/>
<ellipse cx="666.8" cy="208.3" rx="2.7" ry="0.6" transform="rotate(38 666.8 208.3)" fill="#9c86bf" opacity="0.14"/>
<ellipse cx="633.1" cy="179.5" rx="2.4" ry="0.5" transform="rotate(97 633.1 179.5)" fill="#9c86bf" opacity="0.10"/>
<ellipse cx="632.6" cy="183.9" rx="1.9" ry="1.1" transform="rotate(133 632.6 183.9)" fill="#9c86bf" opacity="0.15"/>
<ellipse cx="682.7" cy="181.9" rx="1.4" ry="0.9" transform="rotate(139 682.7 181.9)" fill="#9c86bf" opacity="0.20"/>
<ellipse cx="647.0" cy="205.9" rx="1.6" ry="1.1" transform="rotate(133 647.0 205.9)" fill="#9c86bf" opacity="0.22"/>
<ellipse cx="649.4" cy="215.8" rx="1.9" ry="1.1" transform="rotate(80 649.4 215.8)" fill="#9c86bf" opacity="0.24"/>
<ellipse cx="632.9" cy="195.3" rx="2.1" ry="0.8" transform="rotate(152 632.9 195.3)" fill="#9c86bf" opacity="0.22"/>
<ellipse cx="622.9" cy="205.0" rx="2.0" ry="0.7" transform="rotate(21 622.9 205.0)" fill="#9c86bf" opacity="0.23"/>
<ellipse cx="682.7" cy="205.9" rx="2.1" ry="0.5" transform="rotate(58 682.7 205.9)" fill="#9c86bf" opacity="0.14"/>
<ellipse cx="615.8" cy="188.1" rx="1.7" ry="0.7" transform="rotate(12 615.8 188.1)" fill="#9c86bf" opacity="0.10"/>
<ellipse cx="679.9" cy="197.3" rx="1.5" ry="0.8" transform="rotate(65 679.9 197.3)" fill="#9c86bf" opacity="0.16"/>
<ellipse cx="622.5" cy="207.0" rx="2.7" ry="0.9" transform="rotate(173 622.5 207.0)" fill="#9c86bf" opacity="0.22"/>
<ellipse cx="649.2" cy="195.6" rx="2.3" ry="0.7" transform="rotate(14 649.2 195.6)" fill="#9c86bf" opacity="0.16"/>
<ellipse cx="669.9" cy="203.4" rx="1.1" ry="1.0" transform="rotate(8 669.9 203.4)" fill="#9c86bf" opacity="0.17"/>
<ellipse cx="622.5" cy="184.3" rx="1.5" ry="0.9" transform="rotate(128 622.5 184.3)" fill="#9c86bf" opacity="0.23"/>
<ellipse cx="646.9" cy="172.1" rx="1.1" ry="0.5" transform="rotate(23 646.9 172.1)" fill="#9c86bf" opacity="0.11"/>
<ellipse cx="631.3" cy="176.7" rx="2.6" ry="0.7" transform="rotate(86 631.3 176.7)" fill="#9c86bf" opacity="0.21"/>
<ellipse cx="622.8" cy="194.6" rx="1.1" ry="0.8" transform="rotate(167 622.8 194.6)" fill="#9c86bf" opacity="0.18"/>
<ellipse cx="631.8" cy="201.3" rx="2.0" ry="0.8" transform="rotate(115 631.8 201.3)" fill="#9c86bf" opacity="0.20"/>
<ellipse cx="675.4" cy="218.8" rx="2.8" ry="1.0" transform="rotate(123 675.4 218.8)" fill="#9c86bf" opacity="0.22"/>
<ellipse cx="623.8" cy="179.1" rx="2.6" ry="0.8" transform="rotate(4 623.8 179.1)" fill="#9c86bf" opacity="0.21"/>
<ellipse cx="619.3" cy="182.9" rx="2.7" ry="0.6" transform="rotate(149 619.3 182.9)" fill="#9c86bf" opacity="0.13"/>
<ellipse cx="668.2" cy="188.4" rx="2.1" ry="0.9" transform="rotate(129 668.2 188.4)" fill="#9c86bf" opacity="0.12"/>
<ellipse cx="659.1" cy="177.5" rx="1.5" ry="1.0" transform="rotate(28 659.1 177.5)" fill="#9c86bf" opacity="0.15"/>
<ellipse cx="617.8" cy="198.7" rx="1.4" ry="0.7" transform="rotate(176 617.8 198.7)" fill="#9c86bf" opacity="0.16"/>
<ellipse cx="646.5" cy="170.6" rx="1.5" ry="0.5" transform="rotate(112 646.5 170.6)" fill="#9c86bf" opacity="0.11"/>
<ellipse cx="622.5" cy="176.3" rx="2.4" ry="0.9" transform="rotate(53 622.5 176.3)" fill="#9c86bf" opacity="0.13"/>
<ellipse cx="629.9" cy="196.9" rx="2.1" ry="0.5" transform="rotate(28 629.9 196.9)" fill="#9c86bf" opacity="0.19"/>
<ellipse cx="630.1" cy="203.0" rx="1.4" ry="0.5" transform="rotate(13 630.1 203.0)" fill="#9c86bf" opacity="0.23"/>
<ellipse cx="649.2" cy="170.0" rx="1.7" ry="0.9" transform="rotate(39 649.2 170.0)" fill="#9c86bf" opacity="0.22"/>
<ellipse cx="609.8" cy="195.8" rx="2.1" ry="0.6" transform="rotate(178 609.8 195.8)" fill="#9c86bf" opacity="0.17"/>
<ellipse cx="619.1" cy="207.5" rx="1.1" ry="0.9" transform="rotate(150 619.1 207.5)" fill="#9c86bf" opacity="0.19"/>
<ellipse cx="611.1" cy="172.3" rx="2.6" ry="1.0" transform="rotate(49 611.1 172.3)" fill="#9c86bf" opacity="0.24"/>
<ellipse cx="669.7" cy="174.5" rx="2.7" ry="0.5" transform="rotate(58 669.7 174.5)" fill="#9c86bf" opacity="0.12"/>
<ellipse cx="625.0" cy="194.5" rx="1.1" ry="1.1" transform="rotate(38 625.0 194.5)" fill="#9c86bf" opacity="0.20"/>
<ellipse cx="635.5" cy="215.8" rx="2.1" ry="0.8" transform="rotate(137 635.5 215.8)" fill="#9c86bf" opacity="0.18"/>
<ellipse cx="642.8" cy="177.8" rx="2.5" ry="0.9" transform="rotate(83 642.8 177.8)" fill="#9c86bf" opacity="0.25"/>
<ellipse cx="643.8" cy="206.8" rx="1.3" ry="0.7" transform="rotate(114 643.8 206.8)" fill="#9c86bf" opacity="0.12"/>
<ellipse cx="683.2" cy="219.5" rx="2.2" ry="1.0" transform="rotate(49 683.2 219.5)" fill="#9c86bf" opacity="0.21"/>
<ellipse cx="673.2" cy="192.4" rx="2.1" ry="0.9" transform="rotate(45 673.2 192.4)" fill="#9c86bf" opacity="0.09"/>
<ellipse cx="622.9" cy="195.8" rx="2.2" ry="1.0" transform="rotate(48 622.9 195.8)" fill="#9c86bf" opacity="0.11"/>
<ellipse cx="640.5" cy="177.3" rx="1.5" ry="0.8" transform="rotate(123 640.5 177.3)" fill="#9c86bf" opacity="0.10"/>
<ellipse cx="622.3" cy="193.0" rx="2.0" ry="0.6" transform="rotate(119 622.3 193.0)" fill="#9c86bf" opacity="0.18"/>
<ellipse cx="680.8" cy="217.7" rx="2.2" ry="0.5" transform="rotate(94 680.8 217.7)" fill="#9c86bf" opacity="0.13"/>
<ellipse cx="630.1" cy="172.9" rx="2.3" ry="0.9" transform="rotate(49 630.1 172.9)" fill="#9c86bf" opacity="0.12"/>
<ellipse cx="682.9" cy="197.2" rx="2.3" ry="0.6" transform="rotate(170 682.9 197.2)" fill="#9c86bf" opacity="0.20"/>
<ellipse cx="647.1" cy="174.7" rx="1.8" ry="0.5" transform="rotate(38 647.1 174.7)" fill="#9c86bf" opacity="0.21"/>
<ellipse cx="617.6" cy="179.5" rx="1.7" ry="1.1" transform="rotate(30 617.6 179.5)" fill="#9c86bf" opacity="0.15"/>
<ellipse cx="648.9" cy="171.3" rx="2.1" ry="0.5" transform="rotate(58 648.9 171.3)" fill="#9c86bf" opacity="0.13"/>
<ellipse cx="683.3" cy="191.3" rx="1.6" ry="0.7" transform="rotate(54 683.3 191.3)" fill="#9c86bf" opacity="0.11"/>
<ellipse cx="632.8" cy="204.3" rx="1.7" ry="0.6" transform="rotate(7 632.8 204.3)" fill="#9c86bf" opacity="0.21"/>
<ellipse cx="631.5" cy="182.8" rx="2.6" ry="1.1" transform="rotate(99 631.5 182.8)" fill="#9c86bf" opacity="0.09"/>
<ellipse cx="671.4" cy="207.9" rx="1.1" ry="0.7" transform="rotate(150 671.4 207.9)" fill="#9c86bf" opacity="0.16"/>
<ellipse cx="622.5" cy="219.2" rx="1.4" ry="0.6" transform="rotate(125 622.5 219.2)" fill="#9c86bf" opacity="0.25"/>
<ellipse cx="661.8" cy="170.0" rx="1.1" ry="0.6" transform="rotate(120 661.8 170.0)" fill="#9c86bf" opacity="0.24"/>
<ellipse cx="618.0" cy="203.1" rx="2.3" ry="0.5" transform="rotate(162 618.0 203.1)" fill="#9c86bf" opacity="0.13"/>
<ellipse cx="637.1" cy="209.4" rx="2.0" ry="0.9" transform="rotate(10 637.1 209.4)" fill="#9c86bf" opacity="0.19"/>
<ellipse cx="620.5" cy="211.0" rx="2.4" ry="0.9" transform="rotate(116 620.5 211.0)" fill="#9c86bf" opacity="0.25"/>
<ellipse cx="670.8" cy="205.5" rx="1.7" ry="0.5" transform="rotate(180 670.8 205.5)" fill="#9c86bf" opacity="0.09"/>
<ellipse cx="612.6" cy="199.3" rx="2.8" ry="0.8" transform="rotate(38 612.6 199.3)" fill="#9c86bf" opacity="0.08"/>
<ellipse cx="621.4" cy="187.5" rx="1.7" ry="0.6" transform="rotate(158 621.4 187.5)" fill="#9c86bf" opacity="0.25"/>
<ellipse cx="681.9" cy="179.0" rx="2.3" ry="0.6" transform="rotate(83 681.9 179.0)" fill="#9c86bf" opacity="0.17"/>
<ellipse cx="632.8" cy="209.0" rx="1.4" ry="1.0" transform="rotate(138 632.8 209.0)" fill="#9c86bf" opacity="0.19"/>
<ellipse cx="615.0" cy="175.2" rx="2.5" ry="1.1" transform="rotate(43 615.0 175.2)" fill="#9c86bf" opacity="0.19"/>
<ellipse cx="665.6" cy="213.3" rx="1.3" ry="0.6" transform="rotate(11 665.6 213.3)" fill="#9c86bf" opacity="0.20"/>
<ellipse cx="635.9" cy="204.6" rx="1.3" ry="0.9" transform="rotate(49 635.9 204.6)" fill="#9c86bf" opacity="0.15"/>
<ellipse cx="653.1" cy="217.5" rx="1.4" ry="1.0" transform="rotate(9 653.1 217.5)" fill="#9c86bf" opacity="0.11"/>
<ellipse cx="661.0" cy="173.2" rx="2.6" ry="1.1" transform="rotate(39 661.0 173.2)" fill="#9c86bf" opacity="0.20"/>
<ellipse cx="657.5" cy="218.9" rx="1.9" ry="0.7" transform="rotate(158 657.5 218.9)" fill="#9c86bf" opacity="0.13"/>
<ellipse cx="677.1" cy="187.5" rx="1.8" ry="1.0" transform="rotate(136 677.1 187.5)" fill="#9c86bf" opacity="0.11"/>
</g><g filter="url(#bl3)">
<ellipse cx="647.5" cy="185.8" rx="3.4" ry="2.8" fill="#c49a8e" opacity="0.35"/>
<ellipse cx="639.9" cy="182.6" rx="2.4" ry="2.8" fill="#c49a8e" opacity="0.35"/>
<ellipse cx="640.0" cy="200.4" rx="3.9" ry="1.8" fill="#c49a8e" opacity="0.35"/>
<ellipse cx="648.1" cy="174.8" rx="2.2" ry="1.9" fill="#c49a8e" opacity="0.35"/>
<ellipse cx="641.0" cy="211.2" rx="2.1" ry="1.5" fill="#c49a8e" opacity="0.35"/>
<ellipse cx="638.6" cy="191.8" rx="4.1" ry="3.2" fill="#c49a8e" opacity="0.35"/>
<ellipse cx="639.8" cy="212.9" rx="3.2" ry="1.8" fill="#c49a8e" opacity="0.35"/>
<ellipse cx="630.4" cy="206.5" rx="3.4" ry="2.0" fill="#c49a8e" opacity="0.35"/>
<ellipse cx="629.7" cy="203.7" rx="4.3" ry="2.4" fill="#c49a8e" opacity="0.35"/>
<ellipse cx="632.6" cy="199.8" rx="2.0" ry="3.1" fill="#c49a8e" opacity="0.35"/>
<ellipse cx="629.0" cy="217.7" rx="3.1" ry="2.9" fill="#c49a8e" opacity="0.35"/>
<ellipse cx="642.2" cy="188.3" rx="2.7" ry="2.0" fill="#c49a8e" opacity="0.35"/>
<ellipse cx="637.0" cy="193.1" rx="2.3" ry="1.6" fill="#c49a8e" opacity="0.35"/>
<ellipse cx="634.2" cy="220.0" rx="3.5" ry="1.9" fill="#c49a8e" opacity="0.35"/>
<ellipse cx="639.9" cy="187.5" rx="4.0" ry="2.0" fill="#c49a8e" opacity="0.35"/>
<ellipse cx="629.3" cy="202.8" rx="4.3" ry="2.5" fill="#c49a8e" opacity="0.35"/>
<ellipse cx="641.5" cy="181.4" rx="2.9" ry="2.5" fill="#c49a8e" opacity="0.35"/>
<ellipse cx="635.9" cy="201.4" rx="3.0" ry="1.7" fill="#c49a8e" opacity="0.35"/>
<ellipse cx="638.5" cy="198.1" rx="4.2" ry="3.3" fill="#c49a8e" opacity="0.35"/>
<ellipse cx="634.8" cy="199.4" rx="2.3" ry="2.3" fill="#c49a8e" opacity="0.35"/>
<ellipse cx="636.6" cy="218.3" rx="4.3" ry="1.9" fill="#c49a8e" opacity="0.35"/>
<ellipse cx="645.9" cy="177.6" rx="3.1" ry="3.1" fill="#c49a8e" opacity="0.35"/>
<ellipse cx="644.3" cy="198.4" rx="2.9" ry="2.6" fill="#c49a8e" opacity="0.35"/>
<ellipse cx="643.0" cy="200.2" rx="3.0" ry="2.2" fill="#c49a8e" opacity="0.35"/>
<ellipse cx="638.1" cy="204.8" rx="3.6" ry="2.5" fill="#c49a8e" opacity="0.35"/>
<ellipse cx="633.9" cy="185.6" rx="3.7" ry="3.0" fill="#c49a8e" opacity="0.35"/>
<ellipse cx="671.4" cy="183.0" rx="3.5" ry="2.5" fill="#c49a8e" opacity="0.3"/>
<ellipse cx="675.4" cy="188.0" rx="3.5" ry="2.5" fill="#c49a8e" opacity="0.3"/>
<ellipse cx="673.4" cy="211.0" rx="3.5" ry="2.5" fill="#c49a8e" opacity="0.3"/>
<ellipse cx="677.4" cy="215.0" rx="3.5" ry="2.5" fill="#c49a8e" opacity="0.3"/>
<ellipse cx="619.4" cy="189.0" rx="3.5" ry="2.5" fill="#c49a8e" opacity="0.3"/>
<ellipse cx="623.4" cy="213.0" rx="3.5" ry="2.5" fill="#c49a8e" opacity="0.3"/>
</g>
<rect x="609.4" y="169.0" width="74.10000000000002" height="51.0" filter="url(#noise)" opacity="0.25"/>
</g>
<rect x="609.9499999999999" y="169.55" width="73.00000000000003" height="49.9" fill="none" stroke="#747474" stroke-width="1.2"/>
<clipPath id="cp10"><rect x="380.3" y="222.4" width="74.30000000000001" height="50.79999999999998"/></clipPath>
<g clip-path="url(#cp10)">
<rect x="380.3" y="222.4" width="74.30000000000001" height="50.79999999999998" fill="url(#g1)"/>
<g filter="url(#bl)">
<circle cx="440.8" cy="233.9" r="0.57" fill="#b86a4e" opacity="0.74"/>
<circle cx="426.4" cy="264.1" r="0.32" fill="#b86a4e" opacity="0.38"/>
<circle cx="396.5" cy="249.5" r="0.56" fill="#b86a4e" opacity="0.46"/>
<circle cx="449.6" cy="264.6" r="0.27" fill="#b86a4e" opacity="0.31"/>
<circle cx="454.4" cy="247.8" r="0.52" fill="#b86a4e" opacity="0.69"/>
<circle cx="402.9" cy="223.2" r="0.55" fill="#b86a4e" opacity="0.72"/>
<circle cx="410.0" cy="256.0" r="0.25" fill="#b86a4e" opacity="0.72"/>
<circle cx="425.7" cy="272.1" r="0.49" fill="#b86a4e" opacity="0.46"/>
<circle cx="393.6" cy="248.5" r="0.55" fill="#b86a4e" opacity="0.54"/>
<circle cx="420.4" cy="233.6" r="0.30" fill="#b86a4e" opacity="0.41"/>
<circle cx="402.9" cy="246.4" r="0.58" fill="#b86a4e" opacity="0.42"/>
<circle cx="397.3" cy="260.0" r="0.58" fill="#b86a4e" opacity="0.41"/>
<circle cx="402.5" cy="243.5" r="0.27" fill="#b86a4e" opacity="0.34"/>
<circle cx="421.3" cy="234.9" r="0.33" fill="#b86a4e" opacity="0.66"/>
<circle cx="416.1" cy="251.1" r="0.48" fill="#b86a4e" opacity="0.63"/>
<circle cx="448.7" cy="271.7" r="0.29" fill="#b86a4e" opacity="0.63"/>
<circle cx="382.2" cy="228.5" r="0.34" fill="#b86a4e" opacity="0.36"/>
<circle cx="391.6" cy="234.3" r="0.53" fill="#b86a4e" opacity="0.65"/>
<circle cx="417.6" cy="250.3" r="0.51" fill="#b86a4e" opacity="0.57"/>
<circle cx="386.0" cy="245.8" r="0.32" fill="#b86a4e" opacity="0.51"/>
<circle cx="452.9" cy="232.4" r="0.36" fill="#b86a4e" opacity="0.56"/>
<circle cx="429.3" cy="237.9" r="0.39" fill="#b86a4e" opacity="0.52"/>
<circle cx="449.4" cy="224.9" r="0.56" fill="#b86a4e" opacity="0.55"/>
<circle cx="448.4" cy="242.2" r="0.48" fill="#b86a4e" opacity="0.31"/>
<circle cx="396.8" cy="255.4" r="0.37" fill="#b86a4e" opacity="0.53"/>
<circle cx="453.3" cy="250.9" r="0.48" fill="#b86a4e" opacity="0.55"/>
<circle cx="399.0" cy="272.5" r="0.38" fill="#b86a4e" opacity="0.31"/>
<circle cx="411.9" cy="243.5" r="0.32" fill="#b86a4e" opacity="0.49"/>
<circle cx="385.7" cy="270.2" r="0.43" fill="#b86a4e" opacity="0.43"/>
<circle cx="421.0" cy="252.4" r="0.39" fill="#b86a4e" opacity="0.66"/>
<circle cx="414.1" cy="269.3" r="0.52" fill="#b86a4e" opacity="0.61"/>
<circle cx="392.4" cy="258.2" r="0.59" fill="#b86a4e" opacity="0.67"/>
<circle cx="383.6" cy="236.8" r="0.25" fill="#b86a4e" opacity="0.60"/>
<circle cx="446.2" cy="257.3" r="0.48" fill="#b86a4e" opacity="0.54"/>
<circle cx="434.5" cy="250.2" r="0.53" fill="#b86a4e" opacity="0.37"/>
<circle cx="415.3" cy="254.4" r="0.27" fill="#b86a4e" opacity="0.55"/>
<circle cx="448.3" cy="226.8" r="0.51" fill="#b86a4e" opacity="0.62"/>
<circle cx="446.4" cy="271.5" r="0.47" fill="#b86a4e" opacity="0.57"/>
<circle cx="415.6" cy="244.8" r="0.46" fill="#b86a4e" opacity="0.45"/>
<circle cx="439.6" cy="250.2" r="0.40" fill="#b86a4e" opacity="0.53"/>
<circle cx="433.0" cy="264.9" r="0.54" fill="#b86a4e" opacity="0.62"/>
<circle cx="398.5" cy="222.4" r="0.29" fill="#b86a4e" opacity="0.34"/>
<circle cx="418.0" cy="226.3" r="0.42" fill="#b86a4e" opacity="0.64"/>
<circle cx="413.0" cy="266.8" r="0.38" fill="#b86a4e" opacity="0.52"/>
<circle cx="400.0" cy="229.0" r="0.45" fill="#b86a4e" opacity="0.36"/>
<circle cx="391.3" cy="237.1" r="0.50" fill="#b86a4e" opacity="0.74"/>
<circle cx="396.4" cy="234.6" r="0.59" fill="#b86a4e" opacity="0.56"/>
<circle cx="439.5" cy="273.2" r="0.48" fill="#b86a4e" opacity="0.41"/>
<circle cx="453.2" cy="267.7" r="0.25" fill="#b86a4e" opacity="0.74"/>
<circle cx="428.5" cy="234.2" r="0.42" fill="#b86a4e" opacity="0.44"/>
<circle cx="437.9" cy="242.7" r="0.28" fill="#b86a4e" opacity="0.70"/>
<circle cx="404.9" cy="231.2" r="0.49" fill="#b86a4e" opacity="0.36"/>
<circle cx="425.3" cy="245.0" r="0.29" fill="#b86a4e" opacity="0.73"/>
<circle cx="431.8" cy="225.2" r="0.56" fill="#b86a4e" opacity="0.59"/>
<circle cx="441.4" cy="261.6" r="0.31" fill="#b86a4e" opacity="0.44"/>
<circle cx="393.1" cy="263.6" r="0.58" fill="#b86a4e" opacity="0.56"/>
<circle cx="429.8" cy="272.0" r="0.43" fill="#b86a4e" opacity="0.50"/>
<circle cx="401.2" cy="272.5" r="0.29" fill="#b86a4e" opacity="0.39"/>
<circle cx="443.5" cy="223.8" r="0.32" fill="#b86a4e" opacity="0.54"/>
<circle cx="397.9" cy="241.9" r="0.26" fill="#b86a4e" opacity="0.60"/>
<circle cx="385.8" cy="237.1" r="0.29" fill="#b86a4e" opacity="0.61"/>
<circle cx="396.5" cy="250.6" r="0.26" fill="#b86a4e" opacity="0.55"/>
<circle cx="405.7" cy="268.5" r="0.32" fill="#b86a4e" opacity="0.43"/>
<circle cx="444.8" cy="225.5" r="0.42" fill="#b86a4e" opacity="0.52"/>
<circle cx="401.9" cy="230.9" r="0.42" fill="#b86a4e" opacity="0.31"/>
<circle cx="381.0" cy="236.9" r="0.38" fill="#b86a4e" opacity="0.42"/>
<circle cx="433.1" cy="243.5" r="0.46" fill="#b86a4e" opacity="0.57"/>
<circle cx="433.1" cy="269.7" r="0.45" fill="#b86a4e" opacity="0.61"/>
<circle cx="421.7" cy="226.3" r="0.54" fill="#b86a4e" opacity="0.54"/>
<circle cx="383.2" cy="260.1" r="0.43" fill="#b86a4e" opacity="0.73"/>
<circle cx="411.3" cy="246.3" r="0.56" fill="#b86a4e" opacity="0.72"/>
<circle cx="437.5" cy="245.0" r="0.40" fill="#b86a4e" opacity="0.63"/>
<circle cx="447.0" cy="245.7" r="0.50" fill="#b86a4e" opacity="0.55"/>
<circle cx="421.3" cy="233.3" r="0.35" fill="#b86a4e" opacity="0.41"/>
<circle cx="453.4" cy="223.7" r="0.33" fill="#b86a4e" opacity="0.39"/>
<circle cx="440.9" cy="256.5" r="0.36" fill="#b86a4e" opacity="0.35"/>
<circle cx="430.3" cy="260.3" r="0.47" fill="#b86a4e" opacity="0.62"/>
<circle cx="424.7" cy="223.9" r="0.53" fill="#b86a4e" opacity="0.69"/>
<circle cx="392.7" cy="241.9" r="0.59" fill="#b86a4e" opacity="0.74"/>
<circle cx="441.0" cy="265.2" r="0.31" fill="#b86a4e" opacity="0.69"/>
<circle cx="441.4" cy="232.6" r="0.57" fill="#b86a4e" opacity="0.67"/>
<circle cx="448.4" cy="268.0" r="0.28" fill="#b86a4e" opacity="0.38"/>
<circle cx="440.2" cy="231.2" r="0.37" fill="#b86a4e" opacity="0.66"/>
<circle cx="442.0" cy="242.7" r="0.39" fill="#b86a4e" opacity="0.61"/>
<circle cx="454.3" cy="254.3" r="0.37" fill="#b86a4e" opacity="0.41"/>
<circle cx="394.2" cy="253.5" r="0.50" fill="#b86a4e" opacity="0.40"/>
<circle cx="435.6" cy="253.1" r="0.45" fill="#b86a4e" opacity="0.54"/>
<circle cx="410.9" cy="223.2" r="0.44" fill="#b86a4e" opacity="0.60"/>
<circle cx="446.2" cy="271.8" r="0.48" fill="#b86a4e" opacity="0.37"/>
<circle cx="444.1" cy="243.4" r="0.59" fill="#b86a4e" opacity="0.72"/>
<circle cx="387.0" cy="225.0" r="0.27" fill="#b86a4e" opacity="0.60"/>
<circle cx="416.9" cy="254.1" r="0.36" fill="#b86a4e" opacity="0.57"/>
<circle cx="387.4" cy="232.9" r="0.51" fill="#b86a4e" opacity="0.40"/>
<circle cx="388.8" cy="255.4" r="0.59" fill="#b86a4e" opacity="0.72"/>
<circle cx="445.8" cy="258.6" r="0.25" fill="#b86a4e" opacity="0.37"/>
<circle cx="423.6" cy="249.4" r="0.54" fill="#b86a4e" opacity="0.31"/>
<circle cx="426.8" cy="226.1" r="0.51" fill="#b86a4e" opacity="0.34"/>
<circle cx="416.5" cy="261.6" r="0.59" fill="#b86a4e" opacity="0.66"/>
<circle cx="438.4" cy="237.6" r="0.47" fill="#b86a4e" opacity="0.54"/>
<circle cx="417.1" cy="252.7" r="0.41" fill="#b86a4e" opacity="0.47"/>
<circle cx="437.0" cy="255.3" r="0.59" fill="#b86a4e" opacity="0.72"/>
<circle cx="439.8" cy="228.0" r="0.43" fill="#b86a4e" opacity="0.52"/>
<circle cx="439.0" cy="268.6" r="0.32" fill="#b86a4e" opacity="0.30"/>
<circle cx="444.9" cy="272.0" r="0.37" fill="#b86a4e" opacity="0.57"/>
<circle cx="408.9" cy="241.9" r="0.47" fill="#b86a4e" opacity="0.61"/>
<circle cx="447.2" cy="240.9" r="0.42" fill="#b86a4e" opacity="0.50"/>
<circle cx="453.6" cy="248.7" r="0.57" fill="#b86a4e" opacity="0.74"/>
<circle cx="382.4" cy="261.6" r="0.29" fill="#b86a4e" opacity="0.52"/>
<circle cx="427.1" cy="226.4" r="0.45" fill="#b86a4e" opacity="0.61"/>
<circle cx="406.2" cy="249.8" r="0.39" fill="#b86a4e" opacity="0.37"/>
<circle cx="399.3" cy="270.2" r="0.47" fill="#b86a4e" opacity="0.54"/>
<circle cx="440.1" cy="264.9" r="0.51" fill="#b86a4e" opacity="0.48"/>
<circle cx="420.4" cy="238.8" r="0.27" fill="#b86a4e" opacity="0.72"/>
<circle cx="386.3" cy="241.3" r="0.55" fill="#b86a4e" opacity="0.44"/>
<circle cx="448.0" cy="223.5" r="0.30" fill="#b86a4e" opacity="0.50"/>
<circle cx="427.5" cy="262.7" r="0.56" fill="#b86a4e" opacity="0.67"/>
<circle cx="394.1" cy="272.8" r="0.27" fill="#b86a4e" opacity="0.51"/>
<circle cx="406.2" cy="223.6" r="0.32" fill="#b86a4e" opacity="0.75"/>
<circle cx="452.4" cy="239.9" r="0.60" fill="#b86a4e" opacity="0.63"/>
<circle cx="382.8" cy="253.0" r="0.32" fill="#b86a4e" opacity="0.43"/>
<circle cx="433.6" cy="232.9" r="0.37" fill="#b86a4e" opacity="0.30"/>
<circle cx="404.2" cy="237.8" r="0.29" fill="#b86a4e" opacity="0.34"/>
<circle cx="410.5" cy="226.5" r="0.58" fill="#b86a4e" opacity="0.42"/>
<circle cx="407.6" cy="225.6" r="0.53" fill="#b86a4e" opacity="0.39"/>
<circle cx="386.0" cy="241.2" r="0.57" fill="#b86a4e" opacity="0.71"/>
<circle cx="415.0" cy="251.9" r="0.28" fill="#b86a4e" opacity="0.71"/>
<circle cx="436.3" cy="234.9" r="0.54" fill="#b86a4e" opacity="0.37"/>
<circle cx="416.2" cy="236.9" r="0.45" fill="#b86a4e" opacity="0.41"/>
<circle cx="420.7" cy="235.4" r="0.26" fill="#b86a4e" opacity="0.35"/>
<circle cx="438.9" cy="245.1" r="0.43" fill="#b86a4e" opacity="0.60"/>
<circle cx="399.3" cy="232.0" r="0.39" fill="#b86a4e" opacity="0.64"/>
<circle cx="434.7" cy="245.8" r="0.46" fill="#b86a4e" opacity="0.41"/>
<circle cx="450.7" cy="254.9" r="0.53" fill="#b86a4e" opacity="0.47"/>
<circle cx="423.3" cy="258.5" r="0.44" fill="#b86a4e" opacity="0.64"/>
<circle cx="400.5" cy="262.3" r="0.36" fill="#b86a4e" opacity="0.53"/>
<circle cx="391.0" cy="242.9" r="0.56" fill="#b86a4e" opacity="0.31"/>
<circle cx="394.3" cy="249.9" r="0.48" fill="#b86a4e" opacity="0.61"/>
<circle cx="431.3" cy="259.0" r="0.46" fill="#b86a4e" opacity="0.37"/>
<circle cx="420.7" cy="236.7" r="0.25" fill="#b86a4e" opacity="0.53"/>
<circle cx="452.7" cy="246.1" r="0.52" fill="#b86a4e" opacity="0.58"/>
<circle cx="383.1" cy="250.3" r="0.60" fill="#b86a4e" opacity="0.59"/>
<circle cx="402.4" cy="268.4" r="0.48" fill="#b86a4e" opacity="0.72"/>
<circle cx="443.3" cy="252.0" r="0.41" fill="#b86a4e" opacity="0.54"/>
<circle cx="404.0" cy="265.7" r="0.29" fill="#b86a4e" opacity="0.75"/>
<circle cx="405.5" cy="244.7" r="0.46" fill="#b86a4e" opacity="0.44"/>
<circle cx="425.5" cy="225.2" r="0.55" fill="#b86a4e" opacity="0.35"/>
<circle cx="445.2" cy="266.0" r="0.53" fill="#b86a4e" opacity="0.64"/>
<circle cx="394.2" cy="251.3" r="0.27" fill="#b86a4e" opacity="0.64"/>
<circle cx="438.8" cy="233.1" r="0.40" fill="#b86a4e" opacity="0.34"/>
<circle cx="429.9" cy="257.9" r="0.27" fill="#b86a4e" opacity="0.58"/>
<circle cx="445.6" cy="231.5" r="0.57" fill="#b86a4e" opacity="0.42"/>
<circle cx="381.5" cy="226.7" r="0.51" fill="#b86a4e" opacity="0.39"/>
<circle cx="444.2" cy="244.5" r="0.28" fill="#b86a4e" opacity="0.67"/>
<circle cx="404.7" cy="229.1" r="0.25" fill="#b86a4e" opacity="0.44"/>
<circle cx="414.6" cy="247.6" r="0.45" fill="#b86a4e" opacity="0.34"/>
<circle cx="380.5" cy="267.5" r="0.40" fill="#b86a4e" opacity="0.63"/>
<circle cx="446.8" cy="252.6" r="0.51" fill="#b86a4e" opacity="0.40"/>
<circle cx="396.0" cy="248.5" r="0.60" fill="#b86a4e" opacity="0.74"/>
<circle cx="397.5" cy="254.6" r="0.35" fill="#b86a4e" opacity="0.46"/>
<circle cx="401.2" cy="273.0" r="0.38" fill="#b86a4e" opacity="0.51"/>
<circle cx="386.7" cy="265.5" r="0.28" fill="#b86a4e" opacity="0.67"/>
<circle cx="398.1" cy="234.4" r="0.26" fill="#b86a4e" opacity="0.46"/>
<circle cx="451.3" cy="240.8" r="0.37" fill="#b86a4e" opacity="0.63"/>
<circle cx="397.4" cy="260.9" r="0.59" fill="#b86a4e" opacity="0.69"/>
<circle cx="383.3" cy="262.1" r="0.53" fill="#b86a4e" opacity="0.66"/>
<circle cx="423.3" cy="227.8" r="0.49" fill="#b86a4e" opacity="0.56"/>
<circle cx="416.4" cy="261.4" r="0.31" fill="#b86a4e" opacity="0.47"/>
<circle cx="427.3" cy="268.0" r="0.60" fill="#b86a4e" opacity="0.70"/>
<circle cx="399.8" cy="243.8" r="0.43" fill="#b86a4e" opacity="0.51"/>
<circle cx="386.2" cy="241.0" r="0.58" fill="#b86a4e" opacity="0.47"/>
<circle cx="445.6" cy="267.7" r="0.43" fill="#b86a4e" opacity="0.71"/>
<circle cx="452.8" cy="222.9" r="0.46" fill="#b86a4e" opacity="0.73"/>
<circle cx="403.3" cy="240.8" r="0.30" fill="#b86a4e" opacity="0.70"/>
<circle cx="422.2" cy="252.5" r="0.46" fill="#b86a4e" opacity="0.70"/>
<circle cx="418.7" cy="250.3" r="0.41" fill="#b86a4e" opacity="0.45"/>
<circle cx="452.3" cy="255.2" r="0.42" fill="#b86a4e" opacity="0.34"/>
<circle cx="427.8" cy="224.6" r="0.42" fill="#b86a4e" opacity="0.40"/>
<circle cx="409.4" cy="233.6" r="0.33" fill="#b86a4e" opacity="0.50"/>
<circle cx="389.2" cy="235.2" r="0.50" fill="#b86a4e" opacity="0.35"/>
<circle cx="443.2" cy="243.3" r="0.32" fill="#b86a4e" opacity="0.65"/>
<circle cx="408.3" cy="241.1" r="0.25" fill="#b86a4e" opacity="0.38"/>
<circle cx="449.9" cy="247.5" r="0.40" fill="#b86a4e" opacity="0.57"/>
<circle cx="387.0" cy="230.1" r="0.55" fill="#b86a4e" opacity="0.58"/>
<circle cx="404.0" cy="266.2" r="0.35" fill="#b86a4e" opacity="0.50"/>
<circle cx="438.6" cy="265.7" r="0.35" fill="#b86a4e" opacity="0.74"/>
<circle cx="395.9" cy="235.9" r="0.43" fill="#b86a4e" opacity="0.55"/>
<circle cx="420.4" cy="246.1" r="0.52" fill="#b86a4e" opacity="0.41"/>
<circle cx="412.6" cy="256.7" r="0.56" fill="#b86a4e" opacity="0.41"/>
<circle cx="406.7" cy="246.3" r="0.34" fill="#b86a4e" opacity="0.53"/>
<circle cx="450.1" cy="234.3" r="0.54" fill="#b86a4e" opacity="0.70"/>
<circle cx="416.6" cy="240.2" r="0.29" fill="#b86a4e" opacity="0.55"/>
<circle cx="443.1" cy="241.8" r="0.34" fill="#b86a4e" opacity="0.67"/>
<circle cx="392.0" cy="251.0" r="0.52" fill="#b86a4e" opacity="0.53"/>
<circle cx="402.1" cy="252.8" r="0.37" fill="#b86a4e" opacity="0.60"/>
<circle cx="439.4" cy="263.1" r="0.52" fill="#b86a4e" opacity="0.36"/>
<circle cx="400.3" cy="256.3" r="0.47" fill="#b86a4e" opacity="0.70"/>
<circle cx="413.0" cy="225.5" r="0.28" fill="#b86a4e" opacity="0.32"/>
<circle cx="420.3" cy="238.8" r="0.26" fill="#b86a4e" opacity="0.71"/>
<circle cx="385.1" cy="240.1" r="0.52" fill="#b86a4e" opacity="0.61"/>
<circle cx="396.5" cy="271.3" r="0.41" fill="#b86a4e" opacity="0.67"/>
<circle cx="411.7" cy="255.3" r="0.58" fill="#b86a4e" opacity="0.33"/>
<circle cx="422.5" cy="252.4" r="0.59" fill="#b86a4e" opacity="0.57"/>
<circle cx="399.8" cy="229.4" r="0.44" fill="#b86a4e" opacity="0.37"/>
<circle cx="406.4" cy="271.1" r="0.31" fill="#b86a4e" opacity="0.39"/>
<circle cx="430.0" cy="248.0" r="0.57" fill="#b86a4e" opacity="0.45"/>
<circle cx="436.6" cy="243.5" r="0.60" fill="#b86a4e" opacity="0.71"/>
<circle cx="394.7" cy="241.3" r="0.42" fill="#b86a4e" opacity="0.51"/>
<circle cx="424.2" cy="257.5" r="0.30" fill="#b86a4e" opacity="0.59"/>
<circle cx="441.5" cy="243.3" r="0.34" fill="#b86a4e" opacity="0.41"/>
<circle cx="425.4" cy="228.5" r="0.32" fill="#b86a4e" opacity="0.44"/>
<circle cx="431.5" cy="260.1" r="0.44" fill="#b86a4e" opacity="0.37"/>
<circle cx="406.6" cy="225.5" r="0.60" fill="#b86a4e" opacity="0.51"/>
<circle cx="442.6" cy="234.9" r="0.35" fill="#b86a4e" opacity="0.36"/>
<circle cx="409.1" cy="257.2" r="0.44" fill="#b86a4e" opacity="0.45"/>
<circle cx="389.8" cy="236.2" r="0.52" fill="#b86a4e" opacity="0.38"/>
<circle cx="454.0" cy="265.0" r="0.31" fill="#b86a4e" opacity="0.30"/>
<circle cx="441.6" cy="224.6" r="0.48" fill="#b86a4e" opacity="0.53"/>
<circle cx="410.9" cy="252.0" r="0.26" fill="#b86a4e" opacity="0.64"/>
<circle cx="442.8" cy="224.3" r="0.35" fill="#b86a4e" opacity="0.68"/>
<circle cx="394.9" cy="229.7" r="0.53" fill="#b86a4e" opacity="0.75"/>
<circle cx="453.7" cy="232.2" r="0.30" fill="#b86a4e" opacity="0.30"/>
<circle cx="389.1" cy="239.1" r="0.59" fill="#b86a4e" opacity="0.64"/>
<circle cx="393.7" cy="242.6" r="0.44" fill="#b86a4e" opacity="0.37"/>
<circle cx="384.6" cy="232.1" r="0.35" fill="#b86a4e" opacity="0.32"/>
<circle cx="452.7" cy="271.9" r="0.42" fill="#b86a4e" opacity="0.50"/>
<circle cx="421.4" cy="264.8" r="0.39" fill="#b86a4e" opacity="0.71"/>
<circle cx="451.4" cy="236.5" r="0.45" fill="#b86a4e" opacity="0.73"/>
<circle cx="402.9" cy="272.8" r="0.43" fill="#b86a4e" opacity="0.60"/>
<circle cx="387.4" cy="242.5" r="0.48" fill="#b86a4e" opacity="0.39"/>
<circle cx="452.4" cy="242.6" r="0.45" fill="#b86a4e" opacity="0.65"/>
<circle cx="403.5" cy="258.1" r="0.51" fill="#b86a4e" opacity="0.65"/>
<circle cx="403.9" cy="239.6" r="0.45" fill="#b86a4e" opacity="0.50"/>
<circle cx="415.4" cy="251.2" r="0.52" fill="#b86a4e" opacity="0.36"/>
<circle cx="396.1" cy="228.8" r="0.43" fill="#b86a4e" opacity="0.39"/>
<circle cx="449.4" cy="232.9" r="0.41" fill="#b86a4e" opacity="0.65"/>
<circle cx="401.3" cy="226.5" r="0.33" fill="#b86a4e" opacity="0.62"/>
<circle cx="406.3" cy="270.4" r="0.30" fill="#b86a4e" opacity="0.44"/>
<circle cx="417.0" cy="239.4" r="0.35" fill="#b86a4e" opacity="0.35"/>
<circle cx="417.9" cy="260.4" r="0.38" fill="#b86a4e" opacity="0.74"/>
<circle cx="426.5" cy="240.8" r="0.38" fill="#b86a4e" opacity="0.43"/>
<circle cx="387.4" cy="246.4" r="0.44" fill="#b86a4e" opacity="0.66"/>
<circle cx="386.1" cy="223.9" r="0.57" fill="#b86a4e" opacity="0.46"/>
<circle cx="434.2" cy="267.0" r="0.35" fill="#b86a4e" opacity="0.38"/>
<circle cx="438.3" cy="237.8" r="0.43" fill="#b86a4e" opacity="0.30"/>
<circle cx="423.6" cy="244.8" r="0.32" fill="#b86a4e" opacity="0.39"/>
<circle cx="449.2" cy="268.1" r="0.36" fill="#b86a4e" opacity="0.44"/>
<circle cx="405.5" cy="239.9" r="0.38" fill="#b86a4e" opacity="0.73"/>
<circle cx="381.5" cy="240.9" r="0.44" fill="#b86a4e" opacity="0.57"/>
<circle cx="405.1" cy="259.0" r="0.40" fill="#b86a4e" opacity="0.37"/>
<circle cx="448.0" cy="232.9" r="0.50" fill="#b86a4e" opacity="0.72"/>
<circle cx="392.9" cy="260.8" r="0.52" fill="#b86a4e" opacity="0.46"/>
<circle cx="448.4" cy="229.4" r="0.43" fill="#b86a4e" opacity="0.74"/>
<circle cx="419.3" cy="266.9" r="0.39" fill="#b86a4e" opacity="0.59"/>
<circle cx="416.4" cy="258.5" r="0.51" fill="#b86a4e" opacity="0.62"/>
<circle cx="436.7" cy="233.3" r="0.48" fill="#b86a4e" opacity="0.66"/>
<circle cx="435.7" cy="231.4" r="0.44" fill="#b86a4e" opacity="0.31"/>
<circle cx="452.4" cy="255.3" r="0.34" fill="#b86a4e" opacity="0.57"/>
<circle cx="403.5" cy="250.7" r="0.53" fill="#b86a4e" opacity="0.69"/>
<circle cx="453.3" cy="255.9" r="0.44" fill="#b86a4e" opacity="0.53"/>
<circle cx="391.6" cy="224.1" r="0.56" fill="#b86a4e" opacity="0.74"/>
<circle cx="441.9" cy="232.0" r="0.47" fill="#b86a4e" opacity="0.39"/>
<circle cx="404.3" cy="262.6" r="0.58" fill="#b86a4e" opacity="0.31"/>
<circle cx="438.2" cy="258.5" r="0.49" fill="#b86a4e" opacity="0.37"/>
<circle cx="406.3" cy="260.2" r="0.32" fill="#b86a4e" opacity="0.38"/>
<circle cx="415.9" cy="231.0" r="0.34" fill="#b86a4e" opacity="0.37"/>
<circle cx="396.1" cy="227.6" r="0.39" fill="#b86a4e" opacity="0.45"/>
<circle cx="390.7" cy="231.4" r="0.39" fill="#b86a4e" opacity="0.33"/>
<circle cx="402.4" cy="224.7" r="0.51" fill="#b86a4e" opacity="0.35"/>
<circle cx="415.2" cy="229.3" r="0.49" fill="#b86a4e" opacity="0.74"/>
<circle cx="432.6" cy="226.7" r="0.32" fill="#b86a4e" opacity="0.37"/>
<circle cx="446.1" cy="226.6" r="0.52" fill="#b86a4e" opacity="0.65"/>
<circle cx="442.3" cy="244.0" r="0.40" fill="#b86a4e" opacity="0.46"/>
<circle cx="428.8" cy="247.0" r="0.50" fill="#b86a4e" opacity="0.50"/>
<circle cx="442.9" cy="252.8" r="0.34" fill="#b86a4e" opacity="0.49"/>
<circle cx="397.6" cy="269.0" r="0.27" fill="#b86a4e" opacity="0.48"/>
<circle cx="412.2" cy="253.2" r="0.29" fill="#b86a4e" opacity="0.60"/>
<circle cx="390.2" cy="236.5" r="0.36" fill="#b86a4e" opacity="0.33"/>
<circle cx="454.5" cy="225.5" r="0.57" fill="#b86a4e" opacity="0.61"/>
<circle cx="449.4" cy="252.5" r="0.44" fill="#b86a4e" opacity="0.50"/>
<circle cx="421.1" cy="239.2" r="0.31" fill="#b86a4e" opacity="0.56"/>
<circle cx="439.3" cy="272.0" r="0.57" fill="#b86a4e" opacity="0.57"/>
<circle cx="395.5" cy="250.8" r="0.31" fill="#b86a4e" opacity="0.69"/>
<circle cx="436.4" cy="241.5" r="0.36" fill="#b86a4e" opacity="0.70"/>
<circle cx="412.7" cy="226.3" r="0.48" fill="#b86a4e" opacity="0.49"/>
<circle cx="389.0" cy="265.9" r="0.32" fill="#b86a4e" opacity="0.39"/>
<circle cx="419.6" cy="235.1" r="0.37" fill="#b86a4e" opacity="0.50"/>
<circle cx="449.4" cy="252.4" r="0.40" fill="#b86a4e" opacity="0.67"/>
<circle cx="449.2" cy="269.0" r="0.26" fill="#b86a4e" opacity="0.66"/>
<circle cx="437.9" cy="258.6" r="0.50" fill="#b86a4e" opacity="0.60"/>
<circle cx="395.7" cy="269.7" r="0.53" fill="#b86a4e" opacity="0.41"/>
<circle cx="419.9" cy="231.9" r="0.33" fill="#b86a4e" opacity="0.58"/>
<circle cx="390.7" cy="222.8" r="0.47" fill="#b86a4e" opacity="0.58"/>
<circle cx="447.8" cy="223.8" r="0.36" fill="#b86a4e" opacity="0.35"/>
<circle cx="448.2" cy="263.3" r="0.30" fill="#b86a4e" opacity="0.51"/>
<circle cx="431.5" cy="253.9" r="0.42" fill="#b86a4e" opacity="0.54"/>
<circle cx="395.9" cy="225.5" r="0.31" fill="#b86a4e" opacity="0.53"/>
<circle cx="390.9" cy="267.3" r="0.35" fill="#b86a4e" opacity="0.31"/>
<circle cx="428.3" cy="256.1" r="0.51" fill="#b86a4e" opacity="0.50"/>
<circle cx="448.3" cy="256.8" r="0.58" fill="#b86a4e" opacity="0.66"/>
<circle cx="400.6" cy="244.3" r="0.32" fill="#b86a4e" opacity="0.58"/>
<circle cx="409.1" cy="245.8" r="0.38" fill="#b86a4e" opacity="0.38"/>
<circle cx="424.1" cy="259.3" r="0.37" fill="#b86a4e" opacity="0.36"/>
<circle cx="426.0" cy="254.1" r="0.44" fill="#b86a4e" opacity="0.67"/>
<circle cx="450.2" cy="261.2" r="0.46" fill="#b86a4e" opacity="0.72"/>
<circle cx="422.2" cy="248.7" r="0.32" fill="#b86a4e" opacity="0.44"/>
<circle cx="407.3" cy="235.9" r="0.35" fill="#b86a4e" opacity="0.38"/>
<circle cx="388.0" cy="250.7" r="0.40" fill="#b86a4e" opacity="0.66"/>
<circle cx="434.2" cy="269.6" r="0.57" fill="#b86a4e" opacity="0.35"/>
<circle cx="429.2" cy="269.4" r="0.28" fill="#b86a4e" opacity="0.36"/>
<circle cx="381.8" cy="231.5" r="0.58" fill="#b86a4e" opacity="0.70"/>
<circle cx="390.9" cy="222.6" r="0.29" fill="#b86a4e" opacity="0.69"/>
<circle cx="404.3" cy="251.4" r="0.38" fill="#b86a4e" opacity="0.49"/>
<circle cx="427.5" cy="270.2" r="0.27" fill="#b86a4e" opacity="0.49"/>
<circle cx="433.3" cy="262.4" r="0.47" fill="#b86a4e" opacity="0.43"/>
<circle cx="382.3" cy="234.0" r="0.45" fill="#b86a4e" opacity="0.70"/>
<circle cx="424.0" cy="252.7" r="0.38" fill="#b86a4e" opacity="0.64"/>
<circle cx="452.4" cy="246.5" r="0.48" fill="#b86a4e" opacity="0.54"/>
<circle cx="399.2" cy="268.5" r="0.28" fill="#b86a4e" opacity="0.49"/>
<circle cx="449.0" cy="251.5" r="0.39" fill="#b86a4e" opacity="0.39"/>
<circle cx="408.0" cy="260.4" r="0.49" fill="#b86a4e" opacity="0.58"/>
<circle cx="450.9" cy="241.1" r="0.35" fill="#b86a4e" opacity="0.58"/>
<circle cx="449.4" cy="258.3" r="0.55" fill="#b86a4e" opacity="0.67"/>
<circle cx="381.9" cy="254.8" r="0.34" fill="#b86a4e" opacity="0.61"/>
<circle cx="438.8" cy="263.3" r="0.32" fill="#b86a4e" opacity="0.47"/>
<circle cx="392.0" cy="264.5" r="0.50" fill="#b86a4e" opacity="0.55"/>
<circle cx="421.1" cy="259.8" r="0.41" fill="#b86a4e" opacity="0.38"/>
<circle cx="451.2" cy="261.7" r="0.42" fill="#b86a4e" opacity="0.55"/>
<circle cx="395.7" cy="234.3" r="0.27" fill="#b86a4e" opacity="0.60"/>
<circle cx="440.7" cy="235.7" r="0.32" fill="#b86a4e" opacity="0.49"/>
<circle cx="401.4" cy="260.9" r="0.34" fill="#b86a4e" opacity="0.42"/>
<circle cx="410.4" cy="266.0" r="0.50" fill="#b86a4e" opacity="0.35"/>
<circle cx="390.7" cy="225.0" r="0.48" fill="#b86a4e" opacity="0.59"/>
<circle cx="392.7" cy="236.7" r="0.55" fill="#b86a4e" opacity="0.32"/>
<circle cx="434.7" cy="264.5" r="0.48" fill="#b86a4e" opacity="0.44"/>
<circle cx="435.3" cy="269.2" r="0.45" fill="#b86a4e" opacity="0.58"/>
<circle cx="424.9" cy="269.6" r="0.59" fill="#b86a4e" opacity="0.60"/>
<circle cx="416.6" cy="228.7" r="0.42" fill="#b86a4e" opacity="0.49"/>
<circle cx="430.8" cy="247.1" r="0.33" fill="#b86a4e" opacity="0.39"/>
<circle cx="436.0" cy="251.4" r="0.52" fill="#b86a4e" opacity="0.39"/>
<circle cx="413.4" cy="228.3" r="0.31" fill="#b86a4e" opacity="0.46"/>
<circle cx="400.7" cy="270.8" r="0.29" fill="#b86a4e" opacity="0.53"/>
<circle cx="387.2" cy="267.4" r="0.29" fill="#b86a4e" opacity="0.69"/>
<circle cx="403.8" cy="240.6" r="0.28" fill="#b86a4e" opacity="0.58"/>
<circle cx="385.7" cy="256.3" r="0.44" fill="#b86a4e" opacity="0.42"/>
<circle cx="428.6" cy="258.4" r="0.27" fill="#b86a4e" opacity="0.71"/>
<circle cx="445.3" cy="263.0" r="0.57" fill="#b86a4e" opacity="0.45"/>
<circle cx="389.9" cy="244.3" r="0.57" fill="#b86a4e" opacity="0.61"/>
<circle cx="388.4" cy="260.5" r="0.53" fill="#b86a4e" opacity="0.51"/>
<circle cx="428.5" cy="266.7" r="0.40" fill="#b86a4e" opacity="0.66"/>
<circle cx="422.7" cy="262.3" r="0.55" fill="#b86a4e" opacity="0.37"/>
<circle cx="394.3" cy="252.2" r="0.37" fill="#b86a4e" opacity="0.43"/>
<circle cx="380.3" cy="244.9" r="0.60" fill="#b86a4e" opacity="0.48"/>
<circle cx="396.3" cy="241.3" r="0.46" fill="#b86a4e" opacity="0.31"/>
<circle cx="392.9" cy="249.1" r="0.38" fill="#b86a4e" opacity="0.61"/>
<circle cx="389.9" cy="225.6" r="0.57" fill="#b86a4e" opacity="0.64"/>
<circle cx="428.1" cy="253.0" r="0.32" fill="#b86a4e" opacity="0.37"/>
<circle cx="413.4" cy="257.1" r="0.41" fill="#b86a4e" opacity="0.53"/>
<circle cx="386.2" cy="270.6" r="0.33" fill="#b86a4e" opacity="0.48"/>
<circle cx="440.1" cy="270.5" r="0.38" fill="#b86a4e" opacity="0.50"/>
<circle cx="442.7" cy="247.2" r="0.29" fill="#b86a4e" opacity="0.40"/>
<circle cx="405.4" cy="222.5" r="0.27" fill="#b86a4e" opacity="0.70"/>
<circle cx="442.3" cy="264.5" r="0.36" fill="#b86a4e" opacity="0.46"/>
<circle cx="450.0" cy="225.1" r="0.40" fill="#b86a4e" opacity="0.46"/>
<circle cx="435.5" cy="257.2" r="0.60" fill="#b86a4e" opacity="0.73"/>
<circle cx="425.4" cy="269.0" r="0.46" fill="#b86a4e" opacity="0.39"/>
<circle cx="418.1" cy="236.0" r="0.57" fill="#b86a4e" opacity="0.66"/>
<circle cx="387.9" cy="255.4" r="0.48" fill="#b86a4e" opacity="0.65"/>
<circle cx="391.2" cy="252.0" r="0.29" fill="#b86a4e" opacity="0.49"/>
<circle cx="407.2" cy="240.5" r="0.39" fill="#b86a4e" opacity="0.53"/>
<circle cx="388.5" cy="249.2" r="0.28" fill="#b86a4e" opacity="0.62"/>
<circle cx="383.0" cy="247.0" r="0.25" fill="#b86a4e" opacity="0.65"/>
<circle cx="450.3" cy="260.3" r="0.41" fill="#b86a4e" opacity="0.51"/>
<circle cx="436.4" cy="226.3" r="0.37" fill="#b86a4e" opacity="0.52"/>
<circle cx="393.2" cy="245.7" r="0.37" fill="#b86a4e" opacity="0.36"/>
<circle cx="424.0" cy="244.6" r="0.29" fill="#b86a4e" opacity="0.54"/>
<circle cx="397.1" cy="251.3" r="0.36" fill="#b86a4e" opacity="0.62"/>
<circle cx="424.7" cy="222.5" r="0.37" fill="#b86a4e" opacity="0.64"/>
<circle cx="405.3" cy="261.5" r="0.55" fill="#b86a4e" opacity="0.72"/>
<circle cx="436.1" cy="244.0" r="0.42" fill="#b86a4e" opacity="0.34"/>
<circle cx="402.2" cy="235.7" r="0.53" fill="#b86a4e" opacity="0.65"/>
<circle cx="427.1" cy="261.2" r="0.40" fill="#b86a4e" opacity="0.59"/>
<circle cx="406.8" cy="223.1" r="0.43" fill="#b86a4e" opacity="0.69"/>
<circle cx="417.3" cy="268.3" r="0.39" fill="#b86a4e" opacity="0.41"/>
<circle cx="392.1" cy="244.2" r="0.36" fill="#b86a4e" opacity="0.35"/>
<circle cx="403.5" cy="270.8" r="0.52" fill="#b86a4e" opacity="0.49"/>
<circle cx="397.7" cy="247.6" r="0.37" fill="#b86a4e" opacity="0.58"/>
<circle cx="401.2" cy="254.0" r="0.52" fill="#b86a4e" opacity="0.43"/>
<circle cx="396.8" cy="251.2" r="0.45" fill="#b86a4e" opacity="0.70"/>
<circle cx="440.7" cy="245.9" r="0.42" fill="#b86a4e" opacity="0.65"/>
<circle cx="423.0" cy="228.5" r="0.38" fill="#b86a4e" opacity="0.35"/>
<circle cx="430.1" cy="262.0" r="0.47" fill="#b86a4e" opacity="0.32"/>
<circle cx="410.4" cy="223.3" r="0.49" fill="#b86a4e" opacity="0.64"/>
<circle cx="395.2" cy="258.8" r="0.27" fill="#b86a4e" opacity="0.37"/>
<circle cx="449.1" cy="233.4" r="0.48" fill="#b86a4e" opacity="0.72"/>
<circle cx="437.3" cy="245.5" r="0.40" fill="#b86a4e" opacity="0.48"/>
<circle cx="391.8" cy="262.3" r="0.43" fill="#b86a4e" opacity="0.64"/>
<circle cx="415.9" cy="234.4" r="0.34" fill="#b86a4e" opacity="0.35"/>
<circle cx="433.8" cy="247.8" r="0.38" fill="#b86a4e" opacity="0.74"/>
<circle cx="407.4" cy="240.5" r="0.33" fill="#b86a4e" opacity="0.43"/>
<circle cx="398.8" cy="248.4" r="0.40" fill="#b86a4e" opacity="0.51"/>
<circle cx="442.4" cy="240.2" r="0.46" fill="#b86a4e" opacity="0.53"/>
<circle cx="450.7" cy="252.7" r="0.58" fill="#b86a4e" opacity="0.46"/>
<circle cx="394.7" cy="233.0" r="0.54" fill="#b86a4e" opacity="0.35"/>
<circle cx="401.9" cy="265.5" r="0.27" fill="#b86a4e" opacity="0.62"/>
<circle cx="409.5" cy="233.7" r="0.58" fill="#b86a4e" opacity="0.69"/>
<circle cx="396.1" cy="229.1" r="0.44" fill="#b86a4e" opacity="0.33"/>
<circle cx="450.6" cy="239.0" r="0.36" fill="#b86a4e" opacity="0.32"/>
<circle cx="416.6" cy="250.9" r="0.29" fill="#b86a4e" opacity="0.62"/>
<circle cx="418.4" cy="264.1" r="0.57" fill="#b86a4e" opacity="0.69"/>
<circle cx="412.9" cy="240.0" r="0.47" fill="#b86a4e" opacity="0.48"/>
<circle cx="414.1" cy="234.9" r="0.30" fill="#b86a4e" opacity="0.35"/>
<circle cx="427.4" cy="268.7" r="0.59" fill="#b86a4e" opacity="0.42"/>
<circle cx="395.5" cy="226.8" r="0.29" fill="#b86a4e" opacity="0.67"/>
<circle cx="406.0" cy="241.1" r="0.32" fill="#b86a4e" opacity="0.62"/>
<circle cx="394.5" cy="270.8" r="0.26" fill="#b86a4e" opacity="0.72"/>
<circle cx="410.7" cy="244.9" r="0.43" fill="#b86a4e" opacity="0.41"/>
<circle cx="448.4" cy="248.8" r="0.44" fill="#b86a4e" opacity="0.69"/>
<circle cx="429.4" cy="265.0" r="0.29" fill="#b86a4e" opacity="0.43"/>
<circle cx="396.1" cy="248.4" r="0.34" fill="#b86a4e" opacity="0.70"/>
<circle cx="395.8" cy="242.2" r="0.39" fill="#b86a4e" opacity="0.44"/>
<circle cx="433.0" cy="247.4" r="0.53" fill="#b86a4e" opacity="0.46"/>
<circle cx="442.4" cy="264.8" r="0.39" fill="#b86a4e" opacity="0.72"/>
<circle cx="449.2" cy="233.8" r="0.44" fill="#b86a4e" opacity="0.69"/>
<circle cx="397.3" cy="266.5" r="0.36" fill="#b86a4e" opacity="0.67"/>
<circle cx="408.3" cy="270.4" r="0.56" fill="#b86a4e" opacity="0.47"/>
<circle cx="381.2" cy="253.8" r="0.45" fill="#b86a4e" opacity="0.43"/>
<circle cx="448.3" cy="243.7" r="0.44" fill="#b86a4e" opacity="0.40"/>
<circle cx="434.6" cy="249.6" r="0.30" fill="#b86a4e" opacity="0.72"/>
<circle cx="400.9" cy="229.3" r="0.50" fill="#b86a4e" opacity="0.49"/>
<circle cx="440.1" cy="244.0" r="0.44" fill="#b86a4e" opacity="0.62"/>
<circle cx="445.3" cy="230.7" r="0.29" fill="#b86a4e" opacity="0.52"/>
<circle cx="391.7" cy="262.8" r="0.37" fill="#b86a4e" opacity="0.46"/>
<circle cx="386.6" cy="236.3" r="0.38" fill="#b86a4e" opacity="0.42"/>
<circle cx="396.0" cy="236.7" r="0.50" fill="#b86a4e" opacity="0.36"/>
<circle cx="417.8" cy="255.4" r="0.26" fill="#b86a4e" opacity="0.67"/>
<circle cx="436.6" cy="234.8" r="0.27" fill="#b86a4e" opacity="0.33"/>
<circle cx="445.2" cy="224.5" r="0.46" fill="#b86a4e" opacity="0.56"/>
<circle cx="429.2" cy="245.2" r="0.41" fill="#b86a4e" opacity="0.51"/>
<circle cx="436.5" cy="227.5" r="0.34" fill="#b86a4e" opacity="0.52"/>
<circle cx="411.2" cy="253.5" r="0.39" fill="#b86a4e" opacity="0.74"/>
<circle cx="396.2" cy="269.2" r="0.26" fill="#b86a4e" opacity="0.67"/>
<circle cx="387.9" cy="237.0" r="0.40" fill="#b86a4e" opacity="0.71"/>
<circle cx="390.1" cy="248.3" r="0.53" fill="#b86a4e" opacity="0.52"/>
<circle cx="434.0" cy="273.2" r="0.53" fill="#b86a4e" opacity="0.41"/>
<circle cx="404.5" cy="250.3" r="0.51" fill="#b86a4e" opacity="0.74"/>
<circle cx="443.3" cy="262.1" r="0.46" fill="#b86a4e" opacity="0.62"/>
<circle cx="445.0" cy="263.0" r="0.31" fill="#b86a4e" opacity="0.40"/>
<circle cx="410.5" cy="271.4" r="0.36" fill="#b86a4e" opacity="0.67"/>
<circle cx="402.2" cy="258.4" r="0.56" fill="#b86a4e" opacity="0.75"/>
<circle cx="422.8" cy="252.7" r="0.31" fill="#b86a4e" opacity="0.68"/>
<circle cx="396.0" cy="228.8" r="0.55" fill="#b86a4e" opacity="0.54"/>
<circle cx="414.6" cy="232.1" r="0.57" fill="#b86a4e" opacity="0.61"/>
<circle cx="444.5" cy="242.2" r="0.42" fill="#b86a4e" opacity="0.53"/>
<circle cx="387.1" cy="223.4" r="0.46" fill="#b86a4e" opacity="0.46"/>
<circle cx="442.9" cy="261.2" r="0.48" fill="#b86a4e" opacity="0.56"/>
<circle cx="398.2" cy="252.0" r="0.48" fill="#b86a4e" opacity="0.42"/>
<circle cx="414.9" cy="225.9" r="0.49" fill="#b86a4e" opacity="0.49"/>
<circle cx="396.5" cy="258.5" r="0.53" fill="#b86a4e" opacity="0.40"/>
<circle cx="380.8" cy="252.1" r="0.58" fill="#b86a4e" opacity="0.34"/>
<circle cx="439.9" cy="253.2" r="0.50" fill="#b86a4e" opacity="0.31"/>
<circle cx="409.7" cy="224.6" r="0.58" fill="#b86a4e" opacity="0.74"/>
<circle cx="433.2" cy="252.6" r="0.52" fill="#b86a4e" opacity="0.36"/>
<circle cx="453.4" cy="242.0" r="0.40" fill="#b86a4e" opacity="0.31"/>
<circle cx="386.3" cy="269.5" r="0.32" fill="#b86a4e" opacity="0.53"/>
<circle cx="434.2" cy="259.5" r="0.40" fill="#b86a4e" opacity="0.61"/>
<circle cx="442.3" cy="232.7" r="0.38" fill="#b86a4e" opacity="0.56"/>
<circle cx="431.7" cy="251.3" r="0.26" fill="#b86a4e" opacity="0.41"/>
<circle cx="406.9" cy="266.4" r="0.47" fill="#b86a4e" opacity="0.42"/>
<circle cx="422.4" cy="237.5" r="0.59" fill="#b86a4e" opacity="0.61"/>
<circle cx="445.6" cy="242.3" r="0.30" fill="#b86a4e" opacity="0.65"/>
<circle cx="393.7" cy="265.7" r="0.52" fill="#b86a4e" opacity="0.69"/>
<circle cx="422.8" cy="255.1" r="0.26" fill="#b86a4e" opacity="0.43"/>
<circle cx="389.2" cy="225.6" r="0.44" fill="#b86a4e" opacity="0.33"/>
<circle cx="417.1" cy="230.3" r="0.32" fill="#b86a4e" opacity="0.66"/>
<circle cx="453.6" cy="254.5" r="0.47" fill="#b86a4e" opacity="0.38"/>
<circle cx="411.8" cy="267.6" r="0.28" fill="#b86a4e" opacity="0.47"/>
<circle cx="398.3" cy="233.7" r="0.30" fill="#b86a4e" opacity="0.63"/>
<circle cx="405.5" cy="272.5" r="0.36" fill="#b86a4e" opacity="0.62"/>
<circle cx="407.4" cy="261.5" r="0.27" fill="#b86a4e" opacity="0.74"/>
<circle cx="398.7" cy="260.0" r="0.36" fill="#b86a4e" opacity="0.31"/>
</g>
<rect x="380.3" y="222.4" width="74.30000000000001" height="50.79999999999998" filter="url(#noise)" opacity="0.35"/>
</g>
<rect x="380.85" y="222.95000000000002" width="73.20000000000002" height="49.69999999999998" fill="none" stroke="#747474" stroke-width="1.2"/>
<rect x="393.1" y="231.3" width="17.19999999999999" height="13.5" fill="none" stroke="#4a4a4a" stroke-width="0.85"/>
<line x1="410.3" y1="231.3" x2="454.0" y2="223.0" stroke="#4a4a4a" stroke-width="0.85" />
<line x1="410.3" y1="244.8" x2="454.0" y2="272.59999999999997" stroke="#4a4a4a" stroke-width="0.85" />
<clipPath id="cp11"><rect x="456.9" y="222.4" width="73.89999999999998" height="50.79999999999998"/></clipPath>
<g clip-path="url(#cp11)">
<rect x="456.9" y="222.4" width="73.89999999999998" height="50.79999999999998" fill="url(#g2)"/>
<g filter="url(#bl3)">
<circle cx="496.7" cy="228.8" r="4.5" fill="#eee4ee" opacity="0.6"/>
<circle cx="472.8" cy="224.9" r="3.8" fill="#eee4ee" opacity="0.6"/>
<circle cx="500.2" cy="255.0" r="4.3" fill="#eee4ee" opacity="0.6"/>
<circle cx="460.6" cy="268.4" r="4.5" fill="#eee4ee" opacity="0.6"/>
<circle cx="512.1" cy="222.7" r="3.2" fill="#eee4ee" opacity="0.6"/>
<circle cx="472.0" cy="267.2" r="3.2" fill="#eee4ee" opacity="0.6"/>
<circle cx="486.2" cy="233.0" r="4.3" fill="#eee4ee" opacity="0.6"/>
<circle cx="465.8" cy="246.1" r="4.4" fill="#eee4ee" opacity="0.6"/>
<circle cx="483.6" cy="233.9" r="3.8" fill="#eee4ee" opacity="0.6"/>
<circle cx="470.9" cy="259.4" r="4.5" fill="#eee4ee" opacity="0.6"/>
</g>
<g filter="url(#bl)">
<ellipse cx="474.3" cy="225.0" rx="1.3" ry="0.5" transform="rotate(153 474.3 225.0)" fill="#9c86bf" opacity="0.51"/>
<ellipse cx="500.7" cy="249.0" rx="1.6" ry="0.7" transform="rotate(97 500.7 249.0)" fill="#9c86bf" opacity="0.40"/>
<ellipse cx="519.6" cy="237.4" rx="1.0" ry="0.8" transform="rotate(9 519.6 237.4)" fill="#9c86bf" opacity="0.31"/>
<ellipse cx="494.6" cy="265.8" rx="1.6" ry="1.1" transform="rotate(141 494.6 265.8)" fill="#9c86bf" opacity="0.52"/>
<ellipse cx="522.1" cy="239.1" rx="1.1" ry="0.9" transform="rotate(133 522.1 239.1)" fill="#9c86bf" opacity="0.34"/>
<ellipse cx="517.5" cy="255.2" rx="1.9" ry="0.5" transform="rotate(151 517.5 255.2)" fill="#9c86bf" opacity="0.48"/>
<ellipse cx="474.2" cy="265.1" rx="1.2" ry="1.0" transform="rotate(150 474.2 265.1)" fill="#9c86bf" opacity="0.47"/>
<ellipse cx="463.9" cy="232.3" rx="1.6" ry="0.6" transform="rotate(68 463.9 232.3)" fill="#9c86bf" opacity="0.51"/>
<ellipse cx="524.3" cy="230.7" rx="1.0" ry="1.0" transform="rotate(102 524.3 230.7)" fill="#9c86bf" opacity="0.22"/>
<ellipse cx="527.9" cy="231.7" rx="0.9" ry="1.1" transform="rotate(149 527.9 231.7)" fill="#9c86bf" opacity="0.25"/>
<ellipse cx="499.5" cy="270.3" rx="2.2" ry="1.1" transform="rotate(151 499.5 270.3)" fill="#9c86bf" opacity="0.50"/>
<ellipse cx="486.4" cy="258.5" rx="2.0" ry="1.0" transform="rotate(108 486.4 258.5)" fill="#9c86bf" opacity="0.47"/>
<ellipse cx="512.9" cy="269.3" rx="2.1" ry="1.1" transform="rotate(33 512.9 269.3)" fill="#9c86bf" opacity="0.32"/>
<ellipse cx="493.4" cy="222.6" rx="1.2" ry="1.1" transform="rotate(176 493.4 222.6)" fill="#9c86bf" opacity="0.37"/>
<ellipse cx="495.1" cy="228.1" rx="1.6" ry="1.1" transform="rotate(56 495.1 228.1)" fill="#9c86bf" opacity="0.42"/>
<ellipse cx="517.2" cy="245.5" rx="1.4" ry="0.9" transform="rotate(32 517.2 245.5)" fill="#9c86bf" opacity="0.32"/>
<ellipse cx="474.0" cy="225.7" rx="1.1" ry="1.0" transform="rotate(135 474.0 225.7)" fill="#9c86bf" opacity="0.34"/>
<ellipse cx="465.3" cy="248.5" rx="1.2" ry="0.9" transform="rotate(154 465.3 248.5)" fill="#9c86bf" opacity="0.33"/>
<ellipse cx="481.1" cy="264.4" rx="2.0" ry="0.9" transform="rotate(60 481.1 264.4)" fill="#9c86bf" opacity="0.50"/>
<ellipse cx="461.6" cy="272.6" rx="1.8" ry="0.5" transform="rotate(31 461.6 272.6)" fill="#9c86bf" opacity="0.46"/>
<ellipse cx="526.0" cy="227.4" rx="1.7" ry="1.1" transform="rotate(120 526.0 227.4)" fill="#9c86bf" opacity="0.50"/>
<ellipse cx="521.8" cy="231.4" rx="0.9" ry="1.1" transform="rotate(44 521.8 231.4)" fill="#9c86bf" opacity="0.48"/>
<ellipse cx="527.6" cy="242.0" rx="1.9" ry="0.6" transform="rotate(92 527.6 242.0)" fill="#9c86bf" opacity="0.26"/>
<ellipse cx="503.2" cy="229.6" rx="1.4" ry="0.5" transform="rotate(176 503.2 229.6)" fill="#9c86bf" opacity="0.40"/>
<ellipse cx="481.9" cy="233.8" rx="1.9" ry="0.8" transform="rotate(102 481.9 233.8)" fill="#9c86bf" opacity="0.23"/>
<ellipse cx="483.9" cy="246.1" rx="2.0" ry="0.6" transform="rotate(9 483.9 246.1)" fill="#9c86bf" opacity="0.38"/>
<ellipse cx="473.0" cy="224.3" rx="1.0" ry="0.8" transform="rotate(77 473.0 224.3)" fill="#9c86bf" opacity="0.30"/>
<ellipse cx="508.9" cy="224.9" rx="1.2" ry="0.8" transform="rotate(44 508.9 224.9)" fill="#9c86bf" opacity="0.51"/>
<ellipse cx="481.9" cy="245.6" rx="2.1" ry="0.8" transform="rotate(42 481.9 245.6)" fill="#9c86bf" opacity="0.36"/>
<ellipse cx="530.1" cy="264.6" rx="1.2" ry="0.5" transform="rotate(167 530.1 264.6)" fill="#9c86bf" opacity="0.31"/>
<ellipse cx="462.9" cy="243.7" rx="1.9" ry="0.7" transform="rotate(145 462.9 243.7)" fill="#9c86bf" opacity="0.50"/>
<ellipse cx="506.6" cy="267.2" rx="1.6" ry="0.5" transform="rotate(122 506.6 267.2)" fill="#9c86bf" opacity="0.30"/>
<ellipse cx="516.7" cy="268.0" rx="1.5" ry="0.9" transform="rotate(9 516.7 268.0)" fill="#9c86bf" opacity="0.39"/>
<ellipse cx="505.7" cy="269.1" rx="0.9" ry="0.6" transform="rotate(137 505.7 269.1)" fill="#9c86bf" opacity="0.40"/>
<ellipse cx="490.1" cy="271.7" rx="0.9" ry="1.1" transform="rotate(20 490.1 271.7)" fill="#9c86bf" opacity="0.29"/>
<ellipse cx="505.5" cy="225.0" rx="1.9" ry="0.7" transform="rotate(143 505.5 225.0)" fill="#9c86bf" opacity="0.40"/>
<ellipse cx="475.8" cy="262.6" rx="2.1" ry="1.0" transform="rotate(17 475.8 262.6)" fill="#9c86bf" opacity="0.35"/>
<ellipse cx="461.9" cy="245.2" rx="1.2" ry="0.8" transform="rotate(156 461.9 245.2)" fill="#9c86bf" opacity="0.44"/>
<ellipse cx="515.5" cy="225.2" rx="1.5" ry="0.7" transform="rotate(131 515.5 225.2)" fill="#9c86bf" opacity="0.49"/>
<ellipse cx="457.4" cy="266.2" rx="1.3" ry="0.5" transform="rotate(111 457.4 266.2)" fill="#9c86bf" opacity="0.38"/>
<ellipse cx="527.9" cy="263.2" rx="1.5" ry="1.0" transform="rotate(160 527.9 263.2)" fill="#9c86bf" opacity="0.37"/>
<ellipse cx="480.4" cy="255.6" rx="2.0" ry="0.9" transform="rotate(111 480.4 255.6)" fill="#9c86bf" opacity="0.27"/>
<ellipse cx="510.8" cy="252.8" rx="1.8" ry="0.8" transform="rotate(7 510.8 252.8)" fill="#9c86bf" opacity="0.30"/>
<ellipse cx="500.6" cy="230.3" rx="1.3" ry="0.7" transform="rotate(26 500.6 230.3)" fill="#9c86bf" opacity="0.30"/>
<ellipse cx="490.1" cy="268.8" rx="1.8" ry="0.5" transform="rotate(70 490.1 268.8)" fill="#9c86bf" opacity="0.46"/>
<ellipse cx="456.9" cy="258.4" rx="1.8" ry="0.6" transform="rotate(2 456.9 258.4)" fill="#9c86bf" opacity="0.31"/>
<ellipse cx="481.2" cy="256.2" rx="0.9" ry="0.6" transform="rotate(130 481.2 256.2)" fill="#9c86bf" opacity="0.23"/>
<ellipse cx="500.9" cy="241.3" rx="1.3" ry="0.7" transform="rotate(61 500.9 241.3)" fill="#9c86bf" opacity="0.46"/>
<ellipse cx="524.5" cy="251.3" rx="1.8" ry="1.0" transform="rotate(20 524.5 251.3)" fill="#9c86bf" opacity="0.36"/>
<ellipse cx="458.9" cy="260.8" rx="2.1" ry="0.5" transform="rotate(76 458.9 260.8)" fill="#9c86bf" opacity="0.41"/>
<ellipse cx="496.2" cy="225.2" rx="1.4" ry="0.7" transform="rotate(108 496.2 225.2)" fill="#9c86bf" opacity="0.49"/>
<ellipse cx="462.7" cy="249.9" rx="1.4" ry="0.7" transform="rotate(35 462.7 249.9)" fill="#9c86bf" opacity="0.36"/>
<ellipse cx="465.6" cy="256.7" rx="1.2" ry="1.1" transform="rotate(44 465.6 256.7)" fill="#9c86bf" opacity="0.28"/>
<ellipse cx="470.8" cy="259.3" rx="2.0" ry="1.1" transform="rotate(93 470.8 259.3)" fill="#9c86bf" opacity="0.41"/>
<ellipse cx="483.2" cy="249.6" rx="1.0" ry="1.1" transform="rotate(77 483.2 249.6)" fill="#9c86bf" opacity="0.36"/>
<ellipse cx="464.5" cy="248.5" rx="1.1" ry="1.1" transform="rotate(13 464.5 248.5)" fill="#9c86bf" opacity="0.33"/>
<ellipse cx="462.7" cy="232.6" rx="1.5" ry="0.5" transform="rotate(114 462.7 232.6)" fill="#9c86bf" opacity="0.40"/>
<ellipse cx="513.5" cy="239.8" rx="1.7" ry="0.7" transform="rotate(124 513.5 239.8)" fill="#9c86bf" opacity="0.52"/>
<ellipse cx="470.1" cy="257.0" rx="1.9" ry="0.6" transform="rotate(9 470.1 257.0)" fill="#9c86bf" opacity="0.37"/>
<ellipse cx="494.6" cy="253.4" rx="1.9" ry="0.7" transform="rotate(145 494.6 253.4)" fill="#9c86bf" opacity="0.43"/>
<ellipse cx="475.0" cy="234.2" rx="1.4" ry="1.1" transform="rotate(158 475.0 234.2)" fill="#9c86bf" opacity="0.38"/>
<ellipse cx="496.0" cy="247.5" rx="1.8" ry="0.5" transform="rotate(127 496.0 247.5)" fill="#9c86bf" opacity="0.37"/>
<ellipse cx="498.5" cy="265.8" rx="1.0" ry="0.8" transform="rotate(171 498.5 265.8)" fill="#9c86bf" opacity="0.29"/>
<ellipse cx="502.4" cy="236.5" rx="1.9" ry="0.9" transform="rotate(25 502.4 236.5)" fill="#9c86bf" opacity="0.26"/>
<ellipse cx="482.5" cy="245.0" rx="1.9" ry="1.1" transform="rotate(99 482.5 245.0)" fill="#9c86bf" opacity="0.25"/>
<ellipse cx="490.8" cy="270.4" rx="0.9" ry="0.8" transform="rotate(48 490.8 270.4)" fill="#9c86bf" opacity="0.41"/>
<ellipse cx="472.5" cy="224.7" rx="1.1" ry="0.8" transform="rotate(76 472.5 224.7)" fill="#9c86bf" opacity="0.47"/>
<ellipse cx="472.6" cy="255.5" rx="2.1" ry="0.5" transform="rotate(88 472.6 255.5)" fill="#9c86bf" opacity="0.28"/>
<ellipse cx="485.4" cy="235.5" rx="1.9" ry="0.6" transform="rotate(177 485.4 235.5)" fill="#9c86bf" opacity="0.28"/>
<ellipse cx="478.7" cy="254.9" rx="1.0" ry="0.6" transform="rotate(60 478.7 254.9)" fill="#9c86bf" opacity="0.42"/>
<ellipse cx="517.6" cy="252.4" rx="1.2" ry="0.8" transform="rotate(177 517.6 252.4)" fill="#9c86bf" opacity="0.33"/>
<ellipse cx="465.3" cy="224.4" rx="1.4" ry="1.1" transform="rotate(169 465.3 224.4)" fill="#9c86bf" opacity="0.43"/>
<ellipse cx="474.1" cy="241.6" rx="1.1" ry="0.8" transform="rotate(139 474.1 241.6)" fill="#9c86bf" opacity="0.23"/>
<ellipse cx="495.4" cy="233.3" rx="1.7" ry="1.0" transform="rotate(138 495.4 233.3)" fill="#9c86bf" opacity="0.32"/>
<ellipse cx="523.2" cy="223.1" rx="1.2" ry="0.6" transform="rotate(123 523.2 223.1)" fill="#9c86bf" opacity="0.37"/>
<ellipse cx="501.4" cy="225.3" rx="0.9" ry="1.0" transform="rotate(117 501.4 225.3)" fill="#9c86bf" opacity="0.50"/>
<ellipse cx="488.9" cy="252.7" rx="1.4" ry="1.1" transform="rotate(53 488.9 252.7)" fill="#9c86bf" opacity="0.37"/>
<ellipse cx="515.1" cy="241.3" rx="1.4" ry="0.5" transform="rotate(173 515.1 241.3)" fill="#9c86bf" opacity="0.37"/>
<ellipse cx="491.7" cy="230.8" rx="1.4" ry="0.7" transform="rotate(34 491.7 230.8)" fill="#9c86bf" opacity="0.33"/>
<ellipse cx="483.1" cy="255.0" rx="0.9" ry="1.1" transform="rotate(152 483.1 255.0)" fill="#9c86bf" opacity="0.22"/>
<ellipse cx="490.5" cy="259.7" rx="0.9" ry="1.1" transform="rotate(174 490.5 259.7)" fill="#9c86bf" opacity="0.24"/>
<ellipse cx="480.8" cy="271.6" rx="1.2" ry="1.0" transform="rotate(144 480.8 271.6)" fill="#9c86bf" opacity="0.22"/>
<ellipse cx="492.2" cy="239.2" rx="2.0" ry="0.5" transform="rotate(121 492.2 239.2)" fill="#9c86bf" opacity="0.23"/>
<ellipse cx="501.8" cy="246.5" rx="2.1" ry="1.1" transform="rotate(148 501.8 246.5)" fill="#9c86bf" opacity="0.43"/>
<ellipse cx="484.8" cy="252.4" rx="1.4" ry="1.0" transform="rotate(176 484.8 252.4)" fill="#9c86bf" opacity="0.42"/>
<ellipse cx="467.8" cy="250.4" rx="1.5" ry="1.1" transform="rotate(58 467.8 250.4)" fill="#9c86bf" opacity="0.34"/>
<ellipse cx="508.2" cy="253.1" rx="1.5" ry="0.9" transform="rotate(41 508.2 253.1)" fill="#9c86bf" opacity="0.25"/>
<ellipse cx="489.1" cy="249.3" rx="1.8" ry="0.7" transform="rotate(60 489.1 249.3)" fill="#9c86bf" opacity="0.51"/>
<ellipse cx="524.0" cy="233.0" rx="2.0" ry="0.7" transform="rotate(9 524.0 233.0)" fill="#9c86bf" opacity="0.46"/>
<ellipse cx="495.8" cy="269.7" rx="1.4" ry="0.5" transform="rotate(71 495.8 269.7)" fill="#9c86bf" opacity="0.43"/>
<ellipse cx="474.2" cy="255.8" rx="1.1" ry="0.9" transform="rotate(2 474.2 255.8)" fill="#9c86bf" opacity="0.43"/>
<ellipse cx="472.0" cy="242.1" rx="2.2" ry="0.5" transform="rotate(14 472.0 242.1)" fill="#9c86bf" opacity="0.51"/>
<ellipse cx="516.9" cy="251.2" rx="1.5" ry="0.8" transform="rotate(116 516.9 251.2)" fill="#9c86bf" opacity="0.47"/>
<ellipse cx="467.0" cy="240.6" rx="1.5" ry="0.6" transform="rotate(20 467.0 240.6)" fill="#9c86bf" opacity="0.41"/>
<ellipse cx="529.6" cy="263.8" rx="1.2" ry="0.7" transform="rotate(178 529.6 263.8)" fill="#9c86bf" opacity="0.47"/>
<ellipse cx="500.9" cy="226.5" rx="1.0" ry="1.0" transform="rotate(66 500.9 226.5)" fill="#9c86bf" opacity="0.42"/>
<ellipse cx="469.0" cy="257.2" rx="1.5" ry="0.5" transform="rotate(23 469.0 257.2)" fill="#9c86bf" opacity="0.29"/>
<ellipse cx="486.0" cy="249.8" rx="2.1" ry="0.6" transform="rotate(35 486.0 249.8)" fill="#9c86bf" opacity="0.38"/>
<ellipse cx="473.4" cy="222.7" rx="1.5" ry="0.7" transform="rotate(117 473.4 222.7)" fill="#9c86bf" opacity="0.37"/>
<ellipse cx="462.3" cy="244.8" rx="0.9" ry="0.5" transform="rotate(155 462.3 244.8)" fill="#9c86bf" opacity="0.49"/>
<ellipse cx="527.6" cy="259.6" rx="1.7" ry="0.8" transform="rotate(94 527.6 259.6)" fill="#9c86bf" opacity="0.32"/>
<ellipse cx="521.4" cy="246.0" rx="2.1" ry="0.7" transform="rotate(45 521.4 246.0)" fill="#9c86bf" opacity="0.41"/>
<ellipse cx="508.9" cy="247.1" rx="1.1" ry="0.5" transform="rotate(114 508.9 247.1)" fill="#9c86bf" opacity="0.26"/>
<ellipse cx="519.4" cy="245.8" rx="1.8" ry="0.6" transform="rotate(163 519.4 245.8)" fill="#9c86bf" opacity="0.29"/>
<ellipse cx="530.2" cy="225.7" rx="1.8" ry="0.7" transform="rotate(169 530.2 225.7)" fill="#9c86bf" opacity="0.40"/>
<ellipse cx="511.1" cy="250.2" rx="1.9" ry="0.6" transform="rotate(68 511.1 250.2)" fill="#9c86bf" opacity="0.42"/>
<ellipse cx="461.3" cy="237.0" rx="1.1" ry="0.6" transform="rotate(46 461.3 237.0)" fill="#9c86bf" opacity="0.23"/>
<ellipse cx="498.0" cy="243.8" rx="1.8" ry="1.1" transform="rotate(108 498.0 243.8)" fill="#9c86bf" opacity="0.42"/>
<ellipse cx="523.1" cy="271.3" rx="1.4" ry="1.1" transform="rotate(77 523.1 271.3)" fill="#9c86bf" opacity="0.36"/>
<ellipse cx="475.7" cy="260.2" rx="1.2" ry="0.7" transform="rotate(80 475.7 260.2)" fill="#9c86bf" opacity="0.22"/>
<ellipse cx="517.4" cy="222.4" rx="1.0" ry="1.1" transform="rotate(139 517.4 222.4)" fill="#9c86bf" opacity="0.23"/>
<ellipse cx="473.2" cy="243.4" rx="0.8" ry="0.6" transform="rotate(62 473.2 243.4)" fill="#9c86bf" opacity="0.51"/>
<ellipse cx="460.7" cy="257.9" rx="1.1" ry="0.9" transform="rotate(2 460.7 257.9)" fill="#9c86bf" opacity="0.45"/>
<ellipse cx="525.2" cy="225.6" rx="2.2" ry="1.1" transform="rotate(56 525.2 225.6)" fill="#9c86bf" opacity="0.37"/>
<ellipse cx="457.3" cy="231.6" rx="0.9" ry="0.7" transform="rotate(45 457.3 231.6)" fill="#9c86bf" opacity="0.24"/>
<ellipse cx="461.6" cy="231.8" rx="0.9" ry="0.5" transform="rotate(151 461.6 231.8)" fill="#9c86bf" opacity="0.35"/>
<ellipse cx="463.4" cy="266.4" rx="1.0" ry="0.6" transform="rotate(8 463.4 266.4)" fill="#9c86bf" opacity="0.47"/>
<ellipse cx="490.0" cy="251.9" rx="1.5" ry="1.0" transform="rotate(162 490.0 251.9)" fill="#9c86bf" opacity="0.46"/>
<ellipse cx="496.2" cy="257.8" rx="1.1" ry="1.1" transform="rotate(93 496.2 257.8)" fill="#9c86bf" opacity="0.23"/>
<ellipse cx="481.3" cy="270.5" rx="1.2" ry="0.5" transform="rotate(177 481.3 270.5)" fill="#9c86bf" opacity="0.35"/>
<ellipse cx="499.3" cy="240.8" rx="1.2" ry="0.7" transform="rotate(168 499.3 240.8)" fill="#9c86bf" opacity="0.37"/>
<ellipse cx="509.5" cy="253.6" rx="1.1" ry="1.1" transform="rotate(165 509.5 253.6)" fill="#9c86bf" opacity="0.26"/>
<ellipse cx="460.5" cy="259.3" rx="1.0" ry="1.1" transform="rotate(88 460.5 259.3)" fill="#9c86bf" opacity="0.37"/>
<ellipse cx="477.3" cy="250.6" rx="1.2" ry="0.5" transform="rotate(96 477.3 250.6)" fill="#9c86bf" opacity="0.48"/>
<ellipse cx="506.1" cy="246.1" rx="2.0" ry="0.5" transform="rotate(38 506.1 246.1)" fill="#9c86bf" opacity="0.33"/>
<ellipse cx="458.6" cy="227.0" rx="1.9" ry="0.8" transform="rotate(118 458.6 227.0)" fill="#9c86bf" opacity="0.28"/>
<ellipse cx="524.1" cy="269.2" rx="1.3" ry="0.6" transform="rotate(62 524.1 269.2)" fill="#9c86bf" opacity="0.31"/>
<ellipse cx="485.2" cy="257.2" rx="1.9" ry="1.1" transform="rotate(111 485.2 257.2)" fill="#9c86bf" opacity="0.47"/>
<ellipse cx="504.8" cy="226.4" rx="1.0" ry="0.6" transform="rotate(19 504.8 226.4)" fill="#9c86bf" opacity="0.30"/>
<ellipse cx="506.4" cy="260.2" rx="1.4" ry="0.8" transform="rotate(115 506.4 260.2)" fill="#9c86bf" opacity="0.43"/>
<ellipse cx="488.6" cy="240.9" rx="1.5" ry="0.9" transform="rotate(25 488.6 240.9)" fill="#9c86bf" opacity="0.36"/>
<ellipse cx="494.0" cy="261.0" rx="1.2" ry="1.1" transform="rotate(130 494.0 261.0)" fill="#9c86bf" opacity="0.41"/>
<ellipse cx="494.0" cy="231.1" rx="1.3" ry="0.7" transform="rotate(86 494.0 231.1)" fill="#9c86bf" opacity="0.24"/>
<ellipse cx="458.4" cy="273.1" rx="0.8" ry="0.7" transform="rotate(73 458.4 273.1)" fill="#9c86bf" opacity="0.52"/>
<ellipse cx="482.1" cy="237.1" rx="1.5" ry="0.9" transform="rotate(158 482.1 237.1)" fill="#9c86bf" opacity="0.43"/>
<ellipse cx="462.5" cy="268.2" rx="2.1" ry="0.5" transform="rotate(148 462.5 268.2)" fill="#9c86bf" opacity="0.49"/>
<ellipse cx="519.1" cy="269.7" rx="1.2" ry="0.9" transform="rotate(140 519.1 269.7)" fill="#9c86bf" opacity="0.47"/>
<ellipse cx="501.5" cy="267.3" rx="1.7" ry="0.7" transform="rotate(170 501.5 267.3)" fill="#9c86bf" opacity="0.34"/>
<ellipse cx="464.6" cy="268.8" rx="1.3" ry="1.0" transform="rotate(160 464.6 268.8)" fill="#9c86bf" opacity="0.45"/>
<ellipse cx="507.8" cy="238.9" rx="1.5" ry="0.7" transform="rotate(146 507.8 238.9)" fill="#9c86bf" opacity="0.31"/>
<ellipse cx="489.4" cy="261.8" rx="1.0" ry="1.0" transform="rotate(100 489.4 261.8)" fill="#9c86bf" opacity="0.42"/>
<ellipse cx="507.2" cy="234.8" rx="2.0" ry="0.9" transform="rotate(64 507.2 234.8)" fill="#9c86bf" opacity="0.25"/>
<ellipse cx="472.1" cy="224.2" rx="1.2" ry="0.5" transform="rotate(5 472.1 224.2)" fill="#9c86bf" opacity="0.24"/>
<ellipse cx="464.5" cy="233.5" rx="0.9" ry="0.7" transform="rotate(19 464.5 233.5)" fill="#9c86bf" opacity="0.27"/>
<ellipse cx="499.8" cy="241.5" rx="1.8" ry="0.6" transform="rotate(117 499.8 241.5)" fill="#9c86bf" opacity="0.30"/>
<ellipse cx="488.6" cy="235.3" rx="0.9" ry="1.1" transform="rotate(46 488.6 235.3)" fill="#9c86bf" opacity="0.22"/>
<ellipse cx="502.4" cy="225.3" rx="0.9" ry="0.6" transform="rotate(36 502.4 225.3)" fill="#9c86bf" opacity="0.33"/>
<ellipse cx="481.7" cy="238.1" rx="1.9" ry="0.7" transform="rotate(162 481.7 238.1)" fill="#9c86bf" opacity="0.43"/>
<ellipse cx="522.3" cy="244.3" rx="1.3" ry="0.9" transform="rotate(180 522.3 244.3)" fill="#9c86bf" opacity="0.24"/>
<ellipse cx="507.3" cy="264.3" rx="1.6" ry="0.5" transform="rotate(180 507.3 264.3)" fill="#9c86bf" opacity="0.32"/>
<ellipse cx="525.0" cy="246.5" rx="1.0" ry="0.8" transform="rotate(53 525.0 246.5)" fill="#9c86bf" opacity="0.31"/>
<ellipse cx="522.7" cy="268.2" rx="1.6" ry="0.9" transform="rotate(120 522.7 268.2)" fill="#9c86bf" opacity="0.35"/>
<ellipse cx="513.6" cy="253.2" rx="2.2" ry="1.0" transform="rotate(160 513.6 253.2)" fill="#9c86bf" opacity="0.23"/>
<ellipse cx="491.4" cy="230.1" rx="1.2" ry="0.5" transform="rotate(156 491.4 230.1)" fill="#9c86bf" opacity="0.36"/>
<ellipse cx="498.1" cy="264.4" rx="1.9" ry="1.1" transform="rotate(7 498.1 264.4)" fill="#9c86bf" opacity="0.25"/>
<ellipse cx="492.0" cy="252.1" rx="2.2" ry="0.7" transform="rotate(25 492.0 252.1)" fill="#9c86bf" opacity="0.29"/>
<ellipse cx="466.2" cy="260.4" rx="1.6" ry="0.6" transform="rotate(136 466.2 260.4)" fill="#9c86bf" opacity="0.33"/>
<ellipse cx="471.4" cy="226.1" rx="1.9" ry="1.0" transform="rotate(128 471.4 226.1)" fill="#9c86bf" opacity="0.51"/>
<ellipse cx="528.1" cy="222.7" rx="1.0" ry="0.8" transform="rotate(93 528.1 222.7)" fill="#9c86bf" opacity="0.33"/>
<ellipse cx="472.9" cy="235.9" rx="2.2" ry="0.8" transform="rotate(76 472.9 235.9)" fill="#9c86bf" opacity="0.44"/>
<ellipse cx="511.0" cy="263.0" rx="1.9" ry="0.7" transform="rotate(44 511.0 263.0)" fill="#9c86bf" opacity="0.37"/>
<ellipse cx="511.5" cy="236.0" rx="2.1" ry="0.5" transform="rotate(42 511.5 236.0)" fill="#9c86bf" opacity="0.34"/>
<ellipse cx="470.0" cy="229.1" rx="1.2" ry="0.5" transform="rotate(108 470.0 229.1)" fill="#9c86bf" opacity="0.38"/>
<ellipse cx="467.5" cy="260.0" rx="1.4" ry="0.8" transform="rotate(159 467.5 260.0)" fill="#9c86bf" opacity="0.37"/>
<ellipse cx="464.9" cy="239.3" rx="1.0" ry="1.1" transform="rotate(43 464.9 239.3)" fill="#9c86bf" opacity="0.24"/>
<ellipse cx="490.2" cy="239.4" rx="1.9" ry="0.5" transform="rotate(40 490.2 239.4)" fill="#9c86bf" opacity="0.31"/>
<ellipse cx="464.9" cy="248.5" rx="2.1" ry="1.1" transform="rotate(106 464.9 248.5)" fill="#9c86bf" opacity="0.22"/>
<ellipse cx="504.0" cy="230.0" rx="1.6" ry="0.9" transform="rotate(170 504.0 230.0)" fill="#9c86bf" opacity="0.39"/>
<ellipse cx="475.6" cy="226.8" rx="1.9" ry="0.7" transform="rotate(56 475.6 226.8)" fill="#9c86bf" opacity="0.38"/>
<ellipse cx="506.5" cy="253.1" rx="0.8" ry="1.0" transform="rotate(119 506.5 253.1)" fill="#9c86bf" opacity="0.48"/>
<ellipse cx="506.3" cy="255.8" rx="1.2" ry="0.7" transform="rotate(168 506.3 255.8)" fill="#9c86bf" opacity="0.31"/>
<ellipse cx="524.2" cy="235.6" rx="1.4" ry="1.1" transform="rotate(115 524.2 235.6)" fill="#9c86bf" opacity="0.38"/>
<ellipse cx="457.6" cy="242.4" rx="1.0" ry="0.8" transform="rotate(176 457.6 242.4)" fill="#9c86bf" opacity="0.30"/>
<ellipse cx="525.6" cy="269.4" rx="1.0" ry="1.1" transform="rotate(128 525.6 269.4)" fill="#9c86bf" opacity="0.27"/>
<ellipse cx="467.5" cy="253.6" rx="2.0" ry="0.7" transform="rotate(139 467.5 253.6)" fill="#9c86bf" opacity="0.41"/>
<ellipse cx="466.3" cy="258.2" rx="1.2" ry="0.6" transform="rotate(82 466.3 258.2)" fill="#9c86bf" opacity="0.23"/>
<ellipse cx="521.5" cy="224.2" rx="2.2" ry="1.1" transform="rotate(160 521.5 224.2)" fill="#9c86bf" opacity="0.40"/>
<ellipse cx="529.9" cy="224.7" rx="1.3" ry="0.8" transform="rotate(29 529.9 224.7)" fill="#9c86bf" opacity="0.43"/>
<ellipse cx="517.4" cy="245.1" rx="0.9" ry="0.7" transform="rotate(154 517.4 245.1)" fill="#9c86bf" opacity="0.52"/>
<ellipse cx="485.3" cy="223.1" rx="2.0" ry="0.9" transform="rotate(7 485.3 223.1)" fill="#9c86bf" opacity="0.37"/>
<ellipse cx="483.7" cy="272.7" rx="1.6" ry="1.1" transform="rotate(75 483.7 272.7)" fill="#9c86bf" opacity="0.32"/>
<ellipse cx="496.0" cy="226.9" rx="1.4" ry="0.7" transform="rotate(32 496.0 226.9)" fill="#9c86bf" opacity="0.47"/>
<ellipse cx="499.3" cy="259.0" rx="1.6" ry="0.6" transform="rotate(50 499.3 259.0)" fill="#9c86bf" opacity="0.28"/>
<ellipse cx="503.4" cy="238.0" rx="1.0" ry="1.0" transform="rotate(23 503.4 238.0)" fill="#9c86bf" opacity="0.51"/>
<ellipse cx="481.2" cy="256.6" rx="2.2" ry="0.6" transform="rotate(158 481.2 256.6)" fill="#9c86bf" opacity="0.32"/>
<ellipse cx="496.5" cy="245.4" rx="1.6" ry="0.9" transform="rotate(138 496.5 245.4)" fill="#9c86bf" opacity="0.33"/>
<ellipse cx="508.2" cy="266.9" rx="1.5" ry="0.8" transform="rotate(83 508.2 266.9)" fill="#9c86bf" opacity="0.28"/>
<ellipse cx="501.8" cy="235.8" rx="1.3" ry="1.1" transform="rotate(52 501.8 235.8)" fill="#9c86bf" opacity="0.32"/>
<ellipse cx="505.5" cy="253.1" rx="2.0" ry="0.5" transform="rotate(47 505.5 253.1)" fill="#9c86bf" opacity="0.27"/>
<ellipse cx="467.4" cy="242.4" rx="1.9" ry="1.0" transform="rotate(36 467.4 242.4)" fill="#9c86bf" opacity="0.43"/>
<ellipse cx="470.8" cy="245.4" rx="1.0" ry="0.6" transform="rotate(147 470.8 245.4)" fill="#9c86bf" opacity="0.44"/>
<ellipse cx="493.4" cy="267.5" rx="1.0" ry="0.7" transform="rotate(121 493.4 267.5)" fill="#9c86bf" opacity="0.26"/>
<ellipse cx="490.0" cy="244.1" rx="1.0" ry="0.6" transform="rotate(47 490.0 244.1)" fill="#9c86bf" opacity="0.38"/>
<ellipse cx="481.9" cy="251.3" rx="1.3" ry="1.0" transform="rotate(158 481.9 251.3)" fill="#9c86bf" opacity="0.40"/>
<ellipse cx="518.6" cy="246.0" rx="0.9" ry="1.1" transform="rotate(36 518.6 246.0)" fill="#9c86bf" opacity="0.24"/>
<ellipse cx="512.1" cy="227.2" rx="1.5" ry="0.7" transform="rotate(9 512.1 227.2)" fill="#9c86bf" opacity="0.36"/>
<ellipse cx="465.3" cy="257.9" rx="2.0" ry="0.7" transform="rotate(101 465.3 257.9)" fill="#9c86bf" opacity="0.34"/>
<ellipse cx="501.1" cy="271.6" rx="1.1" ry="0.9" transform="rotate(2 501.1 271.6)" fill="#9c86bf" opacity="0.49"/>
<ellipse cx="461.0" cy="244.1" rx="1.3" ry="0.8" transform="rotate(45 461.0 244.1)" fill="#9c86bf" opacity="0.27"/>
<ellipse cx="495.9" cy="263.8" rx="2.2" ry="0.7" transform="rotate(44 495.9 263.8)" fill="#9c86bf" opacity="0.32"/>
</g>
<g filter="url(#bl)">
<ellipse cx="467.1" cy="265.4" rx="1.5" ry="1.1" transform="rotate(25 467.1 265.4)" fill="#b0602f" opacity="0.86"/>
<ellipse cx="493.6" cy="252.6" rx="1.4" ry="1.0" transform="rotate(135 493.6 252.6)" fill="#b0602f" opacity="0.59"/>
<ellipse cx="483.7" cy="250.6" rx="1.4" ry="1.0" transform="rotate(130 483.7 250.6)" fill="#b0602f" opacity="0.59"/>
<ellipse cx="472.6" cy="256.3" rx="1.2" ry="0.8" transform="rotate(176 472.6 256.3)" fill="#b0602f" opacity="0.88"/>
<ellipse cx="526.0" cy="270.3" rx="1.6" ry="1.1" transform="rotate(143 526.0 270.3)" fill="#b0602f" opacity="0.52"/>
<ellipse cx="514.7" cy="263.9" rx="1.0" ry="0.7" transform="rotate(20 514.7 263.9)" fill="#b0602f" opacity="0.86"/>
<ellipse cx="471.0" cy="227.6" rx="1.1" ry="0.8" transform="rotate(63 471.0 227.6)" fill="#b0602f" opacity="0.62"/>
<ellipse cx="472.0" cy="246.3" rx="1.6" ry="1.1" transform="rotate(6 472.0 246.3)" fill="#b0602f" opacity="0.69"/>
<ellipse cx="524.5" cy="262.4" rx="0.8" ry="0.6" transform="rotate(102 524.5 262.4)" fill="#b0602f" opacity="0.58"/>
</g>
<rect x="456.9" y="222.4" width="73.89999999999998" height="50.79999999999998" filter="url(#noise)" opacity="0.25"/>
</g>
<rect x="457.45" y="222.95000000000002" width="72.79999999999998" height="49.69999999999998" fill="none" stroke="#747474" stroke-width="1.2"/>
<clipPath id="cp12"><rect x="533.3" y="222.4" width="73.80000000000007" height="50.79999999999998"/></clipPath>
<g clip-path="url(#cp12)">
<rect x="533.3" y="222.4" width="73.80000000000007" height="50.79999999999998" fill="url(#g3)"/>
<g filter="url(#bl)">
<circle cx="544.6" cy="266.4" r="0.52" fill="#8a5a70" opacity="0.6"/>
<circle cx="606.8" cy="223.2" r="0.25" fill="#8a5a70" opacity="0.6"/>
<circle cx="558.3" cy="241.4" r="0.28" fill="#8a5a70" opacity="0.6"/>
<circle cx="600.8" cy="246.1" r="0.55" fill="#8a5a70" opacity="0.6"/>
<circle cx="536.6" cy="246.2" r="0.28" fill="#8a5a70" opacity="0.6"/>
<circle cx="605.0" cy="268.0" r="0.28" fill="#8a5a70" opacity="0.6"/>
<circle cx="559.4" cy="271.8" r="0.43" fill="#8a5a70" opacity="0.6"/>
<circle cx="562.8" cy="253.4" r="0.39" fill="#8a5a70" opacity="0.6"/>
<circle cx="595.6" cy="227.0" r="0.42" fill="#8a5a70" opacity="0.6"/>
<circle cx="600.6" cy="223.9" r="0.34" fill="#8a5a70" opacity="0.6"/>
<circle cx="564.1" cy="252.8" r="0.50" fill="#8a5a70" opacity="0.6"/>
<circle cx="573.3" cy="226.7" r="0.54" fill="#8a5a70" opacity="0.6"/>
<circle cx="547.0" cy="263.4" r="0.28" fill="#8a5a70" opacity="0.6"/>
<circle cx="541.0" cy="256.2" r="0.37" fill="#8a5a70" opacity="0.6"/>
<circle cx="595.8" cy="225.5" r="0.28" fill="#8a5a70" opacity="0.6"/>
<circle cx="539.4" cy="245.1" r="0.30" fill="#8a5a70" opacity="0.6"/>
<circle cx="545.3" cy="245.5" r="0.48" fill="#8a5a70" opacity="0.6"/>
<circle cx="591.6" cy="242.7" r="0.35" fill="#8a5a70" opacity="0.6"/>
<circle cx="552.5" cy="257.5" r="0.36" fill="#8a5a70" opacity="0.6"/>
<circle cx="585.3" cy="228.3" r="0.32" fill="#8a5a70" opacity="0.6"/>
<circle cx="573.7" cy="222.7" r="0.52" fill="#8a5a70" opacity="0.6"/>
<circle cx="595.4" cy="244.5" r="0.28" fill="#8a5a70" opacity="0.6"/>
<circle cx="561.2" cy="240.0" r="0.36" fill="#8a5a70" opacity="0.6"/>
<circle cx="565.5" cy="229.7" r="0.27" fill="#8a5a70" opacity="0.6"/>
<circle cx="539.0" cy="229.6" r="0.31" fill="#8a5a70" opacity="0.6"/>
</g>
<rect x="533.3" y="222.4" width="73.80000000000007" height="50.79999999999998" filter="url(#noise)" opacity="0.35"/>
</g>
<rect x="533.8499999999999" y="222.95000000000002" width="72.70000000000007" height="49.69999999999998" fill="none" stroke="#747474" stroke-width="1.2"/>
<rect x="564.4" y="227.5" width="16.899999999999977" height="13.5" fill="none" stroke="#4a4a4a" stroke-width="0.85"/>
<line x1="581.3" y1="227.5" x2="606.5" y2="223.0" stroke="#4a4a4a" stroke-width="0.85" />
<line x1="581.3" y1="241.0" x2="606.5" y2="272.59999999999997" stroke="#4a4a4a" stroke-width="0.85" />
<clipPath id="cp13"><rect x="609.4" y="222.4" width="74.10000000000002" height="50.79999999999998"/></clipPath>
<g clip-path="url(#cp13)">
<rect x="609.4" y="222.4" width="74.10000000000002" height="50.79999999999998" fill="url(#g4)"/>
<g filter="url(#bl3)">
<circle cx="640.3" cy="229.8" r="2.9" fill="#eee4ee" opacity="0.6"/>
<circle cx="652.4" cy="251.2" r="3.2" fill="#eee4ee" opacity="0.6"/>
<circle cx="661.7" cy="249.5" r="3.0" fill="#eee4ee" opacity="0.6"/>
<circle cx="673.3" cy="251.3" r="2.9" fill="#eee4ee" opacity="0.6"/>
<circle cx="646.3" cy="224.8" r="3.3" fill="#eee4ee" opacity="0.6"/>
<circle cx="675.1" cy="242.3" r="3.7" fill="#eee4ee" opacity="0.6"/>
</g>
<g filter="url(#bl2)">
<ellipse cx="611.8" cy="244.8" rx="2.6" ry="1.1" transform="rotate(83 611.8 244.8)" fill="#9c86bf" opacity="0.25"/>
<ellipse cx="681.8" cy="228.1" rx="2.5" ry="0.6" transform="rotate(109 681.8 228.1)" fill="#9c86bf" opacity="0.16"/>
<ellipse cx="625.8" cy="232.3" rx="2.8" ry="1.1" transform="rotate(74 625.8 232.3)" fill="#9c86bf" opacity="0.22"/>
<ellipse cx="661.2" cy="241.5" rx="2.5" ry="1.0" transform="rotate(61 661.2 241.5)" fill="#9c86bf" opacity="0.24"/>
<ellipse cx="635.9" cy="233.4" rx="2.7" ry="1.0" transform="rotate(40 635.9 233.4)" fill="#9c86bf" opacity="0.17"/>
<ellipse cx="621.1" cy="261.5" rx="1.2" ry="1.1" transform="rotate(163 621.1 261.5)" fill="#9c86bf" opacity="0.14"/>
<ellipse cx="676.9" cy="245.4" rx="2.1" ry="1.1" transform="rotate(4 676.9 245.4)" fill="#9c86bf" opacity="0.08"/>
<ellipse cx="632.6" cy="249.8" rx="2.4" ry="0.6" transform="rotate(13 632.6 249.8)" fill="#9c86bf" opacity="0.08"/>
<ellipse cx="609.7" cy="232.9" rx="2.8" ry="0.7" transform="rotate(48 609.7 232.9)" fill="#9c86bf" opacity="0.11"/>
<ellipse cx="642.0" cy="234.8" rx="1.4" ry="0.8" transform="rotate(75 642.0 234.8)" fill="#9c86bf" opacity="0.25"/>
<ellipse cx="640.7" cy="224.6" rx="1.1" ry="1.0" transform="rotate(95 640.7 224.6)" fill="#9c86bf" opacity="0.18"/>
<ellipse cx="680.4" cy="237.5" rx="1.4" ry="0.7" transform="rotate(172 680.4 237.5)" fill="#9c86bf" opacity="0.23"/>
<ellipse cx="651.3" cy="260.2" rx="1.6" ry="0.8" transform="rotate(38 651.3 260.2)" fill="#9c86bf" opacity="0.18"/>
<ellipse cx="667.5" cy="250.8" rx="2.6" ry="0.6" transform="rotate(142 667.5 250.8)" fill="#9c86bf" opacity="0.20"/>
<ellipse cx="673.5" cy="250.3" rx="1.6" ry="0.7" transform="rotate(129 673.5 250.3)" fill="#9c86bf" opacity="0.13"/>
<ellipse cx="681.5" cy="258.0" rx="2.9" ry="0.7" transform="rotate(92 681.5 258.0)" fill="#9c86bf" opacity="0.21"/>
<ellipse cx="681.3" cy="227.5" rx="2.6" ry="1.1" transform="rotate(67 681.3 227.5)" fill="#9c86bf" opacity="0.14"/>
<ellipse cx="617.1" cy="256.6" rx="1.8" ry="0.7" transform="rotate(36 617.1 256.6)" fill="#9c86bf" opacity="0.22"/>
<ellipse cx="612.3" cy="269.4" rx="1.3" ry="0.8" transform="rotate(48 612.3 269.4)" fill="#9c86bf" opacity="0.09"/>
<ellipse cx="614.5" cy="228.2" rx="1.1" ry="0.6" transform="rotate(56 614.5 228.2)" fill="#9c86bf" opacity="0.17"/>
<ellipse cx="676.7" cy="248.4" rx="2.6" ry="0.7" transform="rotate(151 676.7 248.4)" fill="#9c86bf" opacity="0.12"/>
<ellipse cx="637.7" cy="233.9" rx="1.7" ry="0.8" transform="rotate(177 637.7 233.9)" fill="#9c86bf" opacity="0.21"/>
<ellipse cx="639.5" cy="236.8" rx="2.4" ry="0.9" transform="rotate(175 639.5 236.8)" fill="#9c86bf" opacity="0.24"/>
<ellipse cx="614.8" cy="267.8" rx="1.2" ry="0.7" transform="rotate(55 614.8 267.8)" fill="#9c86bf" opacity="0.12"/>
<ellipse cx="637.9" cy="233.2" rx="1.9" ry="0.6" transform="rotate(95 637.9 233.2)" fill="#9c86bf" opacity="0.25"/>
<ellipse cx="613.3" cy="227.6" rx="1.3" ry="0.6" transform="rotate(173 613.3 227.6)" fill="#9c86bf" opacity="0.22"/>
<ellipse cx="644.5" cy="273.1" rx="1.1" ry="0.5" transform="rotate(32 644.5 273.1)" fill="#9c86bf" opacity="0.22"/>
<ellipse cx="669.9" cy="239.7" rx="2.7" ry="0.7" transform="rotate(107 669.9 239.7)" fill="#9c86bf" opacity="0.21"/>
<ellipse cx="665.6" cy="251.0" rx="1.7" ry="0.6" transform="rotate(75 665.6 251.0)" fill="#9c86bf" opacity="0.24"/>
<ellipse cx="683.0" cy="267.0" rx="2.4" ry="0.5" transform="rotate(88 683.0 267.0)" fill="#9c86bf" opacity="0.25"/>
<ellipse cx="647.2" cy="255.2" rx="2.1" ry="0.8" transform="rotate(118 647.2 255.2)" fill="#9c86bf" opacity="0.16"/>
<ellipse cx="640.3" cy="270.7" rx="1.7" ry="0.9" transform="rotate(172 640.3 270.7)" fill="#9c86bf" opacity="0.13"/>
<ellipse cx="619.1" cy="223.0" rx="1.2" ry="0.6" transform="rotate(88 619.1 223.0)" fill="#9c86bf" opacity="0.08"/>
<ellipse cx="676.4" cy="251.3" rx="2.2" ry="1.1" transform="rotate(53 676.4 251.3)" fill="#9c86bf" opacity="0.15"/>
<ellipse cx="680.7" cy="268.4" rx="2.5" ry="0.6" transform="rotate(162 680.7 268.4)" fill="#9c86bf" opacity="0.08"/>
<ellipse cx="617.9" cy="250.1" rx="1.1" ry="0.5" transform="rotate(176 617.9 250.1)" fill="#9c86bf" opacity="0.14"/>
<ellipse cx="619.4" cy="266.3" rx="1.4" ry="1.0" transform="rotate(68 619.4 266.3)" fill="#9c86bf" opacity="0.12"/>
<ellipse cx="670.2" cy="234.2" rx="2.8" ry="0.5" transform="rotate(11 670.2 234.2)" fill="#9c86bf" opacity="0.10"/>
<ellipse cx="679.7" cy="236.0" rx="1.5" ry="0.7" transform="rotate(5 679.7 236.0)" fill="#9c86bf" opacity="0.18"/>
<ellipse cx="640.3" cy="265.2" rx="2.6" ry="0.8" transform="rotate(109 640.3 265.2)" fill="#9c86bf" opacity="0.24"/>
<ellipse cx="636.2" cy="270.1" rx="2.0" ry="0.5" transform="rotate(31 636.2 270.1)" fill="#9c86bf" opacity="0.21"/>
<ellipse cx="682.9" cy="223.5" rx="1.3" ry="1.0" transform="rotate(152 682.9 223.5)" fill="#9c86bf" opacity="0.11"/>
<ellipse cx="637.8" cy="252.7" rx="2.1" ry="0.7" transform="rotate(104 637.8 252.7)" fill="#9c86bf" opacity="0.24"/>
<ellipse cx="675.8" cy="237.2" rx="2.8" ry="0.6" transform="rotate(58 675.8 237.2)" fill="#9c86bf" opacity="0.15"/>
<ellipse cx="672.0" cy="224.9" rx="2.7" ry="1.0" transform="rotate(88 672.0 224.9)" fill="#9c86bf" opacity="0.15"/>
<ellipse cx="665.1" cy="262.8" rx="2.1" ry="0.5" transform="rotate(81 665.1 262.8)" fill="#9c86bf" opacity="0.13"/>
<ellipse cx="643.8" cy="267.8" rx="1.4" ry="1.1" transform="rotate(71 643.8 267.8)" fill="#9c86bf" opacity="0.20"/>
<ellipse cx="659.6" cy="261.5" rx="2.4" ry="0.6" transform="rotate(117 659.6 261.5)" fill="#9c86bf" opacity="0.14"/>
<ellipse cx="680.8" cy="228.7" rx="1.2" ry="0.5" transform="rotate(6 680.8 228.7)" fill="#9c86bf" opacity="0.10"/>
<ellipse cx="640.0" cy="252.9" rx="1.9" ry="0.5" transform="rotate(23 640.0 252.9)" fill="#9c86bf" opacity="0.09"/>
<ellipse cx="654.7" cy="236.9" rx="2.0" ry="0.7" transform="rotate(156 654.7 236.9)" fill="#9c86bf" opacity="0.16"/>
<ellipse cx="625.9" cy="262.7" rx="1.9" ry="0.9" transform="rotate(166 625.9 262.7)" fill="#9c86bf" opacity="0.09"/>
<ellipse cx="634.9" cy="240.1" rx="1.6" ry="0.5" transform="rotate(65 634.9 240.1)" fill="#9c86bf" opacity="0.21"/>
<ellipse cx="682.1" cy="265.9" rx="2.6" ry="0.6" transform="rotate(10 682.1 265.9)" fill="#9c86bf" opacity="0.18"/>
<ellipse cx="681.5" cy="224.2" rx="1.9" ry="0.7" transform="rotate(141 681.5 224.2)" fill="#9c86bf" opacity="0.22"/>
<ellipse cx="665.9" cy="262.7" rx="1.1" ry="0.9" transform="rotate(153 665.9 262.7)" fill="#9c86bf" opacity="0.13"/>
<ellipse cx="612.1" cy="264.7" rx="2.7" ry="0.5" transform="rotate(101 612.1 264.7)" fill="#9c86bf" opacity="0.13"/>
<ellipse cx="662.1" cy="247.3" rx="2.6" ry="1.0" transform="rotate(35 662.1 247.3)" fill="#9c86bf" opacity="0.18"/>
<ellipse cx="620.5" cy="228.1" rx="2.3" ry="0.7" transform="rotate(161 620.5 228.1)" fill="#9c86bf" opacity="0.24"/>
<ellipse cx="669.9" cy="246.5" rx="1.3" ry="0.7" transform="rotate(2 669.9 246.5)" fill="#9c86bf" opacity="0.17"/>
<ellipse cx="668.4" cy="224.2" rx="2.8" ry="0.5" transform="rotate(175 668.4 224.2)" fill="#9c86bf" opacity="0.13"/>
<ellipse cx="628.7" cy="269.5" rx="1.9" ry="0.8" transform="rotate(167 628.7 269.5)" fill="#9c86bf" opacity="0.25"/>
<ellipse cx="611.4" cy="256.0" rx="1.2" ry="0.8" transform="rotate(73 611.4 256.0)" fill="#9c86bf" opacity="0.21"/>
<ellipse cx="662.7" cy="255.4" rx="2.5" ry="0.8" transform="rotate(56 662.7 255.4)" fill="#9c86bf" opacity="0.09"/>
<ellipse cx="640.2" cy="259.9" rx="1.1" ry="0.6" transform="rotate(179 640.2 259.9)" fill="#9c86bf" opacity="0.14"/>
<ellipse cx="680.7" cy="258.6" rx="1.4" ry="0.6" transform="rotate(145 680.7 258.6)" fill="#9c86bf" opacity="0.20"/>
<ellipse cx="630.5" cy="248.4" rx="2.3" ry="0.9" transform="rotate(149 630.5 248.4)" fill="#9c86bf" opacity="0.15"/>
<ellipse cx="678.5" cy="254.5" rx="2.1" ry="1.1" transform="rotate(106 678.5 254.5)" fill="#9c86bf" opacity="0.17"/>
<ellipse cx="613.1" cy="225.3" rx="2.7" ry="0.8" transform="rotate(69 613.1 225.3)" fill="#9c86bf" opacity="0.11"/>
<ellipse cx="621.6" cy="242.2" rx="1.9" ry="0.9" transform="rotate(25 621.6 242.2)" fill="#9c86bf" opacity="0.12"/>
<ellipse cx="637.2" cy="226.0" rx="2.1" ry="1.0" transform="rotate(162 637.2 226.0)" fill="#9c86bf" opacity="0.19"/>
<ellipse cx="626.1" cy="268.7" rx="2.1" ry="1.0" transform="rotate(32 626.1 268.7)" fill="#9c86bf" opacity="0.09"/>
<ellipse cx="619.0" cy="223.9" rx="2.0" ry="0.8" transform="rotate(157 619.0 223.9)" fill="#9c86bf" opacity="0.19"/>
<ellipse cx="646.6" cy="223.2" rx="2.7" ry="0.8" transform="rotate(7 646.6 223.2)" fill="#9c86bf" opacity="0.18"/>
<ellipse cx="676.5" cy="225.4" rx="2.3" ry="0.8" transform="rotate(0 676.5 225.4)" fill="#9c86bf" opacity="0.12"/>
<ellipse cx="618.1" cy="246.3" rx="1.9" ry="0.7" transform="rotate(125 618.1 246.3)" fill="#9c86bf" opacity="0.22"/>
<ellipse cx="610.8" cy="242.1" rx="1.5" ry="0.8" transform="rotate(67 610.8 242.1)" fill="#9c86bf" opacity="0.20"/>
<ellipse cx="638.7" cy="230.5" rx="2.4" ry="0.6" transform="rotate(72 638.7 230.5)" fill="#9c86bf" opacity="0.21"/>
<ellipse cx="637.1" cy="229.8" rx="1.8" ry="0.5" transform="rotate(99 637.1 229.8)" fill="#9c86bf" opacity="0.08"/>
<ellipse cx="622.4" cy="263.9" rx="2.1" ry="0.8" transform="rotate(161 622.4 263.9)" fill="#9c86bf" opacity="0.10"/>
<ellipse cx="628.8" cy="235.9" rx="2.4" ry="0.7" transform="rotate(6 628.8 235.9)" fill="#9c86bf" opacity="0.14"/>
<ellipse cx="613.6" cy="228.4" rx="1.8" ry="1.1" transform="rotate(61 613.6 228.4)" fill="#9c86bf" opacity="0.18"/>
<ellipse cx="645.4" cy="247.7" rx="2.5" ry="0.6" transform="rotate(25 645.4 247.7)" fill="#9c86bf" opacity="0.12"/>
<ellipse cx="635.7" cy="236.9" rx="1.4" ry="0.6" transform="rotate(109 635.7 236.9)" fill="#9c86bf" opacity="0.14"/>
<ellipse cx="656.1" cy="231.5" rx="1.7" ry="0.6" transform="rotate(149 656.1 231.5)" fill="#9c86bf" opacity="0.13"/>
<ellipse cx="631.7" cy="228.8" rx="2.1" ry="0.6" transform="rotate(123 631.7 228.8)" fill="#9c86bf" opacity="0.15"/>
<ellipse cx="653.9" cy="249.1" rx="2.7" ry="0.6" transform="rotate(153 653.9 249.1)" fill="#9c86bf" opacity="0.11"/>
<ellipse cx="650.4" cy="257.1" rx="1.1" ry="0.7" transform="rotate(74 650.4 257.1)" fill="#9c86bf" opacity="0.11"/>
<ellipse cx="665.1" cy="228.1" rx="1.8" ry="0.6" transform="rotate(128 665.1 228.1)" fill="#9c86bf" opacity="0.20"/>
<ellipse cx="668.0" cy="249.1" rx="2.1" ry="1.1" transform="rotate(75 668.0 249.1)" fill="#9c86bf" opacity="0.24"/>
<ellipse cx="630.9" cy="243.4" rx="2.6" ry="0.5" transform="rotate(80 630.9 243.4)" fill="#9c86bf" opacity="0.20"/>
<ellipse cx="652.9" cy="223.7" rx="1.7" ry="1.0" transform="rotate(79 652.9 223.7)" fill="#9c86bf" opacity="0.14"/>
<ellipse cx="627.9" cy="260.4" rx="1.1" ry="1.0" transform="rotate(51 627.9 260.4)" fill="#9c86bf" opacity="0.16"/>
<ellipse cx="671.0" cy="263.1" rx="2.4" ry="0.6" transform="rotate(25 671.0 263.1)" fill="#9c86bf" opacity="0.23"/>
<ellipse cx="651.1" cy="236.9" rx="1.8" ry="0.7" transform="rotate(151 651.1 236.9)" fill="#9c86bf" opacity="0.21"/>
<ellipse cx="641.7" cy="260.5" rx="2.5" ry="0.6" transform="rotate(35 641.7 260.5)" fill="#9c86bf" opacity="0.17"/>
<ellipse cx="613.6" cy="259.3" rx="1.7" ry="0.7" transform="rotate(159 613.6 259.3)" fill="#9c86bf" opacity="0.12"/>
<ellipse cx="618.3" cy="267.2" rx="1.1" ry="1.1" transform="rotate(104 618.3 267.2)" fill="#9c86bf" opacity="0.09"/>
<ellipse cx="667.1" cy="236.0" rx="1.7" ry="1.1" transform="rotate(16 667.1 236.0)" fill="#9c86bf" opacity="0.14"/>
<ellipse cx="678.2" cy="247.0" rx="2.1" ry="0.5" transform="rotate(179 678.2 247.0)" fill="#9c86bf" opacity="0.19"/>
<ellipse cx="673.3" cy="228.1" rx="1.3" ry="0.6" transform="rotate(140 673.3 228.1)" fill="#9c86bf" opacity="0.09"/>
<ellipse cx="678.5" cy="267.5" rx="1.7" ry="0.7" transform="rotate(112 678.5 267.5)" fill="#9c86bf" opacity="0.18"/>
<ellipse cx="622.3" cy="244.2" rx="1.2" ry="1.1" transform="rotate(38 622.3 244.2)" fill="#9c86bf" opacity="0.23"/>
<ellipse cx="647.6" cy="247.0" rx="1.7" ry="1.1" transform="rotate(77 647.6 247.0)" fill="#9c86bf" opacity="0.11"/>
<ellipse cx="638.5" cy="226.7" rx="1.6" ry="0.6" transform="rotate(172 638.5 226.7)" fill="#9c86bf" opacity="0.16"/>
<ellipse cx="665.3" cy="223.5" rx="1.6" ry="1.0" transform="rotate(111 665.3 223.5)" fill="#9c86bf" opacity="0.24"/>
<ellipse cx="638.7" cy="266.7" rx="1.3" ry="0.8" transform="rotate(93 638.7 266.7)" fill="#9c86bf" opacity="0.16"/>
<ellipse cx="677.1" cy="270.4" rx="2.1" ry="1.1" transform="rotate(53 677.1 270.4)" fill="#9c86bf" opacity="0.14"/>
<ellipse cx="681.9" cy="238.4" rx="2.8" ry="0.5" transform="rotate(53 681.9 238.4)" fill="#9c86bf" opacity="0.19"/>
<ellipse cx="674.2" cy="223.4" rx="1.4" ry="0.5" transform="rotate(33 674.2 223.4)" fill="#9c86bf" opacity="0.17"/>
<ellipse cx="626.9" cy="228.3" rx="2.3" ry="0.5" transform="rotate(175 626.9 228.3)" fill="#9c86bf" opacity="0.23"/>
<ellipse cx="675.7" cy="269.2" rx="2.7" ry="1.1" transform="rotate(48 675.7 269.2)" fill="#9c86bf" opacity="0.08"/>
<ellipse cx="616.1" cy="222.6" rx="1.7" ry="0.8" transform="rotate(128 616.1 222.6)" fill="#9c86bf" opacity="0.15"/>
<ellipse cx="615.8" cy="243.0" rx="2.3" ry="0.9" transform="rotate(5 615.8 243.0)" fill="#9c86bf" opacity="0.15"/>
<ellipse cx="662.7" cy="231.2" rx="1.7" ry="1.0" transform="rotate(152 662.7 231.2)" fill="#9c86bf" opacity="0.13"/>
<ellipse cx="614.9" cy="234.2" rx="2.4" ry="1.0" transform="rotate(26 614.9 234.2)" fill="#9c86bf" opacity="0.14"/>
<ellipse cx="640.6" cy="247.3" rx="1.7" ry="0.5" transform="rotate(70 640.6 247.3)" fill="#9c86bf" opacity="0.17"/>
<ellipse cx="677.3" cy="222.5" rx="2.5" ry="0.7" transform="rotate(37 677.3 222.5)" fill="#9c86bf" opacity="0.22"/>
<ellipse cx="609.9" cy="233.0" rx="1.9" ry="0.7" transform="rotate(135 609.9 233.0)" fill="#9c86bf" opacity="0.09"/>
<ellipse cx="647.8" cy="227.5" rx="1.1" ry="0.6" transform="rotate(18 647.8 227.5)" fill="#9c86bf" opacity="0.10"/>
<ellipse cx="637.1" cy="273.0" rx="2.8" ry="0.6" transform="rotate(43 637.1 273.0)" fill="#9c86bf" opacity="0.15"/>
<ellipse cx="623.6" cy="260.2" rx="1.9" ry="0.9" transform="rotate(78 623.6 260.2)" fill="#9c86bf" opacity="0.12"/>
<ellipse cx="619.7" cy="230.5" rx="1.7" ry="0.8" transform="rotate(6 619.7 230.5)" fill="#9c86bf" opacity="0.15"/>
<ellipse cx="626.6" cy="257.4" rx="2.7" ry="0.8" transform="rotate(11 626.6 257.4)" fill="#9c86bf" opacity="0.18"/>
<ellipse cx="653.2" cy="243.5" rx="2.1" ry="1.0" transform="rotate(43 653.2 243.5)" fill="#9c86bf" opacity="0.14"/>
<ellipse cx="664.7" cy="225.8" rx="2.3" ry="0.6" transform="rotate(51 664.7 225.8)" fill="#9c86bf" opacity="0.22"/>
<ellipse cx="666.6" cy="243.5" rx="2.4" ry="0.6" transform="rotate(109 666.6 243.5)" fill="#9c86bf" opacity="0.18"/>
<ellipse cx="678.5" cy="266.1" rx="2.0" ry="0.6" transform="rotate(31 678.5 266.1)" fill="#9c86bf" opacity="0.24"/>
<ellipse cx="617.1" cy="236.3" rx="2.1" ry="0.5" transform="rotate(168 617.1 236.3)" fill="#9c86bf" opacity="0.20"/>
<ellipse cx="673.0" cy="245.4" rx="2.3" ry="0.5" transform="rotate(149 673.0 245.4)" fill="#9c86bf" opacity="0.23"/>
<ellipse cx="646.0" cy="255.9" rx="1.4" ry="0.7" transform="rotate(72 646.0 255.9)" fill="#9c86bf" opacity="0.21"/>
<ellipse cx="680.7" cy="231.7" rx="2.8" ry="0.9" transform="rotate(25 680.7 231.7)" fill="#9c86bf" opacity="0.21"/>
<ellipse cx="631.1" cy="224.1" rx="1.8" ry="0.5" transform="rotate(162 631.1 224.1)" fill="#9c86bf" opacity="0.11"/>
<ellipse cx="627.3" cy="226.2" rx="1.9" ry="0.8" transform="rotate(41 627.3 226.2)" fill="#9c86bf" opacity="0.20"/>
<ellipse cx="678.2" cy="230.4" rx="1.5" ry="0.6" transform="rotate(75 678.2 230.4)" fill="#9c86bf" opacity="0.15"/>
<ellipse cx="635.5" cy="250.5" rx="2.7" ry="0.8" transform="rotate(22 635.5 250.5)" fill="#9c86bf" opacity="0.17"/>
<ellipse cx="649.2" cy="247.7" rx="1.5" ry="0.7" transform="rotate(59 649.2 247.7)" fill="#9c86bf" opacity="0.18"/>
<ellipse cx="682.7" cy="244.9" rx="1.7" ry="0.5" transform="rotate(25 682.7 244.9)" fill="#9c86bf" opacity="0.12"/>
<ellipse cx="650.5" cy="254.7" rx="1.7" ry="1.0" transform="rotate(177 650.5 254.7)" fill="#9c86bf" opacity="0.14"/>
<ellipse cx="672.2" cy="248.7" rx="1.5" ry="0.5" transform="rotate(88 672.2 248.7)" fill="#9c86bf" opacity="0.19"/>
<ellipse cx="637.7" cy="256.1" rx="2.3" ry="0.5" transform="rotate(67 637.7 256.1)" fill="#9c86bf" opacity="0.19"/>
<ellipse cx="669.1" cy="228.9" rx="2.2" ry="0.7" transform="rotate(171 669.1 228.9)" fill="#9c86bf" opacity="0.17"/>
<ellipse cx="681.5" cy="263.0" rx="2.0" ry="0.7" transform="rotate(48 681.5 263.0)" fill="#9c86bf" opacity="0.13"/>
<ellipse cx="617.1" cy="272.7" rx="2.5" ry="0.9" transform="rotate(25 617.1 272.7)" fill="#9c86bf" opacity="0.24"/>
<ellipse cx="647.8" cy="253.9" rx="1.4" ry="1.1" transform="rotate(7 647.8 253.9)" fill="#9c86bf" opacity="0.15"/>
<ellipse cx="641.1" cy="270.5" rx="2.1" ry="0.8" transform="rotate(78 641.1 270.5)" fill="#9c86bf" opacity="0.19"/>
<ellipse cx="611.1" cy="266.6" rx="2.7" ry="0.8" transform="rotate(81 611.1 266.6)" fill="#9c86bf" opacity="0.17"/>
<ellipse cx="651.7" cy="263.2" rx="2.4" ry="0.7" transform="rotate(39 651.7 263.2)" fill="#9c86bf" opacity="0.24"/>
<ellipse cx="621.3" cy="260.6" rx="2.0" ry="0.6" transform="rotate(45 621.3 260.6)" fill="#9c86bf" opacity="0.10"/>
<ellipse cx="652.7" cy="250.0" rx="1.2" ry="0.8" transform="rotate(21 652.7 250.0)" fill="#9c86bf" opacity="0.24"/>
<ellipse cx="672.8" cy="234.4" rx="2.2" ry="0.7" transform="rotate(24 672.8 234.4)" fill="#9c86bf" opacity="0.19"/>
<ellipse cx="680.3" cy="258.2" rx="2.8" ry="0.9" transform="rotate(140 680.3 258.2)" fill="#9c86bf" opacity="0.10"/>
<ellipse cx="614.7" cy="229.5" rx="2.4" ry="1.1" transform="rotate(32 614.7 229.5)" fill="#9c86bf" opacity="0.16"/>
<ellipse cx="673.3" cy="257.0" rx="1.8" ry="1.1" transform="rotate(140 673.3 257.0)" fill="#9c86bf" opacity="0.09"/>
<ellipse cx="653.2" cy="248.8" rx="2.1" ry="0.8" transform="rotate(143 653.2 248.8)" fill="#9c86bf" opacity="0.21"/>
<ellipse cx="617.0" cy="268.2" rx="1.9" ry="1.0" transform="rotate(39 617.0 268.2)" fill="#9c86bf" opacity="0.14"/>
<ellipse cx="641.7" cy="273.0" rx="2.8" ry="1.0" transform="rotate(56 641.7 273.0)" fill="#9c86bf" opacity="0.15"/>
<ellipse cx="625.5" cy="263.3" rx="2.2" ry="1.0" transform="rotate(73 625.5 263.3)" fill="#9c86bf" opacity="0.08"/>
<ellipse cx="635.5" cy="236.5" rx="1.7" ry="0.7" transform="rotate(62 635.5 236.5)" fill="#9c86bf" opacity="0.23"/>
<ellipse cx="612.3" cy="239.6" rx="2.1" ry="0.7" transform="rotate(118 612.3 239.6)" fill="#9c86bf" opacity="0.21"/>
<ellipse cx="635.9" cy="257.7" rx="1.6" ry="0.8" transform="rotate(146 635.9 257.7)" fill="#9c86bf" opacity="0.10"/>
<ellipse cx="649.7" cy="247.8" rx="2.4" ry="0.6" transform="rotate(118 649.7 247.8)" fill="#9c86bf" opacity="0.17"/>
<ellipse cx="673.9" cy="267.0" rx="2.5" ry="0.8" transform="rotate(51 673.9 267.0)" fill="#9c86bf" opacity="0.22"/>
<ellipse cx="639.9" cy="238.5" rx="1.7" ry="1.1" transform="rotate(25 639.9 238.5)" fill="#9c86bf" opacity="0.23"/>
<ellipse cx="659.6" cy="261.4" rx="2.2" ry="1.0" transform="rotate(7 659.6 261.4)" fill="#9c86bf" opacity="0.17"/>
<ellipse cx="662.0" cy="237.3" rx="2.7" ry="0.5" transform="rotate(77 662.0 237.3)" fill="#9c86bf" opacity="0.11"/>
<ellipse cx="657.6" cy="263.0" rx="1.3" ry="1.1" transform="rotate(82 657.6 263.0)" fill="#9c86bf" opacity="0.23"/>
<ellipse cx="650.8" cy="259.9" rx="1.6" ry="0.7" transform="rotate(70 650.8 259.9)" fill="#9c86bf" opacity="0.24"/>
<ellipse cx="628.1" cy="260.7" rx="2.3" ry="1.1" transform="rotate(153 628.1 260.7)" fill="#9c86bf" opacity="0.18"/>
<ellipse cx="611.1" cy="271.0" rx="2.6" ry="0.9" transform="rotate(61 611.1 271.0)" fill="#9c86bf" opacity="0.09"/>
<ellipse cx="654.0" cy="269.7" rx="1.4" ry="0.5" transform="rotate(52 654.0 269.7)" fill="#9c86bf" opacity="0.23"/>
<ellipse cx="672.5" cy="270.4" rx="2.3" ry="0.9" transform="rotate(102 672.5 270.4)" fill="#9c86bf" opacity="0.17"/>
<ellipse cx="644.4" cy="266.7" rx="1.3" ry="1.0" transform="rotate(85 644.4 266.7)" fill="#9c86bf" opacity="0.21"/>
<ellipse cx="674.8" cy="232.4" rx="1.1" ry="1.0" transform="rotate(3 674.8 232.4)" fill="#9c86bf" opacity="0.18"/>
<ellipse cx="620.1" cy="242.9" rx="2.2" ry="1.1" transform="rotate(136 620.1 242.9)" fill="#9c86bf" opacity="0.15"/>
<ellipse cx="673.4" cy="254.9" rx="2.5" ry="0.9" transform="rotate(4 673.4 254.9)" fill="#9c86bf" opacity="0.23"/>
<ellipse cx="646.5" cy="249.6" rx="2.4" ry="1.1" transform="rotate(82 646.5 249.6)" fill="#9c86bf" opacity="0.17"/>
<ellipse cx="651.1" cy="241.2" rx="1.2" ry="1.0" transform="rotate(36 651.1 241.2)" fill="#9c86bf" opacity="0.10"/>
<ellipse cx="612.2" cy="260.3" rx="1.9" ry="0.9" transform="rotate(106 612.2 260.3)" fill="#9c86bf" opacity="0.20"/>
<ellipse cx="669.5" cy="222.5" rx="1.5" ry="0.6" transform="rotate(70 669.5 222.5)" fill="#9c86bf" opacity="0.09"/>
<ellipse cx="676.3" cy="238.5" rx="2.2" ry="0.5" transform="rotate(107 676.3 238.5)" fill="#9c86bf" opacity="0.19"/>
<ellipse cx="612.2" cy="227.1" rx="1.8" ry="1.0" transform="rotate(26 612.2 227.1)" fill="#9c86bf" opacity="0.17"/>
<ellipse cx="610.7" cy="249.4" rx="2.8" ry="0.6" transform="rotate(92 610.7 249.4)" fill="#9c86bf" opacity="0.15"/>
<ellipse cx="615.9" cy="228.4" rx="2.2" ry="0.7" transform="rotate(106 615.9 228.4)" fill="#9c86bf" opacity="0.12"/>
<ellipse cx="634.6" cy="231.4" rx="2.4" ry="1.1" transform="rotate(163 634.6 231.4)" fill="#9c86bf" opacity="0.13"/>
<ellipse cx="618.3" cy="271.8" rx="2.8" ry="0.7" transform="rotate(133 618.3 271.8)" fill="#9c86bf" opacity="0.19"/>
<ellipse cx="679.8" cy="257.1" rx="1.1" ry="0.8" transform="rotate(3 679.8 257.1)" fill="#9c86bf" opacity="0.22"/>
<ellipse cx="665.3" cy="228.2" rx="1.9" ry="1.0" transform="rotate(63 665.3 228.2)" fill="#9c86bf" opacity="0.17"/>
<ellipse cx="612.2" cy="249.5" rx="1.1" ry="1.1" transform="rotate(159 612.2 249.5)" fill="#9c86bf" opacity="0.16"/>
<ellipse cx="682.3" cy="233.0" rx="2.9" ry="0.9" transform="rotate(79 682.3 233.0)" fill="#9c86bf" opacity="0.24"/>
</g>
<rect x="609.4" y="222.4" width="74.10000000000002" height="50.79999999999998" filter="url(#noise)" opacity="0.25"/>
</g>
<rect x="609.9499999999999" y="222.95000000000002" width="73.00000000000003" height="49.69999999999998" fill="none" stroke="#747474" stroke-width="1.2"/>
<clipPath id="cp20"><rect x="380.3" y="275.6" width="74.30000000000001" height="50.799999999999955"/></clipPath>
<g clip-path="url(#cp20)">
<rect x="380.3" y="275.6" width="74.30000000000001" height="50.799999999999955" fill="url(#g1)"/>
<g filter="url(#bl)">
<circle cx="445.0" cy="313.5" r="0.34" fill="#b86a4e" opacity="0.34"/>
<circle cx="444.4" cy="302.3" r="0.45" fill="#b86a4e" opacity="0.47"/>
<circle cx="427.7" cy="288.7" r="0.52" fill="#b86a4e" opacity="0.58"/>
<circle cx="440.6" cy="296.8" r="0.47" fill="#b86a4e" opacity="0.44"/>
<circle cx="382.8" cy="289.7" r="0.39" fill="#b86a4e" opacity="0.39"/>
<circle cx="414.9" cy="297.7" r="0.27" fill="#b86a4e" opacity="0.31"/>
<circle cx="414.3" cy="306.3" r="0.28" fill="#b86a4e" opacity="0.39"/>
<circle cx="404.1" cy="299.7" r="0.28" fill="#b86a4e" opacity="0.71"/>
<circle cx="397.0" cy="314.5" r="0.49" fill="#b86a4e" opacity="0.67"/>
<circle cx="425.1" cy="298.7" r="0.44" fill="#b86a4e" opacity="0.39"/>
<circle cx="445.3" cy="280.0" r="0.44" fill="#b86a4e" opacity="0.50"/>
<circle cx="441.3" cy="298.2" r="0.44" fill="#b86a4e" opacity="0.61"/>
<circle cx="400.2" cy="326.2" r="0.54" fill="#b86a4e" opacity="0.38"/>
<circle cx="430.1" cy="287.1" r="0.32" fill="#b86a4e" opacity="0.72"/>
<circle cx="443.8" cy="286.9" r="0.33" fill="#b86a4e" opacity="0.74"/>
<circle cx="424.6" cy="299.0" r="0.46" fill="#b86a4e" opacity="0.39"/>
<circle cx="422.3" cy="324.6" r="0.36" fill="#b86a4e" opacity="0.43"/>
<circle cx="427.3" cy="310.6" r="0.50" fill="#b86a4e" opacity="0.58"/>
<circle cx="417.3" cy="318.7" r="0.55" fill="#b86a4e" opacity="0.36"/>
<circle cx="390.9" cy="285.5" r="0.58" fill="#b86a4e" opacity="0.43"/>
<circle cx="444.6" cy="288.1" r="0.33" fill="#b86a4e" opacity="0.44"/>
<circle cx="383.2" cy="315.6" r="0.47" fill="#b86a4e" opacity="0.41"/>
<circle cx="410.5" cy="307.7" r="0.57" fill="#b86a4e" opacity="0.59"/>
<circle cx="421.4" cy="281.3" r="0.46" fill="#b86a4e" opacity="0.68"/>
<circle cx="443.8" cy="290.7" r="0.28" fill="#b86a4e" opacity="0.39"/>
<circle cx="449.3" cy="310.6" r="0.58" fill="#b86a4e" opacity="0.60"/>
<circle cx="398.8" cy="304.1" r="0.49" fill="#b86a4e" opacity="0.54"/>
<circle cx="449.5" cy="288.1" r="0.39" fill="#b86a4e" opacity="0.69"/>
<circle cx="407.5" cy="297.1" r="0.51" fill="#b86a4e" opacity="0.42"/>
<circle cx="436.8" cy="306.5" r="0.56" fill="#b86a4e" opacity="0.60"/>
<circle cx="398.7" cy="323.6" r="0.43" fill="#b86a4e" opacity="0.31"/>
<circle cx="407.4" cy="320.2" r="0.29" fill="#b86a4e" opacity="0.32"/>
<circle cx="420.6" cy="310.4" r="0.49" fill="#b86a4e" opacity="0.35"/>
<circle cx="432.5" cy="322.8" r="0.36" fill="#b86a4e" opacity="0.72"/>
<circle cx="394.3" cy="292.7" r="0.38" fill="#b86a4e" opacity="0.66"/>
<circle cx="424.4" cy="284.9" r="0.56" fill="#b86a4e" opacity="0.31"/>
<circle cx="442.3" cy="302.8" r="0.52" fill="#b86a4e" opacity="0.53"/>
<circle cx="447.7" cy="325.4" r="0.29" fill="#b86a4e" opacity="0.66"/>
<circle cx="424.2" cy="277.8" r="0.36" fill="#b86a4e" opacity="0.35"/>
<circle cx="388.4" cy="287.1" r="0.27" fill="#b86a4e" opacity="0.43"/>
<circle cx="410.4" cy="298.1" r="0.48" fill="#b86a4e" opacity="0.54"/>
<circle cx="447.9" cy="279.6" r="0.41" fill="#b86a4e" opacity="0.74"/>
<circle cx="399.1" cy="280.3" r="0.43" fill="#b86a4e" opacity="0.56"/>
<circle cx="418.8" cy="285.2" r="0.56" fill="#b86a4e" opacity="0.59"/>
<circle cx="426.5" cy="283.0" r="0.52" fill="#b86a4e" opacity="0.63"/>
<circle cx="445.6" cy="291.7" r="0.29" fill="#b86a4e" opacity="0.67"/>
<circle cx="430.2" cy="287.1" r="0.48" fill="#b86a4e" opacity="0.44"/>
<circle cx="393.5" cy="321.2" r="0.46" fill="#b86a4e" opacity="0.61"/>
<circle cx="392.8" cy="277.1" r="0.53" fill="#b86a4e" opacity="0.57"/>
<circle cx="449.7" cy="291.1" r="0.58" fill="#b86a4e" opacity="0.38"/>
<circle cx="410.9" cy="314.0" r="0.49" fill="#b86a4e" opacity="0.38"/>
<circle cx="420.9" cy="308.7" r="0.29" fill="#b86a4e" opacity="0.64"/>
<circle cx="446.4" cy="292.2" r="0.31" fill="#b86a4e" opacity="0.31"/>
<circle cx="423.9" cy="287.2" r="0.52" fill="#b86a4e" opacity="0.47"/>
<circle cx="433.1" cy="300.2" r="0.46" fill="#b86a4e" opacity="0.43"/>
<circle cx="392.0" cy="285.6" r="0.42" fill="#b86a4e" opacity="0.41"/>
<circle cx="443.0" cy="324.7" r="0.51" fill="#b86a4e" opacity="0.60"/>
<circle cx="384.7" cy="304.5" r="0.28" fill="#b86a4e" opacity="0.37"/>
<circle cx="410.3" cy="319.9" r="0.45" fill="#b86a4e" opacity="0.33"/>
<circle cx="417.0" cy="310.1" r="0.47" fill="#b86a4e" opacity="0.72"/>
<circle cx="453.3" cy="323.2" r="0.28" fill="#b86a4e" opacity="0.74"/>
<circle cx="442.8" cy="323.3" r="0.25" fill="#b86a4e" opacity="0.64"/>
<circle cx="402.2" cy="321.5" r="0.29" fill="#b86a4e" opacity="0.53"/>
<circle cx="420.8" cy="299.6" r="0.59" fill="#b86a4e" opacity="0.38"/>
<circle cx="416.4" cy="319.1" r="0.50" fill="#b86a4e" opacity="0.32"/>
<circle cx="442.3" cy="284.1" r="0.55" fill="#b86a4e" opacity="0.71"/>
<circle cx="410.0" cy="293.3" r="0.31" fill="#b86a4e" opacity="0.67"/>
<circle cx="444.4" cy="311.5" r="0.58" fill="#b86a4e" opacity="0.46"/>
<circle cx="387.5" cy="314.5" r="0.44" fill="#b86a4e" opacity="0.46"/>
<circle cx="437.7" cy="302.0" r="0.44" fill="#b86a4e" opacity="0.62"/>
<circle cx="393.2" cy="311.9" r="0.27" fill="#b86a4e" opacity="0.35"/>
<circle cx="402.5" cy="307.8" r="0.40" fill="#b86a4e" opacity="0.60"/>
<circle cx="391.1" cy="315.6" r="0.47" fill="#b86a4e" opacity="0.55"/>
<circle cx="404.3" cy="291.9" r="0.60" fill="#b86a4e" opacity="0.34"/>
<circle cx="454.1" cy="292.8" r="0.34" fill="#b86a4e" opacity="0.65"/>
<circle cx="409.5" cy="281.3" r="0.39" fill="#b86a4e" opacity="0.44"/>
<circle cx="407.2" cy="293.8" r="0.43" fill="#b86a4e" opacity="0.31"/>
<circle cx="383.6" cy="323.6" r="0.58" fill="#b86a4e" opacity="0.48"/>
<circle cx="403.6" cy="291.4" r="0.28" fill="#b86a4e" opacity="0.46"/>
<circle cx="441.7" cy="323.7" r="0.33" fill="#b86a4e" opacity="0.51"/>
<circle cx="392.9" cy="305.4" r="0.40" fill="#b86a4e" opacity="0.50"/>
<circle cx="430.4" cy="315.7" r="0.27" fill="#b86a4e" opacity="0.67"/>
<circle cx="449.8" cy="314.0" r="0.51" fill="#b86a4e" opacity="0.40"/>
<circle cx="449.7" cy="306.3" r="0.46" fill="#b86a4e" opacity="0.40"/>
<circle cx="428.2" cy="289.8" r="0.57" fill="#b86a4e" opacity="0.70"/>
<circle cx="429.1" cy="312.5" r="0.56" fill="#b86a4e" opacity="0.59"/>
<circle cx="393.2" cy="312.5" r="0.33" fill="#b86a4e" opacity="0.67"/>
<circle cx="401.7" cy="324.5" r="0.54" fill="#b86a4e" opacity="0.64"/>
<circle cx="448.2" cy="287.2" r="0.56" fill="#b86a4e" opacity="0.68"/>
<circle cx="442.7" cy="316.0" r="0.53" fill="#b86a4e" opacity="0.66"/>
<circle cx="415.4" cy="324.4" r="0.38" fill="#b86a4e" opacity="0.64"/>
<circle cx="437.8" cy="285.0" r="0.31" fill="#b86a4e" opacity="0.71"/>
<circle cx="429.4" cy="290.2" r="0.51" fill="#b86a4e" opacity="0.52"/>
<circle cx="431.7" cy="299.0" r="0.56" fill="#b86a4e" opacity="0.68"/>
<circle cx="388.2" cy="315.2" r="0.44" fill="#b86a4e" opacity="0.32"/>
<circle cx="405.5" cy="317.3" r="0.40" fill="#b86a4e" opacity="0.38"/>
<circle cx="417.2" cy="280.9" r="0.29" fill="#b86a4e" opacity="0.42"/>
<circle cx="380.6" cy="298.7" r="0.53" fill="#b86a4e" opacity="0.64"/>
<circle cx="433.5" cy="318.0" r="0.60" fill="#b86a4e" opacity="0.45"/>
<circle cx="422.7" cy="308.9" r="0.32" fill="#b86a4e" opacity="0.60"/>
<circle cx="410.5" cy="285.5" r="0.36" fill="#b86a4e" opacity="0.74"/>
<circle cx="410.6" cy="308.3" r="0.50" fill="#b86a4e" opacity="0.43"/>
<circle cx="392.3" cy="323.2" r="0.25" fill="#b86a4e" opacity="0.47"/>
<circle cx="448.2" cy="301.6" r="0.49" fill="#b86a4e" opacity="0.54"/>
<circle cx="424.6" cy="282.7" r="0.52" fill="#b86a4e" opacity="0.42"/>
<circle cx="433.7" cy="325.1" r="0.28" fill="#b86a4e" opacity="0.66"/>
<circle cx="383.8" cy="282.3" r="0.47" fill="#b86a4e" opacity="0.66"/>
<circle cx="428.4" cy="285.5" r="0.54" fill="#b86a4e" opacity="0.40"/>
<circle cx="414.1" cy="324.2" r="0.39" fill="#b86a4e" opacity="0.41"/>
<circle cx="401.9" cy="287.1" r="0.56" fill="#b86a4e" opacity="0.44"/>
<circle cx="383.0" cy="277.2" r="0.51" fill="#b86a4e" opacity="0.57"/>
<circle cx="417.9" cy="286.1" r="0.50" fill="#b86a4e" opacity="0.70"/>
<circle cx="454.4" cy="288.6" r="0.50" fill="#b86a4e" opacity="0.47"/>
<circle cx="417.5" cy="289.3" r="0.29" fill="#b86a4e" opacity="0.66"/>
<circle cx="398.5" cy="275.8" r="0.32" fill="#b86a4e" opacity="0.42"/>
<circle cx="388.3" cy="305.9" r="0.34" fill="#b86a4e" opacity="0.48"/>
<circle cx="423.5" cy="322.4" r="0.31" fill="#b86a4e" opacity="0.45"/>
<circle cx="407.2" cy="302.7" r="0.46" fill="#b86a4e" opacity="0.32"/>
<circle cx="433.8" cy="281.1" r="0.58" fill="#b86a4e" opacity="0.51"/>
<circle cx="408.0" cy="296.8" r="0.43" fill="#b86a4e" opacity="0.52"/>
<circle cx="419.4" cy="290.7" r="0.44" fill="#b86a4e" opacity="0.63"/>
<circle cx="416.0" cy="314.7" r="0.52" fill="#b86a4e" opacity="0.48"/>
<circle cx="423.8" cy="314.6" r="0.37" fill="#b86a4e" opacity="0.65"/>
<circle cx="445.1" cy="296.9" r="0.27" fill="#b86a4e" opacity="0.42"/>
<circle cx="428.4" cy="320.4" r="0.48" fill="#b86a4e" opacity="0.61"/>
<circle cx="425.2" cy="296.0" r="0.52" fill="#b86a4e" opacity="0.67"/>
<circle cx="451.4" cy="319.5" r="0.46" fill="#b86a4e" opacity="0.57"/>
<circle cx="407.9" cy="310.3" r="0.49" fill="#b86a4e" opacity="0.74"/>
<circle cx="411.0" cy="294.7" r="0.43" fill="#b86a4e" opacity="0.53"/>
<circle cx="386.9" cy="310.9" r="0.39" fill="#b86a4e" opacity="0.59"/>
<circle cx="435.1" cy="279.6" r="0.58" fill="#b86a4e" opacity="0.70"/>
<circle cx="447.4" cy="289.8" r="0.49" fill="#b86a4e" opacity="0.63"/>
<circle cx="385.6" cy="281.7" r="0.57" fill="#b86a4e" opacity="0.68"/>
<circle cx="449.9" cy="306.8" r="0.42" fill="#b86a4e" opacity="0.57"/>
<circle cx="450.5" cy="292.9" r="0.30" fill="#b86a4e" opacity="0.70"/>
<circle cx="381.8" cy="311.3" r="0.36" fill="#b86a4e" opacity="0.67"/>
<circle cx="442.9" cy="281.9" r="0.40" fill="#b86a4e" opacity="0.55"/>
<circle cx="383.6" cy="318.0" r="0.41" fill="#b86a4e" opacity="0.47"/>
<circle cx="407.9" cy="283.5" r="0.56" fill="#b86a4e" opacity="0.73"/>
<circle cx="443.2" cy="281.2" r="0.55" fill="#b86a4e" opacity="0.35"/>
<circle cx="406.2" cy="314.2" r="0.48" fill="#b86a4e" opacity="0.36"/>
<circle cx="387.5" cy="304.7" r="0.57" fill="#b86a4e" opacity="0.54"/>
<circle cx="404.1" cy="288.3" r="0.48" fill="#b86a4e" opacity="0.55"/>
<circle cx="424.3" cy="301.7" r="0.45" fill="#b86a4e" opacity="0.63"/>
<circle cx="405.6" cy="295.6" r="0.44" fill="#b86a4e" opacity="0.51"/>
<circle cx="430.0" cy="296.2" r="0.43" fill="#b86a4e" opacity="0.52"/>
<circle cx="454.0" cy="284.2" r="0.39" fill="#b86a4e" opacity="0.66"/>
<circle cx="438.8" cy="276.2" r="0.44" fill="#b86a4e" opacity="0.61"/>
<circle cx="381.9" cy="316.9" r="0.34" fill="#b86a4e" opacity="0.69"/>
<circle cx="451.4" cy="302.3" r="0.47" fill="#b86a4e" opacity="0.58"/>
<circle cx="432.9" cy="287.0" r="0.55" fill="#b86a4e" opacity="0.49"/>
<circle cx="443.9" cy="312.3" r="0.39" fill="#b86a4e" opacity="0.69"/>
<circle cx="415.3" cy="296.5" r="0.26" fill="#b86a4e" opacity="0.37"/>
<circle cx="386.3" cy="305.9" r="0.51" fill="#b86a4e" opacity="0.30"/>
<circle cx="454.3" cy="305.6" r="0.29" fill="#b86a4e" opacity="0.52"/>
<circle cx="409.3" cy="290.0" r="0.58" fill="#b86a4e" opacity="0.75"/>
<circle cx="440.8" cy="322.2" r="0.48" fill="#b86a4e" opacity="0.36"/>
<circle cx="383.6" cy="282.0" r="0.47" fill="#b86a4e" opacity="0.66"/>
<circle cx="434.1" cy="287.0" r="0.40" fill="#b86a4e" opacity="0.32"/>
<circle cx="399.2" cy="307.3" r="0.30" fill="#b86a4e" opacity="0.34"/>
<circle cx="405.3" cy="311.8" r="0.26" fill="#b86a4e" opacity="0.51"/>
<circle cx="404.1" cy="280.4" r="0.29" fill="#b86a4e" opacity="0.60"/>
<circle cx="406.6" cy="297.5" r="0.51" fill="#b86a4e" opacity="0.40"/>
<circle cx="403.7" cy="290.1" r="0.59" fill="#b86a4e" opacity="0.67"/>
<circle cx="415.5" cy="282.2" r="0.50" fill="#b86a4e" opacity="0.58"/>
<circle cx="446.5" cy="311.8" r="0.42" fill="#b86a4e" opacity="0.33"/>
<circle cx="402.5" cy="288.4" r="0.47" fill="#b86a4e" opacity="0.65"/>
<circle cx="449.2" cy="277.6" r="0.39" fill="#b86a4e" opacity="0.57"/>
<circle cx="437.6" cy="313.6" r="0.31" fill="#b86a4e" opacity="0.36"/>
<circle cx="444.9" cy="296.3" r="0.46" fill="#b86a4e" opacity="0.31"/>
<circle cx="442.7" cy="293.2" r="0.49" fill="#b86a4e" opacity="0.33"/>
<circle cx="433.8" cy="290.4" r="0.32" fill="#b86a4e" opacity="0.47"/>
<circle cx="453.5" cy="305.8" r="0.25" fill="#b86a4e" opacity="0.33"/>
<circle cx="439.8" cy="300.2" r="0.39" fill="#b86a4e" opacity="0.71"/>
<circle cx="451.3" cy="325.0" r="0.27" fill="#b86a4e" opacity="0.46"/>
<circle cx="446.5" cy="314.3" r="0.33" fill="#b86a4e" opacity="0.69"/>
<circle cx="449.1" cy="324.1" r="0.52" fill="#b86a4e" opacity="0.32"/>
<circle cx="385.0" cy="321.2" r="0.39" fill="#b86a4e" opacity="0.46"/>
<circle cx="434.9" cy="305.9" r="0.37" fill="#b86a4e" opacity="0.48"/>
<circle cx="410.0" cy="324.5" r="0.30" fill="#b86a4e" opacity="0.51"/>
<circle cx="414.1" cy="319.8" r="0.48" fill="#b86a4e" opacity="0.66"/>
<circle cx="413.4" cy="290.6" r="0.34" fill="#b86a4e" opacity="0.74"/>
<circle cx="390.9" cy="317.1" r="0.27" fill="#b86a4e" opacity="0.41"/>
<circle cx="398.4" cy="324.4" r="0.50" fill="#b86a4e" opacity="0.53"/>
<circle cx="453.1" cy="281.1" r="0.51" fill="#b86a4e" opacity="0.56"/>
<circle cx="419.7" cy="289.6" r="0.39" fill="#b86a4e" opacity="0.35"/>
<circle cx="383.2" cy="309.4" r="0.56" fill="#b86a4e" opacity="0.37"/>
<circle cx="414.7" cy="307.9" r="0.51" fill="#b86a4e" opacity="0.40"/>
<circle cx="408.3" cy="297.8" r="0.59" fill="#b86a4e" opacity="0.37"/>
<circle cx="441.7" cy="315.3" r="0.34" fill="#b86a4e" opacity="0.57"/>
<circle cx="410.0" cy="279.9" r="0.37" fill="#b86a4e" opacity="0.34"/>
<circle cx="428.9" cy="315.8" r="0.28" fill="#b86a4e" opacity="0.48"/>
<circle cx="445.4" cy="306.0" r="0.56" fill="#b86a4e" opacity="0.32"/>
<circle cx="424.3" cy="324.3" r="0.32" fill="#b86a4e" opacity="0.65"/>
<circle cx="402.4" cy="315.0" r="0.40" fill="#b86a4e" opacity="0.53"/>
<circle cx="432.7" cy="302.0" r="0.56" fill="#b86a4e" opacity="0.50"/>
<circle cx="393.1" cy="295.3" r="0.47" fill="#b86a4e" opacity="0.47"/>
<circle cx="426.1" cy="276.2" r="0.27" fill="#b86a4e" opacity="0.68"/>
<circle cx="415.0" cy="285.3" r="0.45" fill="#b86a4e" opacity="0.31"/>
<circle cx="386.4" cy="298.1" r="0.36" fill="#b86a4e" opacity="0.43"/>
<circle cx="386.3" cy="299.6" r="0.36" fill="#b86a4e" opacity="0.63"/>
<circle cx="448.5" cy="314.7" r="0.29" fill="#b86a4e" opacity="0.52"/>
<circle cx="391.4" cy="292.1" r="0.47" fill="#b86a4e" opacity="0.32"/>
<circle cx="389.1" cy="326.4" r="0.37" fill="#b86a4e" opacity="0.73"/>
<circle cx="381.4" cy="288.3" r="0.30" fill="#b86a4e" opacity="0.63"/>
<circle cx="395.6" cy="281.5" r="0.57" fill="#b86a4e" opacity="0.64"/>
<circle cx="413.6" cy="310.6" r="0.59" fill="#b86a4e" opacity="0.62"/>
<circle cx="445.2" cy="284.5" r="0.50" fill="#b86a4e" opacity="0.30"/>
<circle cx="446.9" cy="325.1" r="0.49" fill="#b86a4e" opacity="0.59"/>
<circle cx="397.0" cy="320.8" r="0.48" fill="#b86a4e" opacity="0.75"/>
<circle cx="452.4" cy="284.8" r="0.40" fill="#b86a4e" opacity="0.30"/>
<circle cx="435.7" cy="278.4" r="0.41" fill="#b86a4e" opacity="0.34"/>
<circle cx="425.1" cy="286.6" r="0.29" fill="#b86a4e" opacity="0.46"/>
<circle cx="390.3" cy="310.0" r="0.33" fill="#b86a4e" opacity="0.67"/>
<circle cx="385.1" cy="283.3" r="0.40" fill="#b86a4e" opacity="0.72"/>
<circle cx="451.1" cy="280.8" r="0.44" fill="#b86a4e" opacity="0.63"/>
<circle cx="418.9" cy="295.8" r="0.58" fill="#b86a4e" opacity="0.32"/>
<circle cx="427.2" cy="276.9" r="0.58" fill="#b86a4e" opacity="0.72"/>
<circle cx="443.1" cy="297.7" r="0.35" fill="#b86a4e" opacity="0.53"/>
<circle cx="418.3" cy="296.1" r="0.37" fill="#b86a4e" opacity="0.67"/>
<circle cx="393.7" cy="290.1" r="0.34" fill="#b86a4e" opacity="0.49"/>
<circle cx="412.6" cy="307.2" r="0.40" fill="#b86a4e" opacity="0.73"/>
<circle cx="425.3" cy="288.4" r="0.60" fill="#b86a4e" opacity="0.57"/>
<circle cx="446.0" cy="288.4" r="0.36" fill="#b86a4e" opacity="0.50"/>
<circle cx="425.7" cy="291.1" r="0.57" fill="#b86a4e" opacity="0.39"/>
<circle cx="419.0" cy="310.6" r="0.58" fill="#b86a4e" opacity="0.66"/>
<circle cx="411.3" cy="315.4" r="0.47" fill="#b86a4e" opacity="0.41"/>
<circle cx="381.0" cy="321.0" r="0.40" fill="#b86a4e" opacity="0.55"/>
<circle cx="400.6" cy="325.3" r="0.56" fill="#b86a4e" opacity="0.36"/>
<circle cx="420.1" cy="281.4" r="0.38" fill="#b86a4e" opacity="0.48"/>
<circle cx="445.6" cy="325.3" r="0.34" fill="#b86a4e" opacity="0.37"/>
<circle cx="399.0" cy="296.6" r="0.26" fill="#b86a4e" opacity="0.48"/>
<circle cx="405.5" cy="301.2" r="0.47" fill="#b86a4e" opacity="0.46"/>
<circle cx="408.9" cy="277.8" r="0.45" fill="#b86a4e" opacity="0.38"/>
<circle cx="396.6" cy="299.9" r="0.48" fill="#b86a4e" opacity="0.52"/>
<circle cx="419.8" cy="306.5" r="0.32" fill="#b86a4e" opacity="0.38"/>
<circle cx="432.1" cy="305.3" r="0.39" fill="#b86a4e" opacity="0.62"/>
<circle cx="390.5" cy="296.4" r="0.25" fill="#b86a4e" opacity="0.46"/>
<circle cx="430.9" cy="300.9" r="0.52" fill="#b86a4e" opacity="0.32"/>
<circle cx="423.5" cy="304.2" r="0.40" fill="#b86a4e" opacity="0.58"/>
<circle cx="397.8" cy="306.0" r="0.53" fill="#b86a4e" opacity="0.31"/>
<circle cx="384.8" cy="289.6" r="0.43" fill="#b86a4e" opacity="0.70"/>
<circle cx="426.5" cy="318.6" r="0.38" fill="#b86a4e" opacity="0.62"/>
<circle cx="451.8" cy="316.0" r="0.30" fill="#b86a4e" opacity="0.47"/>
<circle cx="397.0" cy="318.7" r="0.50" fill="#b86a4e" opacity="0.37"/>
<circle cx="424.3" cy="312.7" r="0.51" fill="#b86a4e" opacity="0.69"/>
<circle cx="442.5" cy="319.8" r="0.45" fill="#b86a4e" opacity="0.60"/>
<circle cx="426.1" cy="284.7" r="0.35" fill="#b86a4e" opacity="0.66"/>
<circle cx="405.7" cy="290.2" r="0.37" fill="#b86a4e" opacity="0.67"/>
<circle cx="407.4" cy="277.6" r="0.46" fill="#b86a4e" opacity="0.60"/>
<circle cx="435.9" cy="307.3" r="0.28" fill="#b86a4e" opacity="0.35"/>
<circle cx="416.7" cy="325.9" r="0.56" fill="#b86a4e" opacity="0.56"/>
<circle cx="396.4" cy="314.1" r="0.48" fill="#b86a4e" opacity="0.31"/>
<circle cx="382.9" cy="312.7" r="0.57" fill="#b86a4e" opacity="0.64"/>
<circle cx="402.1" cy="282.4" r="0.31" fill="#b86a4e" opacity="0.50"/>
<circle cx="450.7" cy="294.0" r="0.47" fill="#b86a4e" opacity="0.35"/>
<circle cx="390.3" cy="298.9" r="0.39" fill="#b86a4e" opacity="0.44"/>
<circle cx="430.2" cy="286.3" r="0.33" fill="#b86a4e" opacity="0.47"/>
<circle cx="431.6" cy="294.5" r="0.30" fill="#b86a4e" opacity="0.75"/>
<circle cx="422.7" cy="293.4" r="0.37" fill="#b86a4e" opacity="0.30"/>
<circle cx="424.3" cy="278.6" r="0.53" fill="#b86a4e" opacity="0.60"/>
<circle cx="404.2" cy="312.7" r="0.35" fill="#b86a4e" opacity="0.52"/>
<circle cx="429.8" cy="284.6" r="0.41" fill="#b86a4e" opacity="0.55"/>
<circle cx="437.1" cy="325.7" r="0.36" fill="#b86a4e" opacity="0.62"/>
<circle cx="387.4" cy="298.9" r="0.41" fill="#b86a4e" opacity="0.46"/>
<circle cx="418.8" cy="290.8" r="0.31" fill="#b86a4e" opacity="0.58"/>
<circle cx="410.6" cy="319.1" r="0.57" fill="#b86a4e" opacity="0.69"/>
<circle cx="398.5" cy="294.2" r="0.34" fill="#b86a4e" opacity="0.45"/>
<circle cx="397.5" cy="287.7" r="0.27" fill="#b86a4e" opacity="0.75"/>
<circle cx="433.4" cy="288.3" r="0.53" fill="#b86a4e" opacity="0.50"/>
<circle cx="422.4" cy="309.2" r="0.53" fill="#b86a4e" opacity="0.34"/>
<circle cx="438.2" cy="295.5" r="0.26" fill="#b86a4e" opacity="0.50"/>
<circle cx="434.0" cy="293.1" r="0.49" fill="#b86a4e" opacity="0.34"/>
<circle cx="434.1" cy="308.0" r="0.26" fill="#b86a4e" opacity="0.39"/>
<circle cx="386.8" cy="318.9" r="0.45" fill="#b86a4e" opacity="0.61"/>
<circle cx="387.5" cy="283.4" r="0.56" fill="#b86a4e" opacity="0.31"/>
<circle cx="393.4" cy="306.7" r="0.43" fill="#b86a4e" opacity="0.54"/>
<circle cx="427.7" cy="316.3" r="0.38" fill="#b86a4e" opacity="0.56"/>
<circle cx="390.1" cy="321.1" r="0.56" fill="#b86a4e" opacity="0.33"/>
<circle cx="400.3" cy="280.6" r="0.43" fill="#b86a4e" opacity="0.35"/>
<circle cx="423.2" cy="294.7" r="0.29" fill="#b86a4e" opacity="0.30"/>
<circle cx="394.5" cy="305.7" r="0.29" fill="#b86a4e" opacity="0.46"/>
<circle cx="406.6" cy="301.6" r="0.59" fill="#b86a4e" opacity="0.71"/>
<circle cx="425.9" cy="325.5" r="0.28" fill="#b86a4e" opacity="0.59"/>
<circle cx="440.4" cy="276.5" r="0.58" fill="#b86a4e" opacity="0.61"/>
<circle cx="450.6" cy="287.6" r="0.31" fill="#b86a4e" opacity="0.60"/>
<circle cx="392.1" cy="305.0" r="0.36" fill="#b86a4e" opacity="0.37"/>
<circle cx="394.8" cy="320.5" r="0.30" fill="#b86a4e" opacity="0.34"/>
<circle cx="409.9" cy="286.7" r="0.43" fill="#b86a4e" opacity="0.63"/>
<circle cx="449.6" cy="309.8" r="0.36" fill="#b86a4e" opacity="0.42"/>
<circle cx="412.7" cy="290.3" r="0.44" fill="#b86a4e" opacity="0.50"/>
<circle cx="445.0" cy="315.1" r="0.46" fill="#b86a4e" opacity="0.73"/>
<circle cx="446.8" cy="289.5" r="0.55" fill="#b86a4e" opacity="0.71"/>
<circle cx="437.7" cy="322.0" r="0.27" fill="#b86a4e" opacity="0.72"/>
<circle cx="429.0" cy="285.1" r="0.51" fill="#b86a4e" opacity="0.70"/>
<circle cx="424.0" cy="323.8" r="0.49" fill="#b86a4e" opacity="0.56"/>
<circle cx="442.6" cy="324.8" r="0.54" fill="#b86a4e" opacity="0.55"/>
<circle cx="431.6" cy="288.2" r="0.32" fill="#b86a4e" opacity="0.35"/>
<circle cx="408.0" cy="315.2" r="0.48" fill="#b86a4e" opacity="0.66"/>
<circle cx="401.5" cy="291.6" r="0.56" fill="#b86a4e" opacity="0.35"/>
<circle cx="446.9" cy="317.4" r="0.36" fill="#b86a4e" opacity="0.67"/>
<circle cx="450.4" cy="305.0" r="0.52" fill="#b86a4e" opacity="0.36"/>
<circle cx="450.9" cy="277.7" r="0.47" fill="#b86a4e" opacity="0.64"/>
<circle cx="434.3" cy="288.0" r="0.46" fill="#b86a4e" opacity="0.39"/>
<circle cx="399.9" cy="313.9" r="0.54" fill="#b86a4e" opacity="0.40"/>
<circle cx="439.8" cy="304.9" r="0.41" fill="#b86a4e" opacity="0.47"/>
<circle cx="427.3" cy="305.5" r="0.30" fill="#b86a4e" opacity="0.72"/>
<circle cx="444.2" cy="308.6" r="0.45" fill="#b86a4e" opacity="0.68"/>
<circle cx="424.4" cy="310.7" r="0.39" fill="#b86a4e" opacity="0.37"/>
<circle cx="449.6" cy="323.6" r="0.50" fill="#b86a4e" opacity="0.63"/>
<circle cx="387.0" cy="314.8" r="0.53" fill="#b86a4e" opacity="0.44"/>
<circle cx="405.2" cy="278.2" r="0.42" fill="#b86a4e" opacity="0.72"/>
<circle cx="441.6" cy="300.0" r="0.58" fill="#b86a4e" opacity="0.56"/>
<circle cx="392.4" cy="295.6" r="0.54" fill="#b86a4e" opacity="0.58"/>
<circle cx="393.2" cy="286.2" r="0.49" fill="#b86a4e" opacity="0.54"/>
<circle cx="397.5" cy="286.4" r="0.29" fill="#b86a4e" opacity="0.69"/>
<circle cx="438.8" cy="316.7" r="0.50" fill="#b86a4e" opacity="0.33"/>
<circle cx="386.0" cy="311.8" r="0.47" fill="#b86a4e" opacity="0.67"/>
<circle cx="437.6" cy="297.3" r="0.47" fill="#b86a4e" opacity="0.73"/>
<circle cx="383.6" cy="307.1" r="0.44" fill="#b86a4e" opacity="0.52"/>
<circle cx="429.1" cy="296.3" r="0.30" fill="#b86a4e" opacity="0.63"/>
<circle cx="450.4" cy="300.1" r="0.55" fill="#b86a4e" opacity="0.68"/>
<circle cx="421.7" cy="319.7" r="0.37" fill="#b86a4e" opacity="0.47"/>
<circle cx="416.7" cy="299.0" r="0.30" fill="#b86a4e" opacity="0.34"/>
<circle cx="425.4" cy="286.3" r="0.43" fill="#b86a4e" opacity="0.45"/>
<circle cx="410.9" cy="293.8" r="0.57" fill="#b86a4e" opacity="0.32"/>
<circle cx="389.2" cy="276.2" r="0.30" fill="#b86a4e" opacity="0.58"/>
<circle cx="410.6" cy="322.6" r="0.32" fill="#b86a4e" opacity="0.46"/>
<circle cx="450.1" cy="300.7" r="0.38" fill="#b86a4e" opacity="0.56"/>
<circle cx="451.2" cy="317.7" r="0.40" fill="#b86a4e" opacity="0.68"/>
<circle cx="452.7" cy="293.0" r="0.37" fill="#b86a4e" opacity="0.71"/>
<circle cx="410.6" cy="279.4" r="0.36" fill="#b86a4e" opacity="0.62"/>
<circle cx="395.8" cy="304.2" r="0.29" fill="#b86a4e" opacity="0.50"/>
<circle cx="429.5" cy="279.4" r="0.45" fill="#b86a4e" opacity="0.41"/>
<circle cx="412.8" cy="310.2" r="0.25" fill="#b86a4e" opacity="0.50"/>
<circle cx="420.9" cy="325.5" r="0.43" fill="#b86a4e" opacity="0.70"/>
<circle cx="445.9" cy="319.8" r="0.43" fill="#b86a4e" opacity="0.37"/>
<circle cx="401.0" cy="280.2" r="0.27" fill="#b86a4e" opacity="0.50"/>
<circle cx="433.4" cy="311.5" r="0.52" fill="#b86a4e" opacity="0.39"/>
<circle cx="390.5" cy="277.2" r="0.43" fill="#b86a4e" opacity="0.43"/>
</g>
<rect x="380.3" y="275.6" width="74.30000000000001" height="50.799999999999955" filter="url(#noise)" opacity="0.35"/>
</g>
<rect x="380.85" y="276.15000000000003" width="73.20000000000002" height="49.69999999999995" fill="none" stroke="#747474" stroke-width="1.2"/>
<rect x="404.3" y="292.3" width="17.0" height="13.0" fill="none" stroke="#4a4a4a" stroke-width="0.85"/>
<line x1="421.3" y1="292.3" x2="454.0" y2="276.20000000000005" stroke="#4a4a4a" stroke-width="0.85" />
<line x1="421.3" y1="305.3" x2="454.0" y2="325.79999999999995" stroke="#4a4a4a" stroke-width="0.85" />
<clipPath id="cp21"><rect x="456.9" y="275.6" width="73.89999999999998" height="50.799999999999955"/></clipPath>
<g clip-path="url(#cp21)">
<rect x="456.9" y="275.6" width="73.89999999999998" height="50.799999999999955" fill="url(#g2)"/>
<g filter="url(#bl3)">
<circle cx="511.9" cy="314.0" r="3.3" fill="#eee4ee" opacity="0.6"/>
<circle cx="476.2" cy="301.2" r="4.7" fill="#eee4ee" opacity="0.6"/>
<circle cx="522.5" cy="312.9" r="4.3" fill="#eee4ee" opacity="0.6"/>
<circle cx="506.2" cy="276.9" r="4.2" fill="#eee4ee" opacity="0.6"/>
<circle cx="457.9" cy="276.6" r="3.1" fill="#eee4ee" opacity="0.6"/>
<circle cx="478.9" cy="314.5" r="4.3" fill="#eee4ee" opacity="0.6"/>
<circle cx="473.1" cy="325.1" r="2.6" fill="#eee4ee" opacity="0.6"/>
<circle cx="495.9" cy="317.5" r="2.8" fill="#eee4ee" opacity="0.6"/>
<circle cx="504.1" cy="289.6" r="3.9" fill="#eee4ee" opacity="0.6"/>
<circle cx="458.8" cy="313.3" r="4.0" fill="#eee4ee" opacity="0.6"/>
</g>
<g filter="url(#bl)">
<ellipse cx="488.8" cy="283.7" rx="1.0" ry="0.7" transform="rotate(68 488.8 283.7)" fill="#9c86bf" opacity="0.32"/>
<ellipse cx="475.0" cy="299.0" rx="1.2" ry="0.9" transform="rotate(69 475.0 299.0)" fill="#9c86bf" opacity="0.23"/>
<ellipse cx="467.7" cy="276.0" rx="1.4" ry="0.8" transform="rotate(55 467.7 276.0)" fill="#9c86bf" opacity="0.39"/>
<ellipse cx="510.9" cy="299.1" rx="1.6" ry="1.1" transform="rotate(1 510.9 299.1)" fill="#9c86bf" opacity="0.30"/>
<ellipse cx="464.6" cy="303.7" rx="2.0" ry="0.9" transform="rotate(138 464.6 303.7)" fill="#9c86bf" opacity="0.34"/>
<ellipse cx="526.4" cy="310.5" rx="2.0" ry="0.6" transform="rotate(38 526.4 310.5)" fill="#9c86bf" opacity="0.43"/>
<ellipse cx="473.0" cy="312.0" rx="1.6" ry="1.1" transform="rotate(85 473.0 312.0)" fill="#9c86bf" opacity="0.38"/>
<ellipse cx="482.2" cy="320.6" rx="1.1" ry="0.5" transform="rotate(171 482.2 320.6)" fill="#9c86bf" opacity="0.51"/>
<ellipse cx="480.8" cy="284.0" rx="1.4" ry="0.6" transform="rotate(82 480.8 284.0)" fill="#9c86bf" opacity="0.41"/>
<ellipse cx="489.4" cy="304.3" rx="1.3" ry="0.9" transform="rotate(73 489.4 304.3)" fill="#9c86bf" opacity="0.30"/>
<ellipse cx="488.3" cy="301.4" rx="1.7" ry="1.1" transform="rotate(65 488.3 301.4)" fill="#9c86bf" opacity="0.39"/>
<ellipse cx="469.7" cy="314.9" rx="1.9" ry="0.8" transform="rotate(43 469.7 314.9)" fill="#9c86bf" opacity="0.26"/>
<ellipse cx="486.9" cy="287.8" rx="2.0" ry="0.7" transform="rotate(166 486.9 287.8)" fill="#9c86bf" opacity="0.47"/>
<ellipse cx="496.6" cy="280.4" rx="1.8" ry="0.7" transform="rotate(180 496.6 280.4)" fill="#9c86bf" opacity="0.41"/>
<ellipse cx="506.6" cy="298.5" rx="0.9" ry="0.5" transform="rotate(77 506.6 298.5)" fill="#9c86bf" opacity="0.28"/>
<ellipse cx="457.0" cy="318.3" rx="1.4" ry="0.9" transform="rotate(178 457.0 318.3)" fill="#9c86bf" opacity="0.44"/>
<ellipse cx="485.9" cy="292.7" rx="1.2" ry="0.7" transform="rotate(15 485.9 292.7)" fill="#9c86bf" opacity="0.25"/>
<ellipse cx="480.7" cy="292.9" rx="1.9" ry="0.6" transform="rotate(153 480.7 292.9)" fill="#9c86bf" opacity="0.29"/>
<ellipse cx="458.0" cy="304.8" rx="1.2" ry="0.6" transform="rotate(107 458.0 304.8)" fill="#9c86bf" opacity="0.29"/>
<ellipse cx="469.7" cy="315.0" rx="1.9" ry="1.1" transform="rotate(47 469.7 315.0)" fill="#9c86bf" opacity="0.34"/>
<ellipse cx="490.9" cy="290.0" rx="1.2" ry="0.8" transform="rotate(21 490.9 290.0)" fill="#9c86bf" opacity="0.37"/>
<ellipse cx="485.9" cy="325.7" rx="1.3" ry="0.5" transform="rotate(104 485.9 325.7)" fill="#9c86bf" opacity="0.41"/>
<ellipse cx="522.6" cy="308.3" rx="1.1" ry="0.7" transform="rotate(50 522.6 308.3)" fill="#9c86bf" opacity="0.44"/>
<ellipse cx="497.6" cy="297.0" rx="1.9" ry="1.0" transform="rotate(73 497.6 297.0)" fill="#9c86bf" opacity="0.27"/>
<ellipse cx="470.7" cy="294.5" rx="1.3" ry="0.6" transform="rotate(7 470.7 294.5)" fill="#9c86bf" opacity="0.39"/>
<ellipse cx="490.5" cy="303.7" rx="2.1" ry="1.1" transform="rotate(69 490.5 303.7)" fill="#9c86bf" opacity="0.32"/>
<ellipse cx="509.6" cy="291.1" rx="1.1" ry="0.9" transform="rotate(38 509.6 291.1)" fill="#9c86bf" opacity="0.37"/>
<ellipse cx="512.1" cy="289.4" rx="0.8" ry="0.7" transform="rotate(19 512.1 289.4)" fill="#9c86bf" opacity="0.42"/>
<ellipse cx="461.6" cy="280.3" rx="1.8" ry="1.1" transform="rotate(117 461.6 280.3)" fill="#9c86bf" opacity="0.24"/>
<ellipse cx="480.0" cy="291.2" rx="1.8" ry="0.7" transform="rotate(153 480.0 291.2)" fill="#9c86bf" opacity="0.39"/>
<ellipse cx="461.3" cy="294.4" rx="1.0" ry="1.0" transform="rotate(11 461.3 294.4)" fill="#9c86bf" opacity="0.43"/>
<ellipse cx="475.4" cy="320.8" rx="1.0" ry="0.5" transform="rotate(120 475.4 320.8)" fill="#9c86bf" opacity="0.27"/>
<ellipse cx="466.6" cy="317.4" rx="2.0" ry="1.0" transform="rotate(149 466.6 317.4)" fill="#9c86bf" opacity="0.44"/>
<ellipse cx="484.8" cy="320.8" rx="1.1" ry="1.1" transform="rotate(159 484.8 320.8)" fill="#9c86bf" opacity="0.50"/>
<ellipse cx="484.3" cy="323.5" rx="1.6" ry="0.7" transform="rotate(33 484.3 323.5)" fill="#9c86bf" opacity="0.40"/>
<ellipse cx="518.7" cy="308.7" rx="1.0" ry="0.5" transform="rotate(170 518.7 308.7)" fill="#9c86bf" opacity="0.43"/>
<ellipse cx="465.9" cy="315.5" rx="1.9" ry="0.5" transform="rotate(27 465.9 315.5)" fill="#9c86bf" opacity="0.49"/>
<ellipse cx="505.7" cy="321.4" rx="1.2" ry="0.6" transform="rotate(129 505.7 321.4)" fill="#9c86bf" opacity="0.44"/>
<ellipse cx="484.9" cy="295.9" rx="1.3" ry="0.9" transform="rotate(169 484.9 295.9)" fill="#9c86bf" opacity="0.23"/>
<ellipse cx="502.9" cy="325.5" rx="1.1" ry="0.5" transform="rotate(32 502.9 325.5)" fill="#9c86bf" opacity="0.45"/>
<ellipse cx="516.7" cy="275.9" rx="1.1" ry="0.9" transform="rotate(50 516.7 275.9)" fill="#9c86bf" opacity="0.42"/>
<ellipse cx="516.3" cy="326.2" rx="1.1" ry="1.0" transform="rotate(43 516.3 326.2)" fill="#9c86bf" opacity="0.39"/>
<ellipse cx="474.1" cy="281.2" rx="1.4" ry="0.5" transform="rotate(110 474.1 281.2)" fill="#9c86bf" opacity="0.46"/>
<ellipse cx="483.4" cy="309.8" rx="0.9" ry="0.8" transform="rotate(153 483.4 309.8)" fill="#9c86bf" opacity="0.39"/>
<ellipse cx="483.2" cy="289.6" rx="1.7" ry="1.1" transform="rotate(72 483.2 289.6)" fill="#9c86bf" opacity="0.51"/>
<ellipse cx="483.8" cy="275.8" rx="1.1" ry="0.9" transform="rotate(108 483.8 275.8)" fill="#9c86bf" opacity="0.44"/>
<ellipse cx="477.7" cy="321.8" rx="1.7" ry="1.0" transform="rotate(134 477.7 321.8)" fill="#9c86bf" opacity="0.27"/>
<ellipse cx="459.0" cy="301.4" rx="1.2" ry="0.9" transform="rotate(109 459.0 301.4)" fill="#9c86bf" opacity="0.50"/>
<ellipse cx="520.0" cy="317.0" rx="1.7" ry="0.6" transform="rotate(5 520.0 317.0)" fill="#9c86bf" opacity="0.47"/>
<ellipse cx="471.3" cy="298.7" rx="1.3" ry="0.9" transform="rotate(140 471.3 298.7)" fill="#9c86bf" opacity="0.50"/>
<ellipse cx="503.7" cy="311.7" rx="0.9" ry="0.6" transform="rotate(14 503.7 311.7)" fill="#9c86bf" opacity="0.43"/>
<ellipse cx="503.6" cy="323.9" rx="1.5" ry="0.7" transform="rotate(107 503.6 323.9)" fill="#9c86bf" opacity="0.50"/>
<ellipse cx="513.6" cy="302.1" rx="1.1" ry="0.5" transform="rotate(79 513.6 302.1)" fill="#9c86bf" opacity="0.47"/>
<ellipse cx="528.3" cy="296.4" rx="0.9" ry="0.5" transform="rotate(142 528.3 296.4)" fill="#9c86bf" opacity="0.46"/>
<ellipse cx="511.6" cy="292.9" rx="1.8" ry="0.9" transform="rotate(127 511.6 292.9)" fill="#9c86bf" opacity="0.40"/>
<ellipse cx="525.5" cy="314.7" rx="1.4" ry="0.8" transform="rotate(172 525.5 314.7)" fill="#9c86bf" opacity="0.39"/>
<ellipse cx="529.3" cy="280.8" rx="1.4" ry="0.5" transform="rotate(9 529.3 280.8)" fill="#9c86bf" opacity="0.29"/>
<ellipse cx="512.4" cy="280.1" rx="1.0" ry="1.0" transform="rotate(85 512.4 280.1)" fill="#9c86bf" opacity="0.33"/>
<ellipse cx="528.6" cy="292.7" rx="1.1" ry="1.0" transform="rotate(142 528.6 292.7)" fill="#9c86bf" opacity="0.37"/>
<ellipse cx="506.0" cy="294.5" rx="1.3" ry="0.5" transform="rotate(155 506.0 294.5)" fill="#9c86bf" opacity="0.24"/>
<ellipse cx="500.4" cy="312.4" rx="2.2" ry="0.6" transform="rotate(124 500.4 312.4)" fill="#9c86bf" opacity="0.23"/>
<ellipse cx="529.8" cy="314.0" rx="2.0" ry="0.6" transform="rotate(153 529.8 314.0)" fill="#9c86bf" opacity="0.39"/>
<ellipse cx="468.0" cy="287.8" rx="1.7" ry="0.5" transform="rotate(38 468.0 287.8)" fill="#9c86bf" opacity="0.50"/>
<ellipse cx="530.2" cy="309.2" rx="2.1" ry="1.0" transform="rotate(40 530.2 309.2)" fill="#9c86bf" opacity="0.39"/>
<ellipse cx="480.7" cy="284.5" rx="2.1" ry="0.8" transform="rotate(146 480.7 284.5)" fill="#9c86bf" opacity="0.51"/>
<ellipse cx="478.0" cy="278.6" rx="1.7" ry="0.8" transform="rotate(75 478.0 278.6)" fill="#9c86bf" opacity="0.23"/>
<ellipse cx="473.6" cy="275.7" rx="1.5" ry="1.1" transform="rotate(19 473.6 275.7)" fill="#9c86bf" opacity="0.28"/>
<ellipse cx="467.2" cy="304.9" rx="2.2" ry="1.1" transform="rotate(5 467.2 304.9)" fill="#9c86bf" opacity="0.52"/>
<ellipse cx="512.3" cy="302.0" rx="1.2" ry="0.8" transform="rotate(8 512.3 302.0)" fill="#9c86bf" opacity="0.47"/>
<ellipse cx="484.7" cy="298.1" rx="1.7" ry="1.0" transform="rotate(170 484.7 298.1)" fill="#9c86bf" opacity="0.46"/>
<ellipse cx="525.2" cy="314.2" rx="1.9" ry="0.8" transform="rotate(29 525.2 314.2)" fill="#9c86bf" opacity="0.46"/>
<ellipse cx="514.3" cy="278.6" rx="1.7" ry="1.0" transform="rotate(169 514.3 278.6)" fill="#9c86bf" opacity="0.41"/>
<ellipse cx="485.9" cy="305.1" rx="1.3" ry="0.5" transform="rotate(80 485.9 305.1)" fill="#9c86bf" opacity="0.37"/>
<ellipse cx="493.0" cy="314.9" rx="1.2" ry="0.6" transform="rotate(87 493.0 314.9)" fill="#9c86bf" opacity="0.35"/>
<ellipse cx="460.1" cy="326.4" rx="1.7" ry="1.1" transform="rotate(171 460.1 326.4)" fill="#9c86bf" opacity="0.38"/>
<ellipse cx="478.7" cy="278.8" rx="1.2" ry="0.6" transform="rotate(74 478.7 278.8)" fill="#9c86bf" opacity="0.38"/>
<ellipse cx="523.5" cy="316.9" rx="1.7" ry="0.8" transform="rotate(160 523.5 316.9)" fill="#9c86bf" opacity="0.50"/>
<ellipse cx="509.3" cy="307.1" rx="1.1" ry="0.6" transform="rotate(160 509.3 307.1)" fill="#9c86bf" opacity="0.43"/>
<ellipse cx="482.2" cy="313.3" rx="1.0" ry="0.5" transform="rotate(95 482.2 313.3)" fill="#9c86bf" opacity="0.49"/>
<ellipse cx="494.2" cy="325.3" rx="1.0" ry="0.6" transform="rotate(48 494.2 325.3)" fill="#9c86bf" opacity="0.34"/>
<ellipse cx="529.4" cy="302.0" rx="1.0" ry="1.0" transform="rotate(162 529.4 302.0)" fill="#9c86bf" opacity="0.51"/>
<ellipse cx="469.3" cy="313.0" rx="2.0" ry="0.9" transform="rotate(2 469.3 313.0)" fill="#9c86bf" opacity="0.23"/>
<ellipse cx="528.7" cy="276.4" rx="1.5" ry="0.8" transform="rotate(35 528.7 276.4)" fill="#9c86bf" opacity="0.32"/>
<ellipse cx="458.2" cy="301.0" rx="2.0" ry="0.6" transform="rotate(50 458.2 301.0)" fill="#9c86bf" opacity="0.22"/>
<ellipse cx="485.9" cy="314.7" rx="1.2" ry="1.1" transform="rotate(1 485.9 314.7)" fill="#9c86bf" opacity="0.42"/>
<ellipse cx="459.8" cy="281.8" rx="1.9" ry="1.1" transform="rotate(132 459.8 281.8)" fill="#9c86bf" opacity="0.37"/>
<ellipse cx="530.2" cy="285.5" rx="1.4" ry="0.8" transform="rotate(179 530.2 285.5)" fill="#9c86bf" opacity="0.38"/>
<ellipse cx="488.9" cy="313.3" rx="0.9" ry="0.9" transform="rotate(171 488.9 313.3)" fill="#9c86bf" opacity="0.50"/>
<ellipse cx="488.7" cy="299.9" rx="1.4" ry="0.8" transform="rotate(46 488.7 299.9)" fill="#9c86bf" opacity="0.30"/>
<ellipse cx="457.8" cy="283.8" rx="1.7" ry="0.7" transform="rotate(10 457.8 283.8)" fill="#9c86bf" opacity="0.29"/>
<ellipse cx="505.2" cy="275.8" rx="1.3" ry="0.8" transform="rotate(60 505.2 275.8)" fill="#9c86bf" opacity="0.35"/>
<ellipse cx="458.1" cy="312.9" rx="1.2" ry="0.5" transform="rotate(116 458.1 312.9)" fill="#9c86bf" opacity="0.46"/>
<ellipse cx="459.4" cy="308.2" rx="1.2" ry="0.9" transform="rotate(144 459.4 308.2)" fill="#9c86bf" opacity="0.41"/>
<ellipse cx="510.5" cy="281.0" rx="2.1" ry="0.8" transform="rotate(48 510.5 281.0)" fill="#9c86bf" opacity="0.32"/>
<ellipse cx="498.2" cy="286.1" rx="0.9" ry="0.8" transform="rotate(170 498.2 286.1)" fill="#9c86bf" opacity="0.27"/>
<ellipse cx="492.7" cy="301.6" rx="2.0" ry="1.0" transform="rotate(48 492.7 301.6)" fill="#9c86bf" opacity="0.27"/>
<ellipse cx="460.5" cy="277.7" rx="1.1" ry="1.0" transform="rotate(108 460.5 277.7)" fill="#9c86bf" opacity="0.31"/>
<ellipse cx="522.1" cy="303.1" rx="1.2" ry="1.1" transform="rotate(158 522.1 303.1)" fill="#9c86bf" opacity="0.45"/>
<ellipse cx="473.5" cy="290.4" rx="0.9" ry="0.9" transform="rotate(107 473.5 290.4)" fill="#9c86bf" opacity="0.34"/>
<ellipse cx="458.0" cy="295.7" rx="1.4" ry="0.7" transform="rotate(146 458.0 295.7)" fill="#9c86bf" opacity="0.34"/>
<ellipse cx="489.2" cy="285.1" rx="0.9" ry="0.7" transform="rotate(126 489.2 285.1)" fill="#9c86bf" opacity="0.49"/>
<ellipse cx="505.8" cy="310.5" rx="1.8" ry="0.8" transform="rotate(142 505.8 310.5)" fill="#9c86bf" opacity="0.42"/>
<ellipse cx="473.1" cy="307.0" rx="1.8" ry="0.7" transform="rotate(41 473.1 307.0)" fill="#9c86bf" opacity="0.48"/>
<ellipse cx="508.5" cy="304.5" rx="2.2" ry="0.8" transform="rotate(103 508.5 304.5)" fill="#9c86bf" opacity="0.43"/>
<ellipse cx="520.5" cy="315.9" rx="1.3" ry="0.9" transform="rotate(125 520.5 315.9)" fill="#9c86bf" opacity="0.41"/>
<ellipse cx="476.4" cy="298.9" rx="1.4" ry="1.1" transform="rotate(30 476.4 298.9)" fill="#9c86bf" opacity="0.26"/>
<ellipse cx="529.0" cy="285.6" rx="1.5" ry="1.0" transform="rotate(37 529.0 285.6)" fill="#9c86bf" opacity="0.50"/>
<ellipse cx="506.8" cy="302.9" rx="2.0" ry="0.9" transform="rotate(121 506.8 302.9)" fill="#9c86bf" opacity="0.30"/>
<ellipse cx="499.8" cy="288.9" rx="1.8" ry="1.0" transform="rotate(73 499.8 288.9)" fill="#9c86bf" opacity="0.34"/>
<ellipse cx="511.9" cy="296.4" rx="1.3" ry="0.7" transform="rotate(140 511.9 296.4)" fill="#9c86bf" opacity="0.50"/>
<ellipse cx="465.3" cy="305.4" rx="1.3" ry="0.6" transform="rotate(40 465.3 305.4)" fill="#9c86bf" opacity="0.51"/>
<ellipse cx="510.9" cy="325.9" rx="0.9" ry="0.5" transform="rotate(92 510.9 325.9)" fill="#9c86bf" opacity="0.51"/>
<ellipse cx="461.0" cy="286.8" rx="1.8" ry="0.6" transform="rotate(61 461.0 286.8)" fill="#9c86bf" opacity="0.30"/>
<ellipse cx="457.1" cy="296.8" rx="1.5" ry="0.6" transform="rotate(93 457.1 296.8)" fill="#9c86bf" opacity="0.36"/>
<ellipse cx="528.2" cy="295.1" rx="1.9" ry="1.1" transform="rotate(5 528.2 295.1)" fill="#9c86bf" opacity="0.50"/>
<ellipse cx="496.3" cy="289.1" rx="1.5" ry="0.8" transform="rotate(61 496.3 289.1)" fill="#9c86bf" opacity="0.44"/>
<ellipse cx="463.2" cy="293.6" rx="1.7" ry="0.7" transform="rotate(61 463.2 293.6)" fill="#9c86bf" opacity="0.44"/>
<ellipse cx="492.1" cy="305.3" rx="1.5" ry="0.5" transform="rotate(28 492.1 305.3)" fill="#9c86bf" opacity="0.34"/>
<ellipse cx="459.3" cy="290.4" rx="1.7" ry="0.8" transform="rotate(72 459.3 290.4)" fill="#9c86bf" opacity="0.28"/>
<ellipse cx="460.2" cy="292.2" rx="0.8" ry="0.7" transform="rotate(112 460.2 292.2)" fill="#9c86bf" opacity="0.38"/>
<ellipse cx="460.2" cy="307.6" rx="2.0" ry="0.5" transform="rotate(14 460.2 307.6)" fill="#9c86bf" opacity="0.26"/>
<ellipse cx="493.6" cy="282.4" rx="1.7" ry="0.7" transform="rotate(138 493.6 282.4)" fill="#9c86bf" opacity="0.35"/>
<ellipse cx="525.4" cy="290.2" rx="2.0" ry="0.9" transform="rotate(58 525.4 290.2)" fill="#9c86bf" opacity="0.49"/>
<ellipse cx="459.2" cy="310.1" rx="0.9" ry="1.0" transform="rotate(18 459.2 310.1)" fill="#9c86bf" opacity="0.27"/>
<ellipse cx="463.7" cy="317.7" rx="1.5" ry="0.8" transform="rotate(96 463.7 317.7)" fill="#9c86bf" opacity="0.45"/>
<ellipse cx="478.8" cy="288.6" rx="2.1" ry="0.7" transform="rotate(44 478.8 288.6)" fill="#9c86bf" opacity="0.37"/>
<ellipse cx="513.6" cy="282.5" rx="1.2" ry="0.9" transform="rotate(32 513.6 282.5)" fill="#9c86bf" opacity="0.23"/>
<ellipse cx="475.0" cy="281.8" rx="1.2" ry="0.8" transform="rotate(6 475.0 281.8)" fill="#9c86bf" opacity="0.42"/>
<ellipse cx="485.9" cy="318.9" rx="0.9" ry="0.5" transform="rotate(82 485.9 318.9)" fill="#9c86bf" opacity="0.50"/>
<ellipse cx="514.0" cy="325.9" rx="1.1" ry="1.1" transform="rotate(7 514.0 325.9)" fill="#9c86bf" opacity="0.44"/>
<ellipse cx="508.9" cy="284.8" rx="0.9" ry="1.0" transform="rotate(122 508.9 284.8)" fill="#9c86bf" opacity="0.41"/>
<ellipse cx="524.7" cy="287.7" rx="0.9" ry="1.1" transform="rotate(36 524.7 287.7)" fill="#9c86bf" opacity="0.28"/>
<ellipse cx="517.3" cy="296.0" rx="1.0" ry="0.8" transform="rotate(108 517.3 296.0)" fill="#9c86bf" opacity="0.27"/>
<ellipse cx="526.4" cy="280.9" rx="0.9" ry="0.9" transform="rotate(8 526.4 280.9)" fill="#9c86bf" opacity="0.36"/>
<ellipse cx="475.9" cy="307.3" rx="1.0" ry="0.6" transform="rotate(167 475.9 307.3)" fill="#9c86bf" opacity="0.44"/>
<ellipse cx="496.1" cy="311.4" rx="1.1" ry="0.8" transform="rotate(124 496.1 311.4)" fill="#9c86bf" opacity="0.25"/>
<ellipse cx="495.2" cy="283.3" rx="1.2" ry="0.9" transform="rotate(179 495.2 283.3)" fill="#9c86bf" opacity="0.51"/>
<ellipse cx="516.6" cy="277.7" rx="1.9" ry="0.6" transform="rotate(131 516.6 277.7)" fill="#9c86bf" opacity="0.27"/>
<ellipse cx="510.6" cy="284.6" rx="2.0" ry="0.9" transform="rotate(3 510.6 284.6)" fill="#9c86bf" opacity="0.42"/>
<ellipse cx="503.8" cy="316.0" rx="1.7" ry="1.0" transform="rotate(45 503.8 316.0)" fill="#9c86bf" opacity="0.49"/>
<ellipse cx="477.3" cy="286.9" rx="2.0" ry="0.5" transform="rotate(7 477.3 286.9)" fill="#9c86bf" opacity="0.47"/>
<ellipse cx="493.0" cy="303.3" rx="1.5" ry="0.8" transform="rotate(41 493.0 303.3)" fill="#9c86bf" opacity="0.40"/>
<ellipse cx="516.3" cy="287.1" rx="1.0" ry="0.5" transform="rotate(95 516.3 287.1)" fill="#9c86bf" opacity="0.28"/>
<ellipse cx="470.3" cy="325.4" rx="2.0" ry="0.7" transform="rotate(162 470.3 325.4)" fill="#9c86bf" opacity="0.36"/>
<ellipse cx="496.4" cy="286.9" rx="1.2" ry="1.1" transform="rotate(5 496.4 286.9)" fill="#9c86bf" opacity="0.24"/>
<ellipse cx="518.8" cy="305.9" rx="1.5" ry="1.1" transform="rotate(178 518.8 305.9)" fill="#9c86bf" opacity="0.29"/>
<ellipse cx="488.4" cy="289.6" rx="1.2" ry="0.9" transform="rotate(46 488.4 289.6)" fill="#9c86bf" opacity="0.29"/>
<ellipse cx="498.9" cy="318.3" rx="1.4" ry="0.7" transform="rotate(108 498.9 318.3)" fill="#9c86bf" opacity="0.36"/>
<ellipse cx="496.8" cy="304.8" rx="1.6" ry="1.1" transform="rotate(26 496.8 304.8)" fill="#9c86bf" opacity="0.31"/>
<ellipse cx="464.0" cy="320.1" rx="0.9" ry="0.9" transform="rotate(115 464.0 320.1)" fill="#9c86bf" opacity="0.36"/>
<ellipse cx="467.5" cy="304.5" rx="1.3" ry="0.9" transform="rotate(36 467.5 304.5)" fill="#9c86bf" opacity="0.25"/>
<ellipse cx="507.4" cy="322.3" rx="1.6" ry="0.9" transform="rotate(171 507.4 322.3)" fill="#9c86bf" opacity="0.30"/>
<ellipse cx="521.9" cy="315.2" rx="0.8" ry="1.0" transform="rotate(109 521.9 315.2)" fill="#9c86bf" opacity="0.29"/>
<ellipse cx="521.4" cy="306.9" rx="1.5" ry="0.8" transform="rotate(172 521.4 306.9)" fill="#9c86bf" opacity="0.28"/>
<ellipse cx="478.0" cy="300.4" rx="1.2" ry="0.5" transform="rotate(22 478.0 300.4)" fill="#9c86bf" opacity="0.50"/>
<ellipse cx="503.6" cy="305.7" rx="1.4" ry="0.8" transform="rotate(168 503.6 305.7)" fill="#9c86bf" opacity="0.28"/>
<ellipse cx="510.0" cy="287.8" rx="1.1" ry="0.7" transform="rotate(102 510.0 287.8)" fill="#9c86bf" opacity="0.42"/>
<ellipse cx="461.0" cy="290.6" rx="1.6" ry="0.5" transform="rotate(102 461.0 290.6)" fill="#9c86bf" opacity="0.52"/>
<ellipse cx="501.8" cy="279.8" rx="1.6" ry="0.7" transform="rotate(134 501.8 279.8)" fill="#9c86bf" opacity="0.37"/>
<ellipse cx="482.4" cy="275.6" rx="1.2" ry="0.5" transform="rotate(35 482.4 275.6)" fill="#9c86bf" opacity="0.49"/>
<ellipse cx="485.3" cy="326.0" rx="1.1" ry="0.6" transform="rotate(66 485.3 326.0)" fill="#9c86bf" opacity="0.25"/>
<ellipse cx="495.2" cy="279.4" rx="0.8" ry="1.1" transform="rotate(65 495.2 279.4)" fill="#9c86bf" opacity="0.43"/>
<ellipse cx="510.0" cy="298.3" rx="1.4" ry="0.9" transform="rotate(44 510.0 298.3)" fill="#9c86bf" opacity="0.28"/>
<ellipse cx="502.2" cy="320.0" rx="1.2" ry="0.6" transform="rotate(54 502.2 320.0)" fill="#9c86bf" opacity="0.40"/>
<ellipse cx="510.7" cy="296.5" rx="1.0" ry="0.7" transform="rotate(17 510.7 296.5)" fill="#9c86bf" opacity="0.26"/>
<ellipse cx="490.0" cy="310.2" rx="1.8" ry="0.9" transform="rotate(134 490.0 310.2)" fill="#9c86bf" opacity="0.22"/>
<ellipse cx="485.2" cy="293.2" rx="1.7" ry="0.8" transform="rotate(7 485.2 293.2)" fill="#9c86bf" opacity="0.40"/>
<ellipse cx="466.3" cy="311.4" rx="1.1" ry="0.9" transform="rotate(93 466.3 311.4)" fill="#9c86bf" opacity="0.48"/>
<ellipse cx="523.9" cy="322.7" rx="1.6" ry="1.0" transform="rotate(115 523.9 322.7)" fill="#9c86bf" opacity="0.31"/>
<ellipse cx="507.3" cy="284.8" rx="2.1" ry="0.5" transform="rotate(170 507.3 284.8)" fill="#9c86bf" opacity="0.28"/>
<ellipse cx="486.4" cy="281.0" rx="1.6" ry="0.8" transform="rotate(158 486.4 281.0)" fill="#9c86bf" opacity="0.28"/>
<ellipse cx="527.2" cy="293.8" rx="1.2" ry="0.5" transform="rotate(5 527.2 293.8)" fill="#9c86bf" opacity="0.22"/>
<ellipse cx="493.8" cy="317.3" rx="2.1" ry="1.1" transform="rotate(112 493.8 317.3)" fill="#9c86bf" opacity="0.30"/>
<ellipse cx="517.1" cy="295.6" rx="1.7" ry="0.5" transform="rotate(90 517.1 295.6)" fill="#9c86bf" opacity="0.42"/>
<ellipse cx="458.2" cy="303.8" rx="1.8" ry="0.5" transform="rotate(126 458.2 303.8)" fill="#9c86bf" opacity="0.44"/>
<ellipse cx="475.5" cy="286.4" rx="1.7" ry="1.1" transform="rotate(42 475.5 286.4)" fill="#9c86bf" opacity="0.45"/>
<ellipse cx="459.8" cy="308.4" rx="1.3" ry="1.1" transform="rotate(135 459.8 308.4)" fill="#9c86bf" opacity="0.30"/>
<ellipse cx="483.6" cy="313.6" rx="1.2" ry="0.7" transform="rotate(78 483.6 313.6)" fill="#9c86bf" opacity="0.37"/>
<ellipse cx="483.0" cy="303.6" rx="1.4" ry="1.0" transform="rotate(100 483.0 303.6)" fill="#9c86bf" opacity="0.33"/>
<ellipse cx="483.4" cy="318.2" rx="1.5" ry="0.5" transform="rotate(105 483.4 318.2)" fill="#9c86bf" opacity="0.31"/>
<ellipse cx="507.3" cy="276.1" rx="1.3" ry="0.5" transform="rotate(16 507.3 276.1)" fill="#9c86bf" opacity="0.38"/>
<ellipse cx="462.7" cy="276.5" rx="1.3" ry="0.8" transform="rotate(102 462.7 276.5)" fill="#9c86bf" opacity="0.40"/>
<ellipse cx="519.4" cy="323.1" rx="1.5" ry="0.5" transform="rotate(35 519.4 323.1)" fill="#9c86bf" opacity="0.34"/>
<ellipse cx="474.4" cy="326.0" rx="1.7" ry="0.7" transform="rotate(77 474.4 326.0)" fill="#9c86bf" opacity="0.33"/>
<ellipse cx="460.9" cy="307.4" rx="1.2" ry="0.6" transform="rotate(31 460.9 307.4)" fill="#9c86bf" opacity="0.44"/>
<ellipse cx="492.5" cy="313.3" rx="0.8" ry="0.8" transform="rotate(74 492.5 313.3)" fill="#9c86bf" opacity="0.40"/>
<ellipse cx="487.7" cy="283.0" rx="2.2" ry="1.1" transform="rotate(62 487.7 283.0)" fill="#9c86bf" opacity="0.29"/>
<ellipse cx="487.4" cy="292.3" rx="1.4" ry="0.7" transform="rotate(68 487.4 292.3)" fill="#9c86bf" opacity="0.51"/>
<ellipse cx="458.9" cy="298.5" rx="0.8" ry="1.0" transform="rotate(136 458.9 298.5)" fill="#9c86bf" opacity="0.30"/>
<ellipse cx="517.0" cy="283.1" rx="1.8" ry="1.1" transform="rotate(28 517.0 283.1)" fill="#9c86bf" opacity="0.27"/>
<ellipse cx="518.6" cy="306.5" rx="1.8" ry="1.0" transform="rotate(165 518.6 306.5)" fill="#9c86bf" opacity="0.33"/>
<ellipse cx="503.2" cy="303.2" rx="1.3" ry="0.8" transform="rotate(116 503.2 303.2)" fill="#9c86bf" opacity="0.42"/>
<ellipse cx="519.4" cy="318.9" rx="1.5" ry="0.5" transform="rotate(56 519.4 318.9)" fill="#9c86bf" opacity="0.32"/>
<ellipse cx="488.9" cy="281.8" rx="1.2" ry="1.0" transform="rotate(36 488.9 281.8)" fill="#9c86bf" opacity="0.40"/>
<ellipse cx="519.8" cy="293.5" rx="1.3" ry="0.5" transform="rotate(129 519.8 293.5)" fill="#9c86bf" opacity="0.44"/>
<ellipse cx="513.8" cy="281.4" rx="2.0" ry="0.5" transform="rotate(146 513.8 281.4)" fill="#9c86bf" opacity="0.36"/>
<ellipse cx="495.8" cy="299.2" rx="2.0" ry="0.7" transform="rotate(118 495.8 299.2)" fill="#9c86bf" opacity="0.37"/>
<ellipse cx="490.7" cy="324.7" rx="1.8" ry="1.0" transform="rotate(11 490.7 324.7)" fill="#9c86bf" opacity="0.25"/>
<ellipse cx="460.7" cy="321.0" rx="0.9" ry="0.8" transform="rotate(4 460.7 321.0)" fill="#9c86bf" opacity="0.46"/>
<ellipse cx="460.8" cy="289.4" rx="1.8" ry="0.9" transform="rotate(15 460.8 289.4)" fill="#9c86bf" opacity="0.41"/>
</g>
<g filter="url(#bl)">
<ellipse cx="523.7" cy="316.6" rx="1.2" ry="0.8" transform="rotate(175 523.7 316.6)" fill="#b0602f" opacity="0.71"/>
<ellipse cx="525.2" cy="306.1" rx="1.3" ry="0.9" transform="rotate(102 525.2 306.1)" fill="#b0602f" opacity="0.86"/>
<ellipse cx="493.9" cy="310.1" rx="1.2" ry="0.9" transform="rotate(54 493.9 310.1)" fill="#b0602f" opacity="0.64"/>
<ellipse cx="527.7" cy="280.4" rx="1.5" ry="1.0" transform="rotate(33 527.7 280.4)" fill="#b0602f" opacity="0.78"/>
<ellipse cx="493.5" cy="297.6" rx="1.6" ry="1.1" transform="rotate(178 493.5 297.6)" fill="#b0602f" opacity="0.54"/>
<ellipse cx="474.9" cy="293.8" rx="1.0" ry="0.7" transform="rotate(155 474.9 293.8)" fill="#b0602f" opacity="0.57"/>
</g>
<rect x="456.9" y="275.6" width="73.89999999999998" height="50.799999999999955" filter="url(#noise)" opacity="0.25"/>
</g>
<rect x="457.45" y="276.15000000000003" width="72.79999999999998" height="49.69999999999995" fill="none" stroke="#747474" stroke-width="1.2"/>
<clipPath id="cp22"><rect x="533.3" y="275.6" width="73.80000000000007" height="50.799999999999955"/></clipPath>
<g clip-path="url(#cp22)">
<rect x="533.3" y="275.6" width="73.80000000000007" height="50.799999999999955" fill="url(#g3)"/>
<g filter="url(#bl)">
<circle cx="602.0" cy="283.0" r="0.27" fill="#8a5a70" opacity="0.6"/>
<circle cx="566.9" cy="290.9" r="0.52" fill="#8a5a70" opacity="0.6"/>
<circle cx="560.5" cy="281.9" r="0.34" fill="#8a5a70" opacity="0.6"/>
<circle cx="571.6" cy="307.4" r="0.38" fill="#8a5a70" opacity="0.6"/>
<circle cx="592.4" cy="312.9" r="0.33" fill="#8a5a70" opacity="0.6"/>
<circle cx="549.9" cy="320.6" r="0.53" fill="#8a5a70" opacity="0.6"/>
<circle cx="575.2" cy="313.7" r="0.30" fill="#8a5a70" opacity="0.6"/>
<circle cx="562.6" cy="291.4" r="0.43" fill="#8a5a70" opacity="0.6"/>
<circle cx="562.6" cy="289.8" r="0.33" fill="#8a5a70" opacity="0.6"/>
<circle cx="592.6" cy="281.3" r="0.49" fill="#8a5a70" opacity="0.6"/>
<circle cx="584.8" cy="313.8" r="0.44" fill="#8a5a70" opacity="0.6"/>
<circle cx="548.0" cy="307.3" r="0.37" fill="#8a5a70" opacity="0.6"/>
<circle cx="559.9" cy="285.3" r="0.28" fill="#8a5a70" opacity="0.6"/>
<circle cx="587.7" cy="318.9" r="0.54" fill="#8a5a70" opacity="0.6"/>
<circle cx="548.6" cy="324.6" r="0.28" fill="#8a5a70" opacity="0.6"/>
<circle cx="579.3" cy="325.6" r="0.36" fill="#8a5a70" opacity="0.6"/>
<circle cx="582.8" cy="282.8" r="0.42" fill="#8a5a70" opacity="0.6"/>
<circle cx="543.1" cy="291.5" r="0.48" fill="#8a5a70" opacity="0.6"/>
<circle cx="544.9" cy="301.6" r="0.26" fill="#8a5a70" opacity="0.6"/>
<circle cx="591.9" cy="321.8" r="0.41" fill="#8a5a70" opacity="0.6"/>
<circle cx="545.9" cy="291.3" r="0.37" fill="#8a5a70" opacity="0.6"/>
<circle cx="580.3" cy="315.2" r="0.28" fill="#8a5a70" opacity="0.6"/>
<circle cx="534.8" cy="308.6" r="0.33" fill="#8a5a70" opacity="0.6"/>
<circle cx="559.0" cy="310.6" r="0.45" fill="#8a5a70" opacity="0.6"/>
<circle cx="543.9" cy="308.8" r="0.37" fill="#8a5a70" opacity="0.6"/>
</g>
<rect x="533.3" y="275.6" width="73.80000000000007" height="50.799999999999955" filter="url(#noise)" opacity="0.35"/>
</g>
<rect x="533.8499999999999" y="276.15000000000003" width="72.70000000000007" height="49.69999999999995" fill="none" stroke="#747474" stroke-width="1.2"/>
<rect x="564.4" y="288.1" width="16.899999999999977" height="13.199999999999989" fill="none" stroke="#4a4a4a" stroke-width="0.85"/>
<line x1="581.3" y1="288.1" x2="606.5" y2="276.20000000000005" stroke="#4a4a4a" stroke-width="0.85" />
<line x1="581.3" y1="301.3" x2="606.5" y2="325.79999999999995" stroke="#4a4a4a" stroke-width="0.85" />
<clipPath id="cp23"><rect x="609.4" y="275.6" width="74.10000000000002" height="50.799999999999955"/></clipPath>
<g clip-path="url(#cp23)">
<rect x="609.4" y="275.6" width="74.10000000000002" height="50.799999999999955" fill="url(#g4)"/>
<g filter="url(#bl3)">
<circle cx="622.3" cy="286.5" r="2.6" fill="#eee4ee" opacity="0.6"/>
<circle cx="611.5" cy="299.5" r="2.8" fill="#eee4ee" opacity="0.6"/>
<circle cx="647.5" cy="292.9" r="2.8" fill="#eee4ee" opacity="0.6"/>
<circle cx="649.0" cy="278.6" r="4.8" fill="#eee4ee" opacity="0.6"/>
<circle cx="661.0" cy="325.5" r="3.2" fill="#eee4ee" opacity="0.6"/>
<circle cx="640.9" cy="281.4" r="4.2" fill="#eee4ee" opacity="0.6"/>
</g>
<g filter="url(#bl2)">
<ellipse cx="664.3" cy="280.7" rx="2.2" ry="0.9" transform="rotate(100 664.3 280.7)" fill="#9c86bf" opacity="0.14"/>
<ellipse cx="674.4" cy="305.9" rx="1.9" ry="1.1" transform="rotate(177 674.4 305.9)" fill="#9c86bf" opacity="0.18"/>
<ellipse cx="657.5" cy="311.6" rx="2.7" ry="1.0" transform="rotate(102 657.5 311.6)" fill="#9c86bf" opacity="0.16"/>
<ellipse cx="655.8" cy="297.2" rx="1.8" ry="0.7" transform="rotate(149 655.8 297.2)" fill="#9c86bf" opacity="0.16"/>
<ellipse cx="648.0" cy="293.5" rx="2.5" ry="0.8" transform="rotate(149 648.0 293.5)" fill="#9c86bf" opacity="0.22"/>
<ellipse cx="615.0" cy="311.3" rx="1.2" ry="0.7" transform="rotate(30 615.0 311.3)" fill="#9c86bf" opacity="0.09"/>
<ellipse cx="674.3" cy="319.5" rx="1.5" ry="0.8" transform="rotate(56 674.3 319.5)" fill="#9c86bf" opacity="0.13"/>
<ellipse cx="670.3" cy="288.2" rx="2.4" ry="0.6" transform="rotate(99 670.3 288.2)" fill="#9c86bf" opacity="0.14"/>
<ellipse cx="679.0" cy="299.1" rx="2.0" ry="0.9" transform="rotate(2 679.0 299.1)" fill="#9c86bf" opacity="0.23"/>
<ellipse cx="648.0" cy="316.5" rx="2.4" ry="0.7" transform="rotate(136 648.0 316.5)" fill="#9c86bf" opacity="0.23"/>
<ellipse cx="666.4" cy="322.9" rx="1.4" ry="0.5" transform="rotate(141 666.4 322.9)" fill="#9c86bf" opacity="0.25"/>
<ellipse cx="671.9" cy="324.2" rx="2.6" ry="0.5" transform="rotate(155 671.9 324.2)" fill="#9c86bf" opacity="0.15"/>
<ellipse cx="670.3" cy="286.1" rx="1.8" ry="0.8" transform="rotate(60 670.3 286.1)" fill="#9c86bf" opacity="0.14"/>
<ellipse cx="675.7" cy="313.8" rx="2.7" ry="0.5" transform="rotate(60 675.7 313.8)" fill="#9c86bf" opacity="0.25"/>
<ellipse cx="682.0" cy="322.1" rx="1.4" ry="0.8" transform="rotate(179 682.0 322.1)" fill="#9c86bf" opacity="0.14"/>
<ellipse cx="636.8" cy="314.1" rx="2.7" ry="0.6" transform="rotate(70 636.8 314.1)" fill="#9c86bf" opacity="0.10"/>
<ellipse cx="659.8" cy="310.6" rx="2.1" ry="1.0" transform="rotate(85 659.8 310.6)" fill="#9c86bf" opacity="0.25"/>
<ellipse cx="657.0" cy="279.4" rx="1.7" ry="0.5" transform="rotate(79 657.0 279.4)" fill="#9c86bf" opacity="0.09"/>
<ellipse cx="620.8" cy="310.1" rx="2.5" ry="0.7" transform="rotate(160 620.8 310.1)" fill="#9c86bf" opacity="0.15"/>
<ellipse cx="630.9" cy="302.4" rx="2.6" ry="0.5" transform="rotate(179 630.9 302.4)" fill="#9c86bf" opacity="0.09"/>
<ellipse cx="631.1" cy="285.6" rx="2.8" ry="0.8" transform="rotate(90 631.1 285.6)" fill="#9c86bf" opacity="0.20"/>
<ellipse cx="682.6" cy="287.0" rx="1.9" ry="0.9" transform="rotate(90 682.6 287.0)" fill="#9c86bf" opacity="0.24"/>
<ellipse cx="661.9" cy="310.2" rx="1.2" ry="0.7" transform="rotate(10 661.9 310.2)" fill="#9c86bf" opacity="0.09"/>
<ellipse cx="642.9" cy="322.8" rx="2.8" ry="1.1" transform="rotate(12 642.9 322.8)" fill="#9c86bf" opacity="0.23"/>
<ellipse cx="682.6" cy="288.4" rx="1.8" ry="0.8" transform="rotate(45 682.6 288.4)" fill="#9c86bf" opacity="0.11"/>
<ellipse cx="621.1" cy="315.7" rx="1.9" ry="1.0" transform="rotate(174 621.1 315.7)" fill="#9c86bf" opacity="0.18"/>
<ellipse cx="649.2" cy="292.0" rx="1.1" ry="0.5" transform="rotate(180 649.2 292.0)" fill="#9c86bf" opacity="0.12"/>
<ellipse cx="614.5" cy="278.9" rx="2.4" ry="1.0" transform="rotate(154 614.5 278.9)" fill="#9c86bf" opacity="0.16"/>
<ellipse cx="677.1" cy="326.2" rx="2.0" ry="0.5" transform="rotate(176 677.1 326.2)" fill="#9c86bf" opacity="0.15"/>
<ellipse cx="651.7" cy="293.7" rx="2.5" ry="0.9" transform="rotate(20 651.7 293.7)" fill="#9c86bf" opacity="0.12"/>
<ellipse cx="662.9" cy="294.8" rx="2.6" ry="0.5" transform="rotate(155 662.9 294.8)" fill="#9c86bf" opacity="0.12"/>
<ellipse cx="642.9" cy="309.1" rx="1.6" ry="1.1" transform="rotate(153 642.9 309.1)" fill="#9c86bf" opacity="0.23"/>
<ellipse cx="623.5" cy="299.3" rx="1.1" ry="0.7" transform="rotate(122 623.5 299.3)" fill="#9c86bf" opacity="0.19"/>
<ellipse cx="651.7" cy="300.3" rx="2.1" ry="0.5" transform="rotate(5 651.7 300.3)" fill="#9c86bf" opacity="0.21"/>
<ellipse cx="643.4" cy="285.0" rx="1.8" ry="0.8" transform="rotate(122 643.4 285.0)" fill="#9c86bf" opacity="0.21"/>
<ellipse cx="612.2" cy="306.1" rx="1.8" ry="0.7" transform="rotate(158 612.2 306.1)" fill="#9c86bf" opacity="0.18"/>
<ellipse cx="664.0" cy="299.7" rx="2.3" ry="0.7" transform="rotate(95 664.0 299.7)" fill="#9c86bf" opacity="0.11"/>
<ellipse cx="617.0" cy="276.0" rx="1.6" ry="0.8" transform="rotate(15 617.0 276.0)" fill="#9c86bf" opacity="0.23"/>
<ellipse cx="653.5" cy="289.4" rx="2.5" ry="0.6" transform="rotate(117 653.5 289.4)" fill="#9c86bf" opacity="0.22"/>
<ellipse cx="670.3" cy="311.4" rx="2.1" ry="1.1" transform="rotate(8 670.3 311.4)" fill="#9c86bf" opacity="0.09"/>
<ellipse cx="632.1" cy="290.6" rx="2.1" ry="0.9" transform="rotate(163 632.1 290.6)" fill="#9c86bf" opacity="0.09"/>
<ellipse cx="643.5" cy="319.2" rx="1.9" ry="0.5" transform="rotate(76 643.5 319.2)" fill="#9c86bf" opacity="0.10"/>
<ellipse cx="609.9" cy="290.7" rx="1.3" ry="0.7" transform="rotate(157 609.9 290.7)" fill="#9c86bf" opacity="0.19"/>
<ellipse cx="655.0" cy="326.3" rx="2.1" ry="0.8" transform="rotate(133 655.0 326.3)" fill="#9c86bf" opacity="0.15"/>
<ellipse cx="626.6" cy="301.2" rx="2.0" ry="0.7" transform="rotate(145 626.6 301.2)" fill="#9c86bf" opacity="0.14"/>
<ellipse cx="660.3" cy="279.0" rx="1.9" ry="0.7" transform="rotate(35 660.3 279.0)" fill="#9c86bf" opacity="0.14"/>
<ellipse cx="656.0" cy="295.3" rx="2.7" ry="0.9" transform="rotate(36 656.0 295.3)" fill="#9c86bf" opacity="0.12"/>
<ellipse cx="669.9" cy="288.5" rx="2.7" ry="0.6" transform="rotate(18 669.9 288.5)" fill="#9c86bf" opacity="0.16"/>
<ellipse cx="654.7" cy="312.6" rx="1.3" ry="0.8" transform="rotate(121 654.7 312.6)" fill="#9c86bf" opacity="0.11"/>
<ellipse cx="632.9" cy="319.7" rx="2.8" ry="0.5" transform="rotate(161 632.9 319.7)" fill="#9c86bf" opacity="0.12"/>
<ellipse cx="655.3" cy="315.4" rx="2.4" ry="1.0" transform="rotate(128 655.3 315.4)" fill="#9c86bf" opacity="0.22"/>
<ellipse cx="659.1" cy="296.6" rx="2.6" ry="0.9" transform="rotate(49 659.1 296.6)" fill="#9c86bf" opacity="0.08"/>
<ellipse cx="671.2" cy="325.4" rx="2.4" ry="1.0" transform="rotate(158 671.2 325.4)" fill="#9c86bf" opacity="0.24"/>
<ellipse cx="655.2" cy="322.0" rx="2.0" ry="0.8" transform="rotate(154 655.2 322.0)" fill="#9c86bf" opacity="0.22"/>
<ellipse cx="680.9" cy="294.3" rx="2.5" ry="1.1" transform="rotate(138 680.9 294.3)" fill="#9c86bf" opacity="0.11"/>
<ellipse cx="626.3" cy="316.8" rx="2.0" ry="0.6" transform="rotate(162 626.3 316.8)" fill="#9c86bf" opacity="0.10"/>
<ellipse cx="611.9" cy="294.8" rx="1.6" ry="1.1" transform="rotate(59 611.9 294.8)" fill="#9c86bf" opacity="0.18"/>
<ellipse cx="677.7" cy="278.5" rx="1.3" ry="1.0" transform="rotate(164 677.7 278.5)" fill="#9c86bf" opacity="0.14"/>
<ellipse cx="678.6" cy="307.3" rx="2.2" ry="0.6" transform="rotate(138 678.6 307.3)" fill="#9c86bf" opacity="0.15"/>
<ellipse cx="620.6" cy="282.4" rx="1.5" ry="0.8" transform="rotate(19 620.6 282.4)" fill="#9c86bf" opacity="0.11"/>
<ellipse cx="667.0" cy="315.6" rx="2.5" ry="0.9" transform="rotate(111 667.0 315.6)" fill="#9c86bf" opacity="0.11"/>
<ellipse cx="667.9" cy="316.9" rx="2.1" ry="0.8" transform="rotate(11 667.9 316.9)" fill="#9c86bf" opacity="0.09"/>
<ellipse cx="635.5" cy="322.3" rx="1.7" ry="1.1" transform="rotate(169 635.5 322.3)" fill="#9c86bf" opacity="0.13"/>
<ellipse cx="643.9" cy="318.8" rx="2.2" ry="0.9" transform="rotate(46 643.9 318.8)" fill="#9c86bf" opacity="0.10"/>
<ellipse cx="650.8" cy="302.3" rx="2.3" ry="0.6" transform="rotate(83 650.8 302.3)" fill="#9c86bf" opacity="0.11"/>
<ellipse cx="659.6" cy="309.1" rx="1.6" ry="0.6" transform="rotate(11 659.6 309.1)" fill="#9c86bf" opacity="0.08"/>
<ellipse cx="680.2" cy="312.5" rx="1.8" ry="1.0" transform="rotate(23 680.2 312.5)" fill="#9c86bf" opacity="0.25"/>
<ellipse cx="624.2" cy="307.8" rx="2.1" ry="0.8" transform="rotate(36 624.2 307.8)" fill="#9c86bf" opacity="0.17"/>
<ellipse cx="682.5" cy="313.0" rx="2.2" ry="1.1" transform="rotate(42 682.5 313.0)" fill="#9c86bf" opacity="0.09"/>
<ellipse cx="625.9" cy="290.8" rx="2.1" ry="1.0" transform="rotate(126 625.9 290.8)" fill="#9c86bf" opacity="0.20"/>
<ellipse cx="656.7" cy="302.7" rx="1.4" ry="0.8" transform="rotate(31 656.7 302.7)" fill="#9c86bf" opacity="0.11"/>
<ellipse cx="649.3" cy="284.0" rx="1.9" ry="0.9" transform="rotate(45 649.3 284.0)" fill="#9c86bf" opacity="0.24"/>
<ellipse cx="645.4" cy="277.4" rx="1.3" ry="0.6" transform="rotate(107 645.4 277.4)" fill="#9c86bf" opacity="0.21"/>
<ellipse cx="620.7" cy="291.6" rx="2.6" ry="1.0" transform="rotate(131 620.7 291.6)" fill="#9c86bf" opacity="0.19"/>
<ellipse cx="682.3" cy="313.9" rx="1.4" ry="0.8" transform="rotate(174 682.3 313.9)" fill="#9c86bf" opacity="0.12"/>
<ellipse cx="672.6" cy="314.2" rx="2.2" ry="0.5" transform="rotate(1 672.6 314.2)" fill="#9c86bf" opacity="0.19"/>
<ellipse cx="668.8" cy="301.7" rx="1.4" ry="1.1" transform="rotate(104 668.8 301.7)" fill="#9c86bf" opacity="0.12"/>
<ellipse cx="667.4" cy="307.9" rx="2.3" ry="0.7" transform="rotate(53 667.4 307.9)" fill="#9c86bf" opacity="0.14"/>
<ellipse cx="658.9" cy="307.5" rx="1.7" ry="0.6" transform="rotate(63 658.9 307.5)" fill="#9c86bf" opacity="0.17"/>
<ellipse cx="617.4" cy="284.6" rx="2.6" ry="0.7" transform="rotate(74 617.4 284.6)" fill="#9c86bf" opacity="0.09"/>
<ellipse cx="648.4" cy="283.6" rx="1.1" ry="0.8" transform="rotate(86 648.4 283.6)" fill="#9c86bf" opacity="0.18"/>
<ellipse cx="638.6" cy="287.5" rx="2.6" ry="1.0" transform="rotate(22 638.6 287.5)" fill="#9c86bf" opacity="0.23"/>
<ellipse cx="662.2" cy="320.5" rx="2.0" ry="0.6" transform="rotate(157 662.2 320.5)" fill="#9c86bf" opacity="0.20"/>
<ellipse cx="626.3" cy="290.6" rx="1.4" ry="0.7" transform="rotate(178 626.3 290.6)" fill="#9c86bf" opacity="0.15"/>
<ellipse cx="647.1" cy="318.9" rx="1.8" ry="0.7" transform="rotate(87 647.1 318.9)" fill="#9c86bf" opacity="0.14"/>
<ellipse cx="629.9" cy="307.0" rx="1.0" ry="0.6" transform="rotate(11 629.9 307.0)" fill="#9c86bf" opacity="0.13"/>
<ellipse cx="644.5" cy="285.4" rx="1.1" ry="0.9" transform="rotate(177 644.5 285.4)" fill="#9c86bf" opacity="0.10"/>
<ellipse cx="640.6" cy="286.4" rx="2.0" ry="0.8" transform="rotate(150 640.6 286.4)" fill="#9c86bf" opacity="0.10"/>
<ellipse cx="643.1" cy="280.6" rx="2.1" ry="0.6" transform="rotate(114 643.1 280.6)" fill="#9c86bf" opacity="0.18"/>
<ellipse cx="629.6" cy="324.9" rx="2.5" ry="1.1" transform="rotate(132 629.6 324.9)" fill="#9c86bf" opacity="0.12"/>
<ellipse cx="638.3" cy="301.5" rx="2.4" ry="0.8" transform="rotate(170 638.3 301.5)" fill="#9c86bf" opacity="0.17"/>
<ellipse cx="610.1" cy="319.9" rx="2.2" ry="1.1" transform="rotate(139 610.1 319.9)" fill="#9c86bf" opacity="0.16"/>
<ellipse cx="644.7" cy="282.9" rx="1.9" ry="1.0" transform="rotate(74 644.7 282.9)" fill="#9c86bf" opacity="0.15"/>
<ellipse cx="680.5" cy="285.0" rx="1.2" ry="0.5" transform="rotate(119 680.5 285.0)" fill="#9c86bf" opacity="0.19"/>
<ellipse cx="674.5" cy="306.6" rx="2.8" ry="0.5" transform="rotate(30 674.5 306.6)" fill="#9c86bf" opacity="0.21"/>
<ellipse cx="635.4" cy="315.2" rx="1.2" ry="0.6" transform="rotate(30 635.4 315.2)" fill="#9c86bf" opacity="0.12"/>
<ellipse cx="623.0" cy="289.6" rx="2.1" ry="1.1" transform="rotate(146 623.0 289.6)" fill="#9c86bf" opacity="0.23"/>
<ellipse cx="610.8" cy="291.4" rx="2.0" ry="1.0" transform="rotate(172 610.8 291.4)" fill="#9c86bf" opacity="0.09"/>
<ellipse cx="656.3" cy="300.2" rx="2.3" ry="0.7" transform="rotate(15 656.3 300.2)" fill="#9c86bf" opacity="0.12"/>
<ellipse cx="681.3" cy="284.7" rx="2.8" ry="1.1" transform="rotate(87 681.3 284.7)" fill="#9c86bf" opacity="0.10"/>
<ellipse cx="676.5" cy="293.9" rx="1.4" ry="0.5" transform="rotate(67 676.5 293.9)" fill="#9c86bf" opacity="0.22"/>
<ellipse cx="674.6" cy="282.1" rx="2.3" ry="0.6" transform="rotate(140 674.6 282.1)" fill="#9c86bf" opacity="0.12"/>
<ellipse cx="675.8" cy="284.0" rx="1.4" ry="0.5" transform="rotate(60 675.8 284.0)" fill="#9c86bf" opacity="0.24"/>
<ellipse cx="660.2" cy="307.4" rx="1.8" ry="1.1" transform="rotate(76 660.2 307.4)" fill="#9c86bf" opacity="0.23"/>
<ellipse cx="621.1" cy="304.9" rx="1.7" ry="1.0" transform="rotate(26 621.1 304.9)" fill="#9c86bf" opacity="0.09"/>
<ellipse cx="661.1" cy="278.0" rx="1.5" ry="1.0" transform="rotate(143 661.1 278.0)" fill="#9c86bf" opacity="0.21"/>
<ellipse cx="627.2" cy="325.6" rx="1.5" ry="1.0" transform="rotate(134 627.2 325.6)" fill="#9c86bf" opacity="0.09"/>
<ellipse cx="631.1" cy="302.6" rx="2.8" ry="0.7" transform="rotate(54 631.1 302.6)" fill="#9c86bf" opacity="0.24"/>
<ellipse cx="681.6" cy="279.9" rx="2.6" ry="0.9" transform="rotate(94 681.6 279.9)" fill="#9c86bf" opacity="0.15"/>
<ellipse cx="632.8" cy="289.7" rx="1.5" ry="0.5" transform="rotate(11 632.8 289.7)" fill="#9c86bf" opacity="0.12"/>
<ellipse cx="619.4" cy="301.0" rx="1.3" ry="0.7" transform="rotate(54 619.4 301.0)" fill="#9c86bf" opacity="0.11"/>
<ellipse cx="644.0" cy="313.0" rx="1.5" ry="0.7" transform="rotate(54 644.0 313.0)" fill="#9c86bf" opacity="0.15"/>
<ellipse cx="623.7" cy="285.2" rx="1.7" ry="0.7" transform="rotate(137 623.7 285.2)" fill="#9c86bf" opacity="0.15"/>
<ellipse cx="670.3" cy="285.9" rx="2.2" ry="0.7" transform="rotate(25 670.3 285.9)" fill="#9c86bf" opacity="0.18"/>
<ellipse cx="633.1" cy="299.6" rx="2.4" ry="0.7" transform="rotate(107 633.1 299.6)" fill="#9c86bf" opacity="0.24"/>
<ellipse cx="675.6" cy="278.3" rx="2.3" ry="0.9" transform="rotate(153 675.6 278.3)" fill="#9c86bf" opacity="0.21"/>
<ellipse cx="614.2" cy="323.1" rx="2.0" ry="1.1" transform="rotate(165 614.2 323.1)" fill="#9c86bf" opacity="0.12"/>
<ellipse cx="615.4" cy="279.5" rx="2.6" ry="0.7" transform="rotate(45 615.4 279.5)" fill="#9c86bf" opacity="0.10"/>
<ellipse cx="624.4" cy="307.6" rx="1.4" ry="0.9" transform="rotate(130 624.4 307.6)" fill="#9c86bf" opacity="0.11"/>
<ellipse cx="629.0" cy="292.9" rx="1.9" ry="0.8" transform="rotate(100 629.0 292.9)" fill="#9c86bf" opacity="0.20"/>
<ellipse cx="645.5" cy="298.6" rx="1.9" ry="0.8" transform="rotate(11 645.5 298.6)" fill="#9c86bf" opacity="0.21"/>
<ellipse cx="633.1" cy="324.8" rx="2.1" ry="0.6" transform="rotate(178 633.1 324.8)" fill="#9c86bf" opacity="0.24"/>
<ellipse cx="652.8" cy="275.6" rx="2.9" ry="1.1" transform="rotate(79 652.8 275.6)" fill="#9c86bf" opacity="0.17"/>
<ellipse cx="674.4" cy="277.0" rx="1.3" ry="0.5" transform="rotate(135 674.4 277.0)" fill="#9c86bf" opacity="0.11"/>
<ellipse cx="678.9" cy="290.5" rx="1.5" ry="1.1" transform="rotate(81 678.9 290.5)" fill="#9c86bf" opacity="0.11"/>
<ellipse cx="658.1" cy="299.1" rx="2.2" ry="0.6" transform="rotate(85 658.1 299.1)" fill="#9c86bf" opacity="0.11"/>
<ellipse cx="622.4" cy="285.1" rx="2.6" ry="0.6" transform="rotate(16 622.4 285.1)" fill="#9c86bf" opacity="0.13"/>
<ellipse cx="638.6" cy="310.9" rx="2.4" ry="0.8" transform="rotate(96 638.6 310.9)" fill="#9c86bf" opacity="0.17"/>
<ellipse cx="642.9" cy="286.1" rx="1.1" ry="0.7" transform="rotate(121 642.9 286.1)" fill="#9c86bf" opacity="0.09"/>
<ellipse cx="634.6" cy="326.0" rx="1.8" ry="0.6" transform="rotate(100 634.6 326.0)" fill="#9c86bf" opacity="0.09"/>
<ellipse cx="621.3" cy="302.7" rx="2.2" ry="0.7" transform="rotate(73 621.3 302.7)" fill="#9c86bf" opacity="0.11"/>
<ellipse cx="615.3" cy="298.4" rx="2.4" ry="0.6" transform="rotate(131 615.3 298.4)" fill="#9c86bf" opacity="0.22"/>
<ellipse cx="678.8" cy="282.5" rx="2.8" ry="0.5" transform="rotate(96 678.8 282.5)" fill="#9c86bf" opacity="0.20"/>
<ellipse cx="642.6" cy="288.6" rx="2.2" ry="0.5" transform="rotate(34 642.6 288.6)" fill="#9c86bf" opacity="0.22"/>
<ellipse cx="634.9" cy="299.1" rx="2.6" ry="0.8" transform="rotate(86 634.9 299.1)" fill="#9c86bf" opacity="0.24"/>
<ellipse cx="648.8" cy="300.0" rx="1.8" ry="0.8" transform="rotate(24 648.8 300.0)" fill="#9c86bf" opacity="0.25"/>
<ellipse cx="614.1" cy="284.7" rx="2.6" ry="0.9" transform="rotate(179 614.1 284.7)" fill="#9c86bf" opacity="0.20"/>
<ellipse cx="671.2" cy="294.1" rx="2.5" ry="0.8" transform="rotate(1 671.2 294.1)" fill="#9c86bf" opacity="0.13"/>
<ellipse cx="642.1" cy="320.2" rx="2.7" ry="1.1" transform="rotate(87 642.1 320.2)" fill="#9c86bf" opacity="0.18"/>
<ellipse cx="672.6" cy="285.2" rx="1.2" ry="0.7" transform="rotate(106 672.6 285.2)" fill="#9c86bf" opacity="0.13"/>
<ellipse cx="618.7" cy="301.6" rx="2.0" ry="1.1" transform="rotate(170 618.7 301.6)" fill="#9c86bf" opacity="0.24"/>
<ellipse cx="613.2" cy="281.5" rx="1.8" ry="0.5" transform="rotate(79 613.2 281.5)" fill="#9c86bf" opacity="0.15"/>
<ellipse cx="677.2" cy="323.5" rx="2.7" ry="0.7" transform="rotate(37 677.2 323.5)" fill="#9c86bf" opacity="0.16"/>
<ellipse cx="656.7" cy="277.1" rx="1.2" ry="0.6" transform="rotate(71 656.7 277.1)" fill="#9c86bf" opacity="0.13"/>
<ellipse cx="656.6" cy="310.2" rx="1.5" ry="0.5" transform="rotate(100 656.6 310.2)" fill="#9c86bf" opacity="0.18"/>
<ellipse cx="669.0" cy="289.1" rx="1.6" ry="0.9" transform="rotate(13 669.0 289.1)" fill="#9c86bf" opacity="0.13"/>
<ellipse cx="655.2" cy="302.8" rx="2.6" ry="0.7" transform="rotate(70 655.2 302.8)" fill="#9c86bf" opacity="0.10"/>
<ellipse cx="675.4" cy="321.4" rx="1.1" ry="1.1" transform="rotate(99 675.4 321.4)" fill="#9c86bf" opacity="0.14"/>
<ellipse cx="638.0" cy="282.8" rx="2.1" ry="0.8" transform="rotate(124 638.0 282.8)" fill="#9c86bf" opacity="0.14"/>
<ellipse cx="615.2" cy="315.0" rx="1.9" ry="0.9" transform="rotate(139 615.2 315.0)" fill="#9c86bf" opacity="0.14"/>
<ellipse cx="678.8" cy="314.2" rx="2.6" ry="0.8" transform="rotate(67 678.8 314.2)" fill="#9c86bf" opacity="0.11"/>
<ellipse cx="670.0" cy="319.6" rx="2.1" ry="1.0" transform="rotate(87 670.0 319.6)" fill="#9c86bf" opacity="0.24"/>
<ellipse cx="615.7" cy="323.1" rx="2.4" ry="0.5" transform="rotate(129 615.7 323.1)" fill="#9c86bf" opacity="0.19"/>
<ellipse cx="669.1" cy="283.8" rx="1.3" ry="0.8" transform="rotate(107 669.1 283.8)" fill="#9c86bf" opacity="0.15"/>
<ellipse cx="679.0" cy="297.1" rx="1.7" ry="0.7" transform="rotate(60 679.0 297.1)" fill="#9c86bf" opacity="0.22"/>
<ellipse cx="667.9" cy="278.6" rx="1.3" ry="0.7" transform="rotate(76 667.9 278.6)" fill="#9c86bf" opacity="0.11"/>
<ellipse cx="646.3" cy="299.3" rx="2.6" ry="0.8" transform="rotate(8 646.3 299.3)" fill="#9c86bf" opacity="0.09"/>
<ellipse cx="672.9" cy="322.8" rx="2.2" ry="0.9" transform="rotate(50 672.9 322.8)" fill="#9c86bf" opacity="0.18"/>
<ellipse cx="611.6" cy="322.5" rx="2.2" ry="1.1" transform="rotate(120 611.6 322.5)" fill="#9c86bf" opacity="0.24"/>
<ellipse cx="674.9" cy="296.6" rx="1.4" ry="1.0" transform="rotate(27 674.9 296.6)" fill="#9c86bf" opacity="0.10"/>
<ellipse cx="647.9" cy="319.9" rx="2.5" ry="1.0" transform="rotate(164 647.9 319.9)" fill="#9c86bf" opacity="0.23"/>
<ellipse cx="619.0" cy="295.5" rx="1.6" ry="0.9" transform="rotate(75 619.0 295.5)" fill="#9c86bf" opacity="0.14"/>
<ellipse cx="655.5" cy="276.3" rx="2.0" ry="1.0" transform="rotate(23 655.5 276.3)" fill="#9c86bf" opacity="0.10"/>
<ellipse cx="661.1" cy="309.7" rx="1.8" ry="1.1" transform="rotate(143 661.1 309.7)" fill="#9c86bf" opacity="0.11"/>
<ellipse cx="657.3" cy="298.6" rx="2.3" ry="0.6" transform="rotate(110 657.3 298.6)" fill="#9c86bf" opacity="0.24"/>
<ellipse cx="667.9" cy="281.5" rx="1.6" ry="0.5" transform="rotate(127 667.9 281.5)" fill="#9c86bf" opacity="0.22"/>
<ellipse cx="651.4" cy="277.8" rx="1.3" ry="1.0" transform="rotate(102 651.4 277.8)" fill="#9c86bf" opacity="0.15"/>
<ellipse cx="623.1" cy="292.1" rx="2.1" ry="1.1" transform="rotate(66 623.1 292.1)" fill="#9c86bf" opacity="0.09"/>
<ellipse cx="664.2" cy="280.6" rx="1.6" ry="1.1" transform="rotate(162 664.2 280.6)" fill="#9c86bf" opacity="0.09"/>
<ellipse cx="656.4" cy="293.9" rx="1.8" ry="1.0" transform="rotate(29 656.4 293.9)" fill="#9c86bf" opacity="0.14"/>
<ellipse cx="613.6" cy="309.5" rx="1.6" ry="0.5" transform="rotate(4 613.6 309.5)" fill="#9c86bf" opacity="0.19"/>
<ellipse cx="639.1" cy="304.9" rx="1.8" ry="0.5" transform="rotate(99 639.1 304.9)" fill="#9c86bf" opacity="0.16"/>
<ellipse cx="629.4" cy="290.3" rx="1.2" ry="1.0" transform="rotate(143 629.4 290.3)" fill="#9c86bf" opacity="0.16"/>
<ellipse cx="647.5" cy="290.0" rx="1.7" ry="0.9" transform="rotate(156 647.5 290.0)" fill="#9c86bf" opacity="0.10"/>
<ellipse cx="683.2" cy="290.0" rx="2.4" ry="0.9" transform="rotate(55 683.2 290.0)" fill="#9c86bf" opacity="0.22"/>
<ellipse cx="678.0" cy="308.1" rx="2.4" ry="1.1" transform="rotate(156 678.0 308.1)" fill="#9c86bf" opacity="0.10"/>
<ellipse cx="612.2" cy="282.6" rx="1.3" ry="0.5" transform="rotate(97 612.2 282.6)" fill="#9c86bf" opacity="0.15"/>
<ellipse cx="616.9" cy="283.3" rx="1.5" ry="1.1" transform="rotate(113 616.9 283.3)" fill="#9c86bf" opacity="0.20"/>
<ellipse cx="676.8" cy="324.9" rx="1.5" ry="1.1" transform="rotate(110 676.8 324.9)" fill="#9c86bf" opacity="0.21"/>
<ellipse cx="622.8" cy="308.5" rx="2.2" ry="1.0" transform="rotate(29 622.8 308.5)" fill="#9c86bf" opacity="0.09"/>
<ellipse cx="643.5" cy="323.3" rx="1.6" ry="1.1" transform="rotate(40 643.5 323.3)" fill="#9c86bf" opacity="0.18"/>
<ellipse cx="660.6" cy="288.5" rx="1.5" ry="0.7" transform="rotate(168 660.6 288.5)" fill="#9c86bf" opacity="0.21"/>
<ellipse cx="623.6" cy="318.9" rx="1.2" ry="1.0" transform="rotate(126 623.6 318.9)" fill="#9c86bf" opacity="0.10"/>
<ellipse cx="630.6" cy="326.1" rx="2.8" ry="0.6" transform="rotate(137 630.6 326.1)" fill="#9c86bf" opacity="0.14"/>
<ellipse cx="646.0" cy="319.3" rx="1.4" ry="0.7" transform="rotate(173 646.0 319.3)" fill="#9c86bf" opacity="0.12"/>
<ellipse cx="632.5" cy="316.1" rx="2.6" ry="1.0" transform="rotate(5 632.5 316.1)" fill="#9c86bf" opacity="0.10"/>
<ellipse cx="671.2" cy="300.5" rx="1.9" ry="0.8" transform="rotate(168 671.2 300.5)" fill="#9c86bf" opacity="0.13"/>
<ellipse cx="649.8" cy="320.8" rx="2.3" ry="1.1" transform="rotate(24 649.8 320.8)" fill="#9c86bf" opacity="0.11"/>
<ellipse cx="609.5" cy="288.6" rx="2.1" ry="0.6" transform="rotate(174 609.5 288.6)" fill="#9c86bf" opacity="0.17"/>
<ellipse cx="674.8" cy="312.1" rx="1.4" ry="0.9" transform="rotate(176 674.8 312.1)" fill="#9c86bf" opacity="0.21"/>
</g>
<rect x="609.4" y="275.6" width="74.10000000000002" height="50.799999999999955" filter="url(#noise)" opacity="0.25"/>
</g>
<rect x="609.9499999999999" y="276.15000000000003" width="73.00000000000003" height="49.69999999999995" fill="none" stroke="#747474" stroke-width="1.2"/>
<text x="414.5" y="161.7" font-size="9.05" text-anchor="middle" font-weight="normal" fill="#0d0d0d" stroke="#0d0d0d" stroke-width="0.2" >Ki67</text>
<text x="564.5" y="161.5" font-size="9.05" text-anchor="middle" font-weight="normal" fill="#0d0d0d" stroke="#0d0d0d" stroke-width="0.2" >ROR&#947;</text>
<text transform="translate(376.6,197.7) rotate(-90)" font-size="9.05" text-anchor="middle" fill="#0d0d0d" stroke="#0d0d0d" stroke-width="0.2">Vehicle</text>
<text transform="translate(376.6,248.0) rotate(-90)" font-size="9.05" text-anchor="middle" fill="#0d0d0d" stroke="#0d0d0d" stroke-width="0.2">XY101</text>
<text transform="translate(376.6,299.2) rotate(-90)" font-size="9.05" text-anchor="middle" fill="#0d0d0d" stroke="#0d0d0d" stroke-width="0.2">GSK805</text>
<text x="384.2" y="317.1" font-size="6.8" text-anchor="start" font-weight="normal" fill="#111" stroke="#111" stroke-width="0.2" >200 &#956;m</text>
<rect x="384.7" y="322.5" width="12.3" height="1.7" fill="#111"/>
</svg>
</body></html>
